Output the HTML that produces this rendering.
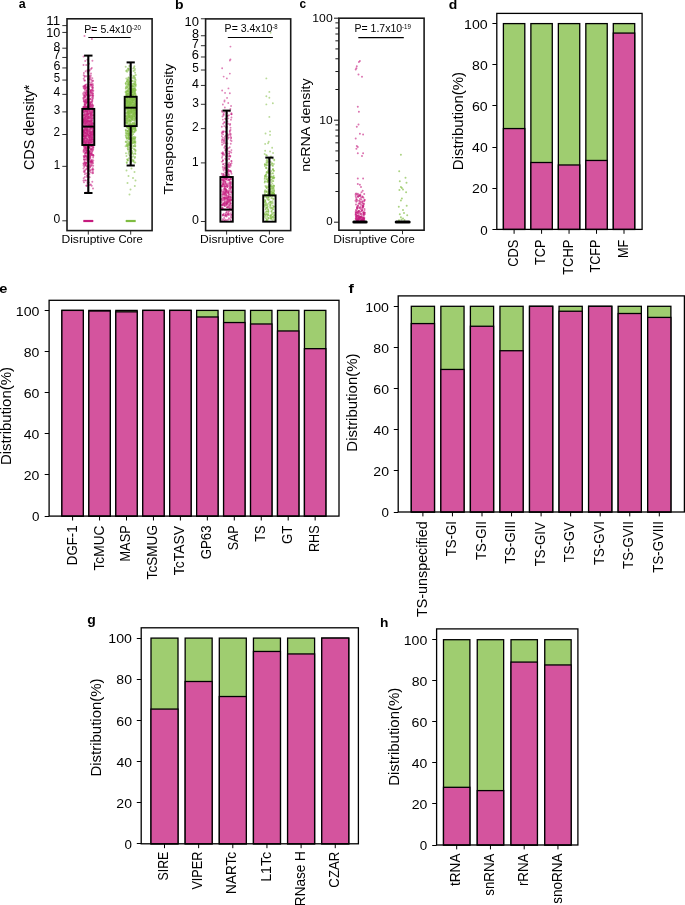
<!DOCTYPE html>
<html><head><meta charset="utf-8"><style>
html,body{margin:0;padding:0;background:#fff;width:685px;height:905px;overflow:hidden}
svg{display:block;will-change:transform}
text{font-family:"Liberation Sans",sans-serif}
</style></head><body>
<svg width="685" height="905" viewBox="0 0 685 905">
<rect width="685" height="905" fill="#fff"/>
<path d="M83.6 127.3a1.0 1.0 0 1 0 2.0 0a1.0 1.0 0 1 0 -2.0 0M88.5 142.1a1.0 1.0 0 1 0 2.0 0a1.0 1.0 0 1 0 -2.0 0M89.8 145.2a1.0 1.0 0 1 0 2.0 0a1.0 1.0 0 1 0 -2.0 0M85.3 122.3a1.0 1.0 0 1 0 2.0 0a1.0 1.0 0 1 0 -2.0 0M89.8 75.4a1.0 1.0 0 1 0 2.0 0a1.0 1.0 0 1 0 -2.0 0M89.5 151.1a1.0 1.0 0 1 0 2.0 0a1.0 1.0 0 1 0 -2.0 0M87.8 141.4a1.0 1.0 0 1 0 2.0 0a1.0 1.0 0 1 0 -2.0 0M85.4 156.7a1.0 1.0 0 1 0 2.0 0a1.0 1.0 0 1 0 -2.0 0M83.2 141.0a1.0 1.0 0 1 0 2.0 0a1.0 1.0 0 1 0 -2.0 0M85.1 152.8a1.0 1.0 0 1 0 2.0 0a1.0 1.0 0 1 0 -2.0 0M82.8 119.8a1.0 1.0 0 1 0 2.0 0a1.0 1.0 0 1 0 -2.0 0M88.3 142.9a1.0 1.0 0 1 0 2.0 0a1.0 1.0 0 1 0 -2.0 0M88.1 121.7a1.0 1.0 0 1 0 2.0 0a1.0 1.0 0 1 0 -2.0 0M86.8 139.2a1.0 1.0 0 1 0 2.0 0a1.0 1.0 0 1 0 -2.0 0M89.3 162.3a1.0 1.0 0 1 0 2.0 0a1.0 1.0 0 1 0 -2.0 0M86.5 182.2a1.0 1.0 0 1 0 2.0 0a1.0 1.0 0 1 0 -2.0 0M85.2 106.6a1.0 1.0 0 1 0 2.0 0a1.0 1.0 0 1 0 -2.0 0M89.8 134.9a1.0 1.0 0 1 0 2.0 0a1.0 1.0 0 1 0 -2.0 0M82.5 121.3a1.0 1.0 0 1 0 2.0 0a1.0 1.0 0 1 0 -2.0 0M86.9 114.2a1.0 1.0 0 1 0 2.0 0a1.0 1.0 0 1 0 -2.0 0M83.5 104.4a1.0 1.0 0 1 0 2.0 0a1.0 1.0 0 1 0 -2.0 0M87.7 151.7a1.0 1.0 0 1 0 2.0 0a1.0 1.0 0 1 0 -2.0 0M87.7 110.7a1.0 1.0 0 1 0 2.0 0a1.0 1.0 0 1 0 -2.0 0M84.8 123.4a1.0 1.0 0 1 0 2.0 0a1.0 1.0 0 1 0 -2.0 0M86.6 123.9a1.0 1.0 0 1 0 2.0 0a1.0 1.0 0 1 0 -2.0 0M88.6 156.3a1.0 1.0 0 1 0 2.0 0a1.0 1.0 0 1 0 -2.0 0M83.9 176.9a1.0 1.0 0 1 0 2.0 0a1.0 1.0 0 1 0 -2.0 0M90.3 141.3a1.0 1.0 0 1 0 2.0 0a1.0 1.0 0 1 0 -2.0 0M84.8 129.9a1.0 1.0 0 1 0 2.0 0a1.0 1.0 0 1 0 -2.0 0M87.9 129.0a1.0 1.0 0 1 0 2.0 0a1.0 1.0 0 1 0 -2.0 0M84.5 142.4a1.0 1.0 0 1 0 2.0 0a1.0 1.0 0 1 0 -2.0 0M86.9 111.4a1.0 1.0 0 1 0 2.0 0a1.0 1.0 0 1 0 -2.0 0M86.8 127.6a1.0 1.0 0 1 0 2.0 0a1.0 1.0 0 1 0 -2.0 0M90.4 139.6a1.0 1.0 0 1 0 2.0 0a1.0 1.0 0 1 0 -2.0 0M86.2 133.6a1.0 1.0 0 1 0 2.0 0a1.0 1.0 0 1 0 -2.0 0M86.8 101.4a1.0 1.0 0 1 0 2.0 0a1.0 1.0 0 1 0 -2.0 0M90.3 152.9a1.0 1.0 0 1 0 2.0 0a1.0 1.0 0 1 0 -2.0 0M82.5 64.9a1.0 1.0 0 1 0 2.0 0a1.0 1.0 0 1 0 -2.0 0M91.0 101.4a1.0 1.0 0 1 0 2.0 0a1.0 1.0 0 1 0 -2.0 0M89.8 75.7a1.0 1.0 0 1 0 2.0 0a1.0 1.0 0 1 0 -2.0 0M85.2 103.5a1.0 1.0 0 1 0 2.0 0a1.0 1.0 0 1 0 -2.0 0M88.4 174.0a1.0 1.0 0 1 0 2.0 0a1.0 1.0 0 1 0 -2.0 0M85.5 116.1a1.0 1.0 0 1 0 2.0 0a1.0 1.0 0 1 0 -2.0 0M89.6 161.2a1.0 1.0 0 1 0 2.0 0a1.0 1.0 0 1 0 -2.0 0M86.6 126.0a1.0 1.0 0 1 0 2.0 0a1.0 1.0 0 1 0 -2.0 0M83.0 114.9a1.0 1.0 0 1 0 2.0 0a1.0 1.0 0 1 0 -2.0 0M91.6 127.6a1.0 1.0 0 1 0 2.0 0a1.0 1.0 0 1 0 -2.0 0M91.5 141.3a1.0 1.0 0 1 0 2.0 0a1.0 1.0 0 1 0 -2.0 0M92.1 135.8a1.0 1.0 0 1 0 2.0 0a1.0 1.0 0 1 0 -2.0 0M85.2 163.1a1.0 1.0 0 1 0 2.0 0a1.0 1.0 0 1 0 -2.0 0M84.0 96.0a1.0 1.0 0 1 0 2.0 0a1.0 1.0 0 1 0 -2.0 0M91.3 78.3a1.0 1.0 0 1 0 2.0 0a1.0 1.0 0 1 0 -2.0 0M88.0 131.2a1.0 1.0 0 1 0 2.0 0a1.0 1.0 0 1 0 -2.0 0M87.0 130.0a1.0 1.0 0 1 0 2.0 0a1.0 1.0 0 1 0 -2.0 0M87.3 143.6a1.0 1.0 0 1 0 2.0 0a1.0 1.0 0 1 0 -2.0 0M90.7 125.3a1.0 1.0 0 1 0 2.0 0a1.0 1.0 0 1 0 -2.0 0M89.8 131.7a1.0 1.0 0 1 0 2.0 0a1.0 1.0 0 1 0 -2.0 0M85.6 142.0a1.0 1.0 0 1 0 2.0 0a1.0 1.0 0 1 0 -2.0 0M90.9 120.2a1.0 1.0 0 1 0 2.0 0a1.0 1.0 0 1 0 -2.0 0M90.8 68.1a1.0 1.0 0 1 0 2.0 0a1.0 1.0 0 1 0 -2.0 0M83.0 86.6a1.0 1.0 0 1 0 2.0 0a1.0 1.0 0 1 0 -2.0 0M87.2 135.1a1.0 1.0 0 1 0 2.0 0a1.0 1.0 0 1 0 -2.0 0M86.8 174.5a1.0 1.0 0 1 0 2.0 0a1.0 1.0 0 1 0 -2.0 0M88.4 129.7a1.0 1.0 0 1 0 2.0 0a1.0 1.0 0 1 0 -2.0 0M87.4 170.5a1.0 1.0 0 1 0 2.0 0a1.0 1.0 0 1 0 -2.0 0M82.2 136.5a1.0 1.0 0 1 0 2.0 0a1.0 1.0 0 1 0 -2.0 0M88.9 141.4a1.0 1.0 0 1 0 2.0 0a1.0 1.0 0 1 0 -2.0 0M82.7 125.3a1.0 1.0 0 1 0 2.0 0a1.0 1.0 0 1 0 -2.0 0M91.2 123.5a1.0 1.0 0 1 0 2.0 0a1.0 1.0 0 1 0 -2.0 0M86.9 125.4a1.0 1.0 0 1 0 2.0 0a1.0 1.0 0 1 0 -2.0 0M87.7 124.3a1.0 1.0 0 1 0 2.0 0a1.0 1.0 0 1 0 -2.0 0M86.7 113.3a1.0 1.0 0 1 0 2.0 0a1.0 1.0 0 1 0 -2.0 0M84.2 119.0a1.0 1.0 0 1 0 2.0 0a1.0 1.0 0 1 0 -2.0 0M90.5 130.4a1.0 1.0 0 1 0 2.0 0a1.0 1.0 0 1 0 -2.0 0M86.3 116.8a1.0 1.0 0 1 0 2.0 0a1.0 1.0 0 1 0 -2.0 0M82.2 142.2a1.0 1.0 0 1 0 2.0 0a1.0 1.0 0 1 0 -2.0 0M83.0 121.2a1.0 1.0 0 1 0 2.0 0a1.0 1.0 0 1 0 -2.0 0M86.3 146.3a1.0 1.0 0 1 0 2.0 0a1.0 1.0 0 1 0 -2.0 0M85.8 148.1a1.0 1.0 0 1 0 2.0 0a1.0 1.0 0 1 0 -2.0 0M85.7 115.3a1.0 1.0 0 1 0 2.0 0a1.0 1.0 0 1 0 -2.0 0M92.3 155.4a1.0 1.0 0 1 0 2.0 0a1.0 1.0 0 1 0 -2.0 0M87.0 132.3a1.0 1.0 0 1 0 2.0 0a1.0 1.0 0 1 0 -2.0 0M84.0 133.1a1.0 1.0 0 1 0 2.0 0a1.0 1.0 0 1 0 -2.0 0M83.1 106.6a1.0 1.0 0 1 0 2.0 0a1.0 1.0 0 1 0 -2.0 0M86.3 123.4a1.0 1.0 0 1 0 2.0 0a1.0 1.0 0 1 0 -2.0 0M84.0 105.7a1.0 1.0 0 1 0 2.0 0a1.0 1.0 0 1 0 -2.0 0M90.3 149.4a1.0 1.0 0 1 0 2.0 0a1.0 1.0 0 1 0 -2.0 0M82.8 131.5a1.0 1.0 0 1 0 2.0 0a1.0 1.0 0 1 0 -2.0 0M83.5 140.1a1.0 1.0 0 1 0 2.0 0a1.0 1.0 0 1 0 -2.0 0M86.4 130.5a1.0 1.0 0 1 0 2.0 0a1.0 1.0 0 1 0 -2.0 0M89.6 127.6a1.0 1.0 0 1 0 2.0 0a1.0 1.0 0 1 0 -2.0 0M86.9 116.6a1.0 1.0 0 1 0 2.0 0a1.0 1.0 0 1 0 -2.0 0M90.4 141.7a1.0 1.0 0 1 0 2.0 0a1.0 1.0 0 1 0 -2.0 0M85.7 94.3a1.0 1.0 0 1 0 2.0 0a1.0 1.0 0 1 0 -2.0 0M82.4 122.5a1.0 1.0 0 1 0 2.0 0a1.0 1.0 0 1 0 -2.0 0M85.0 147.6a1.0 1.0 0 1 0 2.0 0a1.0 1.0 0 1 0 -2.0 0M88.0 169.2a1.0 1.0 0 1 0 2.0 0a1.0 1.0 0 1 0 -2.0 0M91.2 139.7a1.0 1.0 0 1 0 2.0 0a1.0 1.0 0 1 0 -2.0 0M84.3 129.5a1.0 1.0 0 1 0 2.0 0a1.0 1.0 0 1 0 -2.0 0M89.6 135.9a1.0 1.0 0 1 0 2.0 0a1.0 1.0 0 1 0 -2.0 0M87.0 127.9a1.0 1.0 0 1 0 2.0 0a1.0 1.0 0 1 0 -2.0 0M83.5 161.9a1.0 1.0 0 1 0 2.0 0a1.0 1.0 0 1 0 -2.0 0M91.9 130.5a1.0 1.0 0 1 0 2.0 0a1.0 1.0 0 1 0 -2.0 0M91.3 123.2a1.0 1.0 0 1 0 2.0 0a1.0 1.0 0 1 0 -2.0 0M85.2 141.0a1.0 1.0 0 1 0 2.0 0a1.0 1.0 0 1 0 -2.0 0M84.0 123.7a1.0 1.0 0 1 0 2.0 0a1.0 1.0 0 1 0 -2.0 0M89.1 166.7a1.0 1.0 0 1 0 2.0 0a1.0 1.0 0 1 0 -2.0 0M86.5 159.7a1.0 1.0 0 1 0 2.0 0a1.0 1.0 0 1 0 -2.0 0M86.6 91.9a1.0 1.0 0 1 0 2.0 0a1.0 1.0 0 1 0 -2.0 0M88.5 97.0a1.0 1.0 0 1 0 2.0 0a1.0 1.0 0 1 0 -2.0 0M83.4 129.0a1.0 1.0 0 1 0 2.0 0a1.0 1.0 0 1 0 -2.0 0M89.9 115.9a1.0 1.0 0 1 0 2.0 0a1.0 1.0 0 1 0 -2.0 0M85.1 164.6a1.0 1.0 0 1 0 2.0 0a1.0 1.0 0 1 0 -2.0 0M90.5 118.1a1.0 1.0 0 1 0 2.0 0a1.0 1.0 0 1 0 -2.0 0M89.9 149.6a1.0 1.0 0 1 0 2.0 0a1.0 1.0 0 1 0 -2.0 0M86.4 182.9a1.0 1.0 0 1 0 2.0 0a1.0 1.0 0 1 0 -2.0 0M86.4 135.4a1.0 1.0 0 1 0 2.0 0a1.0 1.0 0 1 0 -2.0 0M90.2 107.3a1.0 1.0 0 1 0 2.0 0a1.0 1.0 0 1 0 -2.0 0M86.9 122.3a1.0 1.0 0 1 0 2.0 0a1.0 1.0 0 1 0 -2.0 0M87.5 159.6a1.0 1.0 0 1 0 2.0 0a1.0 1.0 0 1 0 -2.0 0M87.3 117.9a1.0 1.0 0 1 0 2.0 0a1.0 1.0 0 1 0 -2.0 0M88.0 121.7a1.0 1.0 0 1 0 2.0 0a1.0 1.0 0 1 0 -2.0 0M91.5 110.4a1.0 1.0 0 1 0 2.0 0a1.0 1.0 0 1 0 -2.0 0M86.2 113.9a1.0 1.0 0 1 0 2.0 0a1.0 1.0 0 1 0 -2.0 0M87.6 132.4a1.0 1.0 0 1 0 2.0 0a1.0 1.0 0 1 0 -2.0 0M87.6 132.5a1.0 1.0 0 1 0 2.0 0a1.0 1.0 0 1 0 -2.0 0M89.0 102.5a1.0 1.0 0 1 0 2.0 0a1.0 1.0 0 1 0 -2.0 0M84.4 145.5a1.0 1.0 0 1 0 2.0 0a1.0 1.0 0 1 0 -2.0 0M84.1 88.5a1.0 1.0 0 1 0 2.0 0a1.0 1.0 0 1 0 -2.0 0M92.3 160.6a1.0 1.0 0 1 0 2.0 0a1.0 1.0 0 1 0 -2.0 0M83.0 118.1a1.0 1.0 0 1 0 2.0 0a1.0 1.0 0 1 0 -2.0 0M90.2 89.7a1.0 1.0 0 1 0 2.0 0a1.0 1.0 0 1 0 -2.0 0M90.4 134.0a1.0 1.0 0 1 0 2.0 0a1.0 1.0 0 1 0 -2.0 0M83.2 145.7a1.0 1.0 0 1 0 2.0 0a1.0 1.0 0 1 0 -2.0 0M90.7 102.1a1.0 1.0 0 1 0 2.0 0a1.0 1.0 0 1 0 -2.0 0M83.1 140.3a1.0 1.0 0 1 0 2.0 0a1.0 1.0 0 1 0 -2.0 0M83.2 96.7a1.0 1.0 0 1 0 2.0 0a1.0 1.0 0 1 0 -2.0 0M89.8 133.6a1.0 1.0 0 1 0 2.0 0a1.0 1.0 0 1 0 -2.0 0M86.7 172.9a1.0 1.0 0 1 0 2.0 0a1.0 1.0 0 1 0 -2.0 0M82.9 119.7a1.0 1.0 0 1 0 2.0 0a1.0 1.0 0 1 0 -2.0 0M84.0 102.1a1.0 1.0 0 1 0 2.0 0a1.0 1.0 0 1 0 -2.0 0M88.0 152.0a1.0 1.0 0 1 0 2.0 0a1.0 1.0 0 1 0 -2.0 0M92.1 141.0a1.0 1.0 0 1 0 2.0 0a1.0 1.0 0 1 0 -2.0 0M85.0 133.7a1.0 1.0 0 1 0 2.0 0a1.0 1.0 0 1 0 -2.0 0M84.3 86.8a1.0 1.0 0 1 0 2.0 0a1.0 1.0 0 1 0 -2.0 0M88.4 125.1a1.0 1.0 0 1 0 2.0 0a1.0 1.0 0 1 0 -2.0 0M87.2 71.2a1.0 1.0 0 1 0 2.0 0a1.0 1.0 0 1 0 -2.0 0M84.2 169.9a1.0 1.0 0 1 0 2.0 0a1.0 1.0 0 1 0 -2.0 0M89.5 90.4a1.0 1.0 0 1 0 2.0 0a1.0 1.0 0 1 0 -2.0 0M84.1 163.1a1.0 1.0 0 1 0 2.0 0a1.0 1.0 0 1 0 -2.0 0M92.1 128.0a1.0 1.0 0 1 0 2.0 0a1.0 1.0 0 1 0 -2.0 0M86.9 87.8a1.0 1.0 0 1 0 2.0 0a1.0 1.0 0 1 0 -2.0 0M85.7 150.3a1.0 1.0 0 1 0 2.0 0a1.0 1.0 0 1 0 -2.0 0M83.5 88.9a1.0 1.0 0 1 0 2.0 0a1.0 1.0 0 1 0 -2.0 0M89.7 150.4a1.0 1.0 0 1 0 2.0 0a1.0 1.0 0 1 0 -2.0 0M86.6 106.4a1.0 1.0 0 1 0 2.0 0a1.0 1.0 0 1 0 -2.0 0M86.7 121.8a1.0 1.0 0 1 0 2.0 0a1.0 1.0 0 1 0 -2.0 0M88.5 106.7a1.0 1.0 0 1 0 2.0 0a1.0 1.0 0 1 0 -2.0 0M87.6 101.6a1.0 1.0 0 1 0 2.0 0a1.0 1.0 0 1 0 -2.0 0M83.6 157.2a1.0 1.0 0 1 0 2.0 0a1.0 1.0 0 1 0 -2.0 0M88.6 140.5a1.0 1.0 0 1 0 2.0 0a1.0 1.0 0 1 0 -2.0 0M83.7 138.4a1.0 1.0 0 1 0 2.0 0a1.0 1.0 0 1 0 -2.0 0M83.9 136.4a1.0 1.0 0 1 0 2.0 0a1.0 1.0 0 1 0 -2.0 0M85.7 124.5a1.0 1.0 0 1 0 2.0 0a1.0 1.0 0 1 0 -2.0 0M83.9 142.1a1.0 1.0 0 1 0 2.0 0a1.0 1.0 0 1 0 -2.0 0M89.1 124.9a1.0 1.0 0 1 0 2.0 0a1.0 1.0 0 1 0 -2.0 0M86.1 130.3a1.0 1.0 0 1 0 2.0 0a1.0 1.0 0 1 0 -2.0 0M92.2 165.8a1.0 1.0 0 1 0 2.0 0a1.0 1.0 0 1 0 -2.0 0M91.8 169.7a1.0 1.0 0 1 0 2.0 0a1.0 1.0 0 1 0 -2.0 0M90.2 142.5a1.0 1.0 0 1 0 2.0 0a1.0 1.0 0 1 0 -2.0 0M82.4 125.8a1.0 1.0 0 1 0 2.0 0a1.0 1.0 0 1 0 -2.0 0M92.1 137.3a1.0 1.0 0 1 0 2.0 0a1.0 1.0 0 1 0 -2.0 0M85.6 122.1a1.0 1.0 0 1 0 2.0 0a1.0 1.0 0 1 0 -2.0 0M88.7 177.2a1.0 1.0 0 1 0 2.0 0a1.0 1.0 0 1 0 -2.0 0M87.6 147.6a1.0 1.0 0 1 0 2.0 0a1.0 1.0 0 1 0 -2.0 0M86.1 111.9a1.0 1.0 0 1 0 2.0 0a1.0 1.0 0 1 0 -2.0 0M87.8 141.4a1.0 1.0 0 1 0 2.0 0a1.0 1.0 0 1 0 -2.0 0M87.8 121.8a1.0 1.0 0 1 0 2.0 0a1.0 1.0 0 1 0 -2.0 0M86.8 173.0a1.0 1.0 0 1 0 2.0 0a1.0 1.0 0 1 0 -2.0 0M88.5 133.1a1.0 1.0 0 1 0 2.0 0a1.0 1.0 0 1 0 -2.0 0M92.0 115.0a1.0 1.0 0 1 0 2.0 0a1.0 1.0 0 1 0 -2.0 0M89.4 127.2a1.0 1.0 0 1 0 2.0 0a1.0 1.0 0 1 0 -2.0 0M87.1 122.5a1.0 1.0 0 1 0 2.0 0a1.0 1.0 0 1 0 -2.0 0M91.6 98.9a1.0 1.0 0 1 0 2.0 0a1.0 1.0 0 1 0 -2.0 0M91.3 29.7a1.0 1.0 0 1 0 2.0 0a1.0 1.0 0 1 0 -2.0 0" fill="#c51b7d" fill-opacity="0.55"/>
<path d="M82.8 163.9a1.0 1.0 0 1 0 2.0 0a1.0 1.0 0 1 0 -2.0 0M90.2 124.9a1.0 1.0 0 1 0 2.0 0a1.0 1.0 0 1 0 -2.0 0M90.5 122.8a1.0 1.0 0 1 0 2.0 0a1.0 1.0 0 1 0 -2.0 0M83.6 145.3a1.0 1.0 0 1 0 2.0 0a1.0 1.0 0 1 0 -2.0 0M91.5 104.8a1.0 1.0 0 1 0 2.0 0a1.0 1.0 0 1 0 -2.0 0M84.8 120.2a1.0 1.0 0 1 0 2.0 0a1.0 1.0 0 1 0 -2.0 0M88.2 155.2a1.0 1.0 0 1 0 2.0 0a1.0 1.0 0 1 0 -2.0 0M85.7 92.3a1.0 1.0 0 1 0 2.0 0a1.0 1.0 0 1 0 -2.0 0M89.4 106.8a1.0 1.0 0 1 0 2.0 0a1.0 1.0 0 1 0 -2.0 0M89.8 91.1a1.0 1.0 0 1 0 2.0 0a1.0 1.0 0 1 0 -2.0 0M88.3 148.0a1.0 1.0 0 1 0 2.0 0a1.0 1.0 0 1 0 -2.0 0M84.3 123.6a1.0 1.0 0 1 0 2.0 0a1.0 1.0 0 1 0 -2.0 0M84.4 143.8a1.0 1.0 0 1 0 2.0 0a1.0 1.0 0 1 0 -2.0 0M89.5 123.9a1.0 1.0 0 1 0 2.0 0a1.0 1.0 0 1 0 -2.0 0M91.8 83.9a1.0 1.0 0 1 0 2.0 0a1.0 1.0 0 1 0 -2.0 0M89.3 79.2a1.0 1.0 0 1 0 2.0 0a1.0 1.0 0 1 0 -2.0 0M90.5 134.6a1.0 1.0 0 1 0 2.0 0a1.0 1.0 0 1 0 -2.0 0M91.0 123.9a1.0 1.0 0 1 0 2.0 0a1.0 1.0 0 1 0 -2.0 0M91.7 88.2a1.0 1.0 0 1 0 2.0 0a1.0 1.0 0 1 0 -2.0 0M83.4 88.0a1.0 1.0 0 1 0 2.0 0a1.0 1.0 0 1 0 -2.0 0M85.7 119.2a1.0 1.0 0 1 0 2.0 0a1.0 1.0 0 1 0 -2.0 0M84.8 115.3a1.0 1.0 0 1 0 2.0 0a1.0 1.0 0 1 0 -2.0 0M83.7 142.4a1.0 1.0 0 1 0 2.0 0a1.0 1.0 0 1 0 -2.0 0M86.1 107.9a1.0 1.0 0 1 0 2.0 0a1.0 1.0 0 1 0 -2.0 0M89.2 133.3a1.0 1.0 0 1 0 2.0 0a1.0 1.0 0 1 0 -2.0 0M87.8 142.3a1.0 1.0 0 1 0 2.0 0a1.0 1.0 0 1 0 -2.0 0M88.9 185.1a1.0 1.0 0 1 0 2.0 0a1.0 1.0 0 1 0 -2.0 0M86.5 132.0a1.0 1.0 0 1 0 2.0 0a1.0 1.0 0 1 0 -2.0 0M86.3 114.0a1.0 1.0 0 1 0 2.0 0a1.0 1.0 0 1 0 -2.0 0M90.1 114.5a1.0 1.0 0 1 0 2.0 0a1.0 1.0 0 1 0 -2.0 0M84.2 91.1a1.0 1.0 0 1 0 2.0 0a1.0 1.0 0 1 0 -2.0 0M82.5 134.4a1.0 1.0 0 1 0 2.0 0a1.0 1.0 0 1 0 -2.0 0M89.1 95.4a1.0 1.0 0 1 0 2.0 0a1.0 1.0 0 1 0 -2.0 0M86.7 141.4a1.0 1.0 0 1 0 2.0 0a1.0 1.0 0 1 0 -2.0 0M88.7 152.6a1.0 1.0 0 1 0 2.0 0a1.0 1.0 0 1 0 -2.0 0M84.5 148.2a1.0 1.0 0 1 0 2.0 0a1.0 1.0 0 1 0 -2.0 0M90.1 112.7a1.0 1.0 0 1 0 2.0 0a1.0 1.0 0 1 0 -2.0 0M91.4 131.7a1.0 1.0 0 1 0 2.0 0a1.0 1.0 0 1 0 -2.0 0M90.4 149.2a1.0 1.0 0 1 0 2.0 0a1.0 1.0 0 1 0 -2.0 0M82.6 130.5a1.0 1.0 0 1 0 2.0 0a1.0 1.0 0 1 0 -2.0 0M91.1 87.2a1.0 1.0 0 1 0 2.0 0a1.0 1.0 0 1 0 -2.0 0M85.8 115.3a1.0 1.0 0 1 0 2.0 0a1.0 1.0 0 1 0 -2.0 0M84.8 146.8a1.0 1.0 0 1 0 2.0 0a1.0 1.0 0 1 0 -2.0 0M83.4 136.6a1.0 1.0 0 1 0 2.0 0a1.0 1.0 0 1 0 -2.0 0M86.8 94.7a1.0 1.0 0 1 0 2.0 0a1.0 1.0 0 1 0 -2.0 0M88.2 75.9a1.0 1.0 0 1 0 2.0 0a1.0 1.0 0 1 0 -2.0 0M88.5 139.4a1.0 1.0 0 1 0 2.0 0a1.0 1.0 0 1 0 -2.0 0M82.7 98.3a1.0 1.0 0 1 0 2.0 0a1.0 1.0 0 1 0 -2.0 0M90.1 113.6a1.0 1.0 0 1 0 2.0 0a1.0 1.0 0 1 0 -2.0 0M88.9 112.8a1.0 1.0 0 1 0 2.0 0a1.0 1.0 0 1 0 -2.0 0M90.9 137.4a1.0 1.0 0 1 0 2.0 0a1.0 1.0 0 1 0 -2.0 0M87.0 95.9a1.0 1.0 0 1 0 2.0 0a1.0 1.0 0 1 0 -2.0 0M90.2 106.1a1.0 1.0 0 1 0 2.0 0a1.0 1.0 0 1 0 -2.0 0M88.5 106.3a1.0 1.0 0 1 0 2.0 0a1.0 1.0 0 1 0 -2.0 0M88.6 121.8a1.0 1.0 0 1 0 2.0 0a1.0 1.0 0 1 0 -2.0 0M88.9 135.8a1.0 1.0 0 1 0 2.0 0a1.0 1.0 0 1 0 -2.0 0M88.9 124.3a1.0 1.0 0 1 0 2.0 0a1.0 1.0 0 1 0 -2.0 0M89.7 120.7a1.0 1.0 0 1 0 2.0 0a1.0 1.0 0 1 0 -2.0 0M82.7 141.1a1.0 1.0 0 1 0 2.0 0a1.0 1.0 0 1 0 -2.0 0M90.3 142.1a1.0 1.0 0 1 0 2.0 0a1.0 1.0 0 1 0 -2.0 0M83.1 138.8a1.0 1.0 0 1 0 2.0 0a1.0 1.0 0 1 0 -2.0 0M90.4 126.0a1.0 1.0 0 1 0 2.0 0a1.0 1.0 0 1 0 -2.0 0M86.1 123.7a1.0 1.0 0 1 0 2.0 0a1.0 1.0 0 1 0 -2.0 0M86.2 133.5a1.0 1.0 0 1 0 2.0 0a1.0 1.0 0 1 0 -2.0 0M88.0 63.8a1.0 1.0 0 1 0 2.0 0a1.0 1.0 0 1 0 -2.0 0M86.3 169.5a1.0 1.0 0 1 0 2.0 0a1.0 1.0 0 1 0 -2.0 0M88.9 120.9a1.0 1.0 0 1 0 2.0 0a1.0 1.0 0 1 0 -2.0 0M91.5 112.3a1.0 1.0 0 1 0 2.0 0a1.0 1.0 0 1 0 -2.0 0M92.2 115.3a1.0 1.0 0 1 0 2.0 0a1.0 1.0 0 1 0 -2.0 0M83.9 88.8a1.0 1.0 0 1 0 2.0 0a1.0 1.0 0 1 0 -2.0 0M88.7 82.3a1.0 1.0 0 1 0 2.0 0a1.0 1.0 0 1 0 -2.0 0M89.1 121.7a1.0 1.0 0 1 0 2.0 0a1.0 1.0 0 1 0 -2.0 0M90.5 86.2a1.0 1.0 0 1 0 2.0 0a1.0 1.0 0 1 0 -2.0 0M90.0 155.3a1.0 1.0 0 1 0 2.0 0a1.0 1.0 0 1 0 -2.0 0M91.7 118.2a1.0 1.0 0 1 0 2.0 0a1.0 1.0 0 1 0 -2.0 0M88.6 76.3a1.0 1.0 0 1 0 2.0 0a1.0 1.0 0 1 0 -2.0 0M86.4 59.7a1.0 1.0 0 1 0 2.0 0a1.0 1.0 0 1 0 -2.0 0M87.6 85.3a1.0 1.0 0 1 0 2.0 0a1.0 1.0 0 1 0 -2.0 0M92.0 85.5a1.0 1.0 0 1 0 2.0 0a1.0 1.0 0 1 0 -2.0 0M84.6 71.2a1.0 1.0 0 1 0 2.0 0a1.0 1.0 0 1 0 -2.0 0M88.2 106.8a1.0 1.0 0 1 0 2.0 0a1.0 1.0 0 1 0 -2.0 0M87.4 115.9a1.0 1.0 0 1 0 2.0 0a1.0 1.0 0 1 0 -2.0 0M88.0 99.1a1.0 1.0 0 1 0 2.0 0a1.0 1.0 0 1 0 -2.0 0M91.2 146.7a1.0 1.0 0 1 0 2.0 0a1.0 1.0 0 1 0 -2.0 0M90.7 139.4a1.0 1.0 0 1 0 2.0 0a1.0 1.0 0 1 0 -2.0 0M89.5 122.0a1.0 1.0 0 1 0 2.0 0a1.0 1.0 0 1 0 -2.0 0M87.0 85.1a1.0 1.0 0 1 0 2.0 0a1.0 1.0 0 1 0 -2.0 0M85.0 125.8a1.0 1.0 0 1 0 2.0 0a1.0 1.0 0 1 0 -2.0 0M85.1 135.8a1.0 1.0 0 1 0 2.0 0a1.0 1.0 0 1 0 -2.0 0M85.6 90.6a1.0 1.0 0 1 0 2.0 0a1.0 1.0 0 1 0 -2.0 0M85.8 120.8a1.0 1.0 0 1 0 2.0 0a1.0 1.0 0 1 0 -2.0 0M82.3 110.2a1.0 1.0 0 1 0 2.0 0a1.0 1.0 0 1 0 -2.0 0M87.5 83.9a1.0 1.0 0 1 0 2.0 0a1.0 1.0 0 1 0 -2.0 0M86.8 102.0a1.0 1.0 0 1 0 2.0 0a1.0 1.0 0 1 0 -2.0 0M91.3 161.6a1.0 1.0 0 1 0 2.0 0a1.0 1.0 0 1 0 -2.0 0M92.2 95.8a1.0 1.0 0 1 0 2.0 0a1.0 1.0 0 1 0 -2.0 0M92.2 105.4a1.0 1.0 0 1 0 2.0 0a1.0 1.0 0 1 0 -2.0 0M88.5 79.0a1.0 1.0 0 1 0 2.0 0a1.0 1.0 0 1 0 -2.0 0M84.3 117.8a1.0 1.0 0 1 0 2.0 0a1.0 1.0 0 1 0 -2.0 0M84.6 88.6a1.0 1.0 0 1 0 2.0 0a1.0 1.0 0 1 0 -2.0 0M88.4 122.1a1.0 1.0 0 1 0 2.0 0a1.0 1.0 0 1 0 -2.0 0M82.4 151.0a1.0 1.0 0 1 0 2.0 0a1.0 1.0 0 1 0 -2.0 0M86.4 97.9a1.0 1.0 0 1 0 2.0 0a1.0 1.0 0 1 0 -2.0 0M82.9 121.4a1.0 1.0 0 1 0 2.0 0a1.0 1.0 0 1 0 -2.0 0M85.6 139.4a1.0 1.0 0 1 0 2.0 0a1.0 1.0 0 1 0 -2.0 0M86.8 109.0a1.0 1.0 0 1 0 2.0 0a1.0 1.0 0 1 0 -2.0 0M86.8 71.2a1.0 1.0 0 1 0 2.0 0a1.0 1.0 0 1 0 -2.0 0M84.9 120.5a1.0 1.0 0 1 0 2.0 0a1.0 1.0 0 1 0 -2.0 0M86.1 157.2a1.0 1.0 0 1 0 2.0 0a1.0 1.0 0 1 0 -2.0 0M92.2 149.7a1.0 1.0 0 1 0 2.0 0a1.0 1.0 0 1 0 -2.0 0M89.7 114.9a1.0 1.0 0 1 0 2.0 0a1.0 1.0 0 1 0 -2.0 0M85.2 145.1a1.0 1.0 0 1 0 2.0 0a1.0 1.0 0 1 0 -2.0 0M83.7 172.3a1.0 1.0 0 1 0 2.0 0a1.0 1.0 0 1 0 -2.0 0M92.3 169.4a1.0 1.0 0 1 0 2.0 0a1.0 1.0 0 1 0 -2.0 0M91.2 150.6a1.0 1.0 0 1 0 2.0 0a1.0 1.0 0 1 0 -2.0 0M90.8 126.7a1.0 1.0 0 1 0 2.0 0a1.0 1.0 0 1 0 -2.0 0M84.8 123.0a1.0 1.0 0 1 0 2.0 0a1.0 1.0 0 1 0 -2.0 0M86.5 111.2a1.0 1.0 0 1 0 2.0 0a1.0 1.0 0 1 0 -2.0 0M88.0 88.7a1.0 1.0 0 1 0 2.0 0a1.0 1.0 0 1 0 -2.0 0M84.2 164.7a1.0 1.0 0 1 0 2.0 0a1.0 1.0 0 1 0 -2.0 0M82.7 178.2a1.0 1.0 0 1 0 2.0 0a1.0 1.0 0 1 0 -2.0 0M89.9 112.8a1.0 1.0 0 1 0 2.0 0a1.0 1.0 0 1 0 -2.0 0M84.8 107.1a1.0 1.0 0 1 0 2.0 0a1.0 1.0 0 1 0 -2.0 0M89.2 153.1a1.0 1.0 0 1 0 2.0 0a1.0 1.0 0 1 0 -2.0 0M88.4 77.5a1.0 1.0 0 1 0 2.0 0a1.0 1.0 0 1 0 -2.0 0M84.3 127.6a1.0 1.0 0 1 0 2.0 0a1.0 1.0 0 1 0 -2.0 0M89.5 164.0a1.0 1.0 0 1 0 2.0 0a1.0 1.0 0 1 0 -2.0 0M86.3 106.7a1.0 1.0 0 1 0 2.0 0a1.0 1.0 0 1 0 -2.0 0M89.0 134.9a1.0 1.0 0 1 0 2.0 0a1.0 1.0 0 1 0 -2.0 0M88.3 158.5a1.0 1.0 0 1 0 2.0 0a1.0 1.0 0 1 0 -2.0 0M88.7 104.9a1.0 1.0 0 1 0 2.0 0a1.0 1.0 0 1 0 -2.0 0M86.9 176.5a1.0 1.0 0 1 0 2.0 0a1.0 1.0 0 1 0 -2.0 0M86.1 90.9a1.0 1.0 0 1 0 2.0 0a1.0 1.0 0 1 0 -2.0 0M92.3 133.6a1.0 1.0 0 1 0 2.0 0a1.0 1.0 0 1 0 -2.0 0M83.4 113.7a1.0 1.0 0 1 0 2.0 0a1.0 1.0 0 1 0 -2.0 0M83.5 139.1a1.0 1.0 0 1 0 2.0 0a1.0 1.0 0 1 0 -2.0 0M85.8 130.2a1.0 1.0 0 1 0 2.0 0a1.0 1.0 0 1 0 -2.0 0M87.7 155.1a1.0 1.0 0 1 0 2.0 0a1.0 1.0 0 1 0 -2.0 0M91.2 135.0a1.0 1.0 0 1 0 2.0 0a1.0 1.0 0 1 0 -2.0 0M92.1 80.8a1.0 1.0 0 1 0 2.0 0a1.0 1.0 0 1 0 -2.0 0M85.1 156.1a1.0 1.0 0 1 0 2.0 0a1.0 1.0 0 1 0 -2.0 0M89.3 133.1a1.0 1.0 0 1 0 2.0 0a1.0 1.0 0 1 0 -2.0 0M90.1 124.2a1.0 1.0 0 1 0 2.0 0a1.0 1.0 0 1 0 -2.0 0M90.3 134.3a1.0 1.0 0 1 0 2.0 0a1.0 1.0 0 1 0 -2.0 0M85.6 127.0a1.0 1.0 0 1 0 2.0 0a1.0 1.0 0 1 0 -2.0 0M88.6 165.3a1.0 1.0 0 1 0 2.0 0a1.0 1.0 0 1 0 -2.0 0M82.4 115.5a1.0 1.0 0 1 0 2.0 0a1.0 1.0 0 1 0 -2.0 0M84.9 149.9a1.0 1.0 0 1 0 2.0 0a1.0 1.0 0 1 0 -2.0 0M85.5 139.8a1.0 1.0 0 1 0 2.0 0a1.0 1.0 0 1 0 -2.0 0M82.8 99.8a1.0 1.0 0 1 0 2.0 0a1.0 1.0 0 1 0 -2.0 0M84.1 109.5a1.0 1.0 0 1 0 2.0 0a1.0 1.0 0 1 0 -2.0 0M87.7 70.4a1.0 1.0 0 1 0 2.0 0a1.0 1.0 0 1 0 -2.0 0M87.0 153.5a1.0 1.0 0 1 0 2.0 0a1.0 1.0 0 1 0 -2.0 0M89.0 151.2a1.0 1.0 0 1 0 2.0 0a1.0 1.0 0 1 0 -2.0 0M88.0 159.9a1.0 1.0 0 1 0 2.0 0a1.0 1.0 0 1 0 -2.0 0M89.6 127.8a1.0 1.0 0 1 0 2.0 0a1.0 1.0 0 1 0 -2.0 0M82.6 152.0a1.0 1.0 0 1 0 2.0 0a1.0 1.0 0 1 0 -2.0 0M90.5 161.7a1.0 1.0 0 1 0 2.0 0a1.0 1.0 0 1 0 -2.0 0M83.6 100.9a1.0 1.0 0 1 0 2.0 0a1.0 1.0 0 1 0 -2.0 0M92.3 123.4a1.0 1.0 0 1 0 2.0 0a1.0 1.0 0 1 0 -2.0 0M87.8 131.6a1.0 1.0 0 1 0 2.0 0a1.0 1.0 0 1 0 -2.0 0M90.6 137.7a1.0 1.0 0 1 0 2.0 0a1.0 1.0 0 1 0 -2.0 0M84.4 122.0a1.0 1.0 0 1 0 2.0 0a1.0 1.0 0 1 0 -2.0 0M85.6 119.5a1.0 1.0 0 1 0 2.0 0a1.0 1.0 0 1 0 -2.0 0M89.5 122.3a1.0 1.0 0 1 0 2.0 0a1.0 1.0 0 1 0 -2.0 0M87.8 80.3a1.0 1.0 0 1 0 2.0 0a1.0 1.0 0 1 0 -2.0 0M91.9 147.2a1.0 1.0 0 1 0 2.0 0a1.0 1.0 0 1 0 -2.0 0M91.5 124.9a1.0 1.0 0 1 0 2.0 0a1.0 1.0 0 1 0 -2.0 0M86.2 168.7a1.0 1.0 0 1 0 2.0 0a1.0 1.0 0 1 0 -2.0 0M85.5 140.4a1.0 1.0 0 1 0 2.0 0a1.0 1.0 0 1 0 -2.0 0M91.2 121.0a1.0 1.0 0 1 0 2.0 0a1.0 1.0 0 1 0 -2.0 0M86.9 123.2a1.0 1.0 0 1 0 2.0 0a1.0 1.0 0 1 0 -2.0 0M86.4 123.9a1.0 1.0 0 1 0 2.0 0a1.0 1.0 0 1 0 -2.0 0M90.5 84.5a1.0 1.0 0 1 0 2.0 0a1.0 1.0 0 1 0 -2.0 0M90.5 161.2a1.0 1.0 0 1 0 2.0 0a1.0 1.0 0 1 0 -2.0 0M87.0 134.3a1.0 1.0 0 1 0 2.0 0a1.0 1.0 0 1 0 -2.0 0M85.0 180.4a1.0 1.0 0 1 0 2.0 0a1.0 1.0 0 1 0 -2.0 0M84.1 90.2a1.0 1.0 0 1 0 2.0 0a1.0 1.0 0 1 0 -2.0 0M85.7 145.6a1.0 1.0 0 1 0 2.0 0a1.0 1.0 0 1 0 -2.0 0M86.5 117.2a1.0 1.0 0 1 0 2.0 0a1.0 1.0 0 1 0 -2.0 0M91.8 109.0a1.0 1.0 0 1 0 2.0 0a1.0 1.0 0 1 0 -2.0 0M85.0 102.1a1.0 1.0 0 1 0 2.0 0a1.0 1.0 0 1 0 -2.0 0M89.2 91.4a1.0 1.0 0 1 0 2.0 0a1.0 1.0 0 1 0 -2.0 0M87.8 117.9a1.0 1.0 0 1 0 2.0 0a1.0 1.0 0 1 0 -2.0 0" fill="#c51b7d" fill-opacity="0.55"/>
<path d="M86.2 160.2a1.0 1.0 0 1 0 2.0 0a1.0 1.0 0 1 0 -2.0 0M92.4 147.0a1.0 1.0 0 1 0 2.0 0a1.0 1.0 0 1 0 -2.0 0M83.0 116.3a1.0 1.0 0 1 0 2.0 0a1.0 1.0 0 1 0 -2.0 0M88.7 103.3a1.0 1.0 0 1 0 2.0 0a1.0 1.0 0 1 0 -2.0 0M89.2 114.0a1.0 1.0 0 1 0 2.0 0a1.0 1.0 0 1 0 -2.0 0M82.3 106.7a1.0 1.0 0 1 0 2.0 0a1.0 1.0 0 1 0 -2.0 0M85.2 120.9a1.0 1.0 0 1 0 2.0 0a1.0 1.0 0 1 0 -2.0 0M91.2 108.8a1.0 1.0 0 1 0 2.0 0a1.0 1.0 0 1 0 -2.0 0M90.9 164.6a1.0 1.0 0 1 0 2.0 0a1.0 1.0 0 1 0 -2.0 0M92.2 143.3a1.0 1.0 0 1 0 2.0 0a1.0 1.0 0 1 0 -2.0 0M83.8 114.7a1.0 1.0 0 1 0 2.0 0a1.0 1.0 0 1 0 -2.0 0M90.0 140.0a1.0 1.0 0 1 0 2.0 0a1.0 1.0 0 1 0 -2.0 0M90.7 161.1a1.0 1.0 0 1 0 2.0 0a1.0 1.0 0 1 0 -2.0 0M85.7 99.7a1.0 1.0 0 1 0 2.0 0a1.0 1.0 0 1 0 -2.0 0M86.4 118.4a1.0 1.0 0 1 0 2.0 0a1.0 1.0 0 1 0 -2.0 0M84.8 111.1a1.0 1.0 0 1 0 2.0 0a1.0 1.0 0 1 0 -2.0 0M91.6 126.0a1.0 1.0 0 1 0 2.0 0a1.0 1.0 0 1 0 -2.0 0M87.1 120.5a1.0 1.0 0 1 0 2.0 0a1.0 1.0 0 1 0 -2.0 0M90.7 163.2a1.0 1.0 0 1 0 2.0 0a1.0 1.0 0 1 0 -2.0 0M85.1 162.9a1.0 1.0 0 1 0 2.0 0a1.0 1.0 0 1 0 -2.0 0M84.1 117.1a1.0 1.0 0 1 0 2.0 0a1.0 1.0 0 1 0 -2.0 0M87.2 135.4a1.0 1.0 0 1 0 2.0 0a1.0 1.0 0 1 0 -2.0 0M92.2 141.4a1.0 1.0 0 1 0 2.0 0a1.0 1.0 0 1 0 -2.0 0M87.1 107.0a1.0 1.0 0 1 0 2.0 0a1.0 1.0 0 1 0 -2.0 0M84.2 117.4a1.0 1.0 0 1 0 2.0 0a1.0 1.0 0 1 0 -2.0 0M92.1 109.3a1.0 1.0 0 1 0 2.0 0a1.0 1.0 0 1 0 -2.0 0M83.9 104.7a1.0 1.0 0 1 0 2.0 0a1.0 1.0 0 1 0 -2.0 0M92.1 131.2a1.0 1.0 0 1 0 2.0 0a1.0 1.0 0 1 0 -2.0 0M91.5 143.5a1.0 1.0 0 1 0 2.0 0a1.0 1.0 0 1 0 -2.0 0M89.9 122.0a1.0 1.0 0 1 0 2.0 0a1.0 1.0 0 1 0 -2.0 0M91.5 150.9a1.0 1.0 0 1 0 2.0 0a1.0 1.0 0 1 0 -2.0 0M92.2 111.2a1.0 1.0 0 1 0 2.0 0a1.0 1.0 0 1 0 -2.0 0M88.9 126.6a1.0 1.0 0 1 0 2.0 0a1.0 1.0 0 1 0 -2.0 0M86.7 87.9a1.0 1.0 0 1 0 2.0 0a1.0 1.0 0 1 0 -2.0 0M83.1 130.8a1.0 1.0 0 1 0 2.0 0a1.0 1.0 0 1 0 -2.0 0M91.7 113.0a1.0 1.0 0 1 0 2.0 0a1.0 1.0 0 1 0 -2.0 0M91.5 145.6a1.0 1.0 0 1 0 2.0 0a1.0 1.0 0 1 0 -2.0 0M86.5 99.1a1.0 1.0 0 1 0 2.0 0a1.0 1.0 0 1 0 -2.0 0M89.8 172.3a1.0 1.0 0 1 0 2.0 0a1.0 1.0 0 1 0 -2.0 0M86.2 138.7a1.0 1.0 0 1 0 2.0 0a1.0 1.0 0 1 0 -2.0 0M84.0 120.5a1.0 1.0 0 1 0 2.0 0a1.0 1.0 0 1 0 -2.0 0M84.2 145.7a1.0 1.0 0 1 0 2.0 0a1.0 1.0 0 1 0 -2.0 0M83.0 182.2a1.0 1.0 0 1 0 2.0 0a1.0 1.0 0 1 0 -2.0 0M88.8 111.4a1.0 1.0 0 1 0 2.0 0a1.0 1.0 0 1 0 -2.0 0M83.4 160.0a1.0 1.0 0 1 0 2.0 0a1.0 1.0 0 1 0 -2.0 0M85.4 108.1a1.0 1.0 0 1 0 2.0 0a1.0 1.0 0 1 0 -2.0 0M82.5 120.8a1.0 1.0 0 1 0 2.0 0a1.0 1.0 0 1 0 -2.0 0M82.5 107.6a1.0 1.0 0 1 0 2.0 0a1.0 1.0 0 1 0 -2.0 0M91.8 134.1a1.0 1.0 0 1 0 2.0 0a1.0 1.0 0 1 0 -2.0 0M85.2 84.4a1.0 1.0 0 1 0 2.0 0a1.0 1.0 0 1 0 -2.0 0M86.9 92.5a1.0 1.0 0 1 0 2.0 0a1.0 1.0 0 1 0 -2.0 0M91.6 139.1a1.0 1.0 0 1 0 2.0 0a1.0 1.0 0 1 0 -2.0 0M85.1 102.4a1.0 1.0 0 1 0 2.0 0a1.0 1.0 0 1 0 -2.0 0M90.0 132.2a1.0 1.0 0 1 0 2.0 0a1.0 1.0 0 1 0 -2.0 0M86.9 179.7a1.0 1.0 0 1 0 2.0 0a1.0 1.0 0 1 0 -2.0 0M89.5 162.1a1.0 1.0 0 1 0 2.0 0a1.0 1.0 0 1 0 -2.0 0M88.3 105.4a1.0 1.0 0 1 0 2.0 0a1.0 1.0 0 1 0 -2.0 0M87.5 155.2a1.0 1.0 0 1 0 2.0 0a1.0 1.0 0 1 0 -2.0 0M89.0 170.8a1.0 1.0 0 1 0 2.0 0a1.0 1.0 0 1 0 -2.0 0M83.3 127.2a1.0 1.0 0 1 0 2.0 0a1.0 1.0 0 1 0 -2.0 0M89.3 114.6a1.0 1.0 0 1 0 2.0 0a1.0 1.0 0 1 0 -2.0 0M86.1 147.3a1.0 1.0 0 1 0 2.0 0a1.0 1.0 0 1 0 -2.0 0M88.9 153.8a1.0 1.0 0 1 0 2.0 0a1.0 1.0 0 1 0 -2.0 0M90.8 143.3a1.0 1.0 0 1 0 2.0 0a1.0 1.0 0 1 0 -2.0 0M83.9 138.5a1.0 1.0 0 1 0 2.0 0a1.0 1.0 0 1 0 -2.0 0M88.5 136.2a1.0 1.0 0 1 0 2.0 0a1.0 1.0 0 1 0 -2.0 0M88.2 104.9a1.0 1.0 0 1 0 2.0 0a1.0 1.0 0 1 0 -2.0 0M85.8 166.5a1.0 1.0 0 1 0 2.0 0a1.0 1.0 0 1 0 -2.0 0M90.6 119.0a1.0 1.0 0 1 0 2.0 0a1.0 1.0 0 1 0 -2.0 0M86.5 131.0a1.0 1.0 0 1 0 2.0 0a1.0 1.0 0 1 0 -2.0 0M88.4 147.0a1.0 1.0 0 1 0 2.0 0a1.0 1.0 0 1 0 -2.0 0M84.5 88.0a1.0 1.0 0 1 0 2.0 0a1.0 1.0 0 1 0 -2.0 0M83.4 117.2a1.0 1.0 0 1 0 2.0 0a1.0 1.0 0 1 0 -2.0 0M82.4 163.6a1.0 1.0 0 1 0 2.0 0a1.0 1.0 0 1 0 -2.0 0M83.3 156.2a1.0 1.0 0 1 0 2.0 0a1.0 1.0 0 1 0 -2.0 0M90.6 125.9a1.0 1.0 0 1 0 2.0 0a1.0 1.0 0 1 0 -2.0 0M90.5 146.1a1.0 1.0 0 1 0 2.0 0a1.0 1.0 0 1 0 -2.0 0M87.7 152.2a1.0 1.0 0 1 0 2.0 0a1.0 1.0 0 1 0 -2.0 0M89.4 129.0a1.0 1.0 0 1 0 2.0 0a1.0 1.0 0 1 0 -2.0 0M82.9 123.6a1.0 1.0 0 1 0 2.0 0a1.0 1.0 0 1 0 -2.0 0M84.2 136.2a1.0 1.0 0 1 0 2.0 0a1.0 1.0 0 1 0 -2.0 0M91.5 93.2a1.0 1.0 0 1 0 2.0 0a1.0 1.0 0 1 0 -2.0 0M86.8 99.5a1.0 1.0 0 1 0 2.0 0a1.0 1.0 0 1 0 -2.0 0M85.9 148.0a1.0 1.0 0 1 0 2.0 0a1.0 1.0 0 1 0 -2.0 0M89.4 125.5a1.0 1.0 0 1 0 2.0 0a1.0 1.0 0 1 0 -2.0 0M91.5 89.8a1.0 1.0 0 1 0 2.0 0a1.0 1.0 0 1 0 -2.0 0M87.9 105.6a1.0 1.0 0 1 0 2.0 0a1.0 1.0 0 1 0 -2.0 0M90.5 139.8a1.0 1.0 0 1 0 2.0 0a1.0 1.0 0 1 0 -2.0 0M84.8 142.3a1.0 1.0 0 1 0 2.0 0a1.0 1.0 0 1 0 -2.0 0M82.9 112.3a1.0 1.0 0 1 0 2.0 0a1.0 1.0 0 1 0 -2.0 0M87.4 156.2a1.0 1.0 0 1 0 2.0 0a1.0 1.0 0 1 0 -2.0 0M82.4 126.2a1.0 1.0 0 1 0 2.0 0a1.0 1.0 0 1 0 -2.0 0M88.8 103.6a1.0 1.0 0 1 0 2.0 0a1.0 1.0 0 1 0 -2.0 0M90.1 121.7a1.0 1.0 0 1 0 2.0 0a1.0 1.0 0 1 0 -2.0 0M91.5 134.4a1.0 1.0 0 1 0 2.0 0a1.0 1.0 0 1 0 -2.0 0M91.2 162.9a1.0 1.0 0 1 0 2.0 0a1.0 1.0 0 1 0 -2.0 0M89.6 153.6a1.0 1.0 0 1 0 2.0 0a1.0 1.0 0 1 0 -2.0 0M82.6 56.5a1.0 1.0 0 1 0 2.0 0a1.0 1.0 0 1 0 -2.0 0M90.5 143.4a1.0 1.0 0 1 0 2.0 0a1.0 1.0 0 1 0 -2.0 0M87.5 170.9a1.0 1.0 0 1 0 2.0 0a1.0 1.0 0 1 0 -2.0 0M86.8 167.9a1.0 1.0 0 1 0 2.0 0a1.0 1.0 0 1 0 -2.0 0M91.5 89.2a1.0 1.0 0 1 0 2.0 0a1.0 1.0 0 1 0 -2.0 0M82.3 121.5a1.0 1.0 0 1 0 2.0 0a1.0 1.0 0 1 0 -2.0 0M90.9 159.7a1.0 1.0 0 1 0 2.0 0a1.0 1.0 0 1 0 -2.0 0M85.0 114.1a1.0 1.0 0 1 0 2.0 0a1.0 1.0 0 1 0 -2.0 0M87.6 125.7a1.0 1.0 0 1 0 2.0 0a1.0 1.0 0 1 0 -2.0 0M90.4 80.1a1.0 1.0 0 1 0 2.0 0a1.0 1.0 0 1 0 -2.0 0M84.2 61.0a1.0 1.0 0 1 0 2.0 0a1.0 1.0 0 1 0 -2.0 0M84.1 85.6a1.0 1.0 0 1 0 2.0 0a1.0 1.0 0 1 0 -2.0 0M91.0 97.3a1.0 1.0 0 1 0 2.0 0a1.0 1.0 0 1 0 -2.0 0M83.6 102.6a1.0 1.0 0 1 0 2.0 0a1.0 1.0 0 1 0 -2.0 0M84.0 93.1a1.0 1.0 0 1 0 2.0 0a1.0 1.0 0 1 0 -2.0 0M82.9 121.4a1.0 1.0 0 1 0 2.0 0a1.0 1.0 0 1 0 -2.0 0M88.0 137.2a1.0 1.0 0 1 0 2.0 0a1.0 1.0 0 1 0 -2.0 0M90.1 116.6a1.0 1.0 0 1 0 2.0 0a1.0 1.0 0 1 0 -2.0 0M83.9 97.3a1.0 1.0 0 1 0 2.0 0a1.0 1.0 0 1 0 -2.0 0M89.5 106.1a1.0 1.0 0 1 0 2.0 0a1.0 1.0 0 1 0 -2.0 0M87.9 182.6a1.0 1.0 0 1 0 2.0 0a1.0 1.0 0 1 0 -2.0 0M82.4 138.9a1.0 1.0 0 1 0 2.0 0a1.0 1.0 0 1 0 -2.0 0M88.0 98.4a1.0 1.0 0 1 0 2.0 0a1.0 1.0 0 1 0 -2.0 0M83.7 153.5a1.0 1.0 0 1 0 2.0 0a1.0 1.0 0 1 0 -2.0 0M85.7 87.8a1.0 1.0 0 1 0 2.0 0a1.0 1.0 0 1 0 -2.0 0M83.4 146.9a1.0 1.0 0 1 0 2.0 0a1.0 1.0 0 1 0 -2.0 0M85.9 129.9a1.0 1.0 0 1 0 2.0 0a1.0 1.0 0 1 0 -2.0 0M83.7 170.9a1.0 1.0 0 1 0 2.0 0a1.0 1.0 0 1 0 -2.0 0M82.6 110.9a1.0 1.0 0 1 0 2.0 0a1.0 1.0 0 1 0 -2.0 0M86.7 96.5a1.0 1.0 0 1 0 2.0 0a1.0 1.0 0 1 0 -2.0 0M89.2 99.0a1.0 1.0 0 1 0 2.0 0a1.0 1.0 0 1 0 -2.0 0M90.4 108.8a1.0 1.0 0 1 0 2.0 0a1.0 1.0 0 1 0 -2.0 0M91.5 95.8a1.0 1.0 0 1 0 2.0 0a1.0 1.0 0 1 0 -2.0 0M84.8 125.6a1.0 1.0 0 1 0 2.0 0a1.0 1.0 0 1 0 -2.0 0M85.0 152.6a1.0 1.0 0 1 0 2.0 0a1.0 1.0 0 1 0 -2.0 0M91.5 91.2a1.0 1.0 0 1 0 2.0 0a1.0 1.0 0 1 0 -2.0 0M83.1 101.3a1.0 1.0 0 1 0 2.0 0a1.0 1.0 0 1 0 -2.0 0M85.5 185.7a1.0 1.0 0 1 0 2.0 0a1.0 1.0 0 1 0 -2.0 0M83.3 112.8a1.0 1.0 0 1 0 2.0 0a1.0 1.0 0 1 0 -2.0 0M87.1 153.1a1.0 1.0 0 1 0 2.0 0a1.0 1.0 0 1 0 -2.0 0M82.5 180.4a1.0 1.0 0 1 0 2.0 0a1.0 1.0 0 1 0 -2.0 0M83.2 136.4a1.0 1.0 0 1 0 2.0 0a1.0 1.0 0 1 0 -2.0 0M82.5 122.6a1.0 1.0 0 1 0 2.0 0a1.0 1.0 0 1 0 -2.0 0M91.5 87.5a1.0 1.0 0 1 0 2.0 0a1.0 1.0 0 1 0 -2.0 0M89.8 128.8a1.0 1.0 0 1 0 2.0 0a1.0 1.0 0 1 0 -2.0 0M84.4 133.3a1.0 1.0 0 1 0 2.0 0a1.0 1.0 0 1 0 -2.0 0M84.8 143.5a1.0 1.0 0 1 0 2.0 0a1.0 1.0 0 1 0 -2.0 0M84.8 94.0a1.0 1.0 0 1 0 2.0 0a1.0 1.0 0 1 0 -2.0 0M87.6 142.7a1.0 1.0 0 1 0 2.0 0a1.0 1.0 0 1 0 -2.0 0M82.3 119.4a1.0 1.0 0 1 0 2.0 0a1.0 1.0 0 1 0 -2.0 0M91.4 136.9a1.0 1.0 0 1 0 2.0 0a1.0 1.0 0 1 0 -2.0 0M88.8 123.9a1.0 1.0 0 1 0 2.0 0a1.0 1.0 0 1 0 -2.0 0M83.2 151.3a1.0 1.0 0 1 0 2.0 0a1.0 1.0 0 1 0 -2.0 0M90.0 68.9a1.0 1.0 0 1 0 2.0 0a1.0 1.0 0 1 0 -2.0 0M89.2 103.7a1.0 1.0 0 1 0 2.0 0a1.0 1.0 0 1 0 -2.0 0M84.1 147.3a1.0 1.0 0 1 0 2.0 0a1.0 1.0 0 1 0 -2.0 0M85.8 129.3a1.0 1.0 0 1 0 2.0 0a1.0 1.0 0 1 0 -2.0 0M92.3 146.6a1.0 1.0 0 1 0 2.0 0a1.0 1.0 0 1 0 -2.0 0M84.7 137.8a1.0 1.0 0 1 0 2.0 0a1.0 1.0 0 1 0 -2.0 0M84.5 141.3a1.0 1.0 0 1 0 2.0 0a1.0 1.0 0 1 0 -2.0 0M85.6 120.0a1.0 1.0 0 1 0 2.0 0a1.0 1.0 0 1 0 -2.0 0M83.9 76.0a1.0 1.0 0 1 0 2.0 0a1.0 1.0 0 1 0 -2.0 0M84.8 140.8a1.0 1.0 0 1 0 2.0 0a1.0 1.0 0 1 0 -2.0 0M86.4 89.9a1.0 1.0 0 1 0 2.0 0a1.0 1.0 0 1 0 -2.0 0M82.9 73.0a1.0 1.0 0 1 0 2.0 0a1.0 1.0 0 1 0 -2.0 0M83.6 95.1a1.0 1.0 0 1 0 2.0 0a1.0 1.0 0 1 0 -2.0 0M89.1 129.8a1.0 1.0 0 1 0 2.0 0a1.0 1.0 0 1 0 -2.0 0M90.0 137.3a1.0 1.0 0 1 0 2.0 0a1.0 1.0 0 1 0 -2.0 0M90.4 92.6a1.0 1.0 0 1 0 2.0 0a1.0 1.0 0 1 0 -2.0 0M90.6 122.9a1.0 1.0 0 1 0 2.0 0a1.0 1.0 0 1 0 -2.0 0M84.1 155.3a1.0 1.0 0 1 0 2.0 0a1.0 1.0 0 1 0 -2.0 0M91.1 114.8a1.0 1.0 0 1 0 2.0 0a1.0 1.0 0 1 0 -2.0 0M85.2 88.3a1.0 1.0 0 1 0 2.0 0a1.0 1.0 0 1 0 -2.0 0M88.3 142.8a1.0 1.0 0 1 0 2.0 0a1.0 1.0 0 1 0 -2.0 0M86.4 70.3a1.0 1.0 0 1 0 2.0 0a1.0 1.0 0 1 0 -2.0 0M82.4 132.2a1.0 1.0 0 1 0 2.0 0a1.0 1.0 0 1 0 -2.0 0M89.4 117.3a1.0 1.0 0 1 0 2.0 0a1.0 1.0 0 1 0 -2.0 0M82.3 134.6a1.0 1.0 0 1 0 2.0 0a1.0 1.0 0 1 0 -2.0 0M87.4 166.6a1.0 1.0 0 1 0 2.0 0a1.0 1.0 0 1 0 -2.0 0M91.5 154.7a1.0 1.0 0 1 0 2.0 0a1.0 1.0 0 1 0 -2.0 0M85.0 126.6a1.0 1.0 0 1 0 2.0 0a1.0 1.0 0 1 0 -2.0 0M88.2 152.2a1.0 1.0 0 1 0 2.0 0a1.0 1.0 0 1 0 -2.0 0M89.8 121.4a1.0 1.0 0 1 0 2.0 0a1.0 1.0 0 1 0 -2.0 0M88.9 131.4a1.0 1.0 0 1 0 2.0 0a1.0 1.0 0 1 0 -2.0 0M92.3 110.0a1.0 1.0 0 1 0 2.0 0a1.0 1.0 0 1 0 -2.0 0M84.8 165.7a1.0 1.0 0 1 0 2.0 0a1.0 1.0 0 1 0 -2.0 0M92.0 188.5a1.0 1.0 0 1 0 2.0 0a1.0 1.0 0 1 0 -2.0 0" fill="#c51b7d" fill-opacity="0.55"/>
<path d="M90.9 112.9a1.0 1.0 0 1 0 2.0 0a1.0 1.0 0 1 0 -2.0 0M89.5 77.4a1.0 1.0 0 1 0 2.0 0a1.0 1.0 0 1 0 -2.0 0M82.6 139.2a1.0 1.0 0 1 0 2.0 0a1.0 1.0 0 1 0 -2.0 0M82.5 86.2a1.0 1.0 0 1 0 2.0 0a1.0 1.0 0 1 0 -2.0 0M86.5 94.7a1.0 1.0 0 1 0 2.0 0a1.0 1.0 0 1 0 -2.0 0M91.2 137.0a1.0 1.0 0 1 0 2.0 0a1.0 1.0 0 1 0 -2.0 0M91.2 104.8a1.0 1.0 0 1 0 2.0 0a1.0 1.0 0 1 0 -2.0 0M88.9 104.2a1.0 1.0 0 1 0 2.0 0a1.0 1.0 0 1 0 -2.0 0M83.2 149.1a1.0 1.0 0 1 0 2.0 0a1.0 1.0 0 1 0 -2.0 0M85.0 143.0a1.0 1.0 0 1 0 2.0 0a1.0 1.0 0 1 0 -2.0 0M89.2 125.9a1.0 1.0 0 1 0 2.0 0a1.0 1.0 0 1 0 -2.0 0M85.1 112.6a1.0 1.0 0 1 0 2.0 0a1.0 1.0 0 1 0 -2.0 0M85.8 175.8a1.0 1.0 0 1 0 2.0 0a1.0 1.0 0 1 0 -2.0 0M90.0 161.1a1.0 1.0 0 1 0 2.0 0a1.0 1.0 0 1 0 -2.0 0M85.8 91.7a1.0 1.0 0 1 0 2.0 0a1.0 1.0 0 1 0 -2.0 0M92.0 145.8a1.0 1.0 0 1 0 2.0 0a1.0 1.0 0 1 0 -2.0 0M90.3 121.0a1.0 1.0 0 1 0 2.0 0a1.0 1.0 0 1 0 -2.0 0M83.0 92.3a1.0 1.0 0 1 0 2.0 0a1.0 1.0 0 1 0 -2.0 0M88.7 141.0a1.0 1.0 0 1 0 2.0 0a1.0 1.0 0 1 0 -2.0 0M87.4 104.6a1.0 1.0 0 1 0 2.0 0a1.0 1.0 0 1 0 -2.0 0M91.7 131.7a1.0 1.0 0 1 0 2.0 0a1.0 1.0 0 1 0 -2.0 0M87.8 69.7a1.0 1.0 0 1 0 2.0 0a1.0 1.0 0 1 0 -2.0 0M83.9 162.9a1.0 1.0 0 1 0 2.0 0a1.0 1.0 0 1 0 -2.0 0M86.0 113.4a1.0 1.0 0 1 0 2.0 0a1.0 1.0 0 1 0 -2.0 0M82.7 75.3a1.0 1.0 0 1 0 2.0 0a1.0 1.0 0 1 0 -2.0 0M84.1 107.2a1.0 1.0 0 1 0 2.0 0a1.0 1.0 0 1 0 -2.0 0M88.2 137.0a1.0 1.0 0 1 0 2.0 0a1.0 1.0 0 1 0 -2.0 0M82.3 86.5a1.0 1.0 0 1 0 2.0 0a1.0 1.0 0 1 0 -2.0 0M85.7 149.0a1.0 1.0 0 1 0 2.0 0a1.0 1.0 0 1 0 -2.0 0M87.0 113.2a1.0 1.0 0 1 0 2.0 0a1.0 1.0 0 1 0 -2.0 0M86.4 106.2a1.0 1.0 0 1 0 2.0 0a1.0 1.0 0 1 0 -2.0 0M91.9 98.0a1.0 1.0 0 1 0 2.0 0a1.0 1.0 0 1 0 -2.0 0M89.7 85.1a1.0 1.0 0 1 0 2.0 0a1.0 1.0 0 1 0 -2.0 0M89.9 134.7a1.0 1.0 0 1 0 2.0 0a1.0 1.0 0 1 0 -2.0 0M83.3 135.7a1.0 1.0 0 1 0 2.0 0a1.0 1.0 0 1 0 -2.0 0M86.6 97.5a1.0 1.0 0 1 0 2.0 0a1.0 1.0 0 1 0 -2.0 0M89.7 114.3a1.0 1.0 0 1 0 2.0 0a1.0 1.0 0 1 0 -2.0 0M85.6 107.9a1.0 1.0 0 1 0 2.0 0a1.0 1.0 0 1 0 -2.0 0M84.6 125.7a1.0 1.0 0 1 0 2.0 0a1.0 1.0 0 1 0 -2.0 0M83.7 115.0a1.0 1.0 0 1 0 2.0 0a1.0 1.0 0 1 0 -2.0 0M89.5 120.8a1.0 1.0 0 1 0 2.0 0a1.0 1.0 0 1 0 -2.0 0M88.2 152.3a1.0 1.0 0 1 0 2.0 0a1.0 1.0 0 1 0 -2.0 0M84.3 148.6a1.0 1.0 0 1 0 2.0 0a1.0 1.0 0 1 0 -2.0 0M85.2 169.0a1.0 1.0 0 1 0 2.0 0a1.0 1.0 0 1 0 -2.0 0M88.0 136.0a1.0 1.0 0 1 0 2.0 0a1.0 1.0 0 1 0 -2.0 0M84.8 133.7a1.0 1.0 0 1 0 2.0 0a1.0 1.0 0 1 0 -2.0 0M84.9 158.9a1.0 1.0 0 1 0 2.0 0a1.0 1.0 0 1 0 -2.0 0M82.5 168.6a1.0 1.0 0 1 0 2.0 0a1.0 1.0 0 1 0 -2.0 0M88.1 108.7a1.0 1.0 0 1 0 2.0 0a1.0 1.0 0 1 0 -2.0 0M86.9 120.5a1.0 1.0 0 1 0 2.0 0a1.0 1.0 0 1 0 -2.0 0M84.0 135.7a1.0 1.0 0 1 0 2.0 0a1.0 1.0 0 1 0 -2.0 0M87.0 125.4a1.0 1.0 0 1 0 2.0 0a1.0 1.0 0 1 0 -2.0 0M83.4 125.5a1.0 1.0 0 1 0 2.0 0a1.0 1.0 0 1 0 -2.0 0M91.3 161.5a1.0 1.0 0 1 0 2.0 0a1.0 1.0 0 1 0 -2.0 0M90.8 152.1a1.0 1.0 0 1 0 2.0 0a1.0 1.0 0 1 0 -2.0 0M83.5 141.1a1.0 1.0 0 1 0 2.0 0a1.0 1.0 0 1 0 -2.0 0M88.9 111.4a1.0 1.0 0 1 0 2.0 0a1.0 1.0 0 1 0 -2.0 0M89.5 138.5a1.0 1.0 0 1 0 2.0 0a1.0 1.0 0 1 0 -2.0 0M86.0 177.1a1.0 1.0 0 1 0 2.0 0a1.0 1.0 0 1 0 -2.0 0M84.3 152.9a1.0 1.0 0 1 0 2.0 0a1.0 1.0 0 1 0 -2.0 0M88.5 136.1a1.0 1.0 0 1 0 2.0 0a1.0 1.0 0 1 0 -2.0 0M86.3 140.2a1.0 1.0 0 1 0 2.0 0a1.0 1.0 0 1 0 -2.0 0M90.9 137.2a1.0 1.0 0 1 0 2.0 0a1.0 1.0 0 1 0 -2.0 0M90.3 92.8a1.0 1.0 0 1 0 2.0 0a1.0 1.0 0 1 0 -2.0 0M89.4 112.1a1.0 1.0 0 1 0 2.0 0a1.0 1.0 0 1 0 -2.0 0M88.6 138.4a1.0 1.0 0 1 0 2.0 0a1.0 1.0 0 1 0 -2.0 0M86.0 125.4a1.0 1.0 0 1 0 2.0 0a1.0 1.0 0 1 0 -2.0 0M85.1 153.7a1.0 1.0 0 1 0 2.0 0a1.0 1.0 0 1 0 -2.0 0M88.1 152.5a1.0 1.0 0 1 0 2.0 0a1.0 1.0 0 1 0 -2.0 0M91.7 94.5a1.0 1.0 0 1 0 2.0 0a1.0 1.0 0 1 0 -2.0 0M86.8 87.1a1.0 1.0 0 1 0 2.0 0a1.0 1.0 0 1 0 -2.0 0M85.0 162.2a1.0 1.0 0 1 0 2.0 0a1.0 1.0 0 1 0 -2.0 0M85.3 152.2a1.0 1.0 0 1 0 2.0 0a1.0 1.0 0 1 0 -2.0 0M84.4 114.3a1.0 1.0 0 1 0 2.0 0a1.0 1.0 0 1 0 -2.0 0M92.1 173.0a1.0 1.0 0 1 0 2.0 0a1.0 1.0 0 1 0 -2.0 0M86.2 98.3a1.0 1.0 0 1 0 2.0 0a1.0 1.0 0 1 0 -2.0 0M82.8 171.3a1.0 1.0 0 1 0 2.0 0a1.0 1.0 0 1 0 -2.0 0M84.3 163.8a1.0 1.0 0 1 0 2.0 0a1.0 1.0 0 1 0 -2.0 0M83.9 155.5a1.0 1.0 0 1 0 2.0 0a1.0 1.0 0 1 0 -2.0 0M84.7 100.6a1.0 1.0 0 1 0 2.0 0a1.0 1.0 0 1 0 -2.0 0M86.0 110.6a1.0 1.0 0 1 0 2.0 0a1.0 1.0 0 1 0 -2.0 0M86.6 158.4a1.0 1.0 0 1 0 2.0 0a1.0 1.0 0 1 0 -2.0 0M83.9 104.5a1.0 1.0 0 1 0 2.0 0a1.0 1.0 0 1 0 -2.0 0M83.0 131.2a1.0 1.0 0 1 0 2.0 0a1.0 1.0 0 1 0 -2.0 0M86.4 148.3a1.0 1.0 0 1 0 2.0 0a1.0 1.0 0 1 0 -2.0 0M89.2 143.0a1.0 1.0 0 1 0 2.0 0a1.0 1.0 0 1 0 -2.0 0M90.0 114.1a1.0 1.0 0 1 0 2.0 0a1.0 1.0 0 1 0 -2.0 0M84.5 101.1a1.0 1.0 0 1 0 2.0 0a1.0 1.0 0 1 0 -2.0 0M82.7 156.1a1.0 1.0 0 1 0 2.0 0a1.0 1.0 0 1 0 -2.0 0M90.8 154.4a1.0 1.0 0 1 0 2.0 0a1.0 1.0 0 1 0 -2.0 0M85.6 116.5a1.0 1.0 0 1 0 2.0 0a1.0 1.0 0 1 0 -2.0 0M87.4 142.9a1.0 1.0 0 1 0 2.0 0a1.0 1.0 0 1 0 -2.0 0M89.0 130.9a1.0 1.0 0 1 0 2.0 0a1.0 1.0 0 1 0 -2.0 0M84.4 99.3a1.0 1.0 0 1 0 2.0 0a1.0 1.0 0 1 0 -2.0 0M83.9 96.7a1.0 1.0 0 1 0 2.0 0a1.0 1.0 0 1 0 -2.0 0M90.0 142.3a1.0 1.0 0 1 0 2.0 0a1.0 1.0 0 1 0 -2.0 0M82.7 78.7a1.0 1.0 0 1 0 2.0 0a1.0 1.0 0 1 0 -2.0 0M91.0 137.3a1.0 1.0 0 1 0 2.0 0a1.0 1.0 0 1 0 -2.0 0M82.9 171.7a1.0 1.0 0 1 0 2.0 0a1.0 1.0 0 1 0 -2.0 0M84.0 180.2a1.0 1.0 0 1 0 2.0 0a1.0 1.0 0 1 0 -2.0 0M84.4 132.7a1.0 1.0 0 1 0 2.0 0a1.0 1.0 0 1 0 -2.0 0M91.2 84.7a1.0 1.0 0 1 0 2.0 0a1.0 1.0 0 1 0 -2.0 0M86.6 92.5a1.0 1.0 0 1 0 2.0 0a1.0 1.0 0 1 0 -2.0 0M87.5 88.7a1.0 1.0 0 1 0 2.0 0a1.0 1.0 0 1 0 -2.0 0M86.8 133.0a1.0 1.0 0 1 0 2.0 0a1.0 1.0 0 1 0 -2.0 0M90.5 136.4a1.0 1.0 0 1 0 2.0 0a1.0 1.0 0 1 0 -2.0 0M90.7 94.9a1.0 1.0 0 1 0 2.0 0a1.0 1.0 0 1 0 -2.0 0M85.2 65.0a1.0 1.0 0 1 0 2.0 0a1.0 1.0 0 1 0 -2.0 0M88.0 157.7a1.0 1.0 0 1 0 2.0 0a1.0 1.0 0 1 0 -2.0 0M87.2 150.2a1.0 1.0 0 1 0 2.0 0a1.0 1.0 0 1 0 -2.0 0M88.8 133.0a1.0 1.0 0 1 0 2.0 0a1.0 1.0 0 1 0 -2.0 0M85.1 173.6a1.0 1.0 0 1 0 2.0 0a1.0 1.0 0 1 0 -2.0 0M85.6 102.8a1.0 1.0 0 1 0 2.0 0a1.0 1.0 0 1 0 -2.0 0M85.7 130.4a1.0 1.0 0 1 0 2.0 0a1.0 1.0 0 1 0 -2.0 0M83.2 129.3a1.0 1.0 0 1 0 2.0 0a1.0 1.0 0 1 0 -2.0 0M87.6 145.0a1.0 1.0 0 1 0 2.0 0a1.0 1.0 0 1 0 -2.0 0M83.4 111.8a1.0 1.0 0 1 0 2.0 0a1.0 1.0 0 1 0 -2.0 0M89.1 111.7a1.0 1.0 0 1 0 2.0 0a1.0 1.0 0 1 0 -2.0 0M84.2 144.9a1.0 1.0 0 1 0 2.0 0a1.0 1.0 0 1 0 -2.0 0M90.6 165.8a1.0 1.0 0 1 0 2.0 0a1.0 1.0 0 1 0 -2.0 0M88.1 78.9a1.0 1.0 0 1 0 2.0 0a1.0 1.0 0 1 0 -2.0 0M86.0 150.2a1.0 1.0 0 1 0 2.0 0a1.0 1.0 0 1 0 -2.0 0M89.1 137.0a1.0 1.0 0 1 0 2.0 0a1.0 1.0 0 1 0 -2.0 0M89.9 132.8a1.0 1.0 0 1 0 2.0 0a1.0 1.0 0 1 0 -2.0 0M88.2 105.5a1.0 1.0 0 1 0 2.0 0a1.0 1.0 0 1 0 -2.0 0M84.4 85.0a1.0 1.0 0 1 0 2.0 0a1.0 1.0 0 1 0 -2.0 0M88.6 106.9a1.0 1.0 0 1 0 2.0 0a1.0 1.0 0 1 0 -2.0 0M83.6 76.9a1.0 1.0 0 1 0 2.0 0a1.0 1.0 0 1 0 -2.0 0M90.0 73.6a1.0 1.0 0 1 0 2.0 0a1.0 1.0 0 1 0 -2.0 0M91.8 87.3a1.0 1.0 0 1 0 2.0 0a1.0 1.0 0 1 0 -2.0 0M83.2 159.6a1.0 1.0 0 1 0 2.0 0a1.0 1.0 0 1 0 -2.0 0M82.3 122.9a1.0 1.0 0 1 0 2.0 0a1.0 1.0 0 1 0 -2.0 0M82.4 107.7a1.0 1.0 0 1 0 2.0 0a1.0 1.0 0 1 0 -2.0 0M89.9 145.0a1.0 1.0 0 1 0 2.0 0a1.0 1.0 0 1 0 -2.0 0M91.3 139.3a1.0 1.0 0 1 0 2.0 0a1.0 1.0 0 1 0 -2.0 0M85.8 128.5a1.0 1.0 0 1 0 2.0 0a1.0 1.0 0 1 0 -2.0 0M86.8 144.3a1.0 1.0 0 1 0 2.0 0a1.0 1.0 0 1 0 -2.0 0M90.1 127.9a1.0 1.0 0 1 0 2.0 0a1.0 1.0 0 1 0 -2.0 0M89.7 128.9a1.0 1.0 0 1 0 2.0 0a1.0 1.0 0 1 0 -2.0 0M84.0 80.6a1.0 1.0 0 1 0 2.0 0a1.0 1.0 0 1 0 -2.0 0M85.5 133.8a1.0 1.0 0 1 0 2.0 0a1.0 1.0 0 1 0 -2.0 0M84.6 125.1a1.0 1.0 0 1 0 2.0 0a1.0 1.0 0 1 0 -2.0 0M82.9 119.7a1.0 1.0 0 1 0 2.0 0a1.0 1.0 0 1 0 -2.0 0M83.5 139.1a1.0 1.0 0 1 0 2.0 0a1.0 1.0 0 1 0 -2.0 0M82.5 133.1a1.0 1.0 0 1 0 2.0 0a1.0 1.0 0 1 0 -2.0 0M82.6 134.9a1.0 1.0 0 1 0 2.0 0a1.0 1.0 0 1 0 -2.0 0M90.1 160.8a1.0 1.0 0 1 0 2.0 0a1.0 1.0 0 1 0 -2.0 0M84.2 129.0a1.0 1.0 0 1 0 2.0 0a1.0 1.0 0 1 0 -2.0 0M84.5 135.9a1.0 1.0 0 1 0 2.0 0a1.0 1.0 0 1 0 -2.0 0M89.8 84.5a1.0 1.0 0 1 0 2.0 0a1.0 1.0 0 1 0 -2.0 0M92.1 97.2a1.0 1.0 0 1 0 2.0 0a1.0 1.0 0 1 0 -2.0 0M88.0 121.2a1.0 1.0 0 1 0 2.0 0a1.0 1.0 0 1 0 -2.0 0M85.2 101.9a1.0 1.0 0 1 0 2.0 0a1.0 1.0 0 1 0 -2.0 0M87.5 113.9a1.0 1.0 0 1 0 2.0 0a1.0 1.0 0 1 0 -2.0 0M82.2 93.2a1.0 1.0 0 1 0 2.0 0a1.0 1.0 0 1 0 -2.0 0M86.3 166.6a1.0 1.0 0 1 0 2.0 0a1.0 1.0 0 1 0 -2.0 0M86.2 122.5a1.0 1.0 0 1 0 2.0 0a1.0 1.0 0 1 0 -2.0 0M82.9 143.1a1.0 1.0 0 1 0 2.0 0a1.0 1.0 0 1 0 -2.0 0M90.7 185.8a1.0 1.0 0 1 0 2.0 0a1.0 1.0 0 1 0 -2.0 0M85.8 90.6a1.0 1.0 0 1 0 2.0 0a1.0 1.0 0 1 0 -2.0 0M89.5 77.5a1.0 1.0 0 1 0 2.0 0a1.0 1.0 0 1 0 -2.0 0M91.5 110.0a1.0 1.0 0 1 0 2.0 0a1.0 1.0 0 1 0 -2.0 0M89.3 103.2a1.0 1.0 0 1 0 2.0 0a1.0 1.0 0 1 0 -2.0 0M91.2 100.1a1.0 1.0 0 1 0 2.0 0a1.0 1.0 0 1 0 -2.0 0M92.3 128.0a1.0 1.0 0 1 0 2.0 0a1.0 1.0 0 1 0 -2.0 0M84.3 163.8a1.0 1.0 0 1 0 2.0 0a1.0 1.0 0 1 0 -2.0 0M89.8 99.1a1.0 1.0 0 1 0 2.0 0a1.0 1.0 0 1 0 -2.0 0M86.1 112.3a1.0 1.0 0 1 0 2.0 0a1.0 1.0 0 1 0 -2.0 0M88.3 95.7a1.0 1.0 0 1 0 2.0 0a1.0 1.0 0 1 0 -2.0 0M83.2 131.8a1.0 1.0 0 1 0 2.0 0a1.0 1.0 0 1 0 -2.0 0M85.1 129.9a1.0 1.0 0 1 0 2.0 0a1.0 1.0 0 1 0 -2.0 0M89.0 139.7a1.0 1.0 0 1 0 2.0 0a1.0 1.0 0 1 0 -2.0 0M90.8 126.1a1.0 1.0 0 1 0 2.0 0a1.0 1.0 0 1 0 -2.0 0M85.6 144.4a1.0 1.0 0 1 0 2.0 0a1.0 1.0 0 1 0 -2.0 0M88.4 99.5a1.0 1.0 0 1 0 2.0 0a1.0 1.0 0 1 0 -2.0 0M88.6 107.6a1.0 1.0 0 1 0 2.0 0a1.0 1.0 0 1 0 -2.0 0M86.3 132.7a1.0 1.0 0 1 0 2.0 0a1.0 1.0 0 1 0 -2.0 0M85.6 121.8a1.0 1.0 0 1 0 2.0 0a1.0 1.0 0 1 0 -2.0 0M84.5 110.3a1.0 1.0 0 1 0 2.0 0a1.0 1.0 0 1 0 -2.0 0M91.0 152.9a1.0 1.0 0 1 0 2.0 0a1.0 1.0 0 1 0 -2.0 0M83.6 95.4a1.0 1.0 0 1 0 2.0 0a1.0 1.0 0 1 0 -2.0 0M85.7 129.8a1.0 1.0 0 1 0 2.0 0a1.0 1.0 0 1 0 -2.0 0M86.3 134.6a1.0 1.0 0 1 0 2.0 0a1.0 1.0 0 1 0 -2.0 0M85.1 192.5a1.0 1.0 0 1 0 2.0 0a1.0 1.0 0 1 0 -2.0 0" fill="#c51b7d" fill-opacity="0.55"/>
<path d="M88.8 118.5a1.0 1.0 0 1 0 2.0 0a1.0 1.0 0 1 0 -2.0 0M91.0 169.6a1.0 1.0 0 1 0 2.0 0a1.0 1.0 0 1 0 -2.0 0M91.6 149.1a1.0 1.0 0 1 0 2.0 0a1.0 1.0 0 1 0 -2.0 0M90.4 137.3a1.0 1.0 0 1 0 2.0 0a1.0 1.0 0 1 0 -2.0 0M88.6 86.8a1.0 1.0 0 1 0 2.0 0a1.0 1.0 0 1 0 -2.0 0M88.6 146.2a1.0 1.0 0 1 0 2.0 0a1.0 1.0 0 1 0 -2.0 0M84.6 136.0a1.0 1.0 0 1 0 2.0 0a1.0 1.0 0 1 0 -2.0 0M83.4 80.4a1.0 1.0 0 1 0 2.0 0a1.0 1.0 0 1 0 -2.0 0M87.3 143.7a1.0 1.0 0 1 0 2.0 0a1.0 1.0 0 1 0 -2.0 0M87.7 79.5a1.0 1.0 0 1 0 2.0 0a1.0 1.0 0 1 0 -2.0 0M89.8 135.9a1.0 1.0 0 1 0 2.0 0a1.0 1.0 0 1 0 -2.0 0M89.2 156.4a1.0 1.0 0 1 0 2.0 0a1.0 1.0 0 1 0 -2.0 0M90.1 84.6a1.0 1.0 0 1 0 2.0 0a1.0 1.0 0 1 0 -2.0 0M86.7 92.9a1.0 1.0 0 1 0 2.0 0a1.0 1.0 0 1 0 -2.0 0M92.3 133.1a1.0 1.0 0 1 0 2.0 0a1.0 1.0 0 1 0 -2.0 0M89.9 170.0a1.0 1.0 0 1 0 2.0 0a1.0 1.0 0 1 0 -2.0 0M91.5 106.9a1.0 1.0 0 1 0 2.0 0a1.0 1.0 0 1 0 -2.0 0M87.7 113.5a1.0 1.0 0 1 0 2.0 0a1.0 1.0 0 1 0 -2.0 0M89.8 184.5a1.0 1.0 0 1 0 2.0 0a1.0 1.0 0 1 0 -2.0 0M88.1 109.2a1.0 1.0 0 1 0 2.0 0a1.0 1.0 0 1 0 -2.0 0M84.5 156.6a1.0 1.0 0 1 0 2.0 0a1.0 1.0 0 1 0 -2.0 0M82.7 87.9a1.0 1.0 0 1 0 2.0 0a1.0 1.0 0 1 0 -2.0 0M89.6 148.8a1.0 1.0 0 1 0 2.0 0a1.0 1.0 0 1 0 -2.0 0M84.7 96.4a1.0 1.0 0 1 0 2.0 0a1.0 1.0 0 1 0 -2.0 0M90.7 124.5a1.0 1.0 0 1 0 2.0 0a1.0 1.0 0 1 0 -2.0 0M91.3 181.8a1.0 1.0 0 1 0 2.0 0a1.0 1.0 0 1 0 -2.0 0M89.1 139.0a1.0 1.0 0 1 0 2.0 0a1.0 1.0 0 1 0 -2.0 0M83.0 122.0a1.0 1.0 0 1 0 2.0 0a1.0 1.0 0 1 0 -2.0 0M82.7 134.9a1.0 1.0 0 1 0 2.0 0a1.0 1.0 0 1 0 -2.0 0M84.6 137.1a1.0 1.0 0 1 0 2.0 0a1.0 1.0 0 1 0 -2.0 0M83.4 106.9a1.0 1.0 0 1 0 2.0 0a1.0 1.0 0 1 0 -2.0 0M84.9 104.0a1.0 1.0 0 1 0 2.0 0a1.0 1.0 0 1 0 -2.0 0M86.7 175.7a1.0 1.0 0 1 0 2.0 0a1.0 1.0 0 1 0 -2.0 0M89.2 153.9a1.0 1.0 0 1 0 2.0 0a1.0 1.0 0 1 0 -2.0 0M84.8 123.0a1.0 1.0 0 1 0 2.0 0a1.0 1.0 0 1 0 -2.0 0M86.1 136.5a1.0 1.0 0 1 0 2.0 0a1.0 1.0 0 1 0 -2.0 0M85.3 123.1a1.0 1.0 0 1 0 2.0 0a1.0 1.0 0 1 0 -2.0 0M87.0 87.3a1.0 1.0 0 1 0 2.0 0a1.0 1.0 0 1 0 -2.0 0M86.7 156.5a1.0 1.0 0 1 0 2.0 0a1.0 1.0 0 1 0 -2.0 0M90.9 134.7a1.0 1.0 0 1 0 2.0 0a1.0 1.0 0 1 0 -2.0 0M84.8 117.0a1.0 1.0 0 1 0 2.0 0a1.0 1.0 0 1 0 -2.0 0M90.3 146.1a1.0 1.0 0 1 0 2.0 0a1.0 1.0 0 1 0 -2.0 0M82.5 109.9a1.0 1.0 0 1 0 2.0 0a1.0 1.0 0 1 0 -2.0 0M84.5 93.2a1.0 1.0 0 1 0 2.0 0a1.0 1.0 0 1 0 -2.0 0M91.4 95.4a1.0 1.0 0 1 0 2.0 0a1.0 1.0 0 1 0 -2.0 0M92.3 143.9a1.0 1.0 0 1 0 2.0 0a1.0 1.0 0 1 0 -2.0 0M83.0 130.5a1.0 1.0 0 1 0 2.0 0a1.0 1.0 0 1 0 -2.0 0M85.0 135.6a1.0 1.0 0 1 0 2.0 0a1.0 1.0 0 1 0 -2.0 0M90.6 134.0a1.0 1.0 0 1 0 2.0 0a1.0 1.0 0 1 0 -2.0 0M90.6 116.6a1.0 1.0 0 1 0 2.0 0a1.0 1.0 0 1 0 -2.0 0M85.4 118.2a1.0 1.0 0 1 0 2.0 0a1.0 1.0 0 1 0 -2.0 0M91.8 171.5a1.0 1.0 0 1 0 2.0 0a1.0 1.0 0 1 0 -2.0 0M88.4 125.2a1.0 1.0 0 1 0 2.0 0a1.0 1.0 0 1 0 -2.0 0M84.3 122.6a1.0 1.0 0 1 0 2.0 0a1.0 1.0 0 1 0 -2.0 0M85.3 151.0a1.0 1.0 0 1 0 2.0 0a1.0 1.0 0 1 0 -2.0 0M84.3 117.1a1.0 1.0 0 1 0 2.0 0a1.0 1.0 0 1 0 -2.0 0M83.7 109.5a1.0 1.0 0 1 0 2.0 0a1.0 1.0 0 1 0 -2.0 0M89.3 136.6a1.0 1.0 0 1 0 2.0 0a1.0 1.0 0 1 0 -2.0 0M83.2 165.7a1.0 1.0 0 1 0 2.0 0a1.0 1.0 0 1 0 -2.0 0M89.3 123.1a1.0 1.0 0 1 0 2.0 0a1.0 1.0 0 1 0 -2.0 0M90.5 139.1a1.0 1.0 0 1 0 2.0 0a1.0 1.0 0 1 0 -2.0 0M82.5 111.9a1.0 1.0 0 1 0 2.0 0a1.0 1.0 0 1 0 -2.0 0M91.0 111.4a1.0 1.0 0 1 0 2.0 0a1.0 1.0 0 1 0 -2.0 0M88.9 110.6a1.0 1.0 0 1 0 2.0 0a1.0 1.0 0 1 0 -2.0 0M85.1 138.3a1.0 1.0 0 1 0 2.0 0a1.0 1.0 0 1 0 -2.0 0M88.0 136.7a1.0 1.0 0 1 0 2.0 0a1.0 1.0 0 1 0 -2.0 0M83.8 120.4a1.0 1.0 0 1 0 2.0 0a1.0 1.0 0 1 0 -2.0 0M86.8 161.4a1.0 1.0 0 1 0 2.0 0a1.0 1.0 0 1 0 -2.0 0M91.8 129.5a1.0 1.0 0 1 0 2.0 0a1.0 1.0 0 1 0 -2.0 0M89.0 92.9a1.0 1.0 0 1 0 2.0 0a1.0 1.0 0 1 0 -2.0 0M87.4 176.6a1.0 1.0 0 1 0 2.0 0a1.0 1.0 0 1 0 -2.0 0M90.4 140.0a1.0 1.0 0 1 0 2.0 0a1.0 1.0 0 1 0 -2.0 0M91.5 80.9a1.0 1.0 0 1 0 2.0 0a1.0 1.0 0 1 0 -2.0 0M91.5 106.8a1.0 1.0 0 1 0 2.0 0a1.0 1.0 0 1 0 -2.0 0M88.8 133.7a1.0 1.0 0 1 0 2.0 0a1.0 1.0 0 1 0 -2.0 0M82.9 146.3a1.0 1.0 0 1 0 2.0 0a1.0 1.0 0 1 0 -2.0 0M86.3 107.1a1.0 1.0 0 1 0 2.0 0a1.0 1.0 0 1 0 -2.0 0M90.3 132.7a1.0 1.0 0 1 0 2.0 0a1.0 1.0 0 1 0 -2.0 0M92.1 93.4a1.0 1.0 0 1 0 2.0 0a1.0 1.0 0 1 0 -2.0 0M85.1 135.2a1.0 1.0 0 1 0 2.0 0a1.0 1.0 0 1 0 -2.0 0M86.6 117.8a1.0 1.0 0 1 0 2.0 0a1.0 1.0 0 1 0 -2.0 0M89.2 146.6a1.0 1.0 0 1 0 2.0 0a1.0 1.0 0 1 0 -2.0 0M82.4 136.1a1.0 1.0 0 1 0 2.0 0a1.0 1.0 0 1 0 -2.0 0M92.0 155.0a1.0 1.0 0 1 0 2.0 0a1.0 1.0 0 1 0 -2.0 0M89.5 93.2a1.0 1.0 0 1 0 2.0 0a1.0 1.0 0 1 0 -2.0 0M90.4 161.5a1.0 1.0 0 1 0 2.0 0a1.0 1.0 0 1 0 -2.0 0M88.6 101.6a1.0 1.0 0 1 0 2.0 0a1.0 1.0 0 1 0 -2.0 0M85.5 102.3a1.0 1.0 0 1 0 2.0 0a1.0 1.0 0 1 0 -2.0 0M89.8 90.4a1.0 1.0 0 1 0 2.0 0a1.0 1.0 0 1 0 -2.0 0M83.6 156.8a1.0 1.0 0 1 0 2.0 0a1.0 1.0 0 1 0 -2.0 0M87.9 135.7a1.0 1.0 0 1 0 2.0 0a1.0 1.0 0 1 0 -2.0 0M90.5 139.7a1.0 1.0 0 1 0 2.0 0a1.0 1.0 0 1 0 -2.0 0M89.6 101.8a1.0 1.0 0 1 0 2.0 0a1.0 1.0 0 1 0 -2.0 0M83.2 132.9a1.0 1.0 0 1 0 2.0 0a1.0 1.0 0 1 0 -2.0 0M89.9 119.6a1.0 1.0 0 1 0 2.0 0a1.0 1.0 0 1 0 -2.0 0M86.6 72.7a1.0 1.0 0 1 0 2.0 0a1.0 1.0 0 1 0 -2.0 0M90.3 133.4a1.0 1.0 0 1 0 2.0 0a1.0 1.0 0 1 0 -2.0 0M86.5 110.6a1.0 1.0 0 1 0 2.0 0a1.0 1.0 0 1 0 -2.0 0M91.6 93.6a1.0 1.0 0 1 0 2.0 0a1.0 1.0 0 1 0 -2.0 0M91.4 101.1a1.0 1.0 0 1 0 2.0 0a1.0 1.0 0 1 0 -2.0 0M85.2 135.3a1.0 1.0 0 1 0 2.0 0a1.0 1.0 0 1 0 -2.0 0M89.2 157.5a1.0 1.0 0 1 0 2.0 0a1.0 1.0 0 1 0 -2.0 0M87.6 171.4a1.0 1.0 0 1 0 2.0 0a1.0 1.0 0 1 0 -2.0 0M89.7 125.5a1.0 1.0 0 1 0 2.0 0a1.0 1.0 0 1 0 -2.0 0M88.3 116.5a1.0 1.0 0 1 0 2.0 0a1.0 1.0 0 1 0 -2.0 0M89.4 113.4a1.0 1.0 0 1 0 2.0 0a1.0 1.0 0 1 0 -2.0 0M88.0 123.4a1.0 1.0 0 1 0 2.0 0a1.0 1.0 0 1 0 -2.0 0M90.6 154.5a1.0 1.0 0 1 0 2.0 0a1.0 1.0 0 1 0 -2.0 0M86.5 166.4a1.0 1.0 0 1 0 2.0 0a1.0 1.0 0 1 0 -2.0 0M82.4 94.7a1.0 1.0 0 1 0 2.0 0a1.0 1.0 0 1 0 -2.0 0M85.5 76.2a1.0 1.0 0 1 0 2.0 0a1.0 1.0 0 1 0 -2.0 0M91.8 118.1a1.0 1.0 0 1 0 2.0 0a1.0 1.0 0 1 0 -2.0 0M88.5 126.8a1.0 1.0 0 1 0 2.0 0a1.0 1.0 0 1 0 -2.0 0M90.3 135.9a1.0 1.0 0 1 0 2.0 0a1.0 1.0 0 1 0 -2.0 0M88.1 138.0a1.0 1.0 0 1 0 2.0 0a1.0 1.0 0 1 0 -2.0 0M87.9 102.5a1.0 1.0 0 1 0 2.0 0a1.0 1.0 0 1 0 -2.0 0M86.0 110.7a1.0 1.0 0 1 0 2.0 0a1.0 1.0 0 1 0 -2.0 0M89.1 167.5a1.0 1.0 0 1 0 2.0 0a1.0 1.0 0 1 0 -2.0 0M84.7 153.1a1.0 1.0 0 1 0 2.0 0a1.0 1.0 0 1 0 -2.0 0M82.9 131.2a1.0 1.0 0 1 0 2.0 0a1.0 1.0 0 1 0 -2.0 0M86.3 128.7a1.0 1.0 0 1 0 2.0 0a1.0 1.0 0 1 0 -2.0 0M90.9 101.5a1.0 1.0 0 1 0 2.0 0a1.0 1.0 0 1 0 -2.0 0M83.5 108.5a1.0 1.0 0 1 0 2.0 0a1.0 1.0 0 1 0 -2.0 0M86.8 117.7a1.0 1.0 0 1 0 2.0 0a1.0 1.0 0 1 0 -2.0 0M83.9 111.3a1.0 1.0 0 1 0 2.0 0a1.0 1.0 0 1 0 -2.0 0M85.4 131.5a1.0 1.0 0 1 0 2.0 0a1.0 1.0 0 1 0 -2.0 0M87.8 140.4a1.0 1.0 0 1 0 2.0 0a1.0 1.0 0 1 0 -2.0 0M88.7 94.5a1.0 1.0 0 1 0 2.0 0a1.0 1.0 0 1 0 -2.0 0M89.2 104.2a1.0 1.0 0 1 0 2.0 0a1.0 1.0 0 1 0 -2.0 0M84.6 99.9a1.0 1.0 0 1 0 2.0 0a1.0 1.0 0 1 0 -2.0 0M88.0 89.5a1.0 1.0 0 1 0 2.0 0a1.0 1.0 0 1 0 -2.0 0M89.3 144.6a1.0 1.0 0 1 0 2.0 0a1.0 1.0 0 1 0 -2.0 0M91.6 117.1a1.0 1.0 0 1 0 2.0 0a1.0 1.0 0 1 0 -2.0 0M84.7 123.2a1.0 1.0 0 1 0 2.0 0a1.0 1.0 0 1 0 -2.0 0M87.1 121.2a1.0 1.0 0 1 0 2.0 0a1.0 1.0 0 1 0 -2.0 0M90.1 131.9a1.0 1.0 0 1 0 2.0 0a1.0 1.0 0 1 0 -2.0 0M88.7 140.0a1.0 1.0 0 1 0 2.0 0a1.0 1.0 0 1 0 -2.0 0M90.2 133.7a1.0 1.0 0 1 0 2.0 0a1.0 1.0 0 1 0 -2.0 0M88.3 94.4a1.0 1.0 0 1 0 2.0 0a1.0 1.0 0 1 0 -2.0 0M87.5 99.7a1.0 1.0 0 1 0 2.0 0a1.0 1.0 0 1 0 -2.0 0M86.7 142.0a1.0 1.0 0 1 0 2.0 0a1.0 1.0 0 1 0 -2.0 0M86.0 158.0a1.0 1.0 0 1 0 2.0 0a1.0 1.0 0 1 0 -2.0 0M85.5 185.6a1.0 1.0 0 1 0 2.0 0a1.0 1.0 0 1 0 -2.0 0M88.3 138.4a1.0 1.0 0 1 0 2.0 0a1.0 1.0 0 1 0 -2.0 0M89.2 95.3a1.0 1.0 0 1 0 2.0 0a1.0 1.0 0 1 0 -2.0 0M82.6 165.5a1.0 1.0 0 1 0 2.0 0a1.0 1.0 0 1 0 -2.0 0M85.5 185.8a1.0 1.0 0 1 0 2.0 0a1.0 1.0 0 1 0 -2.0 0M86.4 114.2a1.0 1.0 0 1 0 2.0 0a1.0 1.0 0 1 0 -2.0 0M89.1 136.7a1.0 1.0 0 1 0 2.0 0a1.0 1.0 0 1 0 -2.0 0M86.9 137.0a1.0 1.0 0 1 0 2.0 0a1.0 1.0 0 1 0 -2.0 0M85.4 128.7a1.0 1.0 0 1 0 2.0 0a1.0 1.0 0 1 0 -2.0 0M85.3 110.0a1.0 1.0 0 1 0 2.0 0a1.0 1.0 0 1 0 -2.0 0M91.2 128.9a1.0 1.0 0 1 0 2.0 0a1.0 1.0 0 1 0 -2.0 0M86.2 165.9a1.0 1.0 0 1 0 2.0 0a1.0 1.0 0 1 0 -2.0 0M88.1 116.5a1.0 1.0 0 1 0 2.0 0a1.0 1.0 0 1 0 -2.0 0M83.6 162.6a1.0 1.0 0 1 0 2.0 0a1.0 1.0 0 1 0 -2.0 0M87.6 164.2a1.0 1.0 0 1 0 2.0 0a1.0 1.0 0 1 0 -2.0 0M83.7 86.3a1.0 1.0 0 1 0 2.0 0a1.0 1.0 0 1 0 -2.0 0M89.1 122.7a1.0 1.0 0 1 0 2.0 0a1.0 1.0 0 1 0 -2.0 0M84.6 132.1a1.0 1.0 0 1 0 2.0 0a1.0 1.0 0 1 0 -2.0 0M87.0 99.7a1.0 1.0 0 1 0 2.0 0a1.0 1.0 0 1 0 -2.0 0M91.5 117.8a1.0 1.0 0 1 0 2.0 0a1.0 1.0 0 1 0 -2.0 0M85.9 130.5a1.0 1.0 0 1 0 2.0 0a1.0 1.0 0 1 0 -2.0 0M87.6 117.0a1.0 1.0 0 1 0 2.0 0a1.0 1.0 0 1 0 -2.0 0M88.0 76.5a1.0 1.0 0 1 0 2.0 0a1.0 1.0 0 1 0 -2.0 0M83.8 117.8a1.0 1.0 0 1 0 2.0 0a1.0 1.0 0 1 0 -2.0 0M91.3 90.2a1.0 1.0 0 1 0 2.0 0a1.0 1.0 0 1 0 -2.0 0M85.3 94.9a1.0 1.0 0 1 0 2.0 0a1.0 1.0 0 1 0 -2.0 0M82.8 95.4a1.0 1.0 0 1 0 2.0 0a1.0 1.0 0 1 0 -2.0 0M87.0 126.9a1.0 1.0 0 1 0 2.0 0a1.0 1.0 0 1 0 -2.0 0M91.4 132.6a1.0 1.0 0 1 0 2.0 0a1.0 1.0 0 1 0 -2.0 0M91.3 119.4a1.0 1.0 0 1 0 2.0 0a1.0 1.0 0 1 0 -2.0 0M86.9 114.5a1.0 1.0 0 1 0 2.0 0a1.0 1.0 0 1 0 -2.0 0M85.2 136.9a1.0 1.0 0 1 0 2.0 0a1.0 1.0 0 1 0 -2.0 0M90.8 132.7a1.0 1.0 0 1 0 2.0 0a1.0 1.0 0 1 0 -2.0 0M83.0 107.5a1.0 1.0 0 1 0 2.0 0a1.0 1.0 0 1 0 -2.0 0M90.1 117.7a1.0 1.0 0 1 0 2.0 0a1.0 1.0 0 1 0 -2.0 0M83.7 120.2a1.0 1.0 0 1 0 2.0 0a1.0 1.0 0 1 0 -2.0 0M86.7 99.3a1.0 1.0 0 1 0 2.0 0a1.0 1.0 0 1 0 -2.0 0M92.0 134.7a1.0 1.0 0 1 0 2.0 0a1.0 1.0 0 1 0 -2.0 0M88.7 121.7a1.0 1.0 0 1 0 2.0 0a1.0 1.0 0 1 0 -2.0 0M92.4 139.7a1.0 1.0 0 1 0 2.0 0a1.0 1.0 0 1 0 -2.0 0M88.9 137.6a1.0 1.0 0 1 0 2.0 0a1.0 1.0 0 1 0 -2.0 0M83.5 35.9a1.0 1.0 0 1 0 2.0 0a1.0 1.0 0 1 0 -2.0 0" fill="#c51b7d" fill-opacity="0.55"/>
<path d="M90.3 112.4a1.0 1.0 0 1 0 2.0 0a1.0 1.0 0 1 0 -2.0 0M92.1 123.8a1.0 1.0 0 1 0 2.0 0a1.0 1.0 0 1 0 -2.0 0M84.6 121.0a1.0 1.0 0 1 0 2.0 0a1.0 1.0 0 1 0 -2.0 0M85.2 108.6a1.0 1.0 0 1 0 2.0 0a1.0 1.0 0 1 0 -2.0 0M90.9 127.4a1.0 1.0 0 1 0 2.0 0a1.0 1.0 0 1 0 -2.0 0M82.8 118.4a1.0 1.0 0 1 0 2.0 0a1.0 1.0 0 1 0 -2.0 0M83.7 133.2a1.0 1.0 0 1 0 2.0 0a1.0 1.0 0 1 0 -2.0 0M86.2 129.9a1.0 1.0 0 1 0 2.0 0a1.0 1.0 0 1 0 -2.0 0M84.7 137.5a1.0 1.0 0 1 0 2.0 0a1.0 1.0 0 1 0 -2.0 0M85.4 136.0a1.0 1.0 0 1 0 2.0 0a1.0 1.0 0 1 0 -2.0 0M83.7 103.1a1.0 1.0 0 1 0 2.0 0a1.0 1.0 0 1 0 -2.0 0M88.8 143.1a1.0 1.0 0 1 0 2.0 0a1.0 1.0 0 1 0 -2.0 0M87.0 150.8a1.0 1.0 0 1 0 2.0 0a1.0 1.0 0 1 0 -2.0 0M89.8 142.0a1.0 1.0 0 1 0 2.0 0a1.0 1.0 0 1 0 -2.0 0M87.5 168.2a1.0 1.0 0 1 0 2.0 0a1.0 1.0 0 1 0 -2.0 0M88.8 138.0a1.0 1.0 0 1 0 2.0 0a1.0 1.0 0 1 0 -2.0 0M83.1 137.1a1.0 1.0 0 1 0 2.0 0a1.0 1.0 0 1 0 -2.0 0M84.7 159.7a1.0 1.0 0 1 0 2.0 0a1.0 1.0 0 1 0 -2.0 0M89.0 128.1a1.0 1.0 0 1 0 2.0 0a1.0 1.0 0 1 0 -2.0 0M85.3 142.8a1.0 1.0 0 1 0 2.0 0a1.0 1.0 0 1 0 -2.0 0M86.2 127.0a1.0 1.0 0 1 0 2.0 0a1.0 1.0 0 1 0 -2.0 0M91.9 148.3a1.0 1.0 0 1 0 2.0 0a1.0 1.0 0 1 0 -2.0 0M87.1 154.4a1.0 1.0 0 1 0 2.0 0a1.0 1.0 0 1 0 -2.0 0M86.4 111.9a1.0 1.0 0 1 0 2.0 0a1.0 1.0 0 1 0 -2.0 0M82.9 132.6a1.0 1.0 0 1 0 2.0 0a1.0 1.0 0 1 0 -2.0 0M83.5 147.3a1.0 1.0 0 1 0 2.0 0a1.0 1.0 0 1 0 -2.0 0M83.5 141.8a1.0 1.0 0 1 0 2.0 0a1.0 1.0 0 1 0 -2.0 0M88.5 106.6a1.0 1.0 0 1 0 2.0 0a1.0 1.0 0 1 0 -2.0 0M83.7 135.1a1.0 1.0 0 1 0 2.0 0a1.0 1.0 0 1 0 -2.0 0M83.5 126.8a1.0 1.0 0 1 0 2.0 0a1.0 1.0 0 1 0 -2.0 0M88.7 121.2a1.0 1.0 0 1 0 2.0 0a1.0 1.0 0 1 0 -2.0 0M90.7 162.6a1.0 1.0 0 1 0 2.0 0a1.0 1.0 0 1 0 -2.0 0M83.7 85.9a1.0 1.0 0 1 0 2.0 0a1.0 1.0 0 1 0 -2.0 0M92.3 139.3a1.0 1.0 0 1 0 2.0 0a1.0 1.0 0 1 0 -2.0 0M85.1 143.8a1.0 1.0 0 1 0 2.0 0a1.0 1.0 0 1 0 -2.0 0M91.4 173.1a1.0 1.0 0 1 0 2.0 0a1.0 1.0 0 1 0 -2.0 0M92.0 128.9a1.0 1.0 0 1 0 2.0 0a1.0 1.0 0 1 0 -2.0 0M86.3 86.2a1.0 1.0 0 1 0 2.0 0a1.0 1.0 0 1 0 -2.0 0M83.0 119.4a1.0 1.0 0 1 0 2.0 0a1.0 1.0 0 1 0 -2.0 0M91.6 142.2a1.0 1.0 0 1 0 2.0 0a1.0 1.0 0 1 0 -2.0 0M86.7 153.6a1.0 1.0 0 1 0 2.0 0a1.0 1.0 0 1 0 -2.0 0M92.4 155.3a1.0 1.0 0 1 0 2.0 0a1.0 1.0 0 1 0 -2.0 0M84.7 143.2a1.0 1.0 0 1 0 2.0 0a1.0 1.0 0 1 0 -2.0 0M87.1 140.3a1.0 1.0 0 1 0 2.0 0a1.0 1.0 0 1 0 -2.0 0M82.3 143.0a1.0 1.0 0 1 0 2.0 0a1.0 1.0 0 1 0 -2.0 0M85.3 131.0a1.0 1.0 0 1 0 2.0 0a1.0 1.0 0 1 0 -2.0 0M87.7 134.5a1.0 1.0 0 1 0 2.0 0a1.0 1.0 0 1 0 -2.0 0M83.9 118.9a1.0 1.0 0 1 0 2.0 0a1.0 1.0 0 1 0 -2.0 0M89.4 84.5a1.0 1.0 0 1 0 2.0 0a1.0 1.0 0 1 0 -2.0 0M84.5 130.6a1.0 1.0 0 1 0 2.0 0a1.0 1.0 0 1 0 -2.0 0M85.1 131.7a1.0 1.0 0 1 0 2.0 0a1.0 1.0 0 1 0 -2.0 0M91.5 107.7a1.0 1.0 0 1 0 2.0 0a1.0 1.0 0 1 0 -2.0 0M82.8 149.7a1.0 1.0 0 1 0 2.0 0a1.0 1.0 0 1 0 -2.0 0M91.0 103.2a1.0 1.0 0 1 0 2.0 0a1.0 1.0 0 1 0 -2.0 0M82.3 131.5a1.0 1.0 0 1 0 2.0 0a1.0 1.0 0 1 0 -2.0 0M88.6 161.6a1.0 1.0 0 1 0 2.0 0a1.0 1.0 0 1 0 -2.0 0M86.8 154.4a1.0 1.0 0 1 0 2.0 0a1.0 1.0 0 1 0 -2.0 0M91.4 60.7a1.0 1.0 0 1 0 2.0 0a1.0 1.0 0 1 0 -2.0 0M87.1 95.6a1.0 1.0 0 1 0 2.0 0a1.0 1.0 0 1 0 -2.0 0M92.1 132.5a1.0 1.0 0 1 0 2.0 0a1.0 1.0 0 1 0 -2.0 0M84.2 123.3a1.0 1.0 0 1 0 2.0 0a1.0 1.0 0 1 0 -2.0 0M90.3 110.8a1.0 1.0 0 1 0 2.0 0a1.0 1.0 0 1 0 -2.0 0M85.7 106.5a1.0 1.0 0 1 0 2.0 0a1.0 1.0 0 1 0 -2.0 0M90.6 123.9a1.0 1.0 0 1 0 2.0 0a1.0 1.0 0 1 0 -2.0 0M87.9 113.3a1.0 1.0 0 1 0 2.0 0a1.0 1.0 0 1 0 -2.0 0M84.8 106.5a1.0 1.0 0 1 0 2.0 0a1.0 1.0 0 1 0 -2.0 0M87.9 147.2a1.0 1.0 0 1 0 2.0 0a1.0 1.0 0 1 0 -2.0 0M83.3 143.2a1.0 1.0 0 1 0 2.0 0a1.0 1.0 0 1 0 -2.0 0M85.6 87.0a1.0 1.0 0 1 0 2.0 0a1.0 1.0 0 1 0 -2.0 0M87.8 129.7a1.0 1.0 0 1 0 2.0 0a1.0 1.0 0 1 0 -2.0 0M83.2 108.1a1.0 1.0 0 1 0 2.0 0a1.0 1.0 0 1 0 -2.0 0M83.6 106.5a1.0 1.0 0 1 0 2.0 0a1.0 1.0 0 1 0 -2.0 0M86.4 114.8a1.0 1.0 0 1 0 2.0 0a1.0 1.0 0 1 0 -2.0 0M85.5 138.8a1.0 1.0 0 1 0 2.0 0a1.0 1.0 0 1 0 -2.0 0M88.6 121.3a1.0 1.0 0 1 0 2.0 0a1.0 1.0 0 1 0 -2.0 0M83.5 130.3a1.0 1.0 0 1 0 2.0 0a1.0 1.0 0 1 0 -2.0 0M86.3 145.2a1.0 1.0 0 1 0 2.0 0a1.0 1.0 0 1 0 -2.0 0M87.5 124.7a1.0 1.0 0 1 0 2.0 0a1.0 1.0 0 1 0 -2.0 0M88.1 153.8a1.0 1.0 0 1 0 2.0 0a1.0 1.0 0 1 0 -2.0 0M85.7 95.3a1.0 1.0 0 1 0 2.0 0a1.0 1.0 0 1 0 -2.0 0M83.0 159.3a1.0 1.0 0 1 0 2.0 0a1.0 1.0 0 1 0 -2.0 0M89.1 117.7a1.0 1.0 0 1 0 2.0 0a1.0 1.0 0 1 0 -2.0 0M92.4 134.6a1.0 1.0 0 1 0 2.0 0a1.0 1.0 0 1 0 -2.0 0M88.9 118.8a1.0 1.0 0 1 0 2.0 0a1.0 1.0 0 1 0 -2.0 0M89.7 165.7a1.0 1.0 0 1 0 2.0 0a1.0 1.0 0 1 0 -2.0 0M92.3 155.9a1.0 1.0 0 1 0 2.0 0a1.0 1.0 0 1 0 -2.0 0M82.9 157.4a1.0 1.0 0 1 0 2.0 0a1.0 1.0 0 1 0 -2.0 0M90.6 103.0a1.0 1.0 0 1 0 2.0 0a1.0 1.0 0 1 0 -2.0 0M85.5 111.5a1.0 1.0 0 1 0 2.0 0a1.0 1.0 0 1 0 -2.0 0M85.1 156.1a1.0 1.0 0 1 0 2.0 0a1.0 1.0 0 1 0 -2.0 0M85.4 162.9a1.0 1.0 0 1 0 2.0 0a1.0 1.0 0 1 0 -2.0 0M92.4 130.7a1.0 1.0 0 1 0 2.0 0a1.0 1.0 0 1 0 -2.0 0M92.3 90.8a1.0 1.0 0 1 0 2.0 0a1.0 1.0 0 1 0 -2.0 0M91.4 173.2a1.0 1.0 0 1 0 2.0 0a1.0 1.0 0 1 0 -2.0 0M85.1 100.3a1.0 1.0 0 1 0 2.0 0a1.0 1.0 0 1 0 -2.0 0M92.3 148.0a1.0 1.0 0 1 0 2.0 0a1.0 1.0 0 1 0 -2.0 0M90.7 82.3a1.0 1.0 0 1 0 2.0 0a1.0 1.0 0 1 0 -2.0 0M84.2 149.3a1.0 1.0 0 1 0 2.0 0a1.0 1.0 0 1 0 -2.0 0M82.4 142.0a1.0 1.0 0 1 0 2.0 0a1.0 1.0 0 1 0 -2.0 0M83.8 174.3a1.0 1.0 0 1 0 2.0 0a1.0 1.0 0 1 0 -2.0 0M91.7 168.3a1.0 1.0 0 1 0 2.0 0a1.0 1.0 0 1 0 -2.0 0M87.0 101.8a1.0 1.0 0 1 0 2.0 0a1.0 1.0 0 1 0 -2.0 0M87.8 99.4a1.0 1.0 0 1 0 2.0 0a1.0 1.0 0 1 0 -2.0 0M86.4 120.8a1.0 1.0 0 1 0 2.0 0a1.0 1.0 0 1 0 -2.0 0M90.7 139.3a1.0 1.0 0 1 0 2.0 0a1.0 1.0 0 1 0 -2.0 0M88.6 134.9a1.0 1.0 0 1 0 2.0 0a1.0 1.0 0 1 0 -2.0 0M83.4 137.2a1.0 1.0 0 1 0 2.0 0a1.0 1.0 0 1 0 -2.0 0M85.7 131.5a1.0 1.0 0 1 0 2.0 0a1.0 1.0 0 1 0 -2.0 0M91.8 106.1a1.0 1.0 0 1 0 2.0 0a1.0 1.0 0 1 0 -2.0 0M84.4 148.7a1.0 1.0 0 1 0 2.0 0a1.0 1.0 0 1 0 -2.0 0M87.1 119.1a1.0 1.0 0 1 0 2.0 0a1.0 1.0 0 1 0 -2.0 0M87.8 96.2a1.0 1.0 0 1 0 2.0 0a1.0 1.0 0 1 0 -2.0 0M86.9 108.1a1.0 1.0 0 1 0 2.0 0a1.0 1.0 0 1 0 -2.0 0M83.1 124.9a1.0 1.0 0 1 0 2.0 0a1.0 1.0 0 1 0 -2.0 0M90.4 121.5a1.0 1.0 0 1 0 2.0 0a1.0 1.0 0 1 0 -2.0 0M90.2 113.2a1.0 1.0 0 1 0 2.0 0a1.0 1.0 0 1 0 -2.0 0M87.0 158.6a1.0 1.0 0 1 0 2.0 0a1.0 1.0 0 1 0 -2.0 0M92.0 162.7a1.0 1.0 0 1 0 2.0 0a1.0 1.0 0 1 0 -2.0 0M84.4 128.4a1.0 1.0 0 1 0 2.0 0a1.0 1.0 0 1 0 -2.0 0M84.7 111.4a1.0 1.0 0 1 0 2.0 0a1.0 1.0 0 1 0 -2.0 0M91.4 122.7a1.0 1.0 0 1 0 2.0 0a1.0 1.0 0 1 0 -2.0 0M88.5 116.6a1.0 1.0 0 1 0 2.0 0a1.0 1.0 0 1 0 -2.0 0M83.0 101.3a1.0 1.0 0 1 0 2.0 0a1.0 1.0 0 1 0 -2.0 0M85.1 119.6a1.0 1.0 0 1 0 2.0 0a1.0 1.0 0 1 0 -2.0 0M92.1 163.3a1.0 1.0 0 1 0 2.0 0a1.0 1.0 0 1 0 -2.0 0M88.0 159.4a1.0 1.0 0 1 0 2.0 0a1.0 1.0 0 1 0 -2.0 0M85.2 126.4a1.0 1.0 0 1 0 2.0 0a1.0 1.0 0 1 0 -2.0 0M82.4 97.8a1.0 1.0 0 1 0 2.0 0a1.0 1.0 0 1 0 -2.0 0M84.8 93.1a1.0 1.0 0 1 0 2.0 0a1.0 1.0 0 1 0 -2.0 0M92.1 157.5a1.0 1.0 0 1 0 2.0 0a1.0 1.0 0 1 0 -2.0 0M84.4 116.2a1.0 1.0 0 1 0 2.0 0a1.0 1.0 0 1 0 -2.0 0M88.7 70.6a1.0 1.0 0 1 0 2.0 0a1.0 1.0 0 1 0 -2.0 0M90.0 142.2a1.0 1.0 0 1 0 2.0 0a1.0 1.0 0 1 0 -2.0 0M89.2 158.9a1.0 1.0 0 1 0 2.0 0a1.0 1.0 0 1 0 -2.0 0M83.8 150.8a1.0 1.0 0 1 0 2.0 0a1.0 1.0 0 1 0 -2.0 0M86.8 109.3a1.0 1.0 0 1 0 2.0 0a1.0 1.0 0 1 0 -2.0 0M89.1 140.3a1.0 1.0 0 1 0 2.0 0a1.0 1.0 0 1 0 -2.0 0M89.6 155.2a1.0 1.0 0 1 0 2.0 0a1.0 1.0 0 1 0 -2.0 0M89.3 157.2a1.0 1.0 0 1 0 2.0 0a1.0 1.0 0 1 0 -2.0 0M88.0 127.0a1.0 1.0 0 1 0 2.0 0a1.0 1.0 0 1 0 -2.0 0M83.3 166.9a1.0 1.0 0 1 0 2.0 0a1.0 1.0 0 1 0 -2.0 0M88.9 109.2a1.0 1.0 0 1 0 2.0 0a1.0 1.0 0 1 0 -2.0 0M87.6 109.2a1.0 1.0 0 1 0 2.0 0a1.0 1.0 0 1 0 -2.0 0M90.0 153.8a1.0 1.0 0 1 0 2.0 0a1.0 1.0 0 1 0 -2.0 0M82.7 101.2a1.0 1.0 0 1 0 2.0 0a1.0 1.0 0 1 0 -2.0 0M87.5 101.7a1.0 1.0 0 1 0 2.0 0a1.0 1.0 0 1 0 -2.0 0M89.5 91.5a1.0 1.0 0 1 0 2.0 0a1.0 1.0 0 1 0 -2.0 0M87.3 130.6a1.0 1.0 0 1 0 2.0 0a1.0 1.0 0 1 0 -2.0 0M82.4 98.7a1.0 1.0 0 1 0 2.0 0a1.0 1.0 0 1 0 -2.0 0M90.2 105.0a1.0 1.0 0 1 0 2.0 0a1.0 1.0 0 1 0 -2.0 0M83.0 144.0a1.0 1.0 0 1 0 2.0 0a1.0 1.0 0 1 0 -2.0 0M83.9 105.3a1.0 1.0 0 1 0 2.0 0a1.0 1.0 0 1 0 -2.0 0M86.5 121.7a1.0 1.0 0 1 0 2.0 0a1.0 1.0 0 1 0 -2.0 0M83.4 147.9a1.0 1.0 0 1 0 2.0 0a1.0 1.0 0 1 0 -2.0 0M86.5 154.5a1.0 1.0 0 1 0 2.0 0a1.0 1.0 0 1 0 -2.0 0M88.0 151.6a1.0 1.0 0 1 0 2.0 0a1.0 1.0 0 1 0 -2.0 0M83.1 140.4a1.0 1.0 0 1 0 2.0 0a1.0 1.0 0 1 0 -2.0 0M90.0 126.2a1.0 1.0 0 1 0 2.0 0a1.0 1.0 0 1 0 -2.0 0M89.3 133.3a1.0 1.0 0 1 0 2.0 0a1.0 1.0 0 1 0 -2.0 0M91.8 115.7a1.0 1.0 0 1 0 2.0 0a1.0 1.0 0 1 0 -2.0 0M86.9 147.0a1.0 1.0 0 1 0 2.0 0a1.0 1.0 0 1 0 -2.0 0M87.5 110.6a1.0 1.0 0 1 0 2.0 0a1.0 1.0 0 1 0 -2.0 0M92.2 128.5a1.0 1.0 0 1 0 2.0 0a1.0 1.0 0 1 0 -2.0 0M83.4 140.9a1.0 1.0 0 1 0 2.0 0a1.0 1.0 0 1 0 -2.0 0M90.2 149.3a1.0 1.0 0 1 0 2.0 0a1.0 1.0 0 1 0 -2.0 0M85.4 150.4a1.0 1.0 0 1 0 2.0 0a1.0 1.0 0 1 0 -2.0 0M86.1 134.0a1.0 1.0 0 1 0 2.0 0a1.0 1.0 0 1 0 -2.0 0M84.2 165.0a1.0 1.0 0 1 0 2.0 0a1.0 1.0 0 1 0 -2.0 0M86.6 120.4a1.0 1.0 0 1 0 2.0 0a1.0 1.0 0 1 0 -2.0 0M91.8 128.9a1.0 1.0 0 1 0 2.0 0a1.0 1.0 0 1 0 -2.0 0M91.7 108.1a1.0 1.0 0 1 0 2.0 0a1.0 1.0 0 1 0 -2.0 0M85.8 151.9a1.0 1.0 0 1 0 2.0 0a1.0 1.0 0 1 0 -2.0 0M87.0 78.8a1.0 1.0 0 1 0 2.0 0a1.0 1.0 0 1 0 -2.0 0M85.6 142.0a1.0 1.0 0 1 0 2.0 0a1.0 1.0 0 1 0 -2.0 0M87.9 116.8a1.0 1.0 0 1 0 2.0 0a1.0 1.0 0 1 0 -2.0 0M90.3 146.4a1.0 1.0 0 1 0 2.0 0a1.0 1.0 0 1 0 -2.0 0M85.2 132.3a1.0 1.0 0 1 0 2.0 0a1.0 1.0 0 1 0 -2.0 0M90.0 115.0a1.0 1.0 0 1 0 2.0 0a1.0 1.0 0 1 0 -2.0 0M88.0 118.9a1.0 1.0 0 1 0 2.0 0a1.0 1.0 0 1 0 -2.0 0M87.9 100.3a1.0 1.0 0 1 0 2.0 0a1.0 1.0 0 1 0 -2.0 0M87.6 145.5a1.0 1.0 0 1 0 2.0 0a1.0 1.0 0 1 0 -2.0 0M85.0 149.5a1.0 1.0 0 1 0 2.0 0a1.0 1.0 0 1 0 -2.0 0M89.9 134.8a1.0 1.0 0 1 0 2.0 0a1.0 1.0 0 1 0 -2.0 0M90.9 38.9a1.0 1.0 0 1 0 2.0 0a1.0 1.0 0 1 0 -2.0 0" fill="#c51b7d" fill-opacity="0.55"/>
<path d="M127.7 145.4a1.0 1.0 0 1 0 2.0 0a1.0 1.0 0 1 0 -2.0 0M126.3 103.7a1.0 1.0 0 1 0 2.0 0a1.0 1.0 0 1 0 -2.0 0M127.0 68.5a1.0 1.0 0 1 0 2.0 0a1.0 1.0 0 1 0 -2.0 0M125.1 88.4a1.0 1.0 0 1 0 2.0 0a1.0 1.0 0 1 0 -2.0 0M134.4 113.9a1.0 1.0 0 1 0 2.0 0a1.0 1.0 0 1 0 -2.0 0M128.8 100.4a1.0 1.0 0 1 0 2.0 0a1.0 1.0 0 1 0 -2.0 0M129.0 101.9a1.0 1.0 0 1 0 2.0 0a1.0 1.0 0 1 0 -2.0 0M125.1 137.3a1.0 1.0 0 1 0 2.0 0a1.0 1.0 0 1 0 -2.0 0M134.6 128.8a1.0 1.0 0 1 0 2.0 0a1.0 1.0 0 1 0 -2.0 0M130.2 144.9a1.0 1.0 0 1 0 2.0 0a1.0 1.0 0 1 0 -2.0 0M133.0 119.7a1.0 1.0 0 1 0 2.0 0a1.0 1.0 0 1 0 -2.0 0M131.1 106.8a1.0 1.0 0 1 0 2.0 0a1.0 1.0 0 1 0 -2.0 0M127.6 138.0a1.0 1.0 0 1 0 2.0 0a1.0 1.0 0 1 0 -2.0 0M130.6 141.1a1.0 1.0 0 1 0 2.0 0a1.0 1.0 0 1 0 -2.0 0M128.6 124.8a1.0 1.0 0 1 0 2.0 0a1.0 1.0 0 1 0 -2.0 0M132.0 89.0a1.0 1.0 0 1 0 2.0 0a1.0 1.0 0 1 0 -2.0 0M126.0 95.8a1.0 1.0 0 1 0 2.0 0a1.0 1.0 0 1 0 -2.0 0M127.1 113.1a1.0 1.0 0 1 0 2.0 0a1.0 1.0 0 1 0 -2.0 0M133.1 116.3a1.0 1.0 0 1 0 2.0 0a1.0 1.0 0 1 0 -2.0 0M134.7 80.1a1.0 1.0 0 1 0 2.0 0a1.0 1.0 0 1 0 -2.0 0M130.5 138.2a1.0 1.0 0 1 0 2.0 0a1.0 1.0 0 1 0 -2.0 0M124.7 92.2a1.0 1.0 0 1 0 2.0 0a1.0 1.0 0 1 0 -2.0 0M127.1 93.2a1.0 1.0 0 1 0 2.0 0a1.0 1.0 0 1 0 -2.0 0M130.7 150.4a1.0 1.0 0 1 0 2.0 0a1.0 1.0 0 1 0 -2.0 0M134.2 98.0a1.0 1.0 0 1 0 2.0 0a1.0 1.0 0 1 0 -2.0 0M129.6 96.8a1.0 1.0 0 1 0 2.0 0a1.0 1.0 0 1 0 -2.0 0M125.5 85.6a1.0 1.0 0 1 0 2.0 0a1.0 1.0 0 1 0 -2.0 0M126.3 94.3a1.0 1.0 0 1 0 2.0 0a1.0 1.0 0 1 0 -2.0 0M125.5 123.6a1.0 1.0 0 1 0 2.0 0a1.0 1.0 0 1 0 -2.0 0M127.5 101.0a1.0 1.0 0 1 0 2.0 0a1.0 1.0 0 1 0 -2.0 0M127.9 129.8a1.0 1.0 0 1 0 2.0 0a1.0 1.0 0 1 0 -2.0 0M128.9 135.1a1.0 1.0 0 1 0 2.0 0a1.0 1.0 0 1 0 -2.0 0M129.2 117.9a1.0 1.0 0 1 0 2.0 0a1.0 1.0 0 1 0 -2.0 0M129.0 121.0a1.0 1.0 0 1 0 2.0 0a1.0 1.0 0 1 0 -2.0 0M130.4 94.7a1.0 1.0 0 1 0 2.0 0a1.0 1.0 0 1 0 -2.0 0M129.2 103.5a1.0 1.0 0 1 0 2.0 0a1.0 1.0 0 1 0 -2.0 0M126.3 102.4a1.0 1.0 0 1 0 2.0 0a1.0 1.0 0 1 0 -2.0 0M131.6 124.6a1.0 1.0 0 1 0 2.0 0a1.0 1.0 0 1 0 -2.0 0M133.5 93.2a1.0 1.0 0 1 0 2.0 0a1.0 1.0 0 1 0 -2.0 0M128.6 100.4a1.0 1.0 0 1 0 2.0 0a1.0 1.0 0 1 0 -2.0 0M133.4 99.2a1.0 1.0 0 1 0 2.0 0a1.0 1.0 0 1 0 -2.0 0M131.8 122.7a1.0 1.0 0 1 0 2.0 0a1.0 1.0 0 1 0 -2.0 0M130.8 115.9a1.0 1.0 0 1 0 2.0 0a1.0 1.0 0 1 0 -2.0 0M134.6 101.5a1.0 1.0 0 1 0 2.0 0a1.0 1.0 0 1 0 -2.0 0M126.4 86.9a1.0 1.0 0 1 0 2.0 0a1.0 1.0 0 1 0 -2.0 0M131.1 84.3a1.0 1.0 0 1 0 2.0 0a1.0 1.0 0 1 0 -2.0 0M126.4 145.8a1.0 1.0 0 1 0 2.0 0a1.0 1.0 0 1 0 -2.0 0M128.8 114.2a1.0 1.0 0 1 0 2.0 0a1.0 1.0 0 1 0 -2.0 0M131.1 107.1a1.0 1.0 0 1 0 2.0 0a1.0 1.0 0 1 0 -2.0 0M132.0 100.4a1.0 1.0 0 1 0 2.0 0a1.0 1.0 0 1 0 -2.0 0M127.8 122.1a1.0 1.0 0 1 0 2.0 0a1.0 1.0 0 1 0 -2.0 0M130.0 118.0a1.0 1.0 0 1 0 2.0 0a1.0 1.0 0 1 0 -2.0 0M134.4 151.2a1.0 1.0 0 1 0 2.0 0a1.0 1.0 0 1 0 -2.0 0M133.6 149.6a1.0 1.0 0 1 0 2.0 0a1.0 1.0 0 1 0 -2.0 0M128.5 100.4a1.0 1.0 0 1 0 2.0 0a1.0 1.0 0 1 0 -2.0 0M132.2 114.7a1.0 1.0 0 1 0 2.0 0a1.0 1.0 0 1 0 -2.0 0M131.3 105.4a1.0 1.0 0 1 0 2.0 0a1.0 1.0 0 1 0 -2.0 0M125.3 97.0a1.0 1.0 0 1 0 2.0 0a1.0 1.0 0 1 0 -2.0 0M131.0 140.0a1.0 1.0 0 1 0 2.0 0a1.0 1.0 0 1 0 -2.0 0M128.1 116.5a1.0 1.0 0 1 0 2.0 0a1.0 1.0 0 1 0 -2.0 0M129.3 98.7a1.0 1.0 0 1 0 2.0 0a1.0 1.0 0 1 0 -2.0 0M131.6 92.6a1.0 1.0 0 1 0 2.0 0a1.0 1.0 0 1 0 -2.0 0M134.4 137.3a1.0 1.0 0 1 0 2.0 0a1.0 1.0 0 1 0 -2.0 0M125.9 107.1a1.0 1.0 0 1 0 2.0 0a1.0 1.0 0 1 0 -2.0 0M128.5 134.7a1.0 1.0 0 1 0 2.0 0a1.0 1.0 0 1 0 -2.0 0M126.8 122.0a1.0 1.0 0 1 0 2.0 0a1.0 1.0 0 1 0 -2.0 0M126.8 108.7a1.0 1.0 0 1 0 2.0 0a1.0 1.0 0 1 0 -2.0 0M126.1 94.4a1.0 1.0 0 1 0 2.0 0a1.0 1.0 0 1 0 -2.0 0M130.7 111.9a1.0 1.0 0 1 0 2.0 0a1.0 1.0 0 1 0 -2.0 0M129.3 107.2a1.0 1.0 0 1 0 2.0 0a1.0 1.0 0 1 0 -2.0 0M126.4 159.5a1.0 1.0 0 1 0 2.0 0a1.0 1.0 0 1 0 -2.0 0M127.4 133.6a1.0 1.0 0 1 0 2.0 0a1.0 1.0 0 1 0 -2.0 0M134.1 72.7a1.0 1.0 0 1 0 2.0 0a1.0 1.0 0 1 0 -2.0 0M130.8 106.4a1.0 1.0 0 1 0 2.0 0a1.0 1.0 0 1 0 -2.0 0M131.6 116.4a1.0 1.0 0 1 0 2.0 0a1.0 1.0 0 1 0 -2.0 0M130.6 111.0a1.0 1.0 0 1 0 2.0 0a1.0 1.0 0 1 0 -2.0 0M128.6 155.4a1.0 1.0 0 1 0 2.0 0a1.0 1.0 0 1 0 -2.0 0M128.9 108.0a1.0 1.0 0 1 0 2.0 0a1.0 1.0 0 1 0 -2.0 0M128.8 101.4a1.0 1.0 0 1 0 2.0 0a1.0 1.0 0 1 0 -2.0 0M131.3 97.6a1.0 1.0 0 1 0 2.0 0a1.0 1.0 0 1 0 -2.0 0M125.8 127.4a1.0 1.0 0 1 0 2.0 0a1.0 1.0 0 1 0 -2.0 0M130.8 105.4a1.0 1.0 0 1 0 2.0 0a1.0 1.0 0 1 0 -2.0 0M132.6 110.5a1.0 1.0 0 1 0 2.0 0a1.0 1.0 0 1 0 -2.0 0M130.3 94.5a1.0 1.0 0 1 0 2.0 0a1.0 1.0 0 1 0 -2.0 0M132.7 138.7a1.0 1.0 0 1 0 2.0 0a1.0 1.0 0 1 0 -2.0 0M127.3 127.0a1.0 1.0 0 1 0 2.0 0a1.0 1.0 0 1 0 -2.0 0M133.6 123.8a1.0 1.0 0 1 0 2.0 0a1.0 1.0 0 1 0 -2.0 0M131.1 153.0a1.0 1.0 0 1 0 2.0 0a1.0 1.0 0 1 0 -2.0 0M126.7 111.5a1.0 1.0 0 1 0 2.0 0a1.0 1.0 0 1 0 -2.0 0M130.2 111.7a1.0 1.0 0 1 0 2.0 0a1.0 1.0 0 1 0 -2.0 0M133.8 141.9a1.0 1.0 0 1 0 2.0 0a1.0 1.0 0 1 0 -2.0 0M124.8 129.7a1.0 1.0 0 1 0 2.0 0a1.0 1.0 0 1 0 -2.0 0M130.2 146.2a1.0 1.0 0 1 0 2.0 0a1.0 1.0 0 1 0 -2.0 0M127.5 95.9a1.0 1.0 0 1 0 2.0 0a1.0 1.0 0 1 0 -2.0 0M125.0 84.2a1.0 1.0 0 1 0 2.0 0a1.0 1.0 0 1 0 -2.0 0M129.0 88.2a1.0 1.0 0 1 0 2.0 0a1.0 1.0 0 1 0 -2.0 0M132.9 95.4a1.0 1.0 0 1 0 2.0 0a1.0 1.0 0 1 0 -2.0 0M131.4 142.4a1.0 1.0 0 1 0 2.0 0a1.0 1.0 0 1 0 -2.0 0M130.0 90.1a1.0 1.0 0 1 0 2.0 0a1.0 1.0 0 1 0 -2.0 0M130.2 105.4a1.0 1.0 0 1 0 2.0 0a1.0 1.0 0 1 0 -2.0 0M124.9 87.4a1.0 1.0 0 1 0 2.0 0a1.0 1.0 0 1 0 -2.0 0M126.6 148.6a1.0 1.0 0 1 0 2.0 0a1.0 1.0 0 1 0 -2.0 0M130.6 109.0a1.0 1.0 0 1 0 2.0 0a1.0 1.0 0 1 0 -2.0 0M131.7 133.1a1.0 1.0 0 1 0 2.0 0a1.0 1.0 0 1 0 -2.0 0M126.5 144.3a1.0 1.0 0 1 0 2.0 0a1.0 1.0 0 1 0 -2.0 0M132.9 76.7a1.0 1.0 0 1 0 2.0 0a1.0 1.0 0 1 0 -2.0 0M130.2 107.7a1.0 1.0 0 1 0 2.0 0a1.0 1.0 0 1 0 -2.0 0M128.4 113.5a1.0 1.0 0 1 0 2.0 0a1.0 1.0 0 1 0 -2.0 0M133.9 97.4a1.0 1.0 0 1 0 2.0 0a1.0 1.0 0 1 0 -2.0 0M130.6 92.3a1.0 1.0 0 1 0 2.0 0a1.0 1.0 0 1 0 -2.0 0M132.1 161.1a1.0 1.0 0 1 0 2.0 0a1.0 1.0 0 1 0 -2.0 0M134.6 130.7a1.0 1.0 0 1 0 2.0 0a1.0 1.0 0 1 0 -2.0 0M128.8 103.2a1.0 1.0 0 1 0 2.0 0a1.0 1.0 0 1 0 -2.0 0M125.6 118.5a1.0 1.0 0 1 0 2.0 0a1.0 1.0 0 1 0 -2.0 0M127.9 143.0a1.0 1.0 0 1 0 2.0 0a1.0 1.0 0 1 0 -2.0 0M129.2 117.2a1.0 1.0 0 1 0 2.0 0a1.0 1.0 0 1 0 -2.0 0M129.3 83.9a1.0 1.0 0 1 0 2.0 0a1.0 1.0 0 1 0 -2.0 0M132.3 124.0a1.0 1.0 0 1 0 2.0 0a1.0 1.0 0 1 0 -2.0 0M134.6 95.4a1.0 1.0 0 1 0 2.0 0a1.0 1.0 0 1 0 -2.0 0M131.8 97.3a1.0 1.0 0 1 0 2.0 0a1.0 1.0 0 1 0 -2.0 0M128.3 111.7a1.0 1.0 0 1 0 2.0 0a1.0 1.0 0 1 0 -2.0 0M125.9 101.4a1.0 1.0 0 1 0 2.0 0a1.0 1.0 0 1 0 -2.0 0M128.7 151.6a1.0 1.0 0 1 0 2.0 0a1.0 1.0 0 1 0 -2.0 0M127.4 107.3a1.0 1.0 0 1 0 2.0 0a1.0 1.0 0 1 0 -2.0 0M126.9 83.2a1.0 1.0 0 1 0 2.0 0a1.0 1.0 0 1 0 -2.0 0M127.4 114.0a1.0 1.0 0 1 0 2.0 0a1.0 1.0 0 1 0 -2.0 0M131.0 110.6a1.0 1.0 0 1 0 2.0 0a1.0 1.0 0 1 0 -2.0 0M128.0 138.9a1.0 1.0 0 1 0 2.0 0a1.0 1.0 0 1 0 -2.0 0M127.1 84.6a1.0 1.0 0 1 0 2.0 0a1.0 1.0 0 1 0 -2.0 0M126.6 140.6a1.0 1.0 0 1 0 2.0 0a1.0 1.0 0 1 0 -2.0 0M133.3 105.4a1.0 1.0 0 1 0 2.0 0a1.0 1.0 0 1 0 -2.0 0M129.4 141.9a1.0 1.0 0 1 0 2.0 0a1.0 1.0 0 1 0 -2.0 0M134.2 103.2a1.0 1.0 0 1 0 2.0 0a1.0 1.0 0 1 0 -2.0 0M130.8 104.2a1.0 1.0 0 1 0 2.0 0a1.0 1.0 0 1 0 -2.0 0M134.3 81.1a1.0 1.0 0 1 0 2.0 0a1.0 1.0 0 1 0 -2.0 0M131.6 107.0a1.0 1.0 0 1 0 2.0 0a1.0 1.0 0 1 0 -2.0 0M133.4 125.6a1.0 1.0 0 1 0 2.0 0a1.0 1.0 0 1 0 -2.0 0M134.5 84.4a1.0 1.0 0 1 0 2.0 0a1.0 1.0 0 1 0 -2.0 0M127.9 104.2a1.0 1.0 0 1 0 2.0 0a1.0 1.0 0 1 0 -2.0 0M124.7 107.4a1.0 1.0 0 1 0 2.0 0a1.0 1.0 0 1 0 -2.0 0M128.4 115.8a1.0 1.0 0 1 0 2.0 0a1.0 1.0 0 1 0 -2.0 0M130.9 99.7a1.0 1.0 0 1 0 2.0 0a1.0 1.0 0 1 0 -2.0 0M131.7 105.9a1.0 1.0 0 1 0 2.0 0a1.0 1.0 0 1 0 -2.0 0M127.2 135.8a1.0 1.0 0 1 0 2.0 0a1.0 1.0 0 1 0 -2.0 0M130.5 103.4a1.0 1.0 0 1 0 2.0 0a1.0 1.0 0 1 0 -2.0 0M128.3 134.9a1.0 1.0 0 1 0 2.0 0a1.0 1.0 0 1 0 -2.0 0M127.5 77.6a1.0 1.0 0 1 0 2.0 0a1.0 1.0 0 1 0 -2.0 0M126.3 90.9a1.0 1.0 0 1 0 2.0 0a1.0 1.0 0 1 0 -2.0 0M129.4 96.1a1.0 1.0 0 1 0 2.0 0a1.0 1.0 0 1 0 -2.0 0M131.7 141.2a1.0 1.0 0 1 0 2.0 0a1.0 1.0 0 1 0 -2.0 0M132.0 100.6a1.0 1.0 0 1 0 2.0 0a1.0 1.0 0 1 0 -2.0 0M132.2 133.9a1.0 1.0 0 1 0 2.0 0a1.0 1.0 0 1 0 -2.0 0M127.2 115.3a1.0 1.0 0 1 0 2.0 0a1.0 1.0 0 1 0 -2.0 0M124.7 97.2a1.0 1.0 0 1 0 2.0 0a1.0 1.0 0 1 0 -2.0 0M134.7 109.5a1.0 1.0 0 1 0 2.0 0a1.0 1.0 0 1 0 -2.0 0M127.4 70.5a1.0 1.0 0 1 0 2.0 0a1.0 1.0 0 1 0 -2.0 0M132.7 104.9a1.0 1.0 0 1 0 2.0 0a1.0 1.0 0 1 0 -2.0 0M131.1 104.7a1.0 1.0 0 1 0 2.0 0a1.0 1.0 0 1 0 -2.0 0M134.1 114.3a1.0 1.0 0 1 0 2.0 0a1.0 1.0 0 1 0 -2.0 0M132.8 110.5a1.0 1.0 0 1 0 2.0 0a1.0 1.0 0 1 0 -2.0 0M127.2 103.2a1.0 1.0 0 1 0 2.0 0a1.0 1.0 0 1 0 -2.0 0M132.0 137.6a1.0 1.0 0 1 0 2.0 0a1.0 1.0 0 1 0 -2.0 0M130.9 84.2a1.0 1.0 0 1 0 2.0 0a1.0 1.0 0 1 0 -2.0 0M128.5 135.0a1.0 1.0 0 1 0 2.0 0a1.0 1.0 0 1 0 -2.0 0M130.9 119.2a1.0 1.0 0 1 0 2.0 0a1.0 1.0 0 1 0 -2.0 0M124.8 101.6a1.0 1.0 0 1 0 2.0 0a1.0 1.0 0 1 0 -2.0 0M129.4 98.6a1.0 1.0 0 1 0 2.0 0a1.0 1.0 0 1 0 -2.0 0M127.5 176.0a1.0 1.0 0 1 0 2.0 0a1.0 1.0 0 1 0 -2.0 0M132.0 178.0a1.0 1.0 0 1 0 2.0 0a1.0 1.0 0 1 0 -2.0 0" fill="#7fbc41" fill-opacity="0.55"/>
<path d="M128.6 105.8a1.0 1.0 0 1 0 2.0 0a1.0 1.0 0 1 0 -2.0 0M129.3 147.7a1.0 1.0 0 1 0 2.0 0a1.0 1.0 0 1 0 -2.0 0M128.8 81.3a1.0 1.0 0 1 0 2.0 0a1.0 1.0 0 1 0 -2.0 0M128.1 127.2a1.0 1.0 0 1 0 2.0 0a1.0 1.0 0 1 0 -2.0 0M131.7 118.8a1.0 1.0 0 1 0 2.0 0a1.0 1.0 0 1 0 -2.0 0M130.2 121.3a1.0 1.0 0 1 0 2.0 0a1.0 1.0 0 1 0 -2.0 0M133.7 103.8a1.0 1.0 0 1 0 2.0 0a1.0 1.0 0 1 0 -2.0 0M132.4 160.5a1.0 1.0 0 1 0 2.0 0a1.0 1.0 0 1 0 -2.0 0M126.0 118.6a1.0 1.0 0 1 0 2.0 0a1.0 1.0 0 1 0 -2.0 0M131.3 131.3a1.0 1.0 0 1 0 2.0 0a1.0 1.0 0 1 0 -2.0 0M128.1 106.5a1.0 1.0 0 1 0 2.0 0a1.0 1.0 0 1 0 -2.0 0M132.6 146.2a1.0 1.0 0 1 0 2.0 0a1.0 1.0 0 1 0 -2.0 0M129.8 72.2a1.0 1.0 0 1 0 2.0 0a1.0 1.0 0 1 0 -2.0 0M133.6 84.2a1.0 1.0 0 1 0 2.0 0a1.0 1.0 0 1 0 -2.0 0M131.7 102.5a1.0 1.0 0 1 0 2.0 0a1.0 1.0 0 1 0 -2.0 0M127.2 98.7a1.0 1.0 0 1 0 2.0 0a1.0 1.0 0 1 0 -2.0 0M131.6 127.2a1.0 1.0 0 1 0 2.0 0a1.0 1.0 0 1 0 -2.0 0M134.1 98.9a1.0 1.0 0 1 0 2.0 0a1.0 1.0 0 1 0 -2.0 0M134.2 104.5a1.0 1.0 0 1 0 2.0 0a1.0 1.0 0 1 0 -2.0 0M128.0 144.5a1.0 1.0 0 1 0 2.0 0a1.0 1.0 0 1 0 -2.0 0M128.7 138.5a1.0 1.0 0 1 0 2.0 0a1.0 1.0 0 1 0 -2.0 0M127.3 120.5a1.0 1.0 0 1 0 2.0 0a1.0 1.0 0 1 0 -2.0 0M124.7 104.3a1.0 1.0 0 1 0 2.0 0a1.0 1.0 0 1 0 -2.0 0M130.3 132.3a1.0 1.0 0 1 0 2.0 0a1.0 1.0 0 1 0 -2.0 0M134.3 162.4a1.0 1.0 0 1 0 2.0 0a1.0 1.0 0 1 0 -2.0 0M129.7 97.4a1.0 1.0 0 1 0 2.0 0a1.0 1.0 0 1 0 -2.0 0M127.5 113.4a1.0 1.0 0 1 0 2.0 0a1.0 1.0 0 1 0 -2.0 0M131.3 119.3a1.0 1.0 0 1 0 2.0 0a1.0 1.0 0 1 0 -2.0 0M133.9 88.9a1.0 1.0 0 1 0 2.0 0a1.0 1.0 0 1 0 -2.0 0M126.7 97.4a1.0 1.0 0 1 0 2.0 0a1.0 1.0 0 1 0 -2.0 0M128.5 124.6a1.0 1.0 0 1 0 2.0 0a1.0 1.0 0 1 0 -2.0 0M126.5 104.8a1.0 1.0 0 1 0 2.0 0a1.0 1.0 0 1 0 -2.0 0M124.8 82.9a1.0 1.0 0 1 0 2.0 0a1.0 1.0 0 1 0 -2.0 0M131.5 140.6a1.0 1.0 0 1 0 2.0 0a1.0 1.0 0 1 0 -2.0 0M131.0 98.3a1.0 1.0 0 1 0 2.0 0a1.0 1.0 0 1 0 -2.0 0M133.8 91.0a1.0 1.0 0 1 0 2.0 0a1.0 1.0 0 1 0 -2.0 0M129.9 139.9a1.0 1.0 0 1 0 2.0 0a1.0 1.0 0 1 0 -2.0 0M133.7 103.7a1.0 1.0 0 1 0 2.0 0a1.0 1.0 0 1 0 -2.0 0M131.4 105.6a1.0 1.0 0 1 0 2.0 0a1.0 1.0 0 1 0 -2.0 0M132.0 105.6a1.0 1.0 0 1 0 2.0 0a1.0 1.0 0 1 0 -2.0 0M128.5 149.6a1.0 1.0 0 1 0 2.0 0a1.0 1.0 0 1 0 -2.0 0M130.6 89.4a1.0 1.0 0 1 0 2.0 0a1.0 1.0 0 1 0 -2.0 0M126.0 113.3a1.0 1.0 0 1 0 2.0 0a1.0 1.0 0 1 0 -2.0 0M132.2 89.7a1.0 1.0 0 1 0 2.0 0a1.0 1.0 0 1 0 -2.0 0M132.9 108.6a1.0 1.0 0 1 0 2.0 0a1.0 1.0 0 1 0 -2.0 0M132.4 76.1a1.0 1.0 0 1 0 2.0 0a1.0 1.0 0 1 0 -2.0 0M128.4 107.5a1.0 1.0 0 1 0 2.0 0a1.0 1.0 0 1 0 -2.0 0M129.2 102.3a1.0 1.0 0 1 0 2.0 0a1.0 1.0 0 1 0 -2.0 0M125.5 144.9a1.0 1.0 0 1 0 2.0 0a1.0 1.0 0 1 0 -2.0 0M131.1 130.0a1.0 1.0 0 1 0 2.0 0a1.0 1.0 0 1 0 -2.0 0M129.5 83.8a1.0 1.0 0 1 0 2.0 0a1.0 1.0 0 1 0 -2.0 0M125.5 112.5a1.0 1.0 0 1 0 2.0 0a1.0 1.0 0 1 0 -2.0 0M129.0 113.2a1.0 1.0 0 1 0 2.0 0a1.0 1.0 0 1 0 -2.0 0M132.4 89.0a1.0 1.0 0 1 0 2.0 0a1.0 1.0 0 1 0 -2.0 0M127.5 68.7a1.0 1.0 0 1 0 2.0 0a1.0 1.0 0 1 0 -2.0 0M125.7 112.9a1.0 1.0 0 1 0 2.0 0a1.0 1.0 0 1 0 -2.0 0M133.7 93.2a1.0 1.0 0 1 0 2.0 0a1.0 1.0 0 1 0 -2.0 0M125.6 116.7a1.0 1.0 0 1 0 2.0 0a1.0 1.0 0 1 0 -2.0 0M125.6 101.1a1.0 1.0 0 1 0 2.0 0a1.0 1.0 0 1 0 -2.0 0M129.6 147.9a1.0 1.0 0 1 0 2.0 0a1.0 1.0 0 1 0 -2.0 0M130.4 75.0a1.0 1.0 0 1 0 2.0 0a1.0 1.0 0 1 0 -2.0 0M132.4 97.1a1.0 1.0 0 1 0 2.0 0a1.0 1.0 0 1 0 -2.0 0M133.5 94.1a1.0 1.0 0 1 0 2.0 0a1.0 1.0 0 1 0 -2.0 0M126.3 159.6a1.0 1.0 0 1 0 2.0 0a1.0 1.0 0 1 0 -2.0 0M128.9 116.1a1.0 1.0 0 1 0 2.0 0a1.0 1.0 0 1 0 -2.0 0M132.8 98.9a1.0 1.0 0 1 0 2.0 0a1.0 1.0 0 1 0 -2.0 0M128.4 103.9a1.0 1.0 0 1 0 2.0 0a1.0 1.0 0 1 0 -2.0 0M125.8 104.7a1.0 1.0 0 1 0 2.0 0a1.0 1.0 0 1 0 -2.0 0M124.7 122.8a1.0 1.0 0 1 0 2.0 0a1.0 1.0 0 1 0 -2.0 0M125.0 141.4a1.0 1.0 0 1 0 2.0 0a1.0 1.0 0 1 0 -2.0 0M133.9 108.6a1.0 1.0 0 1 0 2.0 0a1.0 1.0 0 1 0 -2.0 0M131.6 97.9a1.0 1.0 0 1 0 2.0 0a1.0 1.0 0 1 0 -2.0 0M126.6 80.1a1.0 1.0 0 1 0 2.0 0a1.0 1.0 0 1 0 -2.0 0M134.2 149.7a1.0 1.0 0 1 0 2.0 0a1.0 1.0 0 1 0 -2.0 0M125.9 112.3a1.0 1.0 0 1 0 2.0 0a1.0 1.0 0 1 0 -2.0 0M130.2 109.1a1.0 1.0 0 1 0 2.0 0a1.0 1.0 0 1 0 -2.0 0M132.5 160.3a1.0 1.0 0 1 0 2.0 0a1.0 1.0 0 1 0 -2.0 0M130.3 138.1a1.0 1.0 0 1 0 2.0 0a1.0 1.0 0 1 0 -2.0 0M133.3 132.1a1.0 1.0 0 1 0 2.0 0a1.0 1.0 0 1 0 -2.0 0M126.6 112.8a1.0 1.0 0 1 0 2.0 0a1.0 1.0 0 1 0 -2.0 0M131.7 100.8a1.0 1.0 0 1 0 2.0 0a1.0 1.0 0 1 0 -2.0 0M131.3 129.5a1.0 1.0 0 1 0 2.0 0a1.0 1.0 0 1 0 -2.0 0M134.1 91.1a1.0 1.0 0 1 0 2.0 0a1.0 1.0 0 1 0 -2.0 0M125.1 122.8a1.0 1.0 0 1 0 2.0 0a1.0 1.0 0 1 0 -2.0 0M131.8 77.6a1.0 1.0 0 1 0 2.0 0a1.0 1.0 0 1 0 -2.0 0M131.1 107.6a1.0 1.0 0 1 0 2.0 0a1.0 1.0 0 1 0 -2.0 0M131.1 141.5a1.0 1.0 0 1 0 2.0 0a1.0 1.0 0 1 0 -2.0 0M131.7 95.0a1.0 1.0 0 1 0 2.0 0a1.0 1.0 0 1 0 -2.0 0M134.2 117.8a1.0 1.0 0 1 0 2.0 0a1.0 1.0 0 1 0 -2.0 0M132.0 118.3a1.0 1.0 0 1 0 2.0 0a1.0 1.0 0 1 0 -2.0 0M126.9 133.2a1.0 1.0 0 1 0 2.0 0a1.0 1.0 0 1 0 -2.0 0M128.2 95.1a1.0 1.0 0 1 0 2.0 0a1.0 1.0 0 1 0 -2.0 0M128.7 102.4a1.0 1.0 0 1 0 2.0 0a1.0 1.0 0 1 0 -2.0 0M124.7 135.2a1.0 1.0 0 1 0 2.0 0a1.0 1.0 0 1 0 -2.0 0M131.8 110.3a1.0 1.0 0 1 0 2.0 0a1.0 1.0 0 1 0 -2.0 0M134.0 83.3a1.0 1.0 0 1 0 2.0 0a1.0 1.0 0 1 0 -2.0 0M133.2 113.3a1.0 1.0 0 1 0 2.0 0a1.0 1.0 0 1 0 -2.0 0M128.9 81.8a1.0 1.0 0 1 0 2.0 0a1.0 1.0 0 1 0 -2.0 0M128.5 90.6a1.0 1.0 0 1 0 2.0 0a1.0 1.0 0 1 0 -2.0 0M127.7 94.2a1.0 1.0 0 1 0 2.0 0a1.0 1.0 0 1 0 -2.0 0M129.9 129.3a1.0 1.0 0 1 0 2.0 0a1.0 1.0 0 1 0 -2.0 0M132.2 94.6a1.0 1.0 0 1 0 2.0 0a1.0 1.0 0 1 0 -2.0 0M124.8 130.7a1.0 1.0 0 1 0 2.0 0a1.0 1.0 0 1 0 -2.0 0M134.0 110.3a1.0 1.0 0 1 0 2.0 0a1.0 1.0 0 1 0 -2.0 0M129.2 116.4a1.0 1.0 0 1 0 2.0 0a1.0 1.0 0 1 0 -2.0 0M133.6 116.6a1.0 1.0 0 1 0 2.0 0a1.0 1.0 0 1 0 -2.0 0M131.5 112.1a1.0 1.0 0 1 0 2.0 0a1.0 1.0 0 1 0 -2.0 0M127.8 117.0a1.0 1.0 0 1 0 2.0 0a1.0 1.0 0 1 0 -2.0 0M128.5 92.2a1.0 1.0 0 1 0 2.0 0a1.0 1.0 0 1 0 -2.0 0M127.8 126.3a1.0 1.0 0 1 0 2.0 0a1.0 1.0 0 1 0 -2.0 0M128.9 105.3a1.0 1.0 0 1 0 2.0 0a1.0 1.0 0 1 0 -2.0 0M128.2 134.2a1.0 1.0 0 1 0 2.0 0a1.0 1.0 0 1 0 -2.0 0M129.7 123.6a1.0 1.0 0 1 0 2.0 0a1.0 1.0 0 1 0 -2.0 0M133.2 112.7a1.0 1.0 0 1 0 2.0 0a1.0 1.0 0 1 0 -2.0 0M129.1 92.0a1.0 1.0 0 1 0 2.0 0a1.0 1.0 0 1 0 -2.0 0M127.0 130.9a1.0 1.0 0 1 0 2.0 0a1.0 1.0 0 1 0 -2.0 0M125.0 153.3a1.0 1.0 0 1 0 2.0 0a1.0 1.0 0 1 0 -2.0 0M133.8 98.3a1.0 1.0 0 1 0 2.0 0a1.0 1.0 0 1 0 -2.0 0M127.8 99.4a1.0 1.0 0 1 0 2.0 0a1.0 1.0 0 1 0 -2.0 0M132.6 142.2a1.0 1.0 0 1 0 2.0 0a1.0 1.0 0 1 0 -2.0 0M127.5 112.7a1.0 1.0 0 1 0 2.0 0a1.0 1.0 0 1 0 -2.0 0M128.3 104.7a1.0 1.0 0 1 0 2.0 0a1.0 1.0 0 1 0 -2.0 0M134.3 82.8a1.0 1.0 0 1 0 2.0 0a1.0 1.0 0 1 0 -2.0 0M134.1 129.0a1.0 1.0 0 1 0 2.0 0a1.0 1.0 0 1 0 -2.0 0M129.1 116.8a1.0 1.0 0 1 0 2.0 0a1.0 1.0 0 1 0 -2.0 0M133.7 107.5a1.0 1.0 0 1 0 2.0 0a1.0 1.0 0 1 0 -2.0 0M128.1 138.9a1.0 1.0 0 1 0 2.0 0a1.0 1.0 0 1 0 -2.0 0M126.3 118.6a1.0 1.0 0 1 0 2.0 0a1.0 1.0 0 1 0 -2.0 0M132.9 126.2a1.0 1.0 0 1 0 2.0 0a1.0 1.0 0 1 0 -2.0 0M127.2 89.5a1.0 1.0 0 1 0 2.0 0a1.0 1.0 0 1 0 -2.0 0M126.3 119.9a1.0 1.0 0 1 0 2.0 0a1.0 1.0 0 1 0 -2.0 0M129.0 102.8a1.0 1.0 0 1 0 2.0 0a1.0 1.0 0 1 0 -2.0 0M126.5 113.3a1.0 1.0 0 1 0 2.0 0a1.0 1.0 0 1 0 -2.0 0M130.3 94.9a1.0 1.0 0 1 0 2.0 0a1.0 1.0 0 1 0 -2.0 0M125.9 98.5a1.0 1.0 0 1 0 2.0 0a1.0 1.0 0 1 0 -2.0 0M129.5 128.0a1.0 1.0 0 1 0 2.0 0a1.0 1.0 0 1 0 -2.0 0M133.1 93.2a1.0 1.0 0 1 0 2.0 0a1.0 1.0 0 1 0 -2.0 0M125.2 95.9a1.0 1.0 0 1 0 2.0 0a1.0 1.0 0 1 0 -2.0 0M134.4 104.9a1.0 1.0 0 1 0 2.0 0a1.0 1.0 0 1 0 -2.0 0M126.8 90.8a1.0 1.0 0 1 0 2.0 0a1.0 1.0 0 1 0 -2.0 0M127.4 149.8a1.0 1.0 0 1 0 2.0 0a1.0 1.0 0 1 0 -2.0 0M125.0 109.1a1.0 1.0 0 1 0 2.0 0a1.0 1.0 0 1 0 -2.0 0M127.2 107.5a1.0 1.0 0 1 0 2.0 0a1.0 1.0 0 1 0 -2.0 0M125.3 105.7a1.0 1.0 0 1 0 2.0 0a1.0 1.0 0 1 0 -2.0 0M130.8 111.2a1.0 1.0 0 1 0 2.0 0a1.0 1.0 0 1 0 -2.0 0M129.7 110.8a1.0 1.0 0 1 0 2.0 0a1.0 1.0 0 1 0 -2.0 0M127.8 86.5a1.0 1.0 0 1 0 2.0 0a1.0 1.0 0 1 0 -2.0 0M130.9 100.0a1.0 1.0 0 1 0 2.0 0a1.0 1.0 0 1 0 -2.0 0M134.6 150.2a1.0 1.0 0 1 0 2.0 0a1.0 1.0 0 1 0 -2.0 0M127.8 80.6a1.0 1.0 0 1 0 2.0 0a1.0 1.0 0 1 0 -2.0 0M131.9 138.5a1.0 1.0 0 1 0 2.0 0a1.0 1.0 0 1 0 -2.0 0M133.7 114.7a1.0 1.0 0 1 0 2.0 0a1.0 1.0 0 1 0 -2.0 0M133.9 109.7a1.0 1.0 0 1 0 2.0 0a1.0 1.0 0 1 0 -2.0 0M131.0 117.7a1.0 1.0 0 1 0 2.0 0a1.0 1.0 0 1 0 -2.0 0M131.6 91.6a1.0 1.0 0 1 0 2.0 0a1.0 1.0 0 1 0 -2.0 0M131.2 105.5a1.0 1.0 0 1 0 2.0 0a1.0 1.0 0 1 0 -2.0 0M128.5 106.2a1.0 1.0 0 1 0 2.0 0a1.0 1.0 0 1 0 -2.0 0M134.1 87.1a1.0 1.0 0 1 0 2.0 0a1.0 1.0 0 1 0 -2.0 0M129.1 104.9a1.0 1.0 0 1 0 2.0 0a1.0 1.0 0 1 0 -2.0 0M134.6 86.5a1.0 1.0 0 1 0 2.0 0a1.0 1.0 0 1 0 -2.0 0M126.7 146.4a1.0 1.0 0 1 0 2.0 0a1.0 1.0 0 1 0 -2.0 0M129.0 120.5a1.0 1.0 0 1 0 2.0 0a1.0 1.0 0 1 0 -2.0 0M127.7 117.6a1.0 1.0 0 1 0 2.0 0a1.0 1.0 0 1 0 -2.0 0M127.9 158.3a1.0 1.0 0 1 0 2.0 0a1.0 1.0 0 1 0 -2.0 0M124.8 88.5a1.0 1.0 0 1 0 2.0 0a1.0 1.0 0 1 0 -2.0 0M133.2 89.1a1.0 1.0 0 1 0 2.0 0a1.0 1.0 0 1 0 -2.0 0M129.9 112.8a1.0 1.0 0 1 0 2.0 0a1.0 1.0 0 1 0 -2.0 0M134.5 180.5a1.0 1.0 0 1 0 2.0 0a1.0 1.0 0 1 0 -2.0 0M130.5 168.5a1.0 1.0 0 1 0 2.0 0a1.0 1.0 0 1 0 -2.0 0" fill="#7fbc41" fill-opacity="0.55"/>
<path d="M129.2 96.9a1.0 1.0 0 1 0 2.0 0a1.0 1.0 0 1 0 -2.0 0M129.5 92.2a1.0 1.0 0 1 0 2.0 0a1.0 1.0 0 1 0 -2.0 0M130.0 118.9a1.0 1.0 0 1 0 2.0 0a1.0 1.0 0 1 0 -2.0 0M130.8 140.1a1.0 1.0 0 1 0 2.0 0a1.0 1.0 0 1 0 -2.0 0M134.6 84.3a1.0 1.0 0 1 0 2.0 0a1.0 1.0 0 1 0 -2.0 0M124.8 120.6a1.0 1.0 0 1 0 2.0 0a1.0 1.0 0 1 0 -2.0 0M126.7 103.7a1.0 1.0 0 1 0 2.0 0a1.0 1.0 0 1 0 -2.0 0M134.2 140.0a1.0 1.0 0 1 0 2.0 0a1.0 1.0 0 1 0 -2.0 0M133.5 98.5a1.0 1.0 0 1 0 2.0 0a1.0 1.0 0 1 0 -2.0 0M127.1 137.7a1.0 1.0 0 1 0 2.0 0a1.0 1.0 0 1 0 -2.0 0M133.6 125.0a1.0 1.0 0 1 0 2.0 0a1.0 1.0 0 1 0 -2.0 0M133.6 91.7a1.0 1.0 0 1 0 2.0 0a1.0 1.0 0 1 0 -2.0 0M126.0 112.8a1.0 1.0 0 1 0 2.0 0a1.0 1.0 0 1 0 -2.0 0M130.0 90.4a1.0 1.0 0 1 0 2.0 0a1.0 1.0 0 1 0 -2.0 0M132.2 99.9a1.0 1.0 0 1 0 2.0 0a1.0 1.0 0 1 0 -2.0 0M130.5 145.5a1.0 1.0 0 1 0 2.0 0a1.0 1.0 0 1 0 -2.0 0M130.1 94.8a1.0 1.0 0 1 0 2.0 0a1.0 1.0 0 1 0 -2.0 0M134.3 112.4a1.0 1.0 0 1 0 2.0 0a1.0 1.0 0 1 0 -2.0 0M129.7 131.2a1.0 1.0 0 1 0 2.0 0a1.0 1.0 0 1 0 -2.0 0M124.9 99.5a1.0 1.0 0 1 0 2.0 0a1.0 1.0 0 1 0 -2.0 0M134.1 127.4a1.0 1.0 0 1 0 2.0 0a1.0 1.0 0 1 0 -2.0 0M126.3 112.3a1.0 1.0 0 1 0 2.0 0a1.0 1.0 0 1 0 -2.0 0M132.2 126.4a1.0 1.0 0 1 0 2.0 0a1.0 1.0 0 1 0 -2.0 0M131.0 114.1a1.0 1.0 0 1 0 2.0 0a1.0 1.0 0 1 0 -2.0 0M133.1 110.1a1.0 1.0 0 1 0 2.0 0a1.0 1.0 0 1 0 -2.0 0M126.0 103.8a1.0 1.0 0 1 0 2.0 0a1.0 1.0 0 1 0 -2.0 0M133.1 114.2a1.0 1.0 0 1 0 2.0 0a1.0 1.0 0 1 0 -2.0 0M133.7 118.6a1.0 1.0 0 1 0 2.0 0a1.0 1.0 0 1 0 -2.0 0M131.6 132.0a1.0 1.0 0 1 0 2.0 0a1.0 1.0 0 1 0 -2.0 0M125.4 125.0a1.0 1.0 0 1 0 2.0 0a1.0 1.0 0 1 0 -2.0 0M132.1 94.1a1.0 1.0 0 1 0 2.0 0a1.0 1.0 0 1 0 -2.0 0M128.1 129.2a1.0 1.0 0 1 0 2.0 0a1.0 1.0 0 1 0 -2.0 0M133.4 112.1a1.0 1.0 0 1 0 2.0 0a1.0 1.0 0 1 0 -2.0 0M134.7 90.2a1.0 1.0 0 1 0 2.0 0a1.0 1.0 0 1 0 -2.0 0M134.2 107.3a1.0 1.0 0 1 0 2.0 0a1.0 1.0 0 1 0 -2.0 0M127.5 133.8a1.0 1.0 0 1 0 2.0 0a1.0 1.0 0 1 0 -2.0 0M131.1 129.8a1.0 1.0 0 1 0 2.0 0a1.0 1.0 0 1 0 -2.0 0M125.5 156.1a1.0 1.0 0 1 0 2.0 0a1.0 1.0 0 1 0 -2.0 0M134.3 96.8a1.0 1.0 0 1 0 2.0 0a1.0 1.0 0 1 0 -2.0 0M133.2 83.5a1.0 1.0 0 1 0 2.0 0a1.0 1.0 0 1 0 -2.0 0M131.0 106.6a1.0 1.0 0 1 0 2.0 0a1.0 1.0 0 1 0 -2.0 0M131.9 94.8a1.0 1.0 0 1 0 2.0 0a1.0 1.0 0 1 0 -2.0 0M132.9 146.1a1.0 1.0 0 1 0 2.0 0a1.0 1.0 0 1 0 -2.0 0M133.4 123.8a1.0 1.0 0 1 0 2.0 0a1.0 1.0 0 1 0 -2.0 0M130.9 134.8a1.0 1.0 0 1 0 2.0 0a1.0 1.0 0 1 0 -2.0 0M129.5 110.5a1.0 1.0 0 1 0 2.0 0a1.0 1.0 0 1 0 -2.0 0M130.3 104.1a1.0 1.0 0 1 0 2.0 0a1.0 1.0 0 1 0 -2.0 0M129.4 104.0a1.0 1.0 0 1 0 2.0 0a1.0 1.0 0 1 0 -2.0 0M131.6 139.6a1.0 1.0 0 1 0 2.0 0a1.0 1.0 0 1 0 -2.0 0M128.6 117.0a1.0 1.0 0 1 0 2.0 0a1.0 1.0 0 1 0 -2.0 0M130.6 92.8a1.0 1.0 0 1 0 2.0 0a1.0 1.0 0 1 0 -2.0 0M128.6 99.3a1.0 1.0 0 1 0 2.0 0a1.0 1.0 0 1 0 -2.0 0M125.2 110.3a1.0 1.0 0 1 0 2.0 0a1.0 1.0 0 1 0 -2.0 0M131.5 114.9a1.0 1.0 0 1 0 2.0 0a1.0 1.0 0 1 0 -2.0 0M130.4 125.7a1.0 1.0 0 1 0 2.0 0a1.0 1.0 0 1 0 -2.0 0M125.0 130.8a1.0 1.0 0 1 0 2.0 0a1.0 1.0 0 1 0 -2.0 0M125.6 94.6a1.0 1.0 0 1 0 2.0 0a1.0 1.0 0 1 0 -2.0 0M124.7 66.8a1.0 1.0 0 1 0 2.0 0a1.0 1.0 0 1 0 -2.0 0M131.4 134.4a1.0 1.0 0 1 0 2.0 0a1.0 1.0 0 1 0 -2.0 0M129.8 97.5a1.0 1.0 0 1 0 2.0 0a1.0 1.0 0 1 0 -2.0 0M129.1 97.5a1.0 1.0 0 1 0 2.0 0a1.0 1.0 0 1 0 -2.0 0M134.0 77.9a1.0 1.0 0 1 0 2.0 0a1.0 1.0 0 1 0 -2.0 0M126.7 102.2a1.0 1.0 0 1 0 2.0 0a1.0 1.0 0 1 0 -2.0 0M133.4 106.8a1.0 1.0 0 1 0 2.0 0a1.0 1.0 0 1 0 -2.0 0M127.5 113.2a1.0 1.0 0 1 0 2.0 0a1.0 1.0 0 1 0 -2.0 0M132.6 113.2a1.0 1.0 0 1 0 2.0 0a1.0 1.0 0 1 0 -2.0 0M125.5 103.8a1.0 1.0 0 1 0 2.0 0a1.0 1.0 0 1 0 -2.0 0M128.6 129.6a1.0 1.0 0 1 0 2.0 0a1.0 1.0 0 1 0 -2.0 0M131.4 100.1a1.0 1.0 0 1 0 2.0 0a1.0 1.0 0 1 0 -2.0 0M131.3 156.8a1.0 1.0 0 1 0 2.0 0a1.0 1.0 0 1 0 -2.0 0M134.6 120.2a1.0 1.0 0 1 0 2.0 0a1.0 1.0 0 1 0 -2.0 0M128.3 65.9a1.0 1.0 0 1 0 2.0 0a1.0 1.0 0 1 0 -2.0 0M127.9 109.7a1.0 1.0 0 1 0 2.0 0a1.0 1.0 0 1 0 -2.0 0M127.6 118.7a1.0 1.0 0 1 0 2.0 0a1.0 1.0 0 1 0 -2.0 0M131.9 86.4a1.0 1.0 0 1 0 2.0 0a1.0 1.0 0 1 0 -2.0 0M128.7 99.8a1.0 1.0 0 1 0 2.0 0a1.0 1.0 0 1 0 -2.0 0M130.8 102.7a1.0 1.0 0 1 0 2.0 0a1.0 1.0 0 1 0 -2.0 0M129.5 89.1a1.0 1.0 0 1 0 2.0 0a1.0 1.0 0 1 0 -2.0 0M133.0 106.4a1.0 1.0 0 1 0 2.0 0a1.0 1.0 0 1 0 -2.0 0M133.1 96.9a1.0 1.0 0 1 0 2.0 0a1.0 1.0 0 1 0 -2.0 0M126.6 131.1a1.0 1.0 0 1 0 2.0 0a1.0 1.0 0 1 0 -2.0 0M128.8 88.5a1.0 1.0 0 1 0 2.0 0a1.0 1.0 0 1 0 -2.0 0M134.0 142.2a1.0 1.0 0 1 0 2.0 0a1.0 1.0 0 1 0 -2.0 0M125.5 110.2a1.0 1.0 0 1 0 2.0 0a1.0 1.0 0 1 0 -2.0 0M132.4 156.2a1.0 1.0 0 1 0 2.0 0a1.0 1.0 0 1 0 -2.0 0M127.1 107.3a1.0 1.0 0 1 0 2.0 0a1.0 1.0 0 1 0 -2.0 0M126.5 107.8a1.0 1.0 0 1 0 2.0 0a1.0 1.0 0 1 0 -2.0 0M131.9 108.3a1.0 1.0 0 1 0 2.0 0a1.0 1.0 0 1 0 -2.0 0M131.5 143.2a1.0 1.0 0 1 0 2.0 0a1.0 1.0 0 1 0 -2.0 0M131.4 101.7a1.0 1.0 0 1 0 2.0 0a1.0 1.0 0 1 0 -2.0 0M130.4 111.5a1.0 1.0 0 1 0 2.0 0a1.0 1.0 0 1 0 -2.0 0M133.5 113.7a1.0 1.0 0 1 0 2.0 0a1.0 1.0 0 1 0 -2.0 0M131.0 119.8a1.0 1.0 0 1 0 2.0 0a1.0 1.0 0 1 0 -2.0 0M127.5 82.6a1.0 1.0 0 1 0 2.0 0a1.0 1.0 0 1 0 -2.0 0M133.0 81.2a1.0 1.0 0 1 0 2.0 0a1.0 1.0 0 1 0 -2.0 0M131.7 104.7a1.0 1.0 0 1 0 2.0 0a1.0 1.0 0 1 0 -2.0 0M134.0 69.0a1.0 1.0 0 1 0 2.0 0a1.0 1.0 0 1 0 -2.0 0M133.5 105.2a1.0 1.0 0 1 0 2.0 0a1.0 1.0 0 1 0 -2.0 0M125.7 106.2a1.0 1.0 0 1 0 2.0 0a1.0 1.0 0 1 0 -2.0 0M133.6 117.9a1.0 1.0 0 1 0 2.0 0a1.0 1.0 0 1 0 -2.0 0M130.0 96.1a1.0 1.0 0 1 0 2.0 0a1.0 1.0 0 1 0 -2.0 0M128.7 120.4a1.0 1.0 0 1 0 2.0 0a1.0 1.0 0 1 0 -2.0 0M124.6 146.2a1.0 1.0 0 1 0 2.0 0a1.0 1.0 0 1 0 -2.0 0M133.1 88.6a1.0 1.0 0 1 0 2.0 0a1.0 1.0 0 1 0 -2.0 0M133.5 116.3a1.0 1.0 0 1 0 2.0 0a1.0 1.0 0 1 0 -2.0 0M134.8 75.0a1.0 1.0 0 1 0 2.0 0a1.0 1.0 0 1 0 -2.0 0M125.7 137.7a1.0 1.0 0 1 0 2.0 0a1.0 1.0 0 1 0 -2.0 0M126.5 102.3a1.0 1.0 0 1 0 2.0 0a1.0 1.0 0 1 0 -2.0 0M127.5 143.9a1.0 1.0 0 1 0 2.0 0a1.0 1.0 0 1 0 -2.0 0M129.4 133.4a1.0 1.0 0 1 0 2.0 0a1.0 1.0 0 1 0 -2.0 0M126.6 145.0a1.0 1.0 0 1 0 2.0 0a1.0 1.0 0 1 0 -2.0 0M134.1 156.9a1.0 1.0 0 1 0 2.0 0a1.0 1.0 0 1 0 -2.0 0M133.7 75.7a1.0 1.0 0 1 0 2.0 0a1.0 1.0 0 1 0 -2.0 0M127.4 112.9a1.0 1.0 0 1 0 2.0 0a1.0 1.0 0 1 0 -2.0 0M133.5 91.5a1.0 1.0 0 1 0 2.0 0a1.0 1.0 0 1 0 -2.0 0M134.2 125.3a1.0 1.0 0 1 0 2.0 0a1.0 1.0 0 1 0 -2.0 0M131.0 102.1a1.0 1.0 0 1 0 2.0 0a1.0 1.0 0 1 0 -2.0 0M124.7 83.5a1.0 1.0 0 1 0 2.0 0a1.0 1.0 0 1 0 -2.0 0M130.0 109.5a1.0 1.0 0 1 0 2.0 0a1.0 1.0 0 1 0 -2.0 0M131.2 88.1a1.0 1.0 0 1 0 2.0 0a1.0 1.0 0 1 0 -2.0 0M134.5 95.1a1.0 1.0 0 1 0 2.0 0a1.0 1.0 0 1 0 -2.0 0M134.2 120.8a1.0 1.0 0 1 0 2.0 0a1.0 1.0 0 1 0 -2.0 0M127.3 84.6a1.0 1.0 0 1 0 2.0 0a1.0 1.0 0 1 0 -2.0 0M134.8 85.2a1.0 1.0 0 1 0 2.0 0a1.0 1.0 0 1 0 -2.0 0M127.2 127.2a1.0 1.0 0 1 0 2.0 0a1.0 1.0 0 1 0 -2.0 0M132.7 102.4a1.0 1.0 0 1 0 2.0 0a1.0 1.0 0 1 0 -2.0 0M134.7 94.9a1.0 1.0 0 1 0 2.0 0a1.0 1.0 0 1 0 -2.0 0M128.0 132.6a1.0 1.0 0 1 0 2.0 0a1.0 1.0 0 1 0 -2.0 0M133.6 101.7a1.0 1.0 0 1 0 2.0 0a1.0 1.0 0 1 0 -2.0 0M129.8 115.3a1.0 1.0 0 1 0 2.0 0a1.0 1.0 0 1 0 -2.0 0M126.4 144.1a1.0 1.0 0 1 0 2.0 0a1.0 1.0 0 1 0 -2.0 0M128.2 109.0a1.0 1.0 0 1 0 2.0 0a1.0 1.0 0 1 0 -2.0 0M129.6 115.5a1.0 1.0 0 1 0 2.0 0a1.0 1.0 0 1 0 -2.0 0M133.1 91.4a1.0 1.0 0 1 0 2.0 0a1.0 1.0 0 1 0 -2.0 0M131.4 116.9a1.0 1.0 0 1 0 2.0 0a1.0 1.0 0 1 0 -2.0 0M131.2 81.0a1.0 1.0 0 1 0 2.0 0a1.0 1.0 0 1 0 -2.0 0M126.9 94.2a1.0 1.0 0 1 0 2.0 0a1.0 1.0 0 1 0 -2.0 0M128.7 117.2a1.0 1.0 0 1 0 2.0 0a1.0 1.0 0 1 0 -2.0 0M132.5 91.8a1.0 1.0 0 1 0 2.0 0a1.0 1.0 0 1 0 -2.0 0M131.0 98.1a1.0 1.0 0 1 0 2.0 0a1.0 1.0 0 1 0 -2.0 0M126.7 102.3a1.0 1.0 0 1 0 2.0 0a1.0 1.0 0 1 0 -2.0 0M128.8 119.8a1.0 1.0 0 1 0 2.0 0a1.0 1.0 0 1 0 -2.0 0M130.3 125.0a1.0 1.0 0 1 0 2.0 0a1.0 1.0 0 1 0 -2.0 0M130.4 92.2a1.0 1.0 0 1 0 2.0 0a1.0 1.0 0 1 0 -2.0 0M133.7 101.7a1.0 1.0 0 1 0 2.0 0a1.0 1.0 0 1 0 -2.0 0M129.5 142.1a1.0 1.0 0 1 0 2.0 0a1.0 1.0 0 1 0 -2.0 0M127.7 127.9a1.0 1.0 0 1 0 2.0 0a1.0 1.0 0 1 0 -2.0 0M127.0 149.5a1.0 1.0 0 1 0 2.0 0a1.0 1.0 0 1 0 -2.0 0M130.6 133.6a1.0 1.0 0 1 0 2.0 0a1.0 1.0 0 1 0 -2.0 0M129.8 94.9a1.0 1.0 0 1 0 2.0 0a1.0 1.0 0 1 0 -2.0 0M125.9 163.0a1.0 1.0 0 1 0 2.0 0a1.0 1.0 0 1 0 -2.0 0M132.8 100.4a1.0 1.0 0 1 0 2.0 0a1.0 1.0 0 1 0 -2.0 0M132.7 114.6a1.0 1.0 0 1 0 2.0 0a1.0 1.0 0 1 0 -2.0 0M131.8 130.0a1.0 1.0 0 1 0 2.0 0a1.0 1.0 0 1 0 -2.0 0M130.3 95.2a1.0 1.0 0 1 0 2.0 0a1.0 1.0 0 1 0 -2.0 0M131.6 92.0a1.0 1.0 0 1 0 2.0 0a1.0 1.0 0 1 0 -2.0 0M132.0 89.6a1.0 1.0 0 1 0 2.0 0a1.0 1.0 0 1 0 -2.0 0M126.3 123.8a1.0 1.0 0 1 0 2.0 0a1.0 1.0 0 1 0 -2.0 0M124.8 107.7a1.0 1.0 0 1 0 2.0 0a1.0 1.0 0 1 0 -2.0 0M127.4 105.7a1.0 1.0 0 1 0 2.0 0a1.0 1.0 0 1 0 -2.0 0M133.6 124.0a1.0 1.0 0 1 0 2.0 0a1.0 1.0 0 1 0 -2.0 0M128.6 115.9a1.0 1.0 0 1 0 2.0 0a1.0 1.0 0 1 0 -2.0 0M129.0 102.8a1.0 1.0 0 1 0 2.0 0a1.0 1.0 0 1 0 -2.0 0M129.7 119.1a1.0 1.0 0 1 0 2.0 0a1.0 1.0 0 1 0 -2.0 0M127.1 136.0a1.0 1.0 0 1 0 2.0 0a1.0 1.0 0 1 0 -2.0 0M126.3 101.0a1.0 1.0 0 1 0 2.0 0a1.0 1.0 0 1 0 -2.0 0M133.4 132.3a1.0 1.0 0 1 0 2.0 0a1.0 1.0 0 1 0 -2.0 0M126.5 183.0a1.0 1.0 0 1 0 2.0 0a1.0 1.0 0 1 0 -2.0 0" fill="#7fbc41" fill-opacity="0.55"/>
<path d="M133.1 120.7a1.0 1.0 0 1 0 2.0 0a1.0 1.0 0 1 0 -2.0 0M131.5 94.6a1.0 1.0 0 1 0 2.0 0a1.0 1.0 0 1 0 -2.0 0M132.7 126.6a1.0 1.0 0 1 0 2.0 0a1.0 1.0 0 1 0 -2.0 0M126.4 97.0a1.0 1.0 0 1 0 2.0 0a1.0 1.0 0 1 0 -2.0 0M129.9 148.7a1.0 1.0 0 1 0 2.0 0a1.0 1.0 0 1 0 -2.0 0M126.3 109.4a1.0 1.0 0 1 0 2.0 0a1.0 1.0 0 1 0 -2.0 0M125.1 94.3a1.0 1.0 0 1 0 2.0 0a1.0 1.0 0 1 0 -2.0 0M132.2 96.9a1.0 1.0 0 1 0 2.0 0a1.0 1.0 0 1 0 -2.0 0M131.8 106.7a1.0 1.0 0 1 0 2.0 0a1.0 1.0 0 1 0 -2.0 0M128.0 113.2a1.0 1.0 0 1 0 2.0 0a1.0 1.0 0 1 0 -2.0 0M126.6 107.6a1.0 1.0 0 1 0 2.0 0a1.0 1.0 0 1 0 -2.0 0M132.4 97.6a1.0 1.0 0 1 0 2.0 0a1.0 1.0 0 1 0 -2.0 0M129.1 87.8a1.0 1.0 0 1 0 2.0 0a1.0 1.0 0 1 0 -2.0 0M127.9 98.9a1.0 1.0 0 1 0 2.0 0a1.0 1.0 0 1 0 -2.0 0M131.7 100.4a1.0 1.0 0 1 0 2.0 0a1.0 1.0 0 1 0 -2.0 0M128.6 97.0a1.0 1.0 0 1 0 2.0 0a1.0 1.0 0 1 0 -2.0 0M125.3 86.9a1.0 1.0 0 1 0 2.0 0a1.0 1.0 0 1 0 -2.0 0M125.7 120.4a1.0 1.0 0 1 0 2.0 0a1.0 1.0 0 1 0 -2.0 0M131.1 85.9a1.0 1.0 0 1 0 2.0 0a1.0 1.0 0 1 0 -2.0 0M134.5 118.2a1.0 1.0 0 1 0 2.0 0a1.0 1.0 0 1 0 -2.0 0M125.8 81.5a1.0 1.0 0 1 0 2.0 0a1.0 1.0 0 1 0 -2.0 0M128.9 84.7a1.0 1.0 0 1 0 2.0 0a1.0 1.0 0 1 0 -2.0 0M133.9 144.5a1.0 1.0 0 1 0 2.0 0a1.0 1.0 0 1 0 -2.0 0M127.4 69.4a1.0 1.0 0 1 0 2.0 0a1.0 1.0 0 1 0 -2.0 0M128.5 115.4a1.0 1.0 0 1 0 2.0 0a1.0 1.0 0 1 0 -2.0 0M134.7 117.9a1.0 1.0 0 1 0 2.0 0a1.0 1.0 0 1 0 -2.0 0M131.5 151.4a1.0 1.0 0 1 0 2.0 0a1.0 1.0 0 1 0 -2.0 0M124.7 97.4a1.0 1.0 0 1 0 2.0 0a1.0 1.0 0 1 0 -2.0 0M130.9 102.2a1.0 1.0 0 1 0 2.0 0a1.0 1.0 0 1 0 -2.0 0M126.2 123.3a1.0 1.0 0 1 0 2.0 0a1.0 1.0 0 1 0 -2.0 0M134.5 141.9a1.0 1.0 0 1 0 2.0 0a1.0 1.0 0 1 0 -2.0 0M132.6 98.6a1.0 1.0 0 1 0 2.0 0a1.0 1.0 0 1 0 -2.0 0M133.4 66.3a1.0 1.0 0 1 0 2.0 0a1.0 1.0 0 1 0 -2.0 0M129.7 150.8a1.0 1.0 0 1 0 2.0 0a1.0 1.0 0 1 0 -2.0 0M130.5 112.7a1.0 1.0 0 1 0 2.0 0a1.0 1.0 0 1 0 -2.0 0M127.7 102.0a1.0 1.0 0 1 0 2.0 0a1.0 1.0 0 1 0 -2.0 0M134.6 99.4a1.0 1.0 0 1 0 2.0 0a1.0 1.0 0 1 0 -2.0 0M127.6 114.7a1.0 1.0 0 1 0 2.0 0a1.0 1.0 0 1 0 -2.0 0M127.6 69.4a1.0 1.0 0 1 0 2.0 0a1.0 1.0 0 1 0 -2.0 0M130.5 98.0a1.0 1.0 0 1 0 2.0 0a1.0 1.0 0 1 0 -2.0 0M130.7 101.9a1.0 1.0 0 1 0 2.0 0a1.0 1.0 0 1 0 -2.0 0M131.8 96.5a1.0 1.0 0 1 0 2.0 0a1.0 1.0 0 1 0 -2.0 0M132.4 154.0a1.0 1.0 0 1 0 2.0 0a1.0 1.0 0 1 0 -2.0 0M131.9 108.5a1.0 1.0 0 1 0 2.0 0a1.0 1.0 0 1 0 -2.0 0M127.0 85.1a1.0 1.0 0 1 0 2.0 0a1.0 1.0 0 1 0 -2.0 0M127.2 115.7a1.0 1.0 0 1 0 2.0 0a1.0 1.0 0 1 0 -2.0 0M124.8 103.2a1.0 1.0 0 1 0 2.0 0a1.0 1.0 0 1 0 -2.0 0M126.4 122.7a1.0 1.0 0 1 0 2.0 0a1.0 1.0 0 1 0 -2.0 0M132.9 84.6a1.0 1.0 0 1 0 2.0 0a1.0 1.0 0 1 0 -2.0 0M127.6 124.0a1.0 1.0 0 1 0 2.0 0a1.0 1.0 0 1 0 -2.0 0M127.2 91.2a1.0 1.0 0 1 0 2.0 0a1.0 1.0 0 1 0 -2.0 0M131.9 95.6a1.0 1.0 0 1 0 2.0 0a1.0 1.0 0 1 0 -2.0 0M128.9 104.2a1.0 1.0 0 1 0 2.0 0a1.0 1.0 0 1 0 -2.0 0M130.4 127.3a1.0 1.0 0 1 0 2.0 0a1.0 1.0 0 1 0 -2.0 0M127.1 107.1a1.0 1.0 0 1 0 2.0 0a1.0 1.0 0 1 0 -2.0 0M126.4 99.4a1.0 1.0 0 1 0 2.0 0a1.0 1.0 0 1 0 -2.0 0M129.7 120.5a1.0 1.0 0 1 0 2.0 0a1.0 1.0 0 1 0 -2.0 0M127.9 133.9a1.0 1.0 0 1 0 2.0 0a1.0 1.0 0 1 0 -2.0 0M129.7 100.8a1.0 1.0 0 1 0 2.0 0a1.0 1.0 0 1 0 -2.0 0M126.1 98.1a1.0 1.0 0 1 0 2.0 0a1.0 1.0 0 1 0 -2.0 0M128.1 82.4a1.0 1.0 0 1 0 2.0 0a1.0 1.0 0 1 0 -2.0 0M129.6 113.4a1.0 1.0 0 1 0 2.0 0a1.0 1.0 0 1 0 -2.0 0M133.9 110.0a1.0 1.0 0 1 0 2.0 0a1.0 1.0 0 1 0 -2.0 0M127.5 114.7a1.0 1.0 0 1 0 2.0 0a1.0 1.0 0 1 0 -2.0 0M133.8 128.7a1.0 1.0 0 1 0 2.0 0a1.0 1.0 0 1 0 -2.0 0M133.0 96.8a1.0 1.0 0 1 0 2.0 0a1.0 1.0 0 1 0 -2.0 0M127.4 111.2a1.0 1.0 0 1 0 2.0 0a1.0 1.0 0 1 0 -2.0 0M134.1 146.5a1.0 1.0 0 1 0 2.0 0a1.0 1.0 0 1 0 -2.0 0M131.0 99.0a1.0 1.0 0 1 0 2.0 0a1.0 1.0 0 1 0 -2.0 0M132.5 84.6a1.0 1.0 0 1 0 2.0 0a1.0 1.0 0 1 0 -2.0 0M128.9 133.7a1.0 1.0 0 1 0 2.0 0a1.0 1.0 0 1 0 -2.0 0M126.2 86.9a1.0 1.0 0 1 0 2.0 0a1.0 1.0 0 1 0 -2.0 0M132.8 125.9a1.0 1.0 0 1 0 2.0 0a1.0 1.0 0 1 0 -2.0 0M127.3 105.8a1.0 1.0 0 1 0 2.0 0a1.0 1.0 0 1 0 -2.0 0M127.5 124.5a1.0 1.0 0 1 0 2.0 0a1.0 1.0 0 1 0 -2.0 0M131.7 131.3a1.0 1.0 0 1 0 2.0 0a1.0 1.0 0 1 0 -2.0 0M129.2 93.4a1.0 1.0 0 1 0 2.0 0a1.0 1.0 0 1 0 -2.0 0M133.2 110.8a1.0 1.0 0 1 0 2.0 0a1.0 1.0 0 1 0 -2.0 0M125.4 100.3a1.0 1.0 0 1 0 2.0 0a1.0 1.0 0 1 0 -2.0 0M130.6 146.3a1.0 1.0 0 1 0 2.0 0a1.0 1.0 0 1 0 -2.0 0M127.7 137.7a1.0 1.0 0 1 0 2.0 0a1.0 1.0 0 1 0 -2.0 0M127.5 124.6a1.0 1.0 0 1 0 2.0 0a1.0 1.0 0 1 0 -2.0 0M125.5 106.7a1.0 1.0 0 1 0 2.0 0a1.0 1.0 0 1 0 -2.0 0M133.0 104.2a1.0 1.0 0 1 0 2.0 0a1.0 1.0 0 1 0 -2.0 0M128.9 117.0a1.0 1.0 0 1 0 2.0 0a1.0 1.0 0 1 0 -2.0 0M133.2 140.4a1.0 1.0 0 1 0 2.0 0a1.0 1.0 0 1 0 -2.0 0M128.0 116.4a1.0 1.0 0 1 0 2.0 0a1.0 1.0 0 1 0 -2.0 0M127.2 110.7a1.0 1.0 0 1 0 2.0 0a1.0 1.0 0 1 0 -2.0 0M131.6 89.9a1.0 1.0 0 1 0 2.0 0a1.0 1.0 0 1 0 -2.0 0M126.8 160.3a1.0 1.0 0 1 0 2.0 0a1.0 1.0 0 1 0 -2.0 0M125.3 122.2a1.0 1.0 0 1 0 2.0 0a1.0 1.0 0 1 0 -2.0 0M127.7 83.2a1.0 1.0 0 1 0 2.0 0a1.0 1.0 0 1 0 -2.0 0M128.7 94.8a1.0 1.0 0 1 0 2.0 0a1.0 1.0 0 1 0 -2.0 0M132.2 128.7a1.0 1.0 0 1 0 2.0 0a1.0 1.0 0 1 0 -2.0 0M127.1 128.3a1.0 1.0 0 1 0 2.0 0a1.0 1.0 0 1 0 -2.0 0M125.7 134.1a1.0 1.0 0 1 0 2.0 0a1.0 1.0 0 1 0 -2.0 0M132.5 126.1a1.0 1.0 0 1 0 2.0 0a1.0 1.0 0 1 0 -2.0 0M124.7 142.1a1.0 1.0 0 1 0 2.0 0a1.0 1.0 0 1 0 -2.0 0M126.5 99.8a1.0 1.0 0 1 0 2.0 0a1.0 1.0 0 1 0 -2.0 0M130.8 108.7a1.0 1.0 0 1 0 2.0 0a1.0 1.0 0 1 0 -2.0 0M125.3 118.9a1.0 1.0 0 1 0 2.0 0a1.0 1.0 0 1 0 -2.0 0M132.0 95.2a1.0 1.0 0 1 0 2.0 0a1.0 1.0 0 1 0 -2.0 0M134.2 112.4a1.0 1.0 0 1 0 2.0 0a1.0 1.0 0 1 0 -2.0 0M131.1 130.8a1.0 1.0 0 1 0 2.0 0a1.0 1.0 0 1 0 -2.0 0M128.3 112.8a1.0 1.0 0 1 0 2.0 0a1.0 1.0 0 1 0 -2.0 0M134.4 153.9a1.0 1.0 0 1 0 2.0 0a1.0 1.0 0 1 0 -2.0 0M128.3 96.1a1.0 1.0 0 1 0 2.0 0a1.0 1.0 0 1 0 -2.0 0M131.4 130.9a1.0 1.0 0 1 0 2.0 0a1.0 1.0 0 1 0 -2.0 0M125.5 103.6a1.0 1.0 0 1 0 2.0 0a1.0 1.0 0 1 0 -2.0 0M125.9 138.3a1.0 1.0 0 1 0 2.0 0a1.0 1.0 0 1 0 -2.0 0M131.4 152.3a1.0 1.0 0 1 0 2.0 0a1.0 1.0 0 1 0 -2.0 0M129.0 122.6a1.0 1.0 0 1 0 2.0 0a1.0 1.0 0 1 0 -2.0 0M133.7 158.0a1.0 1.0 0 1 0 2.0 0a1.0 1.0 0 1 0 -2.0 0M128.0 111.5a1.0 1.0 0 1 0 2.0 0a1.0 1.0 0 1 0 -2.0 0M129.1 143.4a1.0 1.0 0 1 0 2.0 0a1.0 1.0 0 1 0 -2.0 0M130.3 107.4a1.0 1.0 0 1 0 2.0 0a1.0 1.0 0 1 0 -2.0 0M128.6 105.7a1.0 1.0 0 1 0 2.0 0a1.0 1.0 0 1 0 -2.0 0M130.0 157.9a1.0 1.0 0 1 0 2.0 0a1.0 1.0 0 1 0 -2.0 0M133.8 129.7a1.0 1.0 0 1 0 2.0 0a1.0 1.0 0 1 0 -2.0 0M128.5 111.5a1.0 1.0 0 1 0 2.0 0a1.0 1.0 0 1 0 -2.0 0M125.8 104.7a1.0 1.0 0 1 0 2.0 0a1.0 1.0 0 1 0 -2.0 0M134.3 143.5a1.0 1.0 0 1 0 2.0 0a1.0 1.0 0 1 0 -2.0 0M132.4 70.9a1.0 1.0 0 1 0 2.0 0a1.0 1.0 0 1 0 -2.0 0M128.6 97.2a1.0 1.0 0 1 0 2.0 0a1.0 1.0 0 1 0 -2.0 0M133.8 111.9a1.0 1.0 0 1 0 2.0 0a1.0 1.0 0 1 0 -2.0 0M132.1 125.8a1.0 1.0 0 1 0 2.0 0a1.0 1.0 0 1 0 -2.0 0M134.4 109.9a1.0 1.0 0 1 0 2.0 0a1.0 1.0 0 1 0 -2.0 0M130.4 161.6a1.0 1.0 0 1 0 2.0 0a1.0 1.0 0 1 0 -2.0 0M130.6 115.8a1.0 1.0 0 1 0 2.0 0a1.0 1.0 0 1 0 -2.0 0M129.8 102.9a1.0 1.0 0 1 0 2.0 0a1.0 1.0 0 1 0 -2.0 0M134.1 138.0a1.0 1.0 0 1 0 2.0 0a1.0 1.0 0 1 0 -2.0 0M130.0 101.6a1.0 1.0 0 1 0 2.0 0a1.0 1.0 0 1 0 -2.0 0M133.0 88.3a1.0 1.0 0 1 0 2.0 0a1.0 1.0 0 1 0 -2.0 0M125.9 92.3a1.0 1.0 0 1 0 2.0 0a1.0 1.0 0 1 0 -2.0 0M125.6 105.4a1.0 1.0 0 1 0 2.0 0a1.0 1.0 0 1 0 -2.0 0M130.3 125.7a1.0 1.0 0 1 0 2.0 0a1.0 1.0 0 1 0 -2.0 0M126.7 105.4a1.0 1.0 0 1 0 2.0 0a1.0 1.0 0 1 0 -2.0 0M133.4 138.3a1.0 1.0 0 1 0 2.0 0a1.0 1.0 0 1 0 -2.0 0M133.2 99.9a1.0 1.0 0 1 0 2.0 0a1.0 1.0 0 1 0 -2.0 0M131.3 95.5a1.0 1.0 0 1 0 2.0 0a1.0 1.0 0 1 0 -2.0 0M132.2 102.4a1.0 1.0 0 1 0 2.0 0a1.0 1.0 0 1 0 -2.0 0M126.3 103.2a1.0 1.0 0 1 0 2.0 0a1.0 1.0 0 1 0 -2.0 0M134.4 103.7a1.0 1.0 0 1 0 2.0 0a1.0 1.0 0 1 0 -2.0 0M130.2 100.1a1.0 1.0 0 1 0 2.0 0a1.0 1.0 0 1 0 -2.0 0M133.5 109.4a1.0 1.0 0 1 0 2.0 0a1.0 1.0 0 1 0 -2.0 0M130.0 99.5a1.0 1.0 0 1 0 2.0 0a1.0 1.0 0 1 0 -2.0 0M132.6 110.4a1.0 1.0 0 1 0 2.0 0a1.0 1.0 0 1 0 -2.0 0M131.6 98.6a1.0 1.0 0 1 0 2.0 0a1.0 1.0 0 1 0 -2.0 0M128.3 145.2a1.0 1.0 0 1 0 2.0 0a1.0 1.0 0 1 0 -2.0 0M126.0 120.3a1.0 1.0 0 1 0 2.0 0a1.0 1.0 0 1 0 -2.0 0M133.9 124.5a1.0 1.0 0 1 0 2.0 0a1.0 1.0 0 1 0 -2.0 0M132.1 114.3a1.0 1.0 0 1 0 2.0 0a1.0 1.0 0 1 0 -2.0 0M127.2 99.7a1.0 1.0 0 1 0 2.0 0a1.0 1.0 0 1 0 -2.0 0M128.9 129.0a1.0 1.0 0 1 0 2.0 0a1.0 1.0 0 1 0 -2.0 0M125.4 95.4a1.0 1.0 0 1 0 2.0 0a1.0 1.0 0 1 0 -2.0 0M134.0 99.4a1.0 1.0 0 1 0 2.0 0a1.0 1.0 0 1 0 -2.0 0M126.2 95.8a1.0 1.0 0 1 0 2.0 0a1.0 1.0 0 1 0 -2.0 0M130.7 95.8a1.0 1.0 0 1 0 2.0 0a1.0 1.0 0 1 0 -2.0 0M128.0 119.7a1.0 1.0 0 1 0 2.0 0a1.0 1.0 0 1 0 -2.0 0M126.1 71.8a1.0 1.0 0 1 0 2.0 0a1.0 1.0 0 1 0 -2.0 0M127.5 136.0a1.0 1.0 0 1 0 2.0 0a1.0 1.0 0 1 0 -2.0 0M131.8 109.2a1.0 1.0 0 1 0 2.0 0a1.0 1.0 0 1 0 -2.0 0M131.5 96.4a1.0 1.0 0 1 0 2.0 0a1.0 1.0 0 1 0 -2.0 0M131.6 96.2a1.0 1.0 0 1 0 2.0 0a1.0 1.0 0 1 0 -2.0 0M131.4 80.7a1.0 1.0 0 1 0 2.0 0a1.0 1.0 0 1 0 -2.0 0M129.0 117.5a1.0 1.0 0 1 0 2.0 0a1.0 1.0 0 1 0 -2.0 0M126.7 101.9a1.0 1.0 0 1 0 2.0 0a1.0 1.0 0 1 0 -2.0 0M133.8 186.0a1.0 1.0 0 1 0 2.0 0a1.0 1.0 0 1 0 -2.0 0" fill="#7fbc41" fill-opacity="0.55"/>
<path d="M125.5 133.0a1.0 1.0 0 1 0 2.0 0a1.0 1.0 0 1 0 -2.0 0M134.7 113.3a1.0 1.0 0 1 0 2.0 0a1.0 1.0 0 1 0 -2.0 0M129.8 124.9a1.0 1.0 0 1 0 2.0 0a1.0 1.0 0 1 0 -2.0 0M129.2 134.4a1.0 1.0 0 1 0 2.0 0a1.0 1.0 0 1 0 -2.0 0M129.6 94.5a1.0 1.0 0 1 0 2.0 0a1.0 1.0 0 1 0 -2.0 0M127.5 147.4a1.0 1.0 0 1 0 2.0 0a1.0 1.0 0 1 0 -2.0 0M130.3 94.5a1.0 1.0 0 1 0 2.0 0a1.0 1.0 0 1 0 -2.0 0M132.8 115.8a1.0 1.0 0 1 0 2.0 0a1.0 1.0 0 1 0 -2.0 0M134.3 104.3a1.0 1.0 0 1 0 2.0 0a1.0 1.0 0 1 0 -2.0 0M126.1 102.7a1.0 1.0 0 1 0 2.0 0a1.0 1.0 0 1 0 -2.0 0M131.2 125.1a1.0 1.0 0 1 0 2.0 0a1.0 1.0 0 1 0 -2.0 0M126.0 146.3a1.0 1.0 0 1 0 2.0 0a1.0 1.0 0 1 0 -2.0 0M131.3 85.9a1.0 1.0 0 1 0 2.0 0a1.0 1.0 0 1 0 -2.0 0M126.7 106.3a1.0 1.0 0 1 0 2.0 0a1.0 1.0 0 1 0 -2.0 0M132.3 118.2a1.0 1.0 0 1 0 2.0 0a1.0 1.0 0 1 0 -2.0 0M125.4 101.2a1.0 1.0 0 1 0 2.0 0a1.0 1.0 0 1 0 -2.0 0M128.9 97.9a1.0 1.0 0 1 0 2.0 0a1.0 1.0 0 1 0 -2.0 0M131.9 111.5a1.0 1.0 0 1 0 2.0 0a1.0 1.0 0 1 0 -2.0 0M128.3 136.8a1.0 1.0 0 1 0 2.0 0a1.0 1.0 0 1 0 -2.0 0M124.9 105.2a1.0 1.0 0 1 0 2.0 0a1.0 1.0 0 1 0 -2.0 0M127.0 80.4a1.0 1.0 0 1 0 2.0 0a1.0 1.0 0 1 0 -2.0 0M132.1 90.8a1.0 1.0 0 1 0 2.0 0a1.0 1.0 0 1 0 -2.0 0M124.7 91.9a1.0 1.0 0 1 0 2.0 0a1.0 1.0 0 1 0 -2.0 0M133.7 91.2a1.0 1.0 0 1 0 2.0 0a1.0 1.0 0 1 0 -2.0 0M134.3 89.7a1.0 1.0 0 1 0 2.0 0a1.0 1.0 0 1 0 -2.0 0M126.4 114.1a1.0 1.0 0 1 0 2.0 0a1.0 1.0 0 1 0 -2.0 0M128.3 104.1a1.0 1.0 0 1 0 2.0 0a1.0 1.0 0 1 0 -2.0 0M127.7 100.5a1.0 1.0 0 1 0 2.0 0a1.0 1.0 0 1 0 -2.0 0M130.8 160.0a1.0 1.0 0 1 0 2.0 0a1.0 1.0 0 1 0 -2.0 0M126.6 100.7a1.0 1.0 0 1 0 2.0 0a1.0 1.0 0 1 0 -2.0 0M125.7 116.1a1.0 1.0 0 1 0 2.0 0a1.0 1.0 0 1 0 -2.0 0M127.3 117.6a1.0 1.0 0 1 0 2.0 0a1.0 1.0 0 1 0 -2.0 0M133.1 106.6a1.0 1.0 0 1 0 2.0 0a1.0 1.0 0 1 0 -2.0 0M127.6 151.9a1.0 1.0 0 1 0 2.0 0a1.0 1.0 0 1 0 -2.0 0M133.0 67.4a1.0 1.0 0 1 0 2.0 0a1.0 1.0 0 1 0 -2.0 0M130.2 138.9a1.0 1.0 0 1 0 2.0 0a1.0 1.0 0 1 0 -2.0 0M125.8 81.3a1.0 1.0 0 1 0 2.0 0a1.0 1.0 0 1 0 -2.0 0M131.5 112.9a1.0 1.0 0 1 0 2.0 0a1.0 1.0 0 1 0 -2.0 0M132.2 78.6a1.0 1.0 0 1 0 2.0 0a1.0 1.0 0 1 0 -2.0 0M131.9 129.1a1.0 1.0 0 1 0 2.0 0a1.0 1.0 0 1 0 -2.0 0M129.8 139.0a1.0 1.0 0 1 0 2.0 0a1.0 1.0 0 1 0 -2.0 0M128.0 111.1a1.0 1.0 0 1 0 2.0 0a1.0 1.0 0 1 0 -2.0 0M131.1 127.0a1.0 1.0 0 1 0 2.0 0a1.0 1.0 0 1 0 -2.0 0M130.3 131.1a1.0 1.0 0 1 0 2.0 0a1.0 1.0 0 1 0 -2.0 0M126.7 98.6a1.0 1.0 0 1 0 2.0 0a1.0 1.0 0 1 0 -2.0 0M131.5 102.5a1.0 1.0 0 1 0 2.0 0a1.0 1.0 0 1 0 -2.0 0M126.0 100.3a1.0 1.0 0 1 0 2.0 0a1.0 1.0 0 1 0 -2.0 0M134.4 101.2a1.0 1.0 0 1 0 2.0 0a1.0 1.0 0 1 0 -2.0 0M128.0 105.1a1.0 1.0 0 1 0 2.0 0a1.0 1.0 0 1 0 -2.0 0M134.1 106.7a1.0 1.0 0 1 0 2.0 0a1.0 1.0 0 1 0 -2.0 0M130.7 154.0a1.0 1.0 0 1 0 2.0 0a1.0 1.0 0 1 0 -2.0 0M126.6 131.1a1.0 1.0 0 1 0 2.0 0a1.0 1.0 0 1 0 -2.0 0M127.4 106.6a1.0 1.0 0 1 0 2.0 0a1.0 1.0 0 1 0 -2.0 0M125.2 93.1a1.0 1.0 0 1 0 2.0 0a1.0 1.0 0 1 0 -2.0 0M134.7 106.3a1.0 1.0 0 1 0 2.0 0a1.0 1.0 0 1 0 -2.0 0M126.5 117.6a1.0 1.0 0 1 0 2.0 0a1.0 1.0 0 1 0 -2.0 0M131.3 128.4a1.0 1.0 0 1 0 2.0 0a1.0 1.0 0 1 0 -2.0 0M126.2 107.3a1.0 1.0 0 1 0 2.0 0a1.0 1.0 0 1 0 -2.0 0M133.1 123.1a1.0 1.0 0 1 0 2.0 0a1.0 1.0 0 1 0 -2.0 0M133.1 102.7a1.0 1.0 0 1 0 2.0 0a1.0 1.0 0 1 0 -2.0 0M132.0 99.1a1.0 1.0 0 1 0 2.0 0a1.0 1.0 0 1 0 -2.0 0M128.9 96.0a1.0 1.0 0 1 0 2.0 0a1.0 1.0 0 1 0 -2.0 0M131.2 129.3a1.0 1.0 0 1 0 2.0 0a1.0 1.0 0 1 0 -2.0 0M129.4 108.7a1.0 1.0 0 1 0 2.0 0a1.0 1.0 0 1 0 -2.0 0M129.8 130.3a1.0 1.0 0 1 0 2.0 0a1.0 1.0 0 1 0 -2.0 0M130.7 94.4a1.0 1.0 0 1 0 2.0 0a1.0 1.0 0 1 0 -2.0 0M128.1 108.6a1.0 1.0 0 1 0 2.0 0a1.0 1.0 0 1 0 -2.0 0M134.4 93.5a1.0 1.0 0 1 0 2.0 0a1.0 1.0 0 1 0 -2.0 0M129.8 148.8a1.0 1.0 0 1 0 2.0 0a1.0 1.0 0 1 0 -2.0 0M125.5 105.9a1.0 1.0 0 1 0 2.0 0a1.0 1.0 0 1 0 -2.0 0M133.2 141.6a1.0 1.0 0 1 0 2.0 0a1.0 1.0 0 1 0 -2.0 0M132.5 116.2a1.0 1.0 0 1 0 2.0 0a1.0 1.0 0 1 0 -2.0 0M133.1 138.9a1.0 1.0 0 1 0 2.0 0a1.0 1.0 0 1 0 -2.0 0M125.7 114.3a1.0 1.0 0 1 0 2.0 0a1.0 1.0 0 1 0 -2.0 0M129.8 112.2a1.0 1.0 0 1 0 2.0 0a1.0 1.0 0 1 0 -2.0 0M126.7 106.7a1.0 1.0 0 1 0 2.0 0a1.0 1.0 0 1 0 -2.0 0M129.5 142.5a1.0 1.0 0 1 0 2.0 0a1.0 1.0 0 1 0 -2.0 0M127.3 141.7a1.0 1.0 0 1 0 2.0 0a1.0 1.0 0 1 0 -2.0 0M134.1 105.8a1.0 1.0 0 1 0 2.0 0a1.0 1.0 0 1 0 -2.0 0M127.0 107.5a1.0 1.0 0 1 0 2.0 0a1.0 1.0 0 1 0 -2.0 0M124.8 91.6a1.0 1.0 0 1 0 2.0 0a1.0 1.0 0 1 0 -2.0 0M125.6 100.6a1.0 1.0 0 1 0 2.0 0a1.0 1.0 0 1 0 -2.0 0M125.9 93.7a1.0 1.0 0 1 0 2.0 0a1.0 1.0 0 1 0 -2.0 0M134.8 130.3a1.0 1.0 0 1 0 2.0 0a1.0 1.0 0 1 0 -2.0 0M134.1 105.9a1.0 1.0 0 1 0 2.0 0a1.0 1.0 0 1 0 -2.0 0M133.0 103.1a1.0 1.0 0 1 0 2.0 0a1.0 1.0 0 1 0 -2.0 0M124.6 113.2a1.0 1.0 0 1 0 2.0 0a1.0 1.0 0 1 0 -2.0 0M134.0 128.2a1.0 1.0 0 1 0 2.0 0a1.0 1.0 0 1 0 -2.0 0M130.8 97.6a1.0 1.0 0 1 0 2.0 0a1.0 1.0 0 1 0 -2.0 0M129.4 98.6a1.0 1.0 0 1 0 2.0 0a1.0 1.0 0 1 0 -2.0 0M126.4 134.4a1.0 1.0 0 1 0 2.0 0a1.0 1.0 0 1 0 -2.0 0M126.1 95.4a1.0 1.0 0 1 0 2.0 0a1.0 1.0 0 1 0 -2.0 0M130.0 106.6a1.0 1.0 0 1 0 2.0 0a1.0 1.0 0 1 0 -2.0 0M128.1 96.4a1.0 1.0 0 1 0 2.0 0a1.0 1.0 0 1 0 -2.0 0M128.5 101.5a1.0 1.0 0 1 0 2.0 0a1.0 1.0 0 1 0 -2.0 0M134.8 102.7a1.0 1.0 0 1 0 2.0 0a1.0 1.0 0 1 0 -2.0 0M127.4 121.0a1.0 1.0 0 1 0 2.0 0a1.0 1.0 0 1 0 -2.0 0M129.7 81.6a1.0 1.0 0 1 0 2.0 0a1.0 1.0 0 1 0 -2.0 0M127.3 100.2a1.0 1.0 0 1 0 2.0 0a1.0 1.0 0 1 0 -2.0 0M127.6 91.6a1.0 1.0 0 1 0 2.0 0a1.0 1.0 0 1 0 -2.0 0M131.3 123.4a1.0 1.0 0 1 0 2.0 0a1.0 1.0 0 1 0 -2.0 0M130.1 86.2a1.0 1.0 0 1 0 2.0 0a1.0 1.0 0 1 0 -2.0 0M131.6 101.9a1.0 1.0 0 1 0 2.0 0a1.0 1.0 0 1 0 -2.0 0M130.0 80.4a1.0 1.0 0 1 0 2.0 0a1.0 1.0 0 1 0 -2.0 0M127.3 138.6a1.0 1.0 0 1 0 2.0 0a1.0 1.0 0 1 0 -2.0 0M125.7 138.7a1.0 1.0 0 1 0 2.0 0a1.0 1.0 0 1 0 -2.0 0M128.4 94.3a1.0 1.0 0 1 0 2.0 0a1.0 1.0 0 1 0 -2.0 0M127.8 92.0a1.0 1.0 0 1 0 2.0 0a1.0 1.0 0 1 0 -2.0 0M129.9 92.2a1.0 1.0 0 1 0 2.0 0a1.0 1.0 0 1 0 -2.0 0M125.2 91.4a1.0 1.0 0 1 0 2.0 0a1.0 1.0 0 1 0 -2.0 0M130.7 86.1a1.0 1.0 0 1 0 2.0 0a1.0 1.0 0 1 0 -2.0 0M134.5 112.0a1.0 1.0 0 1 0 2.0 0a1.0 1.0 0 1 0 -2.0 0M125.6 100.1a1.0 1.0 0 1 0 2.0 0a1.0 1.0 0 1 0 -2.0 0M127.9 81.8a1.0 1.0 0 1 0 2.0 0a1.0 1.0 0 1 0 -2.0 0M134.0 153.3a1.0 1.0 0 1 0 2.0 0a1.0 1.0 0 1 0 -2.0 0M128.2 84.7a1.0 1.0 0 1 0 2.0 0a1.0 1.0 0 1 0 -2.0 0M127.6 117.3a1.0 1.0 0 1 0 2.0 0a1.0 1.0 0 1 0 -2.0 0M125.4 96.8a1.0 1.0 0 1 0 2.0 0a1.0 1.0 0 1 0 -2.0 0M131.2 91.1a1.0 1.0 0 1 0 2.0 0a1.0 1.0 0 1 0 -2.0 0M132.3 128.5a1.0 1.0 0 1 0 2.0 0a1.0 1.0 0 1 0 -2.0 0M125.1 136.0a1.0 1.0 0 1 0 2.0 0a1.0 1.0 0 1 0 -2.0 0M126.9 130.4a1.0 1.0 0 1 0 2.0 0a1.0 1.0 0 1 0 -2.0 0M131.1 131.3a1.0 1.0 0 1 0 2.0 0a1.0 1.0 0 1 0 -2.0 0M134.1 103.6a1.0 1.0 0 1 0 2.0 0a1.0 1.0 0 1 0 -2.0 0M126.9 112.3a1.0 1.0 0 1 0 2.0 0a1.0 1.0 0 1 0 -2.0 0M127.3 103.1a1.0 1.0 0 1 0 2.0 0a1.0 1.0 0 1 0 -2.0 0M131.3 117.4a1.0 1.0 0 1 0 2.0 0a1.0 1.0 0 1 0 -2.0 0M133.8 130.9a1.0 1.0 0 1 0 2.0 0a1.0 1.0 0 1 0 -2.0 0M129.7 105.0a1.0 1.0 0 1 0 2.0 0a1.0 1.0 0 1 0 -2.0 0M130.0 86.5a1.0 1.0 0 1 0 2.0 0a1.0 1.0 0 1 0 -2.0 0M130.6 101.1a1.0 1.0 0 1 0 2.0 0a1.0 1.0 0 1 0 -2.0 0M133.0 110.5a1.0 1.0 0 1 0 2.0 0a1.0 1.0 0 1 0 -2.0 0M126.0 79.0a1.0 1.0 0 1 0 2.0 0a1.0 1.0 0 1 0 -2.0 0M126.8 101.1a1.0 1.0 0 1 0 2.0 0a1.0 1.0 0 1 0 -2.0 0M134.1 85.4a1.0 1.0 0 1 0 2.0 0a1.0 1.0 0 1 0 -2.0 0M133.0 99.8a1.0 1.0 0 1 0 2.0 0a1.0 1.0 0 1 0 -2.0 0M131.7 126.6a1.0 1.0 0 1 0 2.0 0a1.0 1.0 0 1 0 -2.0 0M129.2 98.9a1.0 1.0 0 1 0 2.0 0a1.0 1.0 0 1 0 -2.0 0M127.3 112.4a1.0 1.0 0 1 0 2.0 0a1.0 1.0 0 1 0 -2.0 0M129.2 135.1a1.0 1.0 0 1 0 2.0 0a1.0 1.0 0 1 0 -2.0 0M132.9 86.2a1.0 1.0 0 1 0 2.0 0a1.0 1.0 0 1 0 -2.0 0M127.5 89.0a1.0 1.0 0 1 0 2.0 0a1.0 1.0 0 1 0 -2.0 0M127.0 102.8a1.0 1.0 0 1 0 2.0 0a1.0 1.0 0 1 0 -2.0 0M130.7 117.2a1.0 1.0 0 1 0 2.0 0a1.0 1.0 0 1 0 -2.0 0M129.9 101.3a1.0 1.0 0 1 0 2.0 0a1.0 1.0 0 1 0 -2.0 0M127.0 114.6a1.0 1.0 0 1 0 2.0 0a1.0 1.0 0 1 0 -2.0 0M125.3 78.4a1.0 1.0 0 1 0 2.0 0a1.0 1.0 0 1 0 -2.0 0M133.3 162.5a1.0 1.0 0 1 0 2.0 0a1.0 1.0 0 1 0 -2.0 0M126.9 160.5a1.0 1.0 0 1 0 2.0 0a1.0 1.0 0 1 0 -2.0 0M132.5 113.9a1.0 1.0 0 1 0 2.0 0a1.0 1.0 0 1 0 -2.0 0M130.7 131.3a1.0 1.0 0 1 0 2.0 0a1.0 1.0 0 1 0 -2.0 0M130.7 111.9a1.0 1.0 0 1 0 2.0 0a1.0 1.0 0 1 0 -2.0 0M125.7 122.0a1.0 1.0 0 1 0 2.0 0a1.0 1.0 0 1 0 -2.0 0M133.9 93.7a1.0 1.0 0 1 0 2.0 0a1.0 1.0 0 1 0 -2.0 0M133.6 125.7a1.0 1.0 0 1 0 2.0 0a1.0 1.0 0 1 0 -2.0 0M134.2 81.9a1.0 1.0 0 1 0 2.0 0a1.0 1.0 0 1 0 -2.0 0M127.9 93.6a1.0 1.0 0 1 0 2.0 0a1.0 1.0 0 1 0 -2.0 0M126.5 116.9a1.0 1.0 0 1 0 2.0 0a1.0 1.0 0 1 0 -2.0 0M125.5 118.0a1.0 1.0 0 1 0 2.0 0a1.0 1.0 0 1 0 -2.0 0M125.1 71.0a1.0 1.0 0 1 0 2.0 0a1.0 1.0 0 1 0 -2.0 0M126.2 101.9a1.0 1.0 0 1 0 2.0 0a1.0 1.0 0 1 0 -2.0 0M131.0 92.3a1.0 1.0 0 1 0 2.0 0a1.0 1.0 0 1 0 -2.0 0M124.8 116.3a1.0 1.0 0 1 0 2.0 0a1.0 1.0 0 1 0 -2.0 0M132.1 83.4a1.0 1.0 0 1 0 2.0 0a1.0 1.0 0 1 0 -2.0 0M125.8 100.3a1.0 1.0 0 1 0 2.0 0a1.0 1.0 0 1 0 -2.0 0M125.8 108.1a1.0 1.0 0 1 0 2.0 0a1.0 1.0 0 1 0 -2.0 0M125.5 170.5a1.0 1.0 0 1 0 2.0 0a1.0 1.0 0 1 0 -2.0 0M129.5 189.5a1.0 1.0 0 1 0 2.0 0a1.0 1.0 0 1 0 -2.0 0" fill="#7fbc41" fill-opacity="0.55"/>
<path d="M126.4 93.4a1.0 1.0 0 1 0 2.0 0a1.0 1.0 0 1 0 -2.0 0M134.0 88.7a1.0 1.0 0 1 0 2.0 0a1.0 1.0 0 1 0 -2.0 0M126.2 119.4a1.0 1.0 0 1 0 2.0 0a1.0 1.0 0 1 0 -2.0 0M128.5 102.4a1.0 1.0 0 1 0 2.0 0a1.0 1.0 0 1 0 -2.0 0M134.6 106.7a1.0 1.0 0 1 0 2.0 0a1.0 1.0 0 1 0 -2.0 0M127.1 116.5a1.0 1.0 0 1 0 2.0 0a1.0 1.0 0 1 0 -2.0 0M128.3 125.0a1.0 1.0 0 1 0 2.0 0a1.0 1.0 0 1 0 -2.0 0M132.3 86.3a1.0 1.0 0 1 0 2.0 0a1.0 1.0 0 1 0 -2.0 0M133.2 98.1a1.0 1.0 0 1 0 2.0 0a1.0 1.0 0 1 0 -2.0 0M128.7 102.5a1.0 1.0 0 1 0 2.0 0a1.0 1.0 0 1 0 -2.0 0M127.0 87.9a1.0 1.0 0 1 0 2.0 0a1.0 1.0 0 1 0 -2.0 0M131.6 119.9a1.0 1.0 0 1 0 2.0 0a1.0 1.0 0 1 0 -2.0 0M125.8 120.1a1.0 1.0 0 1 0 2.0 0a1.0 1.0 0 1 0 -2.0 0M129.3 86.8a1.0 1.0 0 1 0 2.0 0a1.0 1.0 0 1 0 -2.0 0M132.7 143.1a1.0 1.0 0 1 0 2.0 0a1.0 1.0 0 1 0 -2.0 0M131.0 86.3a1.0 1.0 0 1 0 2.0 0a1.0 1.0 0 1 0 -2.0 0M130.2 156.9a1.0 1.0 0 1 0 2.0 0a1.0 1.0 0 1 0 -2.0 0M129.0 78.6a1.0 1.0 0 1 0 2.0 0a1.0 1.0 0 1 0 -2.0 0M131.4 99.8a1.0 1.0 0 1 0 2.0 0a1.0 1.0 0 1 0 -2.0 0M131.6 137.9a1.0 1.0 0 1 0 2.0 0a1.0 1.0 0 1 0 -2.0 0M133.1 113.3a1.0 1.0 0 1 0 2.0 0a1.0 1.0 0 1 0 -2.0 0M134.3 89.2a1.0 1.0 0 1 0 2.0 0a1.0 1.0 0 1 0 -2.0 0M130.9 98.5a1.0 1.0 0 1 0 2.0 0a1.0 1.0 0 1 0 -2.0 0M126.9 112.0a1.0 1.0 0 1 0 2.0 0a1.0 1.0 0 1 0 -2.0 0M126.8 90.6a1.0 1.0 0 1 0 2.0 0a1.0 1.0 0 1 0 -2.0 0M129.5 135.2a1.0 1.0 0 1 0 2.0 0a1.0 1.0 0 1 0 -2.0 0M131.2 116.6a1.0 1.0 0 1 0 2.0 0a1.0 1.0 0 1 0 -2.0 0M127.2 107.1a1.0 1.0 0 1 0 2.0 0a1.0 1.0 0 1 0 -2.0 0M131.5 147.9a1.0 1.0 0 1 0 2.0 0a1.0 1.0 0 1 0 -2.0 0M132.7 105.5a1.0 1.0 0 1 0 2.0 0a1.0 1.0 0 1 0 -2.0 0M130.6 92.1a1.0 1.0 0 1 0 2.0 0a1.0 1.0 0 1 0 -2.0 0M130.3 81.2a1.0 1.0 0 1 0 2.0 0a1.0 1.0 0 1 0 -2.0 0M129.0 127.6a1.0 1.0 0 1 0 2.0 0a1.0 1.0 0 1 0 -2.0 0M129.4 88.1a1.0 1.0 0 1 0 2.0 0a1.0 1.0 0 1 0 -2.0 0M129.4 124.0a1.0 1.0 0 1 0 2.0 0a1.0 1.0 0 1 0 -2.0 0M125.7 122.3a1.0 1.0 0 1 0 2.0 0a1.0 1.0 0 1 0 -2.0 0M125.0 98.7a1.0 1.0 0 1 0 2.0 0a1.0 1.0 0 1 0 -2.0 0M131.1 118.7a1.0 1.0 0 1 0 2.0 0a1.0 1.0 0 1 0 -2.0 0M130.6 127.8a1.0 1.0 0 1 0 2.0 0a1.0 1.0 0 1 0 -2.0 0M128.8 110.2a1.0 1.0 0 1 0 2.0 0a1.0 1.0 0 1 0 -2.0 0M134.0 79.3a1.0 1.0 0 1 0 2.0 0a1.0 1.0 0 1 0 -2.0 0M127.8 110.5a1.0 1.0 0 1 0 2.0 0a1.0 1.0 0 1 0 -2.0 0M128.0 128.4a1.0 1.0 0 1 0 2.0 0a1.0 1.0 0 1 0 -2.0 0M127.5 77.9a1.0 1.0 0 1 0 2.0 0a1.0 1.0 0 1 0 -2.0 0M129.6 74.7a1.0 1.0 0 1 0 2.0 0a1.0 1.0 0 1 0 -2.0 0M125.9 142.4a1.0 1.0 0 1 0 2.0 0a1.0 1.0 0 1 0 -2.0 0M131.8 143.6a1.0 1.0 0 1 0 2.0 0a1.0 1.0 0 1 0 -2.0 0M134.0 116.3a1.0 1.0 0 1 0 2.0 0a1.0 1.0 0 1 0 -2.0 0M126.1 127.3a1.0 1.0 0 1 0 2.0 0a1.0 1.0 0 1 0 -2.0 0M125.5 116.1a1.0 1.0 0 1 0 2.0 0a1.0 1.0 0 1 0 -2.0 0M125.7 116.1a1.0 1.0 0 1 0 2.0 0a1.0 1.0 0 1 0 -2.0 0M126.2 101.7a1.0 1.0 0 1 0 2.0 0a1.0 1.0 0 1 0 -2.0 0M132.9 108.8a1.0 1.0 0 1 0 2.0 0a1.0 1.0 0 1 0 -2.0 0M131.2 97.5a1.0 1.0 0 1 0 2.0 0a1.0 1.0 0 1 0 -2.0 0M130.7 110.1a1.0 1.0 0 1 0 2.0 0a1.0 1.0 0 1 0 -2.0 0M130.2 102.8a1.0 1.0 0 1 0 2.0 0a1.0 1.0 0 1 0 -2.0 0M128.8 120.6a1.0 1.0 0 1 0 2.0 0a1.0 1.0 0 1 0 -2.0 0M134.3 115.5a1.0 1.0 0 1 0 2.0 0a1.0 1.0 0 1 0 -2.0 0M126.5 101.4a1.0 1.0 0 1 0 2.0 0a1.0 1.0 0 1 0 -2.0 0M126.2 116.5a1.0 1.0 0 1 0 2.0 0a1.0 1.0 0 1 0 -2.0 0M129.9 108.9a1.0 1.0 0 1 0 2.0 0a1.0 1.0 0 1 0 -2.0 0M134.0 138.2a1.0 1.0 0 1 0 2.0 0a1.0 1.0 0 1 0 -2.0 0M129.9 81.1a1.0 1.0 0 1 0 2.0 0a1.0 1.0 0 1 0 -2.0 0M129.0 89.0a1.0 1.0 0 1 0 2.0 0a1.0 1.0 0 1 0 -2.0 0M127.6 77.7a1.0 1.0 0 1 0 2.0 0a1.0 1.0 0 1 0 -2.0 0M128.0 135.0a1.0 1.0 0 1 0 2.0 0a1.0 1.0 0 1 0 -2.0 0M125.8 70.2a1.0 1.0 0 1 0 2.0 0a1.0 1.0 0 1 0 -2.0 0M125.7 162.3a1.0 1.0 0 1 0 2.0 0a1.0 1.0 0 1 0 -2.0 0M127.4 105.3a1.0 1.0 0 1 0 2.0 0a1.0 1.0 0 1 0 -2.0 0M134.8 109.5a1.0 1.0 0 1 0 2.0 0a1.0 1.0 0 1 0 -2.0 0M130.3 104.0a1.0 1.0 0 1 0 2.0 0a1.0 1.0 0 1 0 -2.0 0M126.5 131.8a1.0 1.0 0 1 0 2.0 0a1.0 1.0 0 1 0 -2.0 0M128.7 131.8a1.0 1.0 0 1 0 2.0 0a1.0 1.0 0 1 0 -2.0 0M131.6 136.8a1.0 1.0 0 1 0 2.0 0a1.0 1.0 0 1 0 -2.0 0M130.3 161.7a1.0 1.0 0 1 0 2.0 0a1.0 1.0 0 1 0 -2.0 0M133.5 98.6a1.0 1.0 0 1 0 2.0 0a1.0 1.0 0 1 0 -2.0 0M130.0 96.5a1.0 1.0 0 1 0 2.0 0a1.0 1.0 0 1 0 -2.0 0M132.3 123.8a1.0 1.0 0 1 0 2.0 0a1.0 1.0 0 1 0 -2.0 0M132.9 148.9a1.0 1.0 0 1 0 2.0 0a1.0 1.0 0 1 0 -2.0 0M131.1 135.5a1.0 1.0 0 1 0 2.0 0a1.0 1.0 0 1 0 -2.0 0M128.4 131.2a1.0 1.0 0 1 0 2.0 0a1.0 1.0 0 1 0 -2.0 0M128.2 133.0a1.0 1.0 0 1 0 2.0 0a1.0 1.0 0 1 0 -2.0 0M128.4 113.8a1.0 1.0 0 1 0 2.0 0a1.0 1.0 0 1 0 -2.0 0M129.1 89.4a1.0 1.0 0 1 0 2.0 0a1.0 1.0 0 1 0 -2.0 0M125.9 98.2a1.0 1.0 0 1 0 2.0 0a1.0 1.0 0 1 0 -2.0 0M132.6 106.4a1.0 1.0 0 1 0 2.0 0a1.0 1.0 0 1 0 -2.0 0M128.6 132.4a1.0 1.0 0 1 0 2.0 0a1.0 1.0 0 1 0 -2.0 0M130.2 153.3a1.0 1.0 0 1 0 2.0 0a1.0 1.0 0 1 0 -2.0 0M124.6 102.8a1.0 1.0 0 1 0 2.0 0a1.0 1.0 0 1 0 -2.0 0M132.0 106.9a1.0 1.0 0 1 0 2.0 0a1.0 1.0 0 1 0 -2.0 0M128.5 111.5a1.0 1.0 0 1 0 2.0 0a1.0 1.0 0 1 0 -2.0 0M125.7 91.3a1.0 1.0 0 1 0 2.0 0a1.0 1.0 0 1 0 -2.0 0M128.7 105.4a1.0 1.0 0 1 0 2.0 0a1.0 1.0 0 1 0 -2.0 0M132.5 112.1a1.0 1.0 0 1 0 2.0 0a1.0 1.0 0 1 0 -2.0 0M127.3 79.2a1.0 1.0 0 1 0 2.0 0a1.0 1.0 0 1 0 -2.0 0M131.5 89.8a1.0 1.0 0 1 0 2.0 0a1.0 1.0 0 1 0 -2.0 0M132.2 68.5a1.0 1.0 0 1 0 2.0 0a1.0 1.0 0 1 0 -2.0 0M133.6 78.1a1.0 1.0 0 1 0 2.0 0a1.0 1.0 0 1 0 -2.0 0M134.7 100.4a1.0 1.0 0 1 0 2.0 0a1.0 1.0 0 1 0 -2.0 0M131.3 159.6a1.0 1.0 0 1 0 2.0 0a1.0 1.0 0 1 0 -2.0 0M124.8 132.9a1.0 1.0 0 1 0 2.0 0a1.0 1.0 0 1 0 -2.0 0M129.3 155.2a1.0 1.0 0 1 0 2.0 0a1.0 1.0 0 1 0 -2.0 0M126.5 108.7a1.0 1.0 0 1 0 2.0 0a1.0 1.0 0 1 0 -2.0 0M131.0 96.5a1.0 1.0 0 1 0 2.0 0a1.0 1.0 0 1 0 -2.0 0M129.9 108.4a1.0 1.0 0 1 0 2.0 0a1.0 1.0 0 1 0 -2.0 0M129.2 101.2a1.0 1.0 0 1 0 2.0 0a1.0 1.0 0 1 0 -2.0 0M130.8 98.5a1.0 1.0 0 1 0 2.0 0a1.0 1.0 0 1 0 -2.0 0M126.7 107.6a1.0 1.0 0 1 0 2.0 0a1.0 1.0 0 1 0 -2.0 0M128.1 110.8a1.0 1.0 0 1 0 2.0 0a1.0 1.0 0 1 0 -2.0 0M134.1 106.4a1.0 1.0 0 1 0 2.0 0a1.0 1.0 0 1 0 -2.0 0M130.9 143.5a1.0 1.0 0 1 0 2.0 0a1.0 1.0 0 1 0 -2.0 0M134.5 126.8a1.0 1.0 0 1 0 2.0 0a1.0 1.0 0 1 0 -2.0 0M129.7 124.8a1.0 1.0 0 1 0 2.0 0a1.0 1.0 0 1 0 -2.0 0M131.9 99.9a1.0 1.0 0 1 0 2.0 0a1.0 1.0 0 1 0 -2.0 0M134.0 109.3a1.0 1.0 0 1 0 2.0 0a1.0 1.0 0 1 0 -2.0 0M125.2 96.7a1.0 1.0 0 1 0 2.0 0a1.0 1.0 0 1 0 -2.0 0M126.8 109.8a1.0 1.0 0 1 0 2.0 0a1.0 1.0 0 1 0 -2.0 0M125.0 100.7a1.0 1.0 0 1 0 2.0 0a1.0 1.0 0 1 0 -2.0 0M128.2 116.9a1.0 1.0 0 1 0 2.0 0a1.0 1.0 0 1 0 -2.0 0M128.4 86.0a1.0 1.0 0 1 0 2.0 0a1.0 1.0 0 1 0 -2.0 0M127.6 115.3a1.0 1.0 0 1 0 2.0 0a1.0 1.0 0 1 0 -2.0 0M127.6 128.6a1.0 1.0 0 1 0 2.0 0a1.0 1.0 0 1 0 -2.0 0M133.6 70.6a1.0 1.0 0 1 0 2.0 0a1.0 1.0 0 1 0 -2.0 0M132.1 128.2a1.0 1.0 0 1 0 2.0 0a1.0 1.0 0 1 0 -2.0 0M133.6 142.3a1.0 1.0 0 1 0 2.0 0a1.0 1.0 0 1 0 -2.0 0M131.9 125.8a1.0 1.0 0 1 0 2.0 0a1.0 1.0 0 1 0 -2.0 0M133.9 119.2a1.0 1.0 0 1 0 2.0 0a1.0 1.0 0 1 0 -2.0 0M133.2 90.6a1.0 1.0 0 1 0 2.0 0a1.0 1.0 0 1 0 -2.0 0M129.4 143.6a1.0 1.0 0 1 0 2.0 0a1.0 1.0 0 1 0 -2.0 0M129.2 125.5a1.0 1.0 0 1 0 2.0 0a1.0 1.0 0 1 0 -2.0 0M130.9 88.6a1.0 1.0 0 1 0 2.0 0a1.0 1.0 0 1 0 -2.0 0M125.1 102.6a1.0 1.0 0 1 0 2.0 0a1.0 1.0 0 1 0 -2.0 0M131.2 98.2a1.0 1.0 0 1 0 2.0 0a1.0 1.0 0 1 0 -2.0 0M133.9 105.5a1.0 1.0 0 1 0 2.0 0a1.0 1.0 0 1 0 -2.0 0M134.2 101.6a1.0 1.0 0 1 0 2.0 0a1.0 1.0 0 1 0 -2.0 0M133.1 112.5a1.0 1.0 0 1 0 2.0 0a1.0 1.0 0 1 0 -2.0 0M130.2 98.4a1.0 1.0 0 1 0 2.0 0a1.0 1.0 0 1 0 -2.0 0M126.0 101.9a1.0 1.0 0 1 0 2.0 0a1.0 1.0 0 1 0 -2.0 0M132.8 109.3a1.0 1.0 0 1 0 2.0 0a1.0 1.0 0 1 0 -2.0 0M134.4 146.0a1.0 1.0 0 1 0 2.0 0a1.0 1.0 0 1 0 -2.0 0M133.0 112.8a1.0 1.0 0 1 0 2.0 0a1.0 1.0 0 1 0 -2.0 0M124.9 106.4a1.0 1.0 0 1 0 2.0 0a1.0 1.0 0 1 0 -2.0 0M127.5 153.7a1.0 1.0 0 1 0 2.0 0a1.0 1.0 0 1 0 -2.0 0M134.4 129.7a1.0 1.0 0 1 0 2.0 0a1.0 1.0 0 1 0 -2.0 0M130.8 90.3a1.0 1.0 0 1 0 2.0 0a1.0 1.0 0 1 0 -2.0 0M130.7 125.3a1.0 1.0 0 1 0 2.0 0a1.0 1.0 0 1 0 -2.0 0M134.7 95.9a1.0 1.0 0 1 0 2.0 0a1.0 1.0 0 1 0 -2.0 0M129.0 103.8a1.0 1.0 0 1 0 2.0 0a1.0 1.0 0 1 0 -2.0 0M133.3 136.8a1.0 1.0 0 1 0 2.0 0a1.0 1.0 0 1 0 -2.0 0M133.8 127.9a1.0 1.0 0 1 0 2.0 0a1.0 1.0 0 1 0 -2.0 0M133.7 122.5a1.0 1.0 0 1 0 2.0 0a1.0 1.0 0 1 0 -2.0 0M127.4 84.1a1.0 1.0 0 1 0 2.0 0a1.0 1.0 0 1 0 -2.0 0M133.5 125.8a1.0 1.0 0 1 0 2.0 0a1.0 1.0 0 1 0 -2.0 0M131.2 92.0a1.0 1.0 0 1 0 2.0 0a1.0 1.0 0 1 0 -2.0 0M125.8 100.5a1.0 1.0 0 1 0 2.0 0a1.0 1.0 0 1 0 -2.0 0M134.0 93.1a1.0 1.0 0 1 0 2.0 0a1.0 1.0 0 1 0 -2.0 0M134.8 110.5a1.0 1.0 0 1 0 2.0 0a1.0 1.0 0 1 0 -2.0 0M131.8 92.3a1.0 1.0 0 1 0 2.0 0a1.0 1.0 0 1 0 -2.0 0M129.3 110.6a1.0 1.0 0 1 0 2.0 0a1.0 1.0 0 1 0 -2.0 0M127.7 101.8a1.0 1.0 0 1 0 2.0 0a1.0 1.0 0 1 0 -2.0 0M126.1 118.1a1.0 1.0 0 1 0 2.0 0a1.0 1.0 0 1 0 -2.0 0M129.3 92.8a1.0 1.0 0 1 0 2.0 0a1.0 1.0 0 1 0 -2.0 0M128.8 98.0a1.0 1.0 0 1 0 2.0 0a1.0 1.0 0 1 0 -2.0 0M132.5 161.2a1.0 1.0 0 1 0 2.0 0a1.0 1.0 0 1 0 -2.0 0M130.5 103.5a1.0 1.0 0 1 0 2.0 0a1.0 1.0 0 1 0 -2.0 0M126.4 81.8a1.0 1.0 0 1 0 2.0 0a1.0 1.0 0 1 0 -2.0 0M133.5 172.0a1.0 1.0 0 1 0 2.0 0a1.0 1.0 0 1 0 -2.0 0M128.5 194.5a1.0 1.0 0 1 0 2.0 0a1.0 1.0 0 1 0 -2.0 0" fill="#7fbc41" fill-opacity="0.55"/>
<line x1="83.3" y1="221" x2="93.3" y2="221" stroke="#c51b7d" stroke-width="2.2" stroke-linecap="butt"/>
<line x1="125.7" y1="221" x2="135.7" y2="221" stroke="#7fbc41" stroke-width="2.2" stroke-linecap="butt"/>
<line x1="88.3" y1="55.6" x2="88.3" y2="108.9" stroke="#000" stroke-width="2.1" stroke-linecap="butt"/>
<line x1="88.3" y1="145" x2="88.3" y2="193" stroke="#000" stroke-width="2.1" stroke-linecap="butt"/>
<line x1="84.1" y1="55.6" x2="92.5" y2="55.6" stroke="#000" stroke-width="2" stroke-linecap="butt"/>
<line x1="84.1" y1="193" x2="92.5" y2="193" stroke="#000" stroke-width="2" stroke-linecap="butt"/>
<rect x="82.3" y="108.9" width="12" height="36.1" fill="none" stroke="#000" stroke-width="1.9"/>
<line x1="82.3" y1="126.6" x2="94.3" y2="126.6" stroke="#000" stroke-width="1.9" stroke-linecap="butt"/>
<line x1="130.7" y1="62.4" x2="130.7" y2="96.8" stroke="#000" stroke-width="2.1" stroke-linecap="butt"/>
<line x1="130.7" y1="126.1" x2="130.7" y2="165.5" stroke="#000" stroke-width="2.1" stroke-linecap="butt"/>
<line x1="126.6" y1="62.4" x2="134.8" y2="62.4" stroke="#000" stroke-width="2" stroke-linecap="butt"/>
<line x1="126.6" y1="165.5" x2="134.8" y2="165.5" stroke="#000" stroke-width="2" stroke-linecap="butt"/>
<rect x="124.7" y="96.8" width="12" height="29.3" fill="none" stroke="#000" stroke-width="1.9"/>
<line x1="124.7" y1="107.7" x2="136.7" y2="107.7" stroke="#000" stroke-width="1.9" stroke-linecap="butt"/>
<rect x="67" y="18.8" width="85.1" height="211.8" fill="none" stroke="#1a1a1a" stroke-width="1.6"/>
<line x1="62.3" y1="220.8" x2="67" y2="220.8" stroke="#1a1a1a" stroke-width="0.9" stroke-linecap="butt"/>
<text x="60.31" y="223.2" font-size="12.19" text-anchor="end" textLength="6.74" lengthAdjust="spacingAndGlyphs" fill="#000">0</text>
<line x1="62.3" y1="166.35" x2="67" y2="166.35" stroke="#1a1a1a" stroke-width="0.9" stroke-linecap="butt"/>
<text x="60.1" y="168.5" font-size="12.19" text-anchor="end" textLength="6.44" lengthAdjust="spacingAndGlyphs" fill="#000">1</text>
<line x1="62.3" y1="134.5" x2="67" y2="134.5" stroke="#1a1a1a" stroke-width="0.9" stroke-linecap="butt"/>
<text x="60.04" y="136.1" font-size="12.19" text-anchor="end" textLength="6.5" lengthAdjust="spacingAndGlyphs" fill="#000">2</text>
<line x1="62.3" y1="111.9" x2="67" y2="111.9" stroke="#1a1a1a" stroke-width="0.9" stroke-linecap="butt"/>
<text x="60.19" y="114.2" font-size="12.19" text-anchor="end" textLength="6.47" lengthAdjust="spacingAndGlyphs" fill="#000">3</text>
<line x1="62.3" y1="94.37" x2="67" y2="94.37" stroke="#1a1a1a" stroke-width="0.9" stroke-linecap="butt"/>
<text x="60.31" y="96.4" font-size="12.19" text-anchor="end" textLength="6.74" lengthAdjust="spacingAndGlyphs" fill="#000">4</text>
<line x1="62.3" y1="80.05" x2="67" y2="80.05" stroke="#1a1a1a" stroke-width="0.9" stroke-linecap="butt"/>
<text x="60.08" y="82.4" font-size="12.19" text-anchor="end" textLength="6.36" lengthAdjust="spacingAndGlyphs" fill="#000">5</text>
<line x1="62.3" y1="67.94" x2="67" y2="67.94" stroke="#1a1a1a" stroke-width="0.9" stroke-linecap="butt"/>
<text x="60.43" y="69.8" font-size="12.19" text-anchor="end" textLength="6.98" lengthAdjust="spacingAndGlyphs" fill="#000">6</text>
<line x1="62.3" y1="57.45" x2="67" y2="57.45" stroke="#1a1a1a" stroke-width="0.9" stroke-linecap="butt"/>
<text x="60.21" y="59.2" font-size="12.19" text-anchor="end" textLength="6.59" lengthAdjust="spacingAndGlyphs" fill="#000">7</text>
<line x1="62.3" y1="48.2" x2="67" y2="48.2" stroke="#1a1a1a" stroke-width="0.9" stroke-linecap="butt"/>
<text x="60.35" y="50.5" font-size="12.19" text-anchor="end" textLength="6.82" lengthAdjust="spacingAndGlyphs" fill="#000">8</text>
<line x1="62.3" y1="32.43" x2="67" y2="32.43" stroke="#1a1a1a" stroke-width="0.9" stroke-linecap="butt"/>
<text x="60.33" y="37.1" font-size="12.19" text-anchor="end" textLength="14.06" lengthAdjust="spacingAndGlyphs" fill="#000">10</text>
<line x1="62.3" y1="25.6" x2="67" y2="25.6" stroke="#1a1a1a" stroke-width="0.9" stroke-linecap="butt"/>
<text x="60.15" y="24.8" font-size="12.19" text-anchor="end" textLength="13.87" lengthAdjust="spacingAndGlyphs" fill="#000">11</text>
<line x1="88.3" y1="230.6" x2="88.3" y2="234.6" stroke="#1a1a1a" stroke-width="0.9" stroke-linecap="butt"/>
<text x="88.31" y="243.3" font-size="11.13" text-anchor="middle" textLength="53.76" lengthAdjust="spacingAndGlyphs" fill="#000">Disruptive</text>
<line x1="130.7" y1="230.6" x2="130.7" y2="234.6" stroke="#1a1a1a" stroke-width="0.9" stroke-linecap="butt"/>
<text x="130.68" y="243.3" font-size="11.13" text-anchor="middle" textLength="24.46" lengthAdjust="spacingAndGlyphs" fill="#000">Core</text>
<text x="34.4" y="127.38" font-size="13.78" text-anchor="middle" textLength="85.47" lengthAdjust="spacingAndGlyphs" fill="#000" transform="rotate(-90 34.4 127.38)">CDS density*</text>
<line x1="88.3" y1="37.5" x2="130.7" y2="37.5" stroke="#000" stroke-width="1.2" stroke-linecap="butt"/>
<text x="84.34" y="33" font-size="10.21" text-anchor="start" textLength="47.72" lengthAdjust="spacingAndGlyphs" fill="#000">P= 5.4x10</text>
<text x="131.96" y="30" font-size="6.6" text-anchor="start" textLength="8.86" lengthAdjust="spacingAndGlyphs" fill="#000">-20</text>
<text x="18.65" y="7.8" font-size="12.72" text-anchor="start" textLength="6.92" lengthAdjust="spacingAndGlyphs" font-weight="bold" fill="#000">a</text>
<path d="M222.9 219.9a0.95 0.95 0 1 0 1.9 0a0.95 0.95 0 1 0 -1.9 0M230.2 214.9a0.95 0.95 0 1 0 1.9 0a0.95 0.95 0 1 0 -1.9 0M230.0 210.6a0.95 0.95 0 1 0 1.9 0a0.95 0.95 0 1 0 -1.9 0M222.9 213.6a0.95 0.95 0 1 0 1.9 0a0.95 0.95 0 1 0 -1.9 0M227.7 213.5a0.95 0.95 0 1 0 1.9 0a0.95 0.95 0 1 0 -1.9 0M223.7 215.7a0.95 0.95 0 1 0 1.9 0a0.95 0.95 0 1 0 -1.9 0M230.0 216.8a0.95 0.95 0 1 0 1.9 0a0.95 0.95 0 1 0 -1.9 0M228.0 215.1a0.95 0.95 0 1 0 1.9 0a0.95 0.95 0 1 0 -1.9 0M223.2 192.0a0.95 0.95 0 1 0 1.9 0a0.95 0.95 0 1 0 -1.9 0M227.8 194.0a0.95 0.95 0 1 0 1.9 0a0.95 0.95 0 1 0 -1.9 0M221.5 208.3a0.95 0.95 0 1 0 1.9 0a0.95 0.95 0 1 0 -1.9 0M228.2 201.4a0.95 0.95 0 1 0 1.9 0a0.95 0.95 0 1 0 -1.9 0M226.7 201.4a0.95 0.95 0 1 0 1.9 0a0.95 0.95 0 1 0 -1.9 0M228.6 194.3a0.95 0.95 0 1 0 1.9 0a0.95 0.95 0 1 0 -1.9 0M221.0 202.1a0.95 0.95 0 1 0 1.9 0a0.95 0.95 0 1 0 -1.9 0M222.6 191.4a0.95 0.95 0 1 0 1.9 0a0.95 0.95 0 1 0 -1.9 0M227.9 192.3a0.95 0.95 0 1 0 1.9 0a0.95 0.95 0 1 0 -1.9 0M226.0 201.2a0.95 0.95 0 1 0 1.9 0a0.95 0.95 0 1 0 -1.9 0M229.2 185.4a0.95 0.95 0 1 0 1.9 0a0.95 0.95 0 1 0 -1.9 0M227.1 200.9a0.95 0.95 0 1 0 1.9 0a0.95 0.95 0 1 0 -1.9 0M224.5 198.7a0.95 0.95 0 1 0 1.9 0a0.95 0.95 0 1 0 -1.9 0M225.3 179.0a0.95 0.95 0 1 0 1.9 0a0.95 0.95 0 1 0 -1.9 0M229.5 190.9a0.95 0.95 0 1 0 1.9 0a0.95 0.95 0 1 0 -1.9 0M222.6 183.8a0.95 0.95 0 1 0 1.9 0a0.95 0.95 0 1 0 -1.9 0M224.4 192.5a0.95 0.95 0 1 0 1.9 0a0.95 0.95 0 1 0 -1.9 0M224.2 193.6a0.95 0.95 0 1 0 1.9 0a0.95 0.95 0 1 0 -1.9 0M221.4 204.7a0.95 0.95 0 1 0 1.9 0a0.95 0.95 0 1 0 -1.9 0M226.3 195.4a0.95 0.95 0 1 0 1.9 0a0.95 0.95 0 1 0 -1.9 0M222.4 203.8a0.95 0.95 0 1 0 1.9 0a0.95 0.95 0 1 0 -1.9 0M225.8 190.0a0.95 0.95 0 1 0 1.9 0a0.95 0.95 0 1 0 -1.9 0M230.1 191.0a0.95 0.95 0 1 0 1.9 0a0.95 0.95 0 1 0 -1.9 0M228.9 186.9a0.95 0.95 0 1 0 1.9 0a0.95 0.95 0 1 0 -1.9 0M220.8 186.3a0.95 0.95 0 1 0 1.9 0a0.95 0.95 0 1 0 -1.9 0M224.5 182.4a0.95 0.95 0 1 0 1.9 0a0.95 0.95 0 1 0 -1.9 0M221.4 180.8a0.95 0.95 0 1 0 1.9 0a0.95 0.95 0 1 0 -1.9 0M226.4 178.2a0.95 0.95 0 1 0 1.9 0a0.95 0.95 0 1 0 -1.9 0M225.6 203.0a0.95 0.95 0 1 0 1.9 0a0.95 0.95 0 1 0 -1.9 0M225.0 184.0a0.95 0.95 0 1 0 1.9 0a0.95 0.95 0 1 0 -1.9 0M228.1 191.4a0.95 0.95 0 1 0 1.9 0a0.95 0.95 0 1 0 -1.9 0M229.8 188.9a0.95 0.95 0 1 0 1.9 0a0.95 0.95 0 1 0 -1.9 0M225.3 197.8a0.95 0.95 0 1 0 1.9 0a0.95 0.95 0 1 0 -1.9 0M223.7 188.2a0.95 0.95 0 1 0 1.9 0a0.95 0.95 0 1 0 -1.9 0M227.9 192.9a0.95 0.95 0 1 0 1.9 0a0.95 0.95 0 1 0 -1.9 0M221.5 194.4a0.95 0.95 0 1 0 1.9 0a0.95 0.95 0 1 0 -1.9 0M229.5 208.7a0.95 0.95 0 1 0 1.9 0a0.95 0.95 0 1 0 -1.9 0M221.9 184.1a0.95 0.95 0 1 0 1.9 0a0.95 0.95 0 1 0 -1.9 0M224.5 179.5a0.95 0.95 0 1 0 1.9 0a0.95 0.95 0 1 0 -1.9 0M225.1 204.4a0.95 0.95 0 1 0 1.9 0a0.95 0.95 0 1 0 -1.9 0M223.1 197.1a0.95 0.95 0 1 0 1.9 0a0.95 0.95 0 1 0 -1.9 0M227.6 179.1a0.95 0.95 0 1 0 1.9 0a0.95 0.95 0 1 0 -1.9 0M227.9 193.0a0.95 0.95 0 1 0 1.9 0a0.95 0.95 0 1 0 -1.9 0M223.6 199.4a0.95 0.95 0 1 0 1.9 0a0.95 0.95 0 1 0 -1.9 0M220.9 186.5a0.95 0.95 0 1 0 1.9 0a0.95 0.95 0 1 0 -1.9 0M224.0 209.3a0.95 0.95 0 1 0 1.9 0a0.95 0.95 0 1 0 -1.9 0M224.5 205.9a0.95 0.95 0 1 0 1.9 0a0.95 0.95 0 1 0 -1.9 0M221.8 208.7a0.95 0.95 0 1 0 1.9 0a0.95 0.95 0 1 0 -1.9 0M226.9 197.8a0.95 0.95 0 1 0 1.9 0a0.95 0.95 0 1 0 -1.9 0M227.1 207.3a0.95 0.95 0 1 0 1.9 0a0.95 0.95 0 1 0 -1.9 0M230.6 141.0a0.95 0.95 0 1 0 1.9 0a0.95 0.95 0 1 0 -1.9 0M230.6 163.3a0.95 0.95 0 1 0 1.9 0a0.95 0.95 0 1 0 -1.9 0M221.0 133.8a0.95 0.95 0 1 0 1.9 0a0.95 0.95 0 1 0 -1.9 0M223.0 140.9a0.95 0.95 0 1 0 1.9 0a0.95 0.95 0 1 0 -1.9 0M224.9 152.5a0.95 0.95 0 1 0 1.9 0a0.95 0.95 0 1 0 -1.9 0M224.3 131.8a0.95 0.95 0 1 0 1.9 0a0.95 0.95 0 1 0 -1.9 0M229.3 156.8a0.95 0.95 0 1 0 1.9 0a0.95 0.95 0 1 0 -1.9 0M230.5 150.1a0.95 0.95 0 1 0 1.9 0a0.95 0.95 0 1 0 -1.9 0M229.4 164.0a0.95 0.95 0 1 0 1.9 0a0.95 0.95 0 1 0 -1.9 0M227.3 135.0a0.95 0.95 0 1 0 1.9 0a0.95 0.95 0 1 0 -1.9 0M225.5 149.9a0.95 0.95 0 1 0 1.9 0a0.95 0.95 0 1 0 -1.9 0M228.2 111.3a0.95 0.95 0 1 0 1.9 0a0.95 0.95 0 1 0 -1.9 0M223.9 165.8a0.95 0.95 0 1 0 1.9 0a0.95 0.95 0 1 0 -1.9 0M221.2 139.2a0.95 0.95 0 1 0 1.9 0a0.95 0.95 0 1 0 -1.9 0M228.1 153.8a0.95 0.95 0 1 0 1.9 0a0.95 0.95 0 1 0 -1.9 0M224.0 136.7a0.95 0.95 0 1 0 1.9 0a0.95 0.95 0 1 0 -1.9 0M229.7 140.2a0.95 0.95 0 1 0 1.9 0a0.95 0.95 0 1 0 -1.9 0M222.8 143.6a0.95 0.95 0 1 0 1.9 0a0.95 0.95 0 1 0 -1.9 0M229.1 133.5a0.95 0.95 0 1 0 1.9 0a0.95 0.95 0 1 0 -1.9 0M221.4 156.1a0.95 0.95 0 1 0 1.9 0a0.95 0.95 0 1 0 -1.9 0M225.5 141.0a0.95 0.95 0 1 0 1.9 0a0.95 0.95 0 1 0 -1.9 0M223.5 154.7a0.95 0.95 0 1 0 1.9 0a0.95 0.95 0 1 0 -1.9 0M228.8 147.2a0.95 0.95 0 1 0 1.9 0a0.95 0.95 0 1 0 -1.9 0M223.3 126.1a0.95 0.95 0 1 0 1.9 0a0.95 0.95 0 1 0 -1.9 0M223.1 142.6a0.95 0.95 0 1 0 1.9 0a0.95 0.95 0 1 0 -1.9 0M220.8 173.7a0.95 0.95 0 1 0 1.9 0a0.95 0.95 0 1 0 -1.9 0M222.6 115.5a0.95 0.95 0 1 0 1.9 0a0.95 0.95 0 1 0 -1.9 0M222.3 175.3a0.95 0.95 0 1 0 1.9 0a0.95 0.95 0 1 0 -1.9 0M225.3 172.8a0.95 0.95 0 1 0 1.9 0a0.95 0.95 0 1 0 -1.9 0M224.6 135.7a0.95 0.95 0 1 0 1.9 0a0.95 0.95 0 1 0 -1.9 0M222.0 132.2a0.95 0.95 0 1 0 1.9 0a0.95 0.95 0 1 0 -1.9 0M221.9 160.5a0.95 0.95 0 1 0 1.9 0a0.95 0.95 0 1 0 -1.9 0M228.5 111.3a0.95 0.95 0 1 0 1.9 0a0.95 0.95 0 1 0 -1.9 0M227.3 103.0a0.95 0.95 0 1 0 1.9 0a0.95 0.95 0 1 0 -1.9 0M229.5 59.4a0.95 0.95 0 1 0 1.9 0a0.95 0.95 0 1 0 -1.9 0M221.2 90.5a0.95 0.95 0 1 0 1.9 0a0.95 0.95 0 1 0 -1.9 0" fill="#c51b7d" fill-opacity="0.55"/>
<path d="M225.5 212.4a0.95 0.95 0 1 0 1.9 0a0.95 0.95 0 1 0 -1.9 0M229.2 219.2a0.95 0.95 0 1 0 1.9 0a0.95 0.95 0 1 0 -1.9 0M230.3 214.7a0.95 0.95 0 1 0 1.9 0a0.95 0.95 0 1 0 -1.9 0M224.6 214.5a0.95 0.95 0 1 0 1.9 0a0.95 0.95 0 1 0 -1.9 0M222.2 214.7a0.95 0.95 0 1 0 1.9 0a0.95 0.95 0 1 0 -1.9 0M223.2 218.0a0.95 0.95 0 1 0 1.9 0a0.95 0.95 0 1 0 -1.9 0M228.2 211.3a0.95 0.95 0 1 0 1.9 0a0.95 0.95 0 1 0 -1.9 0M223.8 220.9a0.95 0.95 0 1 0 1.9 0a0.95 0.95 0 1 0 -1.9 0M223.5 197.6a0.95 0.95 0 1 0 1.9 0a0.95 0.95 0 1 0 -1.9 0M229.5 187.0a0.95 0.95 0 1 0 1.9 0a0.95 0.95 0 1 0 -1.9 0M225.6 203.9a0.95 0.95 0 1 0 1.9 0a0.95 0.95 0 1 0 -1.9 0M230.0 184.2a0.95 0.95 0 1 0 1.9 0a0.95 0.95 0 1 0 -1.9 0M228.2 204.7a0.95 0.95 0 1 0 1.9 0a0.95 0.95 0 1 0 -1.9 0M222.2 200.3a0.95 0.95 0 1 0 1.9 0a0.95 0.95 0 1 0 -1.9 0M224.1 186.3a0.95 0.95 0 1 0 1.9 0a0.95 0.95 0 1 0 -1.9 0M222.9 193.6a0.95 0.95 0 1 0 1.9 0a0.95 0.95 0 1 0 -1.9 0M230.4 187.6a0.95 0.95 0 1 0 1.9 0a0.95 0.95 0 1 0 -1.9 0M229.5 177.3a0.95 0.95 0 1 0 1.9 0a0.95 0.95 0 1 0 -1.9 0M229.5 197.0a0.95 0.95 0 1 0 1.9 0a0.95 0.95 0 1 0 -1.9 0M224.0 202.1a0.95 0.95 0 1 0 1.9 0a0.95 0.95 0 1 0 -1.9 0M229.4 177.3a0.95 0.95 0 1 0 1.9 0a0.95 0.95 0 1 0 -1.9 0M221.4 196.0a0.95 0.95 0 1 0 1.9 0a0.95 0.95 0 1 0 -1.9 0M229.4 189.0a0.95 0.95 0 1 0 1.9 0a0.95 0.95 0 1 0 -1.9 0M227.5 201.6a0.95 0.95 0 1 0 1.9 0a0.95 0.95 0 1 0 -1.9 0M230.2 177.4a0.95 0.95 0 1 0 1.9 0a0.95 0.95 0 1 0 -1.9 0M225.1 186.4a0.95 0.95 0 1 0 1.9 0a0.95 0.95 0 1 0 -1.9 0M224.2 192.2a0.95 0.95 0 1 0 1.9 0a0.95 0.95 0 1 0 -1.9 0M225.7 185.8a0.95 0.95 0 1 0 1.9 0a0.95 0.95 0 1 0 -1.9 0M228.9 206.4a0.95 0.95 0 1 0 1.9 0a0.95 0.95 0 1 0 -1.9 0M227.6 196.1a0.95 0.95 0 1 0 1.9 0a0.95 0.95 0 1 0 -1.9 0M222.8 193.7a0.95 0.95 0 1 0 1.9 0a0.95 0.95 0 1 0 -1.9 0M227.1 192.7a0.95 0.95 0 1 0 1.9 0a0.95 0.95 0 1 0 -1.9 0M224.6 192.4a0.95 0.95 0 1 0 1.9 0a0.95 0.95 0 1 0 -1.9 0M222.8 181.5a0.95 0.95 0 1 0 1.9 0a0.95 0.95 0 1 0 -1.9 0M228.2 188.8a0.95 0.95 0 1 0 1.9 0a0.95 0.95 0 1 0 -1.9 0M230.1 188.0a0.95 0.95 0 1 0 1.9 0a0.95 0.95 0 1 0 -1.9 0M222.3 193.2a0.95 0.95 0 1 0 1.9 0a0.95 0.95 0 1 0 -1.9 0M226.4 198.5a0.95 0.95 0 1 0 1.9 0a0.95 0.95 0 1 0 -1.9 0M229.9 192.5a0.95 0.95 0 1 0 1.9 0a0.95 0.95 0 1 0 -1.9 0M227.3 197.4a0.95 0.95 0 1 0 1.9 0a0.95 0.95 0 1 0 -1.9 0M229.1 183.1a0.95 0.95 0 1 0 1.9 0a0.95 0.95 0 1 0 -1.9 0M222.8 193.5a0.95 0.95 0 1 0 1.9 0a0.95 0.95 0 1 0 -1.9 0M221.5 194.2a0.95 0.95 0 1 0 1.9 0a0.95 0.95 0 1 0 -1.9 0M221.5 205.6a0.95 0.95 0 1 0 1.9 0a0.95 0.95 0 1 0 -1.9 0M229.2 201.1a0.95 0.95 0 1 0 1.9 0a0.95 0.95 0 1 0 -1.9 0M227.8 205.7a0.95 0.95 0 1 0 1.9 0a0.95 0.95 0 1 0 -1.9 0M224.2 193.2a0.95 0.95 0 1 0 1.9 0a0.95 0.95 0 1 0 -1.9 0M221.0 186.3a0.95 0.95 0 1 0 1.9 0a0.95 0.95 0 1 0 -1.9 0M230.4 192.7a0.95 0.95 0 1 0 1.9 0a0.95 0.95 0 1 0 -1.9 0M224.5 189.2a0.95 0.95 0 1 0 1.9 0a0.95 0.95 0 1 0 -1.9 0M229.8 179.3a0.95 0.95 0 1 0 1.9 0a0.95 0.95 0 1 0 -1.9 0M223.6 205.7a0.95 0.95 0 1 0 1.9 0a0.95 0.95 0 1 0 -1.9 0M224.1 178.4a0.95 0.95 0 1 0 1.9 0a0.95 0.95 0 1 0 -1.9 0M226.2 198.9a0.95 0.95 0 1 0 1.9 0a0.95 0.95 0 1 0 -1.9 0M227.8 199.9a0.95 0.95 0 1 0 1.9 0a0.95 0.95 0 1 0 -1.9 0M221.6 177.3a0.95 0.95 0 1 0 1.9 0a0.95 0.95 0 1 0 -1.9 0M224.0 193.8a0.95 0.95 0 1 0 1.9 0a0.95 0.95 0 1 0 -1.9 0M221.0 185.3a0.95 0.95 0 1 0 1.9 0a0.95 0.95 0 1 0 -1.9 0M222.3 173.7a0.95 0.95 0 1 0 1.9 0a0.95 0.95 0 1 0 -1.9 0M228.2 162.6a0.95 0.95 0 1 0 1.9 0a0.95 0.95 0 1 0 -1.9 0M224.9 119.0a0.95 0.95 0 1 0 1.9 0a0.95 0.95 0 1 0 -1.9 0M224.5 150.2a0.95 0.95 0 1 0 1.9 0a0.95 0.95 0 1 0 -1.9 0M226.6 175.9a0.95 0.95 0 1 0 1.9 0a0.95 0.95 0 1 0 -1.9 0M229.5 164.5a0.95 0.95 0 1 0 1.9 0a0.95 0.95 0 1 0 -1.9 0M230.4 114.1a0.95 0.95 0 1 0 1.9 0a0.95 0.95 0 1 0 -1.9 0M223.3 122.1a0.95 0.95 0 1 0 1.9 0a0.95 0.95 0 1 0 -1.9 0M222.6 113.9a0.95 0.95 0 1 0 1.9 0a0.95 0.95 0 1 0 -1.9 0M221.0 140.8a0.95 0.95 0 1 0 1.9 0a0.95 0.95 0 1 0 -1.9 0M228.9 167.1a0.95 0.95 0 1 0 1.9 0a0.95 0.95 0 1 0 -1.9 0M225.8 124.0a0.95 0.95 0 1 0 1.9 0a0.95 0.95 0 1 0 -1.9 0M227.4 167.1a0.95 0.95 0 1 0 1.9 0a0.95 0.95 0 1 0 -1.9 0M226.5 121.4a0.95 0.95 0 1 0 1.9 0a0.95 0.95 0 1 0 -1.9 0M222.6 175.5a0.95 0.95 0 1 0 1.9 0a0.95 0.95 0 1 0 -1.9 0M228.0 151.5a0.95 0.95 0 1 0 1.9 0a0.95 0.95 0 1 0 -1.9 0M227.8 173.9a0.95 0.95 0 1 0 1.9 0a0.95 0.95 0 1 0 -1.9 0M228.9 130.7a0.95 0.95 0 1 0 1.9 0a0.95 0.95 0 1 0 -1.9 0M230.5 160.9a0.95 0.95 0 1 0 1.9 0a0.95 0.95 0 1 0 -1.9 0M226.3 135.6a0.95 0.95 0 1 0 1.9 0a0.95 0.95 0 1 0 -1.9 0M225.7 173.6a0.95 0.95 0 1 0 1.9 0a0.95 0.95 0 1 0 -1.9 0M222.2 134.4a0.95 0.95 0 1 0 1.9 0a0.95 0.95 0 1 0 -1.9 0M228.9 156.0a0.95 0.95 0 1 0 1.9 0a0.95 0.95 0 1 0 -1.9 0M228.7 165.3a0.95 0.95 0 1 0 1.9 0a0.95 0.95 0 1 0 -1.9 0M224.7 146.3a0.95 0.95 0 1 0 1.9 0a0.95 0.95 0 1 0 -1.9 0M221.8 176.6a0.95 0.95 0 1 0 1.9 0a0.95 0.95 0 1 0 -1.9 0M221.3 176.1a0.95 0.95 0 1 0 1.9 0a0.95 0.95 0 1 0 -1.9 0M224.5 176.5a0.95 0.95 0 1 0 1.9 0a0.95 0.95 0 1 0 -1.9 0M226.2 126.9a0.95 0.95 0 1 0 1.9 0a0.95 0.95 0 1 0 -1.9 0M221.6 154.0a0.95 0.95 0 1 0 1.9 0a0.95 0.95 0 1 0 -1.9 0M227.0 137.0a0.95 0.95 0 1 0 1.9 0a0.95 0.95 0 1 0 -1.9 0M226.0 160.1a0.95 0.95 0 1 0 1.9 0a0.95 0.95 0 1 0 -1.9 0M226.5 168.4a0.95 0.95 0 1 0 1.9 0a0.95 0.95 0 1 0 -1.9 0M221.9 104.5a0.95 0.95 0 1 0 1.9 0a0.95 0.95 0 1 0 -1.9 0M228.9 60.5a0.95 0.95 0 1 0 1.9 0a0.95 0.95 0 1 0 -1.9 0M224.1 92.9a0.95 0.95 0 1 0 1.9 0a0.95 0.95 0 1 0 -1.9 0" fill="#c51b7d" fill-opacity="0.55"/>
<path d="M224.8 214.2a0.95 0.95 0 1 0 1.9 0a0.95 0.95 0 1 0 -1.9 0M227.1 219.8a0.95 0.95 0 1 0 1.9 0a0.95 0.95 0 1 0 -1.9 0M229.9 213.1a0.95 0.95 0 1 0 1.9 0a0.95 0.95 0 1 0 -1.9 0M221.8 214.7a0.95 0.95 0 1 0 1.9 0a0.95 0.95 0 1 0 -1.9 0M225.7 220.5a0.95 0.95 0 1 0 1.9 0a0.95 0.95 0 1 0 -1.9 0M221.7 219.3a0.95 0.95 0 1 0 1.9 0a0.95 0.95 0 1 0 -1.9 0M226.1 214.5a0.95 0.95 0 1 0 1.9 0a0.95 0.95 0 1 0 -1.9 0M224.7 215.7a0.95 0.95 0 1 0 1.9 0a0.95 0.95 0 1 0 -1.9 0M225.4 184.1a0.95 0.95 0 1 0 1.9 0a0.95 0.95 0 1 0 -1.9 0M225.6 191.5a0.95 0.95 0 1 0 1.9 0a0.95 0.95 0 1 0 -1.9 0M224.4 189.2a0.95 0.95 0 1 0 1.9 0a0.95 0.95 0 1 0 -1.9 0M222.6 189.4a0.95 0.95 0 1 0 1.9 0a0.95 0.95 0 1 0 -1.9 0M230.6 192.3a0.95 0.95 0 1 0 1.9 0a0.95 0.95 0 1 0 -1.9 0M222.7 203.3a0.95 0.95 0 1 0 1.9 0a0.95 0.95 0 1 0 -1.9 0M226.4 207.5a0.95 0.95 0 1 0 1.9 0a0.95 0.95 0 1 0 -1.9 0M226.8 204.5a0.95 0.95 0 1 0 1.9 0a0.95 0.95 0 1 0 -1.9 0M225.2 189.8a0.95 0.95 0 1 0 1.9 0a0.95 0.95 0 1 0 -1.9 0M220.7 190.3a0.95 0.95 0 1 0 1.9 0a0.95 0.95 0 1 0 -1.9 0M226.3 187.0a0.95 0.95 0 1 0 1.9 0a0.95 0.95 0 1 0 -1.9 0M225.6 203.3a0.95 0.95 0 1 0 1.9 0a0.95 0.95 0 1 0 -1.9 0M223.5 202.6a0.95 0.95 0 1 0 1.9 0a0.95 0.95 0 1 0 -1.9 0M229.3 200.0a0.95 0.95 0 1 0 1.9 0a0.95 0.95 0 1 0 -1.9 0M225.4 198.6a0.95 0.95 0 1 0 1.9 0a0.95 0.95 0 1 0 -1.9 0M228.0 194.9a0.95 0.95 0 1 0 1.9 0a0.95 0.95 0 1 0 -1.9 0M230.2 209.6a0.95 0.95 0 1 0 1.9 0a0.95 0.95 0 1 0 -1.9 0M223.5 198.4a0.95 0.95 0 1 0 1.9 0a0.95 0.95 0 1 0 -1.9 0M228.3 180.8a0.95 0.95 0 1 0 1.9 0a0.95 0.95 0 1 0 -1.9 0M226.8 199.8a0.95 0.95 0 1 0 1.9 0a0.95 0.95 0 1 0 -1.9 0M229.6 185.3a0.95 0.95 0 1 0 1.9 0a0.95 0.95 0 1 0 -1.9 0M230.0 194.9a0.95 0.95 0 1 0 1.9 0a0.95 0.95 0 1 0 -1.9 0M223.2 204.9a0.95 0.95 0 1 0 1.9 0a0.95 0.95 0 1 0 -1.9 0M227.2 183.4a0.95 0.95 0 1 0 1.9 0a0.95 0.95 0 1 0 -1.9 0M220.8 199.2a0.95 0.95 0 1 0 1.9 0a0.95 0.95 0 1 0 -1.9 0M228.2 180.3a0.95 0.95 0 1 0 1.9 0a0.95 0.95 0 1 0 -1.9 0M225.2 178.7a0.95 0.95 0 1 0 1.9 0a0.95 0.95 0 1 0 -1.9 0M226.1 207.3a0.95 0.95 0 1 0 1.9 0a0.95 0.95 0 1 0 -1.9 0M224.5 181.1a0.95 0.95 0 1 0 1.9 0a0.95 0.95 0 1 0 -1.9 0M230.5 200.0a0.95 0.95 0 1 0 1.9 0a0.95 0.95 0 1 0 -1.9 0M227.6 196.2a0.95 0.95 0 1 0 1.9 0a0.95 0.95 0 1 0 -1.9 0M230.4 187.1a0.95 0.95 0 1 0 1.9 0a0.95 0.95 0 1 0 -1.9 0M230.6 208.1a0.95 0.95 0 1 0 1.9 0a0.95 0.95 0 1 0 -1.9 0M230.4 207.1a0.95 0.95 0 1 0 1.9 0a0.95 0.95 0 1 0 -1.9 0M225.3 193.9a0.95 0.95 0 1 0 1.9 0a0.95 0.95 0 1 0 -1.9 0M227.2 192.8a0.95 0.95 0 1 0 1.9 0a0.95 0.95 0 1 0 -1.9 0M227.7 196.5a0.95 0.95 0 1 0 1.9 0a0.95 0.95 0 1 0 -1.9 0M228.9 205.4a0.95 0.95 0 1 0 1.9 0a0.95 0.95 0 1 0 -1.9 0M228.0 183.5a0.95 0.95 0 1 0 1.9 0a0.95 0.95 0 1 0 -1.9 0M221.8 197.6a0.95 0.95 0 1 0 1.9 0a0.95 0.95 0 1 0 -1.9 0M224.9 201.1a0.95 0.95 0 1 0 1.9 0a0.95 0.95 0 1 0 -1.9 0M223.5 201.5a0.95 0.95 0 1 0 1.9 0a0.95 0.95 0 1 0 -1.9 0M229.1 182.5a0.95 0.95 0 1 0 1.9 0a0.95 0.95 0 1 0 -1.9 0M226.2 204.6a0.95 0.95 0 1 0 1.9 0a0.95 0.95 0 1 0 -1.9 0M225.6 193.3a0.95 0.95 0 1 0 1.9 0a0.95 0.95 0 1 0 -1.9 0M230.1 182.1a0.95 0.95 0 1 0 1.9 0a0.95 0.95 0 1 0 -1.9 0M230.2 182.9a0.95 0.95 0 1 0 1.9 0a0.95 0.95 0 1 0 -1.9 0M226.2 177.9a0.95 0.95 0 1 0 1.9 0a0.95 0.95 0 1 0 -1.9 0M227.2 183.1a0.95 0.95 0 1 0 1.9 0a0.95 0.95 0 1 0 -1.9 0M221.1 204.5a0.95 0.95 0 1 0 1.9 0a0.95 0.95 0 1 0 -1.9 0M224.4 168.3a0.95 0.95 0 1 0 1.9 0a0.95 0.95 0 1 0 -1.9 0M224.5 150.8a0.95 0.95 0 1 0 1.9 0a0.95 0.95 0 1 0 -1.9 0M227.5 164.3a0.95 0.95 0 1 0 1.9 0a0.95 0.95 0 1 0 -1.9 0M221.8 167.0a0.95 0.95 0 1 0 1.9 0a0.95 0.95 0 1 0 -1.9 0M224.4 174.5a0.95 0.95 0 1 0 1.9 0a0.95 0.95 0 1 0 -1.9 0M223.8 175.9a0.95 0.95 0 1 0 1.9 0a0.95 0.95 0 1 0 -1.9 0M221.9 119.6a0.95 0.95 0 1 0 1.9 0a0.95 0.95 0 1 0 -1.9 0M222.2 123.7a0.95 0.95 0 1 0 1.9 0a0.95 0.95 0 1 0 -1.9 0M223.3 147.7a0.95 0.95 0 1 0 1.9 0a0.95 0.95 0 1 0 -1.9 0M228.1 159.2a0.95 0.95 0 1 0 1.9 0a0.95 0.95 0 1 0 -1.9 0M227.0 172.4a0.95 0.95 0 1 0 1.9 0a0.95 0.95 0 1 0 -1.9 0M222.3 167.1a0.95 0.95 0 1 0 1.9 0a0.95 0.95 0 1 0 -1.9 0M226.1 155.0a0.95 0.95 0 1 0 1.9 0a0.95 0.95 0 1 0 -1.9 0M227.1 138.8a0.95 0.95 0 1 0 1.9 0a0.95 0.95 0 1 0 -1.9 0M228.1 166.9a0.95 0.95 0 1 0 1.9 0a0.95 0.95 0 1 0 -1.9 0M222.2 176.9a0.95 0.95 0 1 0 1.9 0a0.95 0.95 0 1 0 -1.9 0M225.8 113.0a0.95 0.95 0 1 0 1.9 0a0.95 0.95 0 1 0 -1.9 0M229.2 170.6a0.95 0.95 0 1 0 1.9 0a0.95 0.95 0 1 0 -1.9 0M230.0 134.1a0.95 0.95 0 1 0 1.9 0a0.95 0.95 0 1 0 -1.9 0M224.1 118.8a0.95 0.95 0 1 0 1.9 0a0.95 0.95 0 1 0 -1.9 0M227.8 171.5a0.95 0.95 0 1 0 1.9 0a0.95 0.95 0 1 0 -1.9 0M224.7 167.6a0.95 0.95 0 1 0 1.9 0a0.95 0.95 0 1 0 -1.9 0M230.0 119.7a0.95 0.95 0 1 0 1.9 0a0.95 0.95 0 1 0 -1.9 0M225.5 128.5a0.95 0.95 0 1 0 1.9 0a0.95 0.95 0 1 0 -1.9 0M222.0 137.6a0.95 0.95 0 1 0 1.9 0a0.95 0.95 0 1 0 -1.9 0M227.7 148.1a0.95 0.95 0 1 0 1.9 0a0.95 0.95 0 1 0 -1.9 0M222.6 174.5a0.95 0.95 0 1 0 1.9 0a0.95 0.95 0 1 0 -1.9 0M221.2 144.8a0.95 0.95 0 1 0 1.9 0a0.95 0.95 0 1 0 -1.9 0M230.6 173.7a0.95 0.95 0 1 0 1.9 0a0.95 0.95 0 1 0 -1.9 0M229.3 124.0a0.95 0.95 0 1 0 1.9 0a0.95 0.95 0 1 0 -1.9 0M222.1 164.4a0.95 0.95 0 1 0 1.9 0a0.95 0.95 0 1 0 -1.9 0M221.8 153.6a0.95 0.95 0 1 0 1.9 0a0.95 0.95 0 1 0 -1.9 0M228.0 165.6a0.95 0.95 0 1 0 1.9 0a0.95 0.95 0 1 0 -1.9 0M230.1 106.0a0.95 0.95 0 1 0 1.9 0a0.95 0.95 0 1 0 -1.9 0M221.2 68.3a0.95 0.95 0 1 0 1.9 0a0.95 0.95 0 1 0 -1.9 0M227.5 88.4a0.95 0.95 0 1 0 1.9 0a0.95 0.95 0 1 0 -1.9 0" fill="#c51b7d" fill-opacity="0.55"/>
<path d="M221.4 220.8a0.95 0.95 0 1 0 1.9 0a0.95 0.95 0 1 0 -1.9 0M225.9 210.9a0.95 0.95 0 1 0 1.9 0a0.95 0.95 0 1 0 -1.9 0M228.0 218.2a0.95 0.95 0 1 0 1.9 0a0.95 0.95 0 1 0 -1.9 0M223.7 221.1a0.95 0.95 0 1 0 1.9 0a0.95 0.95 0 1 0 -1.9 0M225.6 216.6a0.95 0.95 0 1 0 1.9 0a0.95 0.95 0 1 0 -1.9 0M225.6 210.8a0.95 0.95 0 1 0 1.9 0a0.95 0.95 0 1 0 -1.9 0M224.6 215.5a0.95 0.95 0 1 0 1.9 0a0.95 0.95 0 1 0 -1.9 0M223.0 194.2a0.95 0.95 0 1 0 1.9 0a0.95 0.95 0 1 0 -1.9 0M224.5 195.7a0.95 0.95 0 1 0 1.9 0a0.95 0.95 0 1 0 -1.9 0M228.7 200.2a0.95 0.95 0 1 0 1.9 0a0.95 0.95 0 1 0 -1.9 0M225.5 197.8a0.95 0.95 0 1 0 1.9 0a0.95 0.95 0 1 0 -1.9 0M228.0 196.7a0.95 0.95 0 1 0 1.9 0a0.95 0.95 0 1 0 -1.9 0M223.5 177.5a0.95 0.95 0 1 0 1.9 0a0.95 0.95 0 1 0 -1.9 0M225.0 194.3a0.95 0.95 0 1 0 1.9 0a0.95 0.95 0 1 0 -1.9 0M228.7 199.1a0.95 0.95 0 1 0 1.9 0a0.95 0.95 0 1 0 -1.9 0M222.1 191.9a0.95 0.95 0 1 0 1.9 0a0.95 0.95 0 1 0 -1.9 0M230.2 199.8a0.95 0.95 0 1 0 1.9 0a0.95 0.95 0 1 0 -1.9 0M229.2 202.2a0.95 0.95 0 1 0 1.9 0a0.95 0.95 0 1 0 -1.9 0M221.9 179.8a0.95 0.95 0 1 0 1.9 0a0.95 0.95 0 1 0 -1.9 0M224.3 186.5a0.95 0.95 0 1 0 1.9 0a0.95 0.95 0 1 0 -1.9 0M225.5 179.1a0.95 0.95 0 1 0 1.9 0a0.95 0.95 0 1 0 -1.9 0M229.8 203.3a0.95 0.95 0 1 0 1.9 0a0.95 0.95 0 1 0 -1.9 0M224.6 183.2a0.95 0.95 0 1 0 1.9 0a0.95 0.95 0 1 0 -1.9 0M227.6 202.4a0.95 0.95 0 1 0 1.9 0a0.95 0.95 0 1 0 -1.9 0M223.6 184.5a0.95 0.95 0 1 0 1.9 0a0.95 0.95 0 1 0 -1.9 0M229.7 179.6a0.95 0.95 0 1 0 1.9 0a0.95 0.95 0 1 0 -1.9 0M221.7 209.4a0.95 0.95 0 1 0 1.9 0a0.95 0.95 0 1 0 -1.9 0M223.3 190.7a0.95 0.95 0 1 0 1.9 0a0.95 0.95 0 1 0 -1.9 0M226.3 184.7a0.95 0.95 0 1 0 1.9 0a0.95 0.95 0 1 0 -1.9 0M224.9 203.5a0.95 0.95 0 1 0 1.9 0a0.95 0.95 0 1 0 -1.9 0M221.0 205.2a0.95 0.95 0 1 0 1.9 0a0.95 0.95 0 1 0 -1.9 0M227.5 192.8a0.95 0.95 0 1 0 1.9 0a0.95 0.95 0 1 0 -1.9 0M222.8 180.2a0.95 0.95 0 1 0 1.9 0a0.95 0.95 0 1 0 -1.9 0M223.8 197.6a0.95 0.95 0 1 0 1.9 0a0.95 0.95 0 1 0 -1.9 0M226.2 202.9a0.95 0.95 0 1 0 1.9 0a0.95 0.95 0 1 0 -1.9 0M229.5 181.9a0.95 0.95 0 1 0 1.9 0a0.95 0.95 0 1 0 -1.9 0M222.9 186.6a0.95 0.95 0 1 0 1.9 0a0.95 0.95 0 1 0 -1.9 0M230.6 205.4a0.95 0.95 0 1 0 1.9 0a0.95 0.95 0 1 0 -1.9 0M222.6 194.3a0.95 0.95 0 1 0 1.9 0a0.95 0.95 0 1 0 -1.9 0M221.1 191.6a0.95 0.95 0 1 0 1.9 0a0.95 0.95 0 1 0 -1.9 0M222.9 203.8a0.95 0.95 0 1 0 1.9 0a0.95 0.95 0 1 0 -1.9 0M221.7 192.4a0.95 0.95 0 1 0 1.9 0a0.95 0.95 0 1 0 -1.9 0M226.2 185.8a0.95 0.95 0 1 0 1.9 0a0.95 0.95 0 1 0 -1.9 0M223.3 195.2a0.95 0.95 0 1 0 1.9 0a0.95 0.95 0 1 0 -1.9 0M230.5 200.4a0.95 0.95 0 1 0 1.9 0a0.95 0.95 0 1 0 -1.9 0M229.6 197.5a0.95 0.95 0 1 0 1.9 0a0.95 0.95 0 1 0 -1.9 0M229.8 177.7a0.95 0.95 0 1 0 1.9 0a0.95 0.95 0 1 0 -1.9 0M228.9 179.3a0.95 0.95 0 1 0 1.9 0a0.95 0.95 0 1 0 -1.9 0M222.0 184.3a0.95 0.95 0 1 0 1.9 0a0.95 0.95 0 1 0 -1.9 0M222.9 182.4a0.95 0.95 0 1 0 1.9 0a0.95 0.95 0 1 0 -1.9 0M221.0 198.7a0.95 0.95 0 1 0 1.9 0a0.95 0.95 0 1 0 -1.9 0M221.1 208.0a0.95 0.95 0 1 0 1.9 0a0.95 0.95 0 1 0 -1.9 0M221.7 208.2a0.95 0.95 0 1 0 1.9 0a0.95 0.95 0 1 0 -1.9 0M221.6 177.7a0.95 0.95 0 1 0 1.9 0a0.95 0.95 0 1 0 -1.9 0M225.3 191.1a0.95 0.95 0 1 0 1.9 0a0.95 0.95 0 1 0 -1.9 0M229.4 197.0a0.95 0.95 0 1 0 1.9 0a0.95 0.95 0 1 0 -1.9 0M221.3 186.4a0.95 0.95 0 1 0 1.9 0a0.95 0.95 0 1 0 -1.9 0M229.9 171.2a0.95 0.95 0 1 0 1.9 0a0.95 0.95 0 1 0 -1.9 0M230.5 161.3a0.95 0.95 0 1 0 1.9 0a0.95 0.95 0 1 0 -1.9 0M227.4 169.8a0.95 0.95 0 1 0 1.9 0a0.95 0.95 0 1 0 -1.9 0M220.8 132.6a0.95 0.95 0 1 0 1.9 0a0.95 0.95 0 1 0 -1.9 0M228.1 158.6a0.95 0.95 0 1 0 1.9 0a0.95 0.95 0 1 0 -1.9 0M227.3 164.5a0.95 0.95 0 1 0 1.9 0a0.95 0.95 0 1 0 -1.9 0M227.4 118.4a0.95 0.95 0 1 0 1.9 0a0.95 0.95 0 1 0 -1.9 0M221.1 142.4a0.95 0.95 0 1 0 1.9 0a0.95 0.95 0 1 0 -1.9 0M226.5 133.7a0.95 0.95 0 1 0 1.9 0a0.95 0.95 0 1 0 -1.9 0M221.5 116.5a0.95 0.95 0 1 0 1.9 0a0.95 0.95 0 1 0 -1.9 0M221.9 152.3a0.95 0.95 0 1 0 1.9 0a0.95 0.95 0 1 0 -1.9 0M221.5 161.5a0.95 0.95 0 1 0 1.9 0a0.95 0.95 0 1 0 -1.9 0M227.2 166.0a0.95 0.95 0 1 0 1.9 0a0.95 0.95 0 1 0 -1.9 0M222.2 132.0a0.95 0.95 0 1 0 1.9 0a0.95 0.95 0 1 0 -1.9 0M229.0 176.6a0.95 0.95 0 1 0 1.9 0a0.95 0.95 0 1 0 -1.9 0M225.1 159.9a0.95 0.95 0 1 0 1.9 0a0.95 0.95 0 1 0 -1.9 0M227.1 176.6a0.95 0.95 0 1 0 1.9 0a0.95 0.95 0 1 0 -1.9 0M230.3 152.5a0.95 0.95 0 1 0 1.9 0a0.95 0.95 0 1 0 -1.9 0M224.6 176.0a0.95 0.95 0 1 0 1.9 0a0.95 0.95 0 1 0 -1.9 0M225.1 131.7a0.95 0.95 0 1 0 1.9 0a0.95 0.95 0 1 0 -1.9 0M225.5 166.6a0.95 0.95 0 1 0 1.9 0a0.95 0.95 0 1 0 -1.9 0M228.0 175.2a0.95 0.95 0 1 0 1.9 0a0.95 0.95 0 1 0 -1.9 0M226.5 171.4a0.95 0.95 0 1 0 1.9 0a0.95 0.95 0 1 0 -1.9 0M229.8 143.7a0.95 0.95 0 1 0 1.9 0a0.95 0.95 0 1 0 -1.9 0M230.1 138.2a0.95 0.95 0 1 0 1.9 0a0.95 0.95 0 1 0 -1.9 0M226.3 172.5a0.95 0.95 0 1 0 1.9 0a0.95 0.95 0 1 0 -1.9 0M225.7 164.7a0.95 0.95 0 1 0 1.9 0a0.95 0.95 0 1 0 -1.9 0M223.6 122.5a0.95 0.95 0 1 0 1.9 0a0.95 0.95 0 1 0 -1.9 0M228.9 134.6a0.95 0.95 0 1 0 1.9 0a0.95 0.95 0 1 0 -1.9 0M224.5 149.0a0.95 0.95 0 1 0 1.9 0a0.95 0.95 0 1 0 -1.9 0M227.5 123.7a0.95 0.95 0 1 0 1.9 0a0.95 0.95 0 1 0 -1.9 0M226.8 116.1a0.95 0.95 0 1 0 1.9 0a0.95 0.95 0 1 0 -1.9 0M224.3 163.5a0.95 0.95 0 1 0 1.9 0a0.95 0.95 0 1 0 -1.9 0M220.8 161.6a0.95 0.95 0 1 0 1.9 0a0.95 0.95 0 1 0 -1.9 0M223.9 107.5a0.95 0.95 0 1 0 1.9 0a0.95 0.95 0 1 0 -1.9 0M228.9 73.6a0.95 0.95 0 1 0 1.9 0a0.95 0.95 0 1 0 -1.9 0M228.9 93.3a0.95 0.95 0 1 0 1.9 0a0.95 0.95 0 1 0 -1.9 0" fill="#c51b7d" fill-opacity="0.55"/>
<path d="M225.9 215.6a0.95 0.95 0 1 0 1.9 0a0.95 0.95 0 1 0 -1.9 0M221.8 215.6a0.95 0.95 0 1 0 1.9 0a0.95 0.95 0 1 0 -1.9 0M224.1 209.8a0.95 0.95 0 1 0 1.9 0a0.95 0.95 0 1 0 -1.9 0M230.4 217.6a0.95 0.95 0 1 0 1.9 0a0.95 0.95 0 1 0 -1.9 0M229.9 220.8a0.95 0.95 0 1 0 1.9 0a0.95 0.95 0 1 0 -1.9 0M226.9 214.3a0.95 0.95 0 1 0 1.9 0a0.95 0.95 0 1 0 -1.9 0M227.2 209.6a0.95 0.95 0 1 0 1.9 0a0.95 0.95 0 1 0 -1.9 0M222.0 179.5a0.95 0.95 0 1 0 1.9 0a0.95 0.95 0 1 0 -1.9 0M228.0 180.1a0.95 0.95 0 1 0 1.9 0a0.95 0.95 0 1 0 -1.9 0M221.4 182.8a0.95 0.95 0 1 0 1.9 0a0.95 0.95 0 1 0 -1.9 0M223.0 180.7a0.95 0.95 0 1 0 1.9 0a0.95 0.95 0 1 0 -1.9 0M224.2 198.5a0.95 0.95 0 1 0 1.9 0a0.95 0.95 0 1 0 -1.9 0M229.4 203.3a0.95 0.95 0 1 0 1.9 0a0.95 0.95 0 1 0 -1.9 0M222.7 197.6a0.95 0.95 0 1 0 1.9 0a0.95 0.95 0 1 0 -1.9 0M230.4 186.9a0.95 0.95 0 1 0 1.9 0a0.95 0.95 0 1 0 -1.9 0M229.1 200.2a0.95 0.95 0 1 0 1.9 0a0.95 0.95 0 1 0 -1.9 0M222.6 184.6a0.95 0.95 0 1 0 1.9 0a0.95 0.95 0 1 0 -1.9 0M224.4 198.4a0.95 0.95 0 1 0 1.9 0a0.95 0.95 0 1 0 -1.9 0M223.7 202.6a0.95 0.95 0 1 0 1.9 0a0.95 0.95 0 1 0 -1.9 0M226.9 203.1a0.95 0.95 0 1 0 1.9 0a0.95 0.95 0 1 0 -1.9 0M228.4 200.4a0.95 0.95 0 1 0 1.9 0a0.95 0.95 0 1 0 -1.9 0M228.6 209.0a0.95 0.95 0 1 0 1.9 0a0.95 0.95 0 1 0 -1.9 0M225.2 195.2a0.95 0.95 0 1 0 1.9 0a0.95 0.95 0 1 0 -1.9 0M226.4 198.6a0.95 0.95 0 1 0 1.9 0a0.95 0.95 0 1 0 -1.9 0M224.4 203.9a0.95 0.95 0 1 0 1.9 0a0.95 0.95 0 1 0 -1.9 0M221.4 179.3a0.95 0.95 0 1 0 1.9 0a0.95 0.95 0 1 0 -1.9 0M226.4 180.4a0.95 0.95 0 1 0 1.9 0a0.95 0.95 0 1 0 -1.9 0M223.3 202.9a0.95 0.95 0 1 0 1.9 0a0.95 0.95 0 1 0 -1.9 0M223.5 205.8a0.95 0.95 0 1 0 1.9 0a0.95 0.95 0 1 0 -1.9 0M222.7 198.8a0.95 0.95 0 1 0 1.9 0a0.95 0.95 0 1 0 -1.9 0M226.8 196.9a0.95 0.95 0 1 0 1.9 0a0.95 0.95 0 1 0 -1.9 0M225.2 179.0a0.95 0.95 0 1 0 1.9 0a0.95 0.95 0 1 0 -1.9 0M224.4 197.9a0.95 0.95 0 1 0 1.9 0a0.95 0.95 0 1 0 -1.9 0M224.2 189.9a0.95 0.95 0 1 0 1.9 0a0.95 0.95 0 1 0 -1.9 0M229.4 183.3a0.95 0.95 0 1 0 1.9 0a0.95 0.95 0 1 0 -1.9 0M225.4 178.2a0.95 0.95 0 1 0 1.9 0a0.95 0.95 0 1 0 -1.9 0M225.2 191.5a0.95 0.95 0 1 0 1.9 0a0.95 0.95 0 1 0 -1.9 0M227.2 199.0a0.95 0.95 0 1 0 1.9 0a0.95 0.95 0 1 0 -1.9 0M226.7 180.3a0.95 0.95 0 1 0 1.9 0a0.95 0.95 0 1 0 -1.9 0M227.6 209.5a0.95 0.95 0 1 0 1.9 0a0.95 0.95 0 1 0 -1.9 0M229.3 204.1a0.95 0.95 0 1 0 1.9 0a0.95 0.95 0 1 0 -1.9 0M228.7 207.6a0.95 0.95 0 1 0 1.9 0a0.95 0.95 0 1 0 -1.9 0M223.6 188.4a0.95 0.95 0 1 0 1.9 0a0.95 0.95 0 1 0 -1.9 0M229.2 200.0a0.95 0.95 0 1 0 1.9 0a0.95 0.95 0 1 0 -1.9 0M223.1 181.0a0.95 0.95 0 1 0 1.9 0a0.95 0.95 0 1 0 -1.9 0M225.9 207.6a0.95 0.95 0 1 0 1.9 0a0.95 0.95 0 1 0 -1.9 0M221.5 208.3a0.95 0.95 0 1 0 1.9 0a0.95 0.95 0 1 0 -1.9 0M230.1 197.2a0.95 0.95 0 1 0 1.9 0a0.95 0.95 0 1 0 -1.9 0M228.5 199.0a0.95 0.95 0 1 0 1.9 0a0.95 0.95 0 1 0 -1.9 0M226.7 202.3a0.95 0.95 0 1 0 1.9 0a0.95 0.95 0 1 0 -1.9 0M227.1 206.8a0.95 0.95 0 1 0 1.9 0a0.95 0.95 0 1 0 -1.9 0M222.9 180.5a0.95 0.95 0 1 0 1.9 0a0.95 0.95 0 1 0 -1.9 0M223.6 188.3a0.95 0.95 0 1 0 1.9 0a0.95 0.95 0 1 0 -1.9 0M227.4 179.7a0.95 0.95 0 1 0 1.9 0a0.95 0.95 0 1 0 -1.9 0M226.9 191.6a0.95 0.95 0 1 0 1.9 0a0.95 0.95 0 1 0 -1.9 0M223.2 178.8a0.95 0.95 0 1 0 1.9 0a0.95 0.95 0 1 0 -1.9 0M223.2 194.6a0.95 0.95 0 1 0 1.9 0a0.95 0.95 0 1 0 -1.9 0M225.9 153.6a0.95 0.95 0 1 0 1.9 0a0.95 0.95 0 1 0 -1.9 0M220.7 153.1a0.95 0.95 0 1 0 1.9 0a0.95 0.95 0 1 0 -1.9 0M220.9 126.7a0.95 0.95 0 1 0 1.9 0a0.95 0.95 0 1 0 -1.9 0M229.6 135.9a0.95 0.95 0 1 0 1.9 0a0.95 0.95 0 1 0 -1.9 0M227.4 174.4a0.95 0.95 0 1 0 1.9 0a0.95 0.95 0 1 0 -1.9 0M229.6 171.2a0.95 0.95 0 1 0 1.9 0a0.95 0.95 0 1 0 -1.9 0M228.0 115.2a0.95 0.95 0 1 0 1.9 0a0.95 0.95 0 1 0 -1.9 0M223.6 138.4a0.95 0.95 0 1 0 1.9 0a0.95 0.95 0 1 0 -1.9 0M230.2 137.5a0.95 0.95 0 1 0 1.9 0a0.95 0.95 0 1 0 -1.9 0M227.6 170.0a0.95 0.95 0 1 0 1.9 0a0.95 0.95 0 1 0 -1.9 0M230.5 117.5a0.95 0.95 0 1 0 1.9 0a0.95 0.95 0 1 0 -1.9 0M229.9 165.8a0.95 0.95 0 1 0 1.9 0a0.95 0.95 0 1 0 -1.9 0M223.8 146.3a0.95 0.95 0 1 0 1.9 0a0.95 0.95 0 1 0 -1.9 0M227.5 156.6a0.95 0.95 0 1 0 1.9 0a0.95 0.95 0 1 0 -1.9 0M223.8 167.6a0.95 0.95 0 1 0 1.9 0a0.95 0.95 0 1 0 -1.9 0M222.7 153.3a0.95 0.95 0 1 0 1.9 0a0.95 0.95 0 1 0 -1.9 0M228.8 131.8a0.95 0.95 0 1 0 1.9 0a0.95 0.95 0 1 0 -1.9 0M226.2 148.1a0.95 0.95 0 1 0 1.9 0a0.95 0.95 0 1 0 -1.9 0M224.3 158.8a0.95 0.95 0 1 0 1.9 0a0.95 0.95 0 1 0 -1.9 0M229.6 129.9a0.95 0.95 0 1 0 1.9 0a0.95 0.95 0 1 0 -1.9 0M221.4 112.1a0.95 0.95 0 1 0 1.9 0a0.95 0.95 0 1 0 -1.9 0M224.5 143.2a0.95 0.95 0 1 0 1.9 0a0.95 0.95 0 1 0 -1.9 0M230.6 114.3a0.95 0.95 0 1 0 1.9 0a0.95 0.95 0 1 0 -1.9 0M222.4 154.8a0.95 0.95 0 1 0 1.9 0a0.95 0.95 0 1 0 -1.9 0M226.4 149.7a0.95 0.95 0 1 0 1.9 0a0.95 0.95 0 1 0 -1.9 0M221.1 157.7a0.95 0.95 0 1 0 1.9 0a0.95 0.95 0 1 0 -1.9 0M230.2 172.2a0.95 0.95 0 1 0 1.9 0a0.95 0.95 0 1 0 -1.9 0M224.9 170.3a0.95 0.95 0 1 0 1.9 0a0.95 0.95 0 1 0 -1.9 0M226.4 171.0a0.95 0.95 0 1 0 1.9 0a0.95 0.95 0 1 0 -1.9 0M226.3 116.0a0.95 0.95 0 1 0 1.9 0a0.95 0.95 0 1 0 -1.9 0M228.3 153.6a0.95 0.95 0 1 0 1.9 0a0.95 0.95 0 1 0 -1.9 0M222.0 153.3a0.95 0.95 0 1 0 1.9 0a0.95 0.95 0 1 0 -1.9 0M224.9 156.4a0.95 0.95 0 1 0 1.9 0a0.95 0.95 0 1 0 -1.9 0M224.3 169.6a0.95 0.95 0 1 0 1.9 0a0.95 0.95 0 1 0 -1.9 0M229.4 109.0a0.95 0.95 0 1 0 1.9 0a0.95 0.95 0 1 0 -1.9 0M222.7 76.6a0.95 0.95 0 1 0 1.9 0a0.95 0.95 0 1 0 -1.9 0M226.1 97.9a0.95 0.95 0 1 0 1.9 0a0.95 0.95 0 1 0 -1.9 0" fill="#c51b7d" fill-opacity="0.55"/>
<path d="M225.4 212.6a0.95 0.95 0 1 0 1.9 0a0.95 0.95 0 1 0 -1.9 0M227.1 214.0a0.95 0.95 0 1 0 1.9 0a0.95 0.95 0 1 0 -1.9 0M222.5 214.9a0.95 0.95 0 1 0 1.9 0a0.95 0.95 0 1 0 -1.9 0M228.1 214.1a0.95 0.95 0 1 0 1.9 0a0.95 0.95 0 1 0 -1.9 0M227.3 212.0a0.95 0.95 0 1 0 1.9 0a0.95 0.95 0 1 0 -1.9 0M224.6 219.8a0.95 0.95 0 1 0 1.9 0a0.95 0.95 0 1 0 -1.9 0M227.6 214.5a0.95 0.95 0 1 0 1.9 0a0.95 0.95 0 1 0 -1.9 0M223.7 178.2a0.95 0.95 0 1 0 1.9 0a0.95 0.95 0 1 0 -1.9 0M223.2 185.9a0.95 0.95 0 1 0 1.9 0a0.95 0.95 0 1 0 -1.9 0M223.3 198.4a0.95 0.95 0 1 0 1.9 0a0.95 0.95 0 1 0 -1.9 0M221.0 200.5a0.95 0.95 0 1 0 1.9 0a0.95 0.95 0 1 0 -1.9 0M228.1 197.2a0.95 0.95 0 1 0 1.9 0a0.95 0.95 0 1 0 -1.9 0M222.7 180.6a0.95 0.95 0 1 0 1.9 0a0.95 0.95 0 1 0 -1.9 0M228.7 208.4a0.95 0.95 0 1 0 1.9 0a0.95 0.95 0 1 0 -1.9 0M226.0 186.0a0.95 0.95 0 1 0 1.9 0a0.95 0.95 0 1 0 -1.9 0M229.1 187.9a0.95 0.95 0 1 0 1.9 0a0.95 0.95 0 1 0 -1.9 0M223.2 193.0a0.95 0.95 0 1 0 1.9 0a0.95 0.95 0 1 0 -1.9 0M229.3 203.6a0.95 0.95 0 1 0 1.9 0a0.95 0.95 0 1 0 -1.9 0M224.2 186.7a0.95 0.95 0 1 0 1.9 0a0.95 0.95 0 1 0 -1.9 0M222.2 185.0a0.95 0.95 0 1 0 1.9 0a0.95 0.95 0 1 0 -1.9 0M227.6 197.6a0.95 0.95 0 1 0 1.9 0a0.95 0.95 0 1 0 -1.9 0M228.3 184.8a0.95 0.95 0 1 0 1.9 0a0.95 0.95 0 1 0 -1.9 0M222.0 184.8a0.95 0.95 0 1 0 1.9 0a0.95 0.95 0 1 0 -1.9 0M222.2 204.7a0.95 0.95 0 1 0 1.9 0a0.95 0.95 0 1 0 -1.9 0M222.5 183.5a0.95 0.95 0 1 0 1.9 0a0.95 0.95 0 1 0 -1.9 0M225.0 192.0a0.95 0.95 0 1 0 1.9 0a0.95 0.95 0 1 0 -1.9 0M226.4 187.1a0.95 0.95 0 1 0 1.9 0a0.95 0.95 0 1 0 -1.9 0M228.4 179.7a0.95 0.95 0 1 0 1.9 0a0.95 0.95 0 1 0 -1.9 0M225.0 190.5a0.95 0.95 0 1 0 1.9 0a0.95 0.95 0 1 0 -1.9 0M223.7 200.0a0.95 0.95 0 1 0 1.9 0a0.95 0.95 0 1 0 -1.9 0M225.4 196.3a0.95 0.95 0 1 0 1.9 0a0.95 0.95 0 1 0 -1.9 0M223.6 185.4a0.95 0.95 0 1 0 1.9 0a0.95 0.95 0 1 0 -1.9 0M225.9 202.3a0.95 0.95 0 1 0 1.9 0a0.95 0.95 0 1 0 -1.9 0M222.9 178.3a0.95 0.95 0 1 0 1.9 0a0.95 0.95 0 1 0 -1.9 0M229.5 203.4a0.95 0.95 0 1 0 1.9 0a0.95 0.95 0 1 0 -1.9 0M223.3 204.3a0.95 0.95 0 1 0 1.9 0a0.95 0.95 0 1 0 -1.9 0M221.6 208.4a0.95 0.95 0 1 0 1.9 0a0.95 0.95 0 1 0 -1.9 0M225.2 189.2a0.95 0.95 0 1 0 1.9 0a0.95 0.95 0 1 0 -1.9 0M225.6 202.2a0.95 0.95 0 1 0 1.9 0a0.95 0.95 0 1 0 -1.9 0M222.8 177.5a0.95 0.95 0 1 0 1.9 0a0.95 0.95 0 1 0 -1.9 0M222.0 204.3a0.95 0.95 0 1 0 1.9 0a0.95 0.95 0 1 0 -1.9 0M225.9 203.5a0.95 0.95 0 1 0 1.9 0a0.95 0.95 0 1 0 -1.9 0M227.2 190.9a0.95 0.95 0 1 0 1.9 0a0.95 0.95 0 1 0 -1.9 0M226.3 203.1a0.95 0.95 0 1 0 1.9 0a0.95 0.95 0 1 0 -1.9 0M226.3 201.1a0.95 0.95 0 1 0 1.9 0a0.95 0.95 0 1 0 -1.9 0M229.9 178.7a0.95 0.95 0 1 0 1.9 0a0.95 0.95 0 1 0 -1.9 0M225.7 190.7a0.95 0.95 0 1 0 1.9 0a0.95 0.95 0 1 0 -1.9 0M226.4 200.0a0.95 0.95 0 1 0 1.9 0a0.95 0.95 0 1 0 -1.9 0M227.6 186.4a0.95 0.95 0 1 0 1.9 0a0.95 0.95 0 1 0 -1.9 0M223.8 188.7a0.95 0.95 0 1 0 1.9 0a0.95 0.95 0 1 0 -1.9 0M221.2 185.7a0.95 0.95 0 1 0 1.9 0a0.95 0.95 0 1 0 -1.9 0M230.0 198.8a0.95 0.95 0 1 0 1.9 0a0.95 0.95 0 1 0 -1.9 0M226.9 185.5a0.95 0.95 0 1 0 1.9 0a0.95 0.95 0 1 0 -1.9 0M220.9 179.7a0.95 0.95 0 1 0 1.9 0a0.95 0.95 0 1 0 -1.9 0M225.5 205.2a0.95 0.95 0 1 0 1.9 0a0.95 0.95 0 1 0 -1.9 0M228.1 190.5a0.95 0.95 0 1 0 1.9 0a0.95 0.95 0 1 0 -1.9 0M224.5 182.0a0.95 0.95 0 1 0 1.9 0a0.95 0.95 0 1 0 -1.9 0M229.6 127.7a0.95 0.95 0 1 0 1.9 0a0.95 0.95 0 1 0 -1.9 0M230.5 114.0a0.95 0.95 0 1 0 1.9 0a0.95 0.95 0 1 0 -1.9 0M224.2 177.0a0.95 0.95 0 1 0 1.9 0a0.95 0.95 0 1 0 -1.9 0M221.5 131.4a0.95 0.95 0 1 0 1.9 0a0.95 0.95 0 1 0 -1.9 0M226.5 143.4a0.95 0.95 0 1 0 1.9 0a0.95 0.95 0 1 0 -1.9 0M228.4 171.2a0.95 0.95 0 1 0 1.9 0a0.95 0.95 0 1 0 -1.9 0M224.8 127.1a0.95 0.95 0 1 0 1.9 0a0.95 0.95 0 1 0 -1.9 0M220.9 136.3a0.95 0.95 0 1 0 1.9 0a0.95 0.95 0 1 0 -1.9 0M229.4 155.9a0.95 0.95 0 1 0 1.9 0a0.95 0.95 0 1 0 -1.9 0M224.2 172.5a0.95 0.95 0 1 0 1.9 0a0.95 0.95 0 1 0 -1.9 0M223.3 139.7a0.95 0.95 0 1 0 1.9 0a0.95 0.95 0 1 0 -1.9 0M228.0 137.6a0.95 0.95 0 1 0 1.9 0a0.95 0.95 0 1 0 -1.9 0M229.0 125.0a0.95 0.95 0 1 0 1.9 0a0.95 0.95 0 1 0 -1.9 0M230.3 176.9a0.95 0.95 0 1 0 1.9 0a0.95 0.95 0 1 0 -1.9 0M228.9 151.8a0.95 0.95 0 1 0 1.9 0a0.95 0.95 0 1 0 -1.9 0M223.1 112.2a0.95 0.95 0 1 0 1.9 0a0.95 0.95 0 1 0 -1.9 0M225.8 148.7a0.95 0.95 0 1 0 1.9 0a0.95 0.95 0 1 0 -1.9 0M222.1 139.6a0.95 0.95 0 1 0 1.9 0a0.95 0.95 0 1 0 -1.9 0M222.7 131.3a0.95 0.95 0 1 0 1.9 0a0.95 0.95 0 1 0 -1.9 0M222.7 114.4a0.95 0.95 0 1 0 1.9 0a0.95 0.95 0 1 0 -1.9 0M222.4 164.0a0.95 0.95 0 1 0 1.9 0a0.95 0.95 0 1 0 -1.9 0M225.2 176.7a0.95 0.95 0 1 0 1.9 0a0.95 0.95 0 1 0 -1.9 0M228.0 170.9a0.95 0.95 0 1 0 1.9 0a0.95 0.95 0 1 0 -1.9 0M223.8 168.5a0.95 0.95 0 1 0 1.9 0a0.95 0.95 0 1 0 -1.9 0M220.9 111.0a0.95 0.95 0 1 0 1.9 0a0.95 0.95 0 1 0 -1.9 0M223.1 177.0a0.95 0.95 0 1 0 1.9 0a0.95 0.95 0 1 0 -1.9 0M222.0 160.2a0.95 0.95 0 1 0 1.9 0a0.95 0.95 0 1 0 -1.9 0M223.1 140.9a0.95 0.95 0 1 0 1.9 0a0.95 0.95 0 1 0 -1.9 0M225.7 156.1a0.95 0.95 0 1 0 1.9 0a0.95 0.95 0 1 0 -1.9 0M222.7 170.5a0.95 0.95 0 1 0 1.9 0a0.95 0.95 0 1 0 -1.9 0M228.3 155.6a0.95 0.95 0 1 0 1.9 0a0.95 0.95 0 1 0 -1.9 0M222.2 168.9a0.95 0.95 0 1 0 1.9 0a0.95 0.95 0 1 0 -1.9 0M230.5 113.2a0.95 0.95 0 1 0 1.9 0a0.95 0.95 0 1 0 -1.9 0M223.5 101.6a0.95 0.95 0 1 0 1.9 0a0.95 0.95 0 1 0 -1.9 0M229.5 46.6a0.95 0.95 0 1 0 1.9 0a0.95 0.95 0 1 0 -1.9 0M225.9 78.4a0.95 0.95 0 1 0 1.9 0a0.95 0.95 0 1 0 -1.9 0M223.6 100.5a0.95 0.95 0 1 0 1.9 0a0.95 0.95 0 1 0 -1.9 0" fill="#c51b7d" fill-opacity="0.55"/>
<path d="M273.0 217.4a0.95 0.95 0 1 0 1.9 0a0.95 0.95 0 1 0 -1.9 0M265.6 207.7a0.95 0.95 0 1 0 1.9 0a0.95 0.95 0 1 0 -1.9 0M267.3 197.3a0.95 0.95 0 1 0 1.9 0a0.95 0.95 0 1 0 -1.9 0M267.8 203.4a0.95 0.95 0 1 0 1.9 0a0.95 0.95 0 1 0 -1.9 0M265.7 204.9a0.95 0.95 0 1 0 1.9 0a0.95 0.95 0 1 0 -1.9 0M270.4 198.0a0.95 0.95 0 1 0 1.9 0a0.95 0.95 0 1 0 -1.9 0M273.0 215.0a0.95 0.95 0 1 0 1.9 0a0.95 0.95 0 1 0 -1.9 0M264.2 202.8a0.95 0.95 0 1 0 1.9 0a0.95 0.95 0 1 0 -1.9 0M265.8 214.3a0.95 0.95 0 1 0 1.9 0a0.95 0.95 0 1 0 -1.9 0M265.1 204.2a0.95 0.95 0 1 0 1.9 0a0.95 0.95 0 1 0 -1.9 0M267.3 209.8a0.95 0.95 0 1 0 1.9 0a0.95 0.95 0 1 0 -1.9 0M270.3 211.3a0.95 0.95 0 1 0 1.9 0a0.95 0.95 0 1 0 -1.9 0M269.4 196.0a0.95 0.95 0 1 0 1.9 0a0.95 0.95 0 1 0 -1.9 0M264.9 208.7a0.95 0.95 0 1 0 1.9 0a0.95 0.95 0 1 0 -1.9 0M271.9 202.9a0.95 0.95 0 1 0 1.9 0a0.95 0.95 0 1 0 -1.9 0M272.3 212.8a0.95 0.95 0 1 0 1.9 0a0.95 0.95 0 1 0 -1.9 0M266.7 214.3a0.95 0.95 0 1 0 1.9 0a0.95 0.95 0 1 0 -1.9 0M273.4 220.1a0.95 0.95 0 1 0 1.9 0a0.95 0.95 0 1 0 -1.9 0M264.3 201.2a0.95 0.95 0 1 0 1.9 0a0.95 0.95 0 1 0 -1.9 0M267.0 204.0a0.95 0.95 0 1 0 1.9 0a0.95 0.95 0 1 0 -1.9 0M265.9 219.2a0.95 0.95 0 1 0 1.9 0a0.95 0.95 0 1 0 -1.9 0M266.1 220.2a0.95 0.95 0 1 0 1.9 0a0.95 0.95 0 1 0 -1.9 0M273.2 186.0a0.95 0.95 0 1 0 1.9 0a0.95 0.95 0 1 0 -1.9 0M272.0 192.9a0.95 0.95 0 1 0 1.9 0a0.95 0.95 0 1 0 -1.9 0M272.7 175.6a0.95 0.95 0 1 0 1.9 0a0.95 0.95 0 1 0 -1.9 0M263.7 178.9a0.95 0.95 0 1 0 1.9 0a0.95 0.95 0 1 0 -1.9 0M266.2 160.1a0.95 0.95 0 1 0 1.9 0a0.95 0.95 0 1 0 -1.9 0M267.2 170.3a0.95 0.95 0 1 0 1.9 0a0.95 0.95 0 1 0 -1.9 0M265.8 165.0a0.95 0.95 0 1 0 1.9 0a0.95 0.95 0 1 0 -1.9 0M265.9 186.1a0.95 0.95 0 1 0 1.9 0a0.95 0.95 0 1 0 -1.9 0M270.8 194.5a0.95 0.95 0 1 0 1.9 0a0.95 0.95 0 1 0 -1.9 0M264.0 181.5a0.95 0.95 0 1 0 1.9 0a0.95 0.95 0 1 0 -1.9 0M267.9 177.8a0.95 0.95 0 1 0 1.9 0a0.95 0.95 0 1 0 -1.9 0M266.4 162.3a0.95 0.95 0 1 0 1.9 0a0.95 0.95 0 1 0 -1.9 0M268.5 190.5a0.95 0.95 0 1 0 1.9 0a0.95 0.95 0 1 0 -1.9 0M265.6 168.3a0.95 0.95 0 1 0 1.9 0a0.95 0.95 0 1 0 -1.9 0M265.9 176.4a0.95 0.95 0 1 0 1.9 0a0.95 0.95 0 1 0 -1.9 0M271.9 178.2a0.95 0.95 0 1 0 1.9 0a0.95 0.95 0 1 0 -1.9 0M267.0 194.3a0.95 0.95 0 1 0 1.9 0a0.95 0.95 0 1 0 -1.9 0M268.9 193.7a0.95 0.95 0 1 0 1.9 0a0.95 0.95 0 1 0 -1.9 0M266.1 181.8a0.95 0.95 0 1 0 1.9 0a0.95 0.95 0 1 0 -1.9 0M265.2 174.4a0.95 0.95 0 1 0 1.9 0a0.95 0.95 0 1 0 -1.9 0M265.6 187.6a0.95 0.95 0 1 0 1.9 0a0.95 0.95 0 1 0 -1.9 0M263.6 195.2a0.95 0.95 0 1 0 1.9 0a0.95 0.95 0 1 0 -1.9 0M272.1 169.0a0.95 0.95 0 1 0 1.9 0a0.95 0.95 0 1 0 -1.9 0M266.0 159.5a0.95 0.95 0 1 0 1.9 0a0.95 0.95 0 1 0 -1.9 0M263.9 166.0a0.95 0.95 0 1 0 1.9 0a0.95 0.95 0 1 0 -1.9 0M270.9 179.6a0.95 0.95 0 1 0 1.9 0a0.95 0.95 0 1 0 -1.9 0M272.4 192.9a0.95 0.95 0 1 0 1.9 0a0.95 0.95 0 1 0 -1.9 0M269.2 195.0a0.95 0.95 0 1 0 1.9 0a0.95 0.95 0 1 0 -1.9 0M266.0 195.3a0.95 0.95 0 1 0 1.9 0a0.95 0.95 0 1 0 -1.9 0M267.4 187.1a0.95 0.95 0 1 0 1.9 0a0.95 0.95 0 1 0 -1.9 0M264.1 176.2a0.95 0.95 0 1 0 1.9 0a0.95 0.95 0 1 0 -1.9 0M269.7 193.6a0.95 0.95 0 1 0 1.9 0a0.95 0.95 0 1 0 -1.9 0M273.0 170.6a0.95 0.95 0 1 0 1.9 0a0.95 0.95 0 1 0 -1.9 0M263.7 154.0a0.95 0.95 0 1 0 1.9 0a0.95 0.95 0 1 0 -1.9 0M265.4 96.3a0.95 0.95 0 1 0 1.9 0a0.95 0.95 0 1 0 -1.9 0M269.1 131.4a0.95 0.95 0 1 0 1.9 0a0.95 0.95 0 1 0 -1.9 0M269.1 151.5a0.95 0.95 0 1 0 1.9 0a0.95 0.95 0 1 0 -1.9 0" fill="#7fbc41" fill-opacity="0.55"/>
<path d="M270.3 207.5a0.95 0.95 0 1 0 1.9 0a0.95 0.95 0 1 0 -1.9 0M266.0 219.7a0.95 0.95 0 1 0 1.9 0a0.95 0.95 0 1 0 -1.9 0M273.4 196.3a0.95 0.95 0 1 0 1.9 0a0.95 0.95 0 1 0 -1.9 0M270.1 215.4a0.95 0.95 0 1 0 1.9 0a0.95 0.95 0 1 0 -1.9 0M271.6 201.2a0.95 0.95 0 1 0 1.9 0a0.95 0.95 0 1 0 -1.9 0M272.3 217.0a0.95 0.95 0 1 0 1.9 0a0.95 0.95 0 1 0 -1.9 0M266.5 207.5a0.95 0.95 0 1 0 1.9 0a0.95 0.95 0 1 0 -1.9 0M263.7 214.5a0.95 0.95 0 1 0 1.9 0a0.95 0.95 0 1 0 -1.9 0M269.5 217.9a0.95 0.95 0 1 0 1.9 0a0.95 0.95 0 1 0 -1.9 0M264.8 218.2a0.95 0.95 0 1 0 1.9 0a0.95 0.95 0 1 0 -1.9 0M267.8 218.0a0.95 0.95 0 1 0 1.9 0a0.95 0.95 0 1 0 -1.9 0M265.2 203.0a0.95 0.95 0 1 0 1.9 0a0.95 0.95 0 1 0 -1.9 0M266.2 216.7a0.95 0.95 0 1 0 1.9 0a0.95 0.95 0 1 0 -1.9 0M267.4 214.9a0.95 0.95 0 1 0 1.9 0a0.95 0.95 0 1 0 -1.9 0M271.1 217.3a0.95 0.95 0 1 0 1.9 0a0.95 0.95 0 1 0 -1.9 0M264.3 214.6a0.95 0.95 0 1 0 1.9 0a0.95 0.95 0 1 0 -1.9 0M265.2 207.3a0.95 0.95 0 1 0 1.9 0a0.95 0.95 0 1 0 -1.9 0M268.4 202.4a0.95 0.95 0 1 0 1.9 0a0.95 0.95 0 1 0 -1.9 0M271.9 205.4a0.95 0.95 0 1 0 1.9 0a0.95 0.95 0 1 0 -1.9 0M271.3 213.7a0.95 0.95 0 1 0 1.9 0a0.95 0.95 0 1 0 -1.9 0M272.2 207.3a0.95 0.95 0 1 0 1.9 0a0.95 0.95 0 1 0 -1.9 0M270.7 208.4a0.95 0.95 0 1 0 1.9 0a0.95 0.95 0 1 0 -1.9 0M273.2 177.6a0.95 0.95 0 1 0 1.9 0a0.95 0.95 0 1 0 -1.9 0M268.3 176.1a0.95 0.95 0 1 0 1.9 0a0.95 0.95 0 1 0 -1.9 0M273.3 194.4a0.95 0.95 0 1 0 1.9 0a0.95 0.95 0 1 0 -1.9 0M266.2 172.4a0.95 0.95 0 1 0 1.9 0a0.95 0.95 0 1 0 -1.9 0M267.9 177.9a0.95 0.95 0 1 0 1.9 0a0.95 0.95 0 1 0 -1.9 0M263.9 164.5a0.95 0.95 0 1 0 1.9 0a0.95 0.95 0 1 0 -1.9 0M266.7 161.3a0.95 0.95 0 1 0 1.9 0a0.95 0.95 0 1 0 -1.9 0M272.4 181.1a0.95 0.95 0 1 0 1.9 0a0.95 0.95 0 1 0 -1.9 0M271.8 169.5a0.95 0.95 0 1 0 1.9 0a0.95 0.95 0 1 0 -1.9 0M265.4 162.8a0.95 0.95 0 1 0 1.9 0a0.95 0.95 0 1 0 -1.9 0M265.1 175.0a0.95 0.95 0 1 0 1.9 0a0.95 0.95 0 1 0 -1.9 0M272.3 194.8a0.95 0.95 0 1 0 1.9 0a0.95 0.95 0 1 0 -1.9 0M272.6 177.5a0.95 0.95 0 1 0 1.9 0a0.95 0.95 0 1 0 -1.9 0M268.2 186.7a0.95 0.95 0 1 0 1.9 0a0.95 0.95 0 1 0 -1.9 0M270.1 191.9a0.95 0.95 0 1 0 1.9 0a0.95 0.95 0 1 0 -1.9 0M268.4 182.1a0.95 0.95 0 1 0 1.9 0a0.95 0.95 0 1 0 -1.9 0M264.1 176.1a0.95 0.95 0 1 0 1.9 0a0.95 0.95 0 1 0 -1.9 0M267.2 194.2a0.95 0.95 0 1 0 1.9 0a0.95 0.95 0 1 0 -1.9 0M265.4 191.8a0.95 0.95 0 1 0 1.9 0a0.95 0.95 0 1 0 -1.9 0M267.9 159.2a0.95 0.95 0 1 0 1.9 0a0.95 0.95 0 1 0 -1.9 0M272.9 192.9a0.95 0.95 0 1 0 1.9 0a0.95 0.95 0 1 0 -1.9 0M268.8 173.1a0.95 0.95 0 1 0 1.9 0a0.95 0.95 0 1 0 -1.9 0M269.5 195.1a0.95 0.95 0 1 0 1.9 0a0.95 0.95 0 1 0 -1.9 0M273.3 159.6a0.95 0.95 0 1 0 1.9 0a0.95 0.95 0 1 0 -1.9 0M267.2 180.7a0.95 0.95 0 1 0 1.9 0a0.95 0.95 0 1 0 -1.9 0M267.7 190.3a0.95 0.95 0 1 0 1.9 0a0.95 0.95 0 1 0 -1.9 0M272.9 164.0a0.95 0.95 0 1 0 1.9 0a0.95 0.95 0 1 0 -1.9 0M270.9 192.1a0.95 0.95 0 1 0 1.9 0a0.95 0.95 0 1 0 -1.9 0M271.3 194.4a0.95 0.95 0 1 0 1.9 0a0.95 0.95 0 1 0 -1.9 0M269.5 172.7a0.95 0.95 0 1 0 1.9 0a0.95 0.95 0 1 0 -1.9 0M265.0 186.9a0.95 0.95 0 1 0 1.9 0a0.95 0.95 0 1 0 -1.9 0M265.5 187.6a0.95 0.95 0 1 0 1.9 0a0.95 0.95 0 1 0 -1.9 0M272.8 171.0a0.95 0.95 0 1 0 1.9 0a0.95 0.95 0 1 0 -1.9 0M266.0 155.5a0.95 0.95 0 1 0 1.9 0a0.95 0.95 0 1 0 -1.9 0M268.4 97.7a0.95 0.95 0 1 0 1.9 0a0.95 0.95 0 1 0 -1.9 0M269.1 134.9a0.95 0.95 0 1 0 1.9 0a0.95 0.95 0 1 0 -1.9 0M267.1 143.2a0.95 0.95 0 1 0 1.9 0a0.95 0.95 0 1 0 -1.9 0" fill="#7fbc41" fill-opacity="0.55"/>
<path d="M266.5 195.5a0.95 0.95 0 1 0 1.9 0a0.95 0.95 0 1 0 -1.9 0M272.6 218.9a0.95 0.95 0 1 0 1.9 0a0.95 0.95 0 1 0 -1.9 0M269.0 204.9a0.95 0.95 0 1 0 1.9 0a0.95 0.95 0 1 0 -1.9 0M264.4 201.0a0.95 0.95 0 1 0 1.9 0a0.95 0.95 0 1 0 -1.9 0M271.4 217.1a0.95 0.95 0 1 0 1.9 0a0.95 0.95 0 1 0 -1.9 0M266.9 206.3a0.95 0.95 0 1 0 1.9 0a0.95 0.95 0 1 0 -1.9 0M263.5 202.0a0.95 0.95 0 1 0 1.9 0a0.95 0.95 0 1 0 -1.9 0M269.8 202.0a0.95 0.95 0 1 0 1.9 0a0.95 0.95 0 1 0 -1.9 0M267.4 218.8a0.95 0.95 0 1 0 1.9 0a0.95 0.95 0 1 0 -1.9 0M267.5 212.9a0.95 0.95 0 1 0 1.9 0a0.95 0.95 0 1 0 -1.9 0M265.6 211.2a0.95 0.95 0 1 0 1.9 0a0.95 0.95 0 1 0 -1.9 0M267.0 209.3a0.95 0.95 0 1 0 1.9 0a0.95 0.95 0 1 0 -1.9 0M264.6 215.8a0.95 0.95 0 1 0 1.9 0a0.95 0.95 0 1 0 -1.9 0M272.7 198.6a0.95 0.95 0 1 0 1.9 0a0.95 0.95 0 1 0 -1.9 0M268.0 197.1a0.95 0.95 0 1 0 1.9 0a0.95 0.95 0 1 0 -1.9 0M267.4 211.1a0.95 0.95 0 1 0 1.9 0a0.95 0.95 0 1 0 -1.9 0M273.0 206.4a0.95 0.95 0 1 0 1.9 0a0.95 0.95 0 1 0 -1.9 0M271.1 207.9a0.95 0.95 0 1 0 1.9 0a0.95 0.95 0 1 0 -1.9 0M270.8 203.0a0.95 0.95 0 1 0 1.9 0a0.95 0.95 0 1 0 -1.9 0M269.5 215.7a0.95 0.95 0 1 0 1.9 0a0.95 0.95 0 1 0 -1.9 0M269.7 218.5a0.95 0.95 0 1 0 1.9 0a0.95 0.95 0 1 0 -1.9 0M271.3 219.2a0.95 0.95 0 1 0 1.9 0a0.95 0.95 0 1 0 -1.9 0M265.5 172.8a0.95 0.95 0 1 0 1.9 0a0.95 0.95 0 1 0 -1.9 0M266.4 192.0a0.95 0.95 0 1 0 1.9 0a0.95 0.95 0 1 0 -1.9 0M270.9 176.7a0.95 0.95 0 1 0 1.9 0a0.95 0.95 0 1 0 -1.9 0M269.9 190.9a0.95 0.95 0 1 0 1.9 0a0.95 0.95 0 1 0 -1.9 0M271.2 194.2a0.95 0.95 0 1 0 1.9 0a0.95 0.95 0 1 0 -1.9 0M266.3 179.7a0.95 0.95 0 1 0 1.9 0a0.95 0.95 0 1 0 -1.9 0M271.8 165.4a0.95 0.95 0 1 0 1.9 0a0.95 0.95 0 1 0 -1.9 0M265.6 194.9a0.95 0.95 0 1 0 1.9 0a0.95 0.95 0 1 0 -1.9 0M268.9 192.7a0.95 0.95 0 1 0 1.9 0a0.95 0.95 0 1 0 -1.9 0M272.1 169.8a0.95 0.95 0 1 0 1.9 0a0.95 0.95 0 1 0 -1.9 0M263.8 194.1a0.95 0.95 0 1 0 1.9 0a0.95 0.95 0 1 0 -1.9 0M273.2 190.0a0.95 0.95 0 1 0 1.9 0a0.95 0.95 0 1 0 -1.9 0M268.4 194.0a0.95 0.95 0 1 0 1.9 0a0.95 0.95 0 1 0 -1.9 0M268.2 171.8a0.95 0.95 0 1 0 1.9 0a0.95 0.95 0 1 0 -1.9 0M269.1 195.4a0.95 0.95 0 1 0 1.9 0a0.95 0.95 0 1 0 -1.9 0M266.9 180.7a0.95 0.95 0 1 0 1.9 0a0.95 0.95 0 1 0 -1.9 0M270.1 164.7a0.95 0.95 0 1 0 1.9 0a0.95 0.95 0 1 0 -1.9 0M266.0 188.3a0.95 0.95 0 1 0 1.9 0a0.95 0.95 0 1 0 -1.9 0M271.4 186.2a0.95 0.95 0 1 0 1.9 0a0.95 0.95 0 1 0 -1.9 0M272.9 185.7a0.95 0.95 0 1 0 1.9 0a0.95 0.95 0 1 0 -1.9 0M265.7 172.0a0.95 0.95 0 1 0 1.9 0a0.95 0.95 0 1 0 -1.9 0M267.8 192.9a0.95 0.95 0 1 0 1.9 0a0.95 0.95 0 1 0 -1.9 0M268.6 191.1a0.95 0.95 0 1 0 1.9 0a0.95 0.95 0 1 0 -1.9 0M268.6 191.8a0.95 0.95 0 1 0 1.9 0a0.95 0.95 0 1 0 -1.9 0M269.4 195.0a0.95 0.95 0 1 0 1.9 0a0.95 0.95 0 1 0 -1.9 0M271.6 188.4a0.95 0.95 0 1 0 1.9 0a0.95 0.95 0 1 0 -1.9 0M267.9 180.4a0.95 0.95 0 1 0 1.9 0a0.95 0.95 0 1 0 -1.9 0M269.4 186.0a0.95 0.95 0 1 0 1.9 0a0.95 0.95 0 1 0 -1.9 0M268.5 171.9a0.95 0.95 0 1 0 1.9 0a0.95 0.95 0 1 0 -1.9 0M269.8 189.2a0.95 0.95 0 1 0 1.9 0a0.95 0.95 0 1 0 -1.9 0M267.7 185.1a0.95 0.95 0 1 0 1.9 0a0.95 0.95 0 1 0 -1.9 0M269.9 174.1a0.95 0.95 0 1 0 1.9 0a0.95 0.95 0 1 0 -1.9 0M265.7 191.3a0.95 0.95 0 1 0 1.9 0a0.95 0.95 0 1 0 -1.9 0M270.0 156.5a0.95 0.95 0 1 0 1.9 0a0.95 0.95 0 1 0 -1.9 0M265.4 104.4a0.95 0.95 0 1 0 1.9 0a0.95 0.95 0 1 0 -1.9 0M264.2 143.9a0.95 0.95 0 1 0 1.9 0a0.95 0.95 0 1 0 -1.9 0M272.1 153.0a0.95 0.95 0 1 0 1.9 0a0.95 0.95 0 1 0 -1.9 0" fill="#7fbc41" fill-opacity="0.55"/>
<path d="M271.7 198.5a0.95 0.95 0 1 0 1.9 0a0.95 0.95 0 1 0 -1.9 0M269.8 203.8a0.95 0.95 0 1 0 1.9 0a0.95 0.95 0 1 0 -1.9 0M263.6 206.1a0.95 0.95 0 1 0 1.9 0a0.95 0.95 0 1 0 -1.9 0M263.6 206.6a0.95 0.95 0 1 0 1.9 0a0.95 0.95 0 1 0 -1.9 0M264.7 212.2a0.95 0.95 0 1 0 1.9 0a0.95 0.95 0 1 0 -1.9 0M263.7 216.9a0.95 0.95 0 1 0 1.9 0a0.95 0.95 0 1 0 -1.9 0M264.0 205.5a0.95 0.95 0 1 0 1.9 0a0.95 0.95 0 1 0 -1.9 0M267.1 211.8a0.95 0.95 0 1 0 1.9 0a0.95 0.95 0 1 0 -1.9 0M270.2 218.0a0.95 0.95 0 1 0 1.9 0a0.95 0.95 0 1 0 -1.9 0M269.6 208.5a0.95 0.95 0 1 0 1.9 0a0.95 0.95 0 1 0 -1.9 0M269.7 204.7a0.95 0.95 0 1 0 1.9 0a0.95 0.95 0 1 0 -1.9 0M271.2 196.4a0.95 0.95 0 1 0 1.9 0a0.95 0.95 0 1 0 -1.9 0M267.5 198.4a0.95 0.95 0 1 0 1.9 0a0.95 0.95 0 1 0 -1.9 0M263.5 196.9a0.95 0.95 0 1 0 1.9 0a0.95 0.95 0 1 0 -1.9 0M266.0 207.9a0.95 0.95 0 1 0 1.9 0a0.95 0.95 0 1 0 -1.9 0M268.1 199.5a0.95 0.95 0 1 0 1.9 0a0.95 0.95 0 1 0 -1.9 0M272.5 199.2a0.95 0.95 0 1 0 1.9 0a0.95 0.95 0 1 0 -1.9 0M263.8 204.5a0.95 0.95 0 1 0 1.9 0a0.95 0.95 0 1 0 -1.9 0M267.0 197.8a0.95 0.95 0 1 0 1.9 0a0.95 0.95 0 1 0 -1.9 0M270.7 212.0a0.95 0.95 0 1 0 1.9 0a0.95 0.95 0 1 0 -1.9 0M270.4 217.7a0.95 0.95 0 1 0 1.9 0a0.95 0.95 0 1 0 -1.9 0M265.9 197.7a0.95 0.95 0 1 0 1.9 0a0.95 0.95 0 1 0 -1.9 0M267.2 173.3a0.95 0.95 0 1 0 1.9 0a0.95 0.95 0 1 0 -1.9 0M269.8 162.0a0.95 0.95 0 1 0 1.9 0a0.95 0.95 0 1 0 -1.9 0M272.3 192.6a0.95 0.95 0 1 0 1.9 0a0.95 0.95 0 1 0 -1.9 0M270.3 194.7a0.95 0.95 0 1 0 1.9 0a0.95 0.95 0 1 0 -1.9 0M265.5 177.0a0.95 0.95 0 1 0 1.9 0a0.95 0.95 0 1 0 -1.9 0M271.9 178.0a0.95 0.95 0 1 0 1.9 0a0.95 0.95 0 1 0 -1.9 0M265.4 179.0a0.95 0.95 0 1 0 1.9 0a0.95 0.95 0 1 0 -1.9 0M272.9 195.1a0.95 0.95 0 1 0 1.9 0a0.95 0.95 0 1 0 -1.9 0M273.2 191.1a0.95 0.95 0 1 0 1.9 0a0.95 0.95 0 1 0 -1.9 0M272.9 178.5a0.95 0.95 0 1 0 1.9 0a0.95 0.95 0 1 0 -1.9 0M272.1 189.6a0.95 0.95 0 1 0 1.9 0a0.95 0.95 0 1 0 -1.9 0M271.4 190.5a0.95 0.95 0 1 0 1.9 0a0.95 0.95 0 1 0 -1.9 0M267.7 178.0a0.95 0.95 0 1 0 1.9 0a0.95 0.95 0 1 0 -1.9 0M265.4 167.4a0.95 0.95 0 1 0 1.9 0a0.95 0.95 0 1 0 -1.9 0M272.1 176.6a0.95 0.95 0 1 0 1.9 0a0.95 0.95 0 1 0 -1.9 0M265.5 160.9a0.95 0.95 0 1 0 1.9 0a0.95 0.95 0 1 0 -1.9 0M269.5 179.6a0.95 0.95 0 1 0 1.9 0a0.95 0.95 0 1 0 -1.9 0M268.7 165.2a0.95 0.95 0 1 0 1.9 0a0.95 0.95 0 1 0 -1.9 0M273.2 194.2a0.95 0.95 0 1 0 1.9 0a0.95 0.95 0 1 0 -1.9 0M273.1 194.2a0.95 0.95 0 1 0 1.9 0a0.95 0.95 0 1 0 -1.9 0M271.2 163.7a0.95 0.95 0 1 0 1.9 0a0.95 0.95 0 1 0 -1.9 0M272.9 188.0a0.95 0.95 0 1 0 1.9 0a0.95 0.95 0 1 0 -1.9 0M269.8 191.5a0.95 0.95 0 1 0 1.9 0a0.95 0.95 0 1 0 -1.9 0M263.8 191.3a0.95 0.95 0 1 0 1.9 0a0.95 0.95 0 1 0 -1.9 0M272.1 173.3a0.95 0.95 0 1 0 1.9 0a0.95 0.95 0 1 0 -1.9 0M270.7 177.5a0.95 0.95 0 1 0 1.9 0a0.95 0.95 0 1 0 -1.9 0M264.7 164.6a0.95 0.95 0 1 0 1.9 0a0.95 0.95 0 1 0 -1.9 0M270.4 192.2a0.95 0.95 0 1 0 1.9 0a0.95 0.95 0 1 0 -1.9 0M270.4 171.0a0.95 0.95 0 1 0 1.9 0a0.95 0.95 0 1 0 -1.9 0M268.7 180.8a0.95 0.95 0 1 0 1.9 0a0.95 0.95 0 1 0 -1.9 0M270.5 193.3a0.95 0.95 0 1 0 1.9 0a0.95 0.95 0 1 0 -1.9 0M270.0 180.0a0.95 0.95 0 1 0 1.9 0a0.95 0.95 0 1 0 -1.9 0M266.7 194.4a0.95 0.95 0 1 0 1.9 0a0.95 0.95 0 1 0 -1.9 0M269.6 32.7a0.95 0.95 0 1 0 1.9 0a0.95 0.95 0 1 0 -1.9 0M271.9 103.3a0.95 0.95 0 1 0 1.9 0a0.95 0.95 0 1 0 -1.9 0M267.8 141.8a0.95 0.95 0 1 0 1.9 0a0.95 0.95 0 1 0 -1.9 0M265.1 155.0a0.95 0.95 0 1 0 1.9 0a0.95 0.95 0 1 0 -1.9 0" fill="#7fbc41" fill-opacity="0.55"/>
<path d="M269.5 205.4a0.95 0.95 0 1 0 1.9 0a0.95 0.95 0 1 0 -1.9 0M265.3 221.0a0.95 0.95 0 1 0 1.9 0a0.95 0.95 0 1 0 -1.9 0M267.5 200.1a0.95 0.95 0 1 0 1.9 0a0.95 0.95 0 1 0 -1.9 0M264.4 205.3a0.95 0.95 0 1 0 1.9 0a0.95 0.95 0 1 0 -1.9 0M264.0 199.8a0.95 0.95 0 1 0 1.9 0a0.95 0.95 0 1 0 -1.9 0M271.0 210.5a0.95 0.95 0 1 0 1.9 0a0.95 0.95 0 1 0 -1.9 0M272.3 209.2a0.95 0.95 0 1 0 1.9 0a0.95 0.95 0 1 0 -1.9 0M270.9 214.4a0.95 0.95 0 1 0 1.9 0a0.95 0.95 0 1 0 -1.9 0M265.9 205.3a0.95 0.95 0 1 0 1.9 0a0.95 0.95 0 1 0 -1.9 0M269.3 195.6a0.95 0.95 0 1 0 1.9 0a0.95 0.95 0 1 0 -1.9 0M266.9 195.6a0.95 0.95 0 1 0 1.9 0a0.95 0.95 0 1 0 -1.9 0M264.7 209.4a0.95 0.95 0 1 0 1.9 0a0.95 0.95 0 1 0 -1.9 0M265.8 211.6a0.95 0.95 0 1 0 1.9 0a0.95 0.95 0 1 0 -1.9 0M269.2 201.5a0.95 0.95 0 1 0 1.9 0a0.95 0.95 0 1 0 -1.9 0M272.9 206.7a0.95 0.95 0 1 0 1.9 0a0.95 0.95 0 1 0 -1.9 0M266.4 215.1a0.95 0.95 0 1 0 1.9 0a0.95 0.95 0 1 0 -1.9 0M269.7 216.5a0.95 0.95 0 1 0 1.9 0a0.95 0.95 0 1 0 -1.9 0M267.7 211.1a0.95 0.95 0 1 0 1.9 0a0.95 0.95 0 1 0 -1.9 0M264.7 196.3a0.95 0.95 0 1 0 1.9 0a0.95 0.95 0 1 0 -1.9 0M269.4 202.3a0.95 0.95 0 1 0 1.9 0a0.95 0.95 0 1 0 -1.9 0M273.3 215.4a0.95 0.95 0 1 0 1.9 0a0.95 0.95 0 1 0 -1.9 0M268.2 172.0a0.95 0.95 0 1 0 1.9 0a0.95 0.95 0 1 0 -1.9 0M267.8 192.0a0.95 0.95 0 1 0 1.9 0a0.95 0.95 0 1 0 -1.9 0M271.3 173.4a0.95 0.95 0 1 0 1.9 0a0.95 0.95 0 1 0 -1.9 0M264.3 175.5a0.95 0.95 0 1 0 1.9 0a0.95 0.95 0 1 0 -1.9 0M271.7 192.9a0.95 0.95 0 1 0 1.9 0a0.95 0.95 0 1 0 -1.9 0M272.3 187.1a0.95 0.95 0 1 0 1.9 0a0.95 0.95 0 1 0 -1.9 0M273.3 160.4a0.95 0.95 0 1 0 1.9 0a0.95 0.95 0 1 0 -1.9 0M271.1 163.2a0.95 0.95 0 1 0 1.9 0a0.95 0.95 0 1 0 -1.9 0M267.9 180.3a0.95 0.95 0 1 0 1.9 0a0.95 0.95 0 1 0 -1.9 0M270.6 182.0a0.95 0.95 0 1 0 1.9 0a0.95 0.95 0 1 0 -1.9 0M263.8 164.3a0.95 0.95 0 1 0 1.9 0a0.95 0.95 0 1 0 -1.9 0M271.8 158.6a0.95 0.95 0 1 0 1.9 0a0.95 0.95 0 1 0 -1.9 0M266.9 195.4a0.95 0.95 0 1 0 1.9 0a0.95 0.95 0 1 0 -1.9 0M264.1 181.3a0.95 0.95 0 1 0 1.9 0a0.95 0.95 0 1 0 -1.9 0M264.3 190.2a0.95 0.95 0 1 0 1.9 0a0.95 0.95 0 1 0 -1.9 0M266.1 172.3a0.95 0.95 0 1 0 1.9 0a0.95 0.95 0 1 0 -1.9 0M269.1 194.9a0.95 0.95 0 1 0 1.9 0a0.95 0.95 0 1 0 -1.9 0M270.2 195.1a0.95 0.95 0 1 0 1.9 0a0.95 0.95 0 1 0 -1.9 0M267.8 172.6a0.95 0.95 0 1 0 1.9 0a0.95 0.95 0 1 0 -1.9 0M270.1 184.9a0.95 0.95 0 1 0 1.9 0a0.95 0.95 0 1 0 -1.9 0M264.2 164.6a0.95 0.95 0 1 0 1.9 0a0.95 0.95 0 1 0 -1.9 0M273.0 191.1a0.95 0.95 0 1 0 1.9 0a0.95 0.95 0 1 0 -1.9 0M266.4 178.9a0.95 0.95 0 1 0 1.9 0a0.95 0.95 0 1 0 -1.9 0M272.5 185.4a0.95 0.95 0 1 0 1.9 0a0.95 0.95 0 1 0 -1.9 0M271.1 188.8a0.95 0.95 0 1 0 1.9 0a0.95 0.95 0 1 0 -1.9 0M270.1 176.1a0.95 0.95 0 1 0 1.9 0a0.95 0.95 0 1 0 -1.9 0M264.4 186.0a0.95 0.95 0 1 0 1.9 0a0.95 0.95 0 1 0 -1.9 0M269.1 177.2a0.95 0.95 0 1 0 1.9 0a0.95 0.95 0 1 0 -1.9 0M270.9 186.7a0.95 0.95 0 1 0 1.9 0a0.95 0.95 0 1 0 -1.9 0M267.3 189.8a0.95 0.95 0 1 0 1.9 0a0.95 0.95 0 1 0 -1.9 0M271.4 183.6a0.95 0.95 0 1 0 1.9 0a0.95 0.95 0 1 0 -1.9 0M265.0 168.0a0.95 0.95 0 1 0 1.9 0a0.95 0.95 0 1 0 -1.9 0M265.7 195.3a0.95 0.95 0 1 0 1.9 0a0.95 0.95 0 1 0 -1.9 0M268.9 185.9a0.95 0.95 0 1 0 1.9 0a0.95 0.95 0 1 0 -1.9 0M265.4 78.4a0.95 0.95 0 1 0 1.9 0a0.95 0.95 0 1 0 -1.9 0M268.4 116.9a0.95 0.95 0 1 0 1.9 0a0.95 0.95 0 1 0 -1.9 0M271.2 147.7a0.95 0.95 0 1 0 1.9 0a0.95 0.95 0 1 0 -1.9 0" fill="#7fbc41" fill-opacity="0.55"/>
<path d="M263.9 214.5a0.95 0.95 0 1 0 1.9 0a0.95 0.95 0 1 0 -1.9 0M271.9 209.1a0.95 0.95 0 1 0 1.9 0a0.95 0.95 0 1 0 -1.9 0M270.2 218.7a0.95 0.95 0 1 0 1.9 0a0.95 0.95 0 1 0 -1.9 0M269.8 215.3a0.95 0.95 0 1 0 1.9 0a0.95 0.95 0 1 0 -1.9 0M270.1 201.6a0.95 0.95 0 1 0 1.9 0a0.95 0.95 0 1 0 -1.9 0M269.4 216.0a0.95 0.95 0 1 0 1.9 0a0.95 0.95 0 1 0 -1.9 0M267.0 221.2a0.95 0.95 0 1 0 1.9 0a0.95 0.95 0 1 0 -1.9 0M269.5 195.4a0.95 0.95 0 1 0 1.9 0a0.95 0.95 0 1 0 -1.9 0M266.5 199.2a0.95 0.95 0 1 0 1.9 0a0.95 0.95 0 1 0 -1.9 0M265.4 197.3a0.95 0.95 0 1 0 1.9 0a0.95 0.95 0 1 0 -1.9 0M264.4 200.9a0.95 0.95 0 1 0 1.9 0a0.95 0.95 0 1 0 -1.9 0M269.0 207.3a0.95 0.95 0 1 0 1.9 0a0.95 0.95 0 1 0 -1.9 0M267.3 217.6a0.95 0.95 0 1 0 1.9 0a0.95 0.95 0 1 0 -1.9 0M267.6 215.3a0.95 0.95 0 1 0 1.9 0a0.95 0.95 0 1 0 -1.9 0M271.7 216.4a0.95 0.95 0 1 0 1.9 0a0.95 0.95 0 1 0 -1.9 0M265.7 214.0a0.95 0.95 0 1 0 1.9 0a0.95 0.95 0 1 0 -1.9 0M269.2 206.7a0.95 0.95 0 1 0 1.9 0a0.95 0.95 0 1 0 -1.9 0M265.4 220.4a0.95 0.95 0 1 0 1.9 0a0.95 0.95 0 1 0 -1.9 0M271.4 221.1a0.95 0.95 0 1 0 1.9 0a0.95 0.95 0 1 0 -1.9 0M273.1 212.8a0.95 0.95 0 1 0 1.9 0a0.95 0.95 0 1 0 -1.9 0M263.8 213.4a0.95 0.95 0 1 0 1.9 0a0.95 0.95 0 1 0 -1.9 0M272.0 193.5a0.95 0.95 0 1 0 1.9 0a0.95 0.95 0 1 0 -1.9 0M268.3 194.1a0.95 0.95 0 1 0 1.9 0a0.95 0.95 0 1 0 -1.9 0M269.5 188.3a0.95 0.95 0 1 0 1.9 0a0.95 0.95 0 1 0 -1.9 0M269.3 189.1a0.95 0.95 0 1 0 1.9 0a0.95 0.95 0 1 0 -1.9 0M271.8 165.9a0.95 0.95 0 1 0 1.9 0a0.95 0.95 0 1 0 -1.9 0M263.8 192.2a0.95 0.95 0 1 0 1.9 0a0.95 0.95 0 1 0 -1.9 0M267.7 195.4a0.95 0.95 0 1 0 1.9 0a0.95 0.95 0 1 0 -1.9 0M266.5 181.2a0.95 0.95 0 1 0 1.9 0a0.95 0.95 0 1 0 -1.9 0M273.4 177.4a0.95 0.95 0 1 0 1.9 0a0.95 0.95 0 1 0 -1.9 0M267.8 169.0a0.95 0.95 0 1 0 1.9 0a0.95 0.95 0 1 0 -1.9 0M267.6 186.8a0.95 0.95 0 1 0 1.9 0a0.95 0.95 0 1 0 -1.9 0M272.3 188.2a0.95 0.95 0 1 0 1.9 0a0.95 0.95 0 1 0 -1.9 0M267.2 171.3a0.95 0.95 0 1 0 1.9 0a0.95 0.95 0 1 0 -1.9 0M266.7 182.2a0.95 0.95 0 1 0 1.9 0a0.95 0.95 0 1 0 -1.9 0M269.8 188.5a0.95 0.95 0 1 0 1.9 0a0.95 0.95 0 1 0 -1.9 0M273.2 193.7a0.95 0.95 0 1 0 1.9 0a0.95 0.95 0 1 0 -1.9 0M265.3 191.9a0.95 0.95 0 1 0 1.9 0a0.95 0.95 0 1 0 -1.9 0M271.9 180.9a0.95 0.95 0 1 0 1.9 0a0.95 0.95 0 1 0 -1.9 0M267.8 158.4a0.95 0.95 0 1 0 1.9 0a0.95 0.95 0 1 0 -1.9 0M269.5 176.8a0.95 0.95 0 1 0 1.9 0a0.95 0.95 0 1 0 -1.9 0M271.9 192.1a0.95 0.95 0 1 0 1.9 0a0.95 0.95 0 1 0 -1.9 0M263.9 177.8a0.95 0.95 0 1 0 1.9 0a0.95 0.95 0 1 0 -1.9 0M263.7 182.6a0.95 0.95 0 1 0 1.9 0a0.95 0.95 0 1 0 -1.9 0M266.1 165.3a0.95 0.95 0 1 0 1.9 0a0.95 0.95 0 1 0 -1.9 0M269.1 177.3a0.95 0.95 0 1 0 1.9 0a0.95 0.95 0 1 0 -1.9 0M269.8 185.7a0.95 0.95 0 1 0 1.9 0a0.95 0.95 0 1 0 -1.9 0M270.7 187.0a0.95 0.95 0 1 0 1.9 0a0.95 0.95 0 1 0 -1.9 0M264.4 194.4a0.95 0.95 0 1 0 1.9 0a0.95 0.95 0 1 0 -1.9 0M268.2 161.9a0.95 0.95 0 1 0 1.9 0a0.95 0.95 0 1 0 -1.9 0M272.5 194.4a0.95 0.95 0 1 0 1.9 0a0.95 0.95 0 1 0 -1.9 0M266.1 163.1a0.95 0.95 0 1 0 1.9 0a0.95 0.95 0 1 0 -1.9 0M267.7 191.7a0.95 0.95 0 1 0 1.9 0a0.95 0.95 0 1 0 -1.9 0M272.4 177.7a0.95 0.95 0 1 0 1.9 0a0.95 0.95 0 1 0 -1.9 0M271.6 191.1a0.95 0.95 0 1 0 1.9 0a0.95 0.95 0 1 0 -1.9 0M268.4 91.9a0.95 0.95 0 1 0 1.9 0a0.95 0.95 0 1 0 -1.9 0M264.6 133.5a0.95 0.95 0 1 0 1.9 0a0.95 0.95 0 1 0 -1.9 0M264.2 150.8a0.95 0.95 0 1 0 1.9 0a0.95 0.95 0 1 0 -1.9 0" fill="#7fbc41" fill-opacity="0.55"/>
<line x1="226.6" y1="110.6" x2="226.6" y2="177" stroke="#000" stroke-width="2.1" stroke-linecap="butt"/>
<line x1="222.5" y1="110.6" x2="230.7" y2="110.6" stroke="#000" stroke-width="2" stroke-linecap="butt"/>
<rect x="220.4" y="177" width="12.4" height="44.7" fill="none" stroke="#000" stroke-width="1.9"/>
<line x1="220.4" y1="209.6" x2="232.8" y2="209.6" stroke="#000" stroke-width="1.9" stroke-linecap="butt"/>
<line x1="269.4" y1="157.6" x2="269.4" y2="195.4" stroke="#000" stroke-width="2.1" stroke-linecap="butt"/>
<line x1="265.3" y1="157.6" x2="273.5" y2="157.6" stroke="#000" stroke-width="2" stroke-linecap="butt"/>
<rect x="263.2" y="195.4" width="12.4" height="26.3" fill="none" stroke="#000" stroke-width="1.9"/>
<rect x="205.6" y="18.9" width="85.1" height="211.7" fill="none" stroke="#1a1a1a" stroke-width="1.6"/>
<line x1="200.9" y1="221.5" x2="205.6" y2="221.5" stroke="#1a1a1a" stroke-width="0.9" stroke-linecap="butt"/>
<text x="198.9" y="224.1" font-size="12.51" text-anchor="end" textLength="6.92" lengthAdjust="spacingAndGlyphs" fill="#000">0</text>
<line x1="200.9" y1="162.9" x2="205.6" y2="162.9" stroke="#1a1a1a" stroke-width="0.9" stroke-linecap="butt"/>
<text x="198.69" y="165.8" font-size="12.51" text-anchor="end" textLength="6.61" lengthAdjust="spacingAndGlyphs" fill="#000">1</text>
<line x1="200.9" y1="128.62" x2="205.6" y2="128.62" stroke="#1a1a1a" stroke-width="0.9" stroke-linecap="butt"/>
<text x="198.62" y="131.3" font-size="12.51" text-anchor="end" textLength="6.67" lengthAdjust="spacingAndGlyphs" fill="#000">2</text>
<line x1="200.9" y1="104.3" x2="205.6" y2="104.3" stroke="#1a1a1a" stroke-width="0.9" stroke-linecap="butt"/>
<text x="198.78" y="106.6" font-size="12.51" text-anchor="end" textLength="6.64" lengthAdjust="spacingAndGlyphs" fill="#000">3</text>
<line x1="200.9" y1="85.44" x2="205.6" y2="85.44" stroke="#1a1a1a" stroke-width="0.9" stroke-linecap="butt"/>
<text x="198.9" y="87.9" font-size="12.51" text-anchor="end" textLength="6.92" lengthAdjust="spacingAndGlyphs" fill="#000">4</text>
<line x1="200.9" y1="70.02" x2="205.6" y2="70.02" stroke="#1a1a1a" stroke-width="0.9" stroke-linecap="butt"/>
<text x="198.66" y="72.4" font-size="12.51" text-anchor="end" textLength="6.53" lengthAdjust="spacingAndGlyphs" fill="#000">5</text>
<line x1="200.9" y1="56.99" x2="205.6" y2="56.99" stroke="#1a1a1a" stroke-width="0.9" stroke-linecap="butt"/>
<text x="199.02" y="59.1" font-size="12.51" text-anchor="end" textLength="7.16" lengthAdjust="spacingAndGlyphs" fill="#000">6</text>
<line x1="200.9" y1="45.7" x2="205.6" y2="45.7" stroke="#1a1a1a" stroke-width="0.9" stroke-linecap="butt"/>
<text x="198.8" y="47.5" font-size="12.51" text-anchor="end" textLength="6.77" lengthAdjust="spacingAndGlyphs" fill="#000">7</text>
<line x1="200.9" y1="35.74" x2="205.6" y2="35.74" stroke="#1a1a1a" stroke-width="0.9" stroke-linecap="butt"/>
<text x="198.94" y="37.6" font-size="12.51" text-anchor="end" textLength="6.99" lengthAdjust="spacingAndGlyphs" fill="#000">8</text>
<line x1="200.9" y1="18.78" x2="205.6" y2="18.78" stroke="#1a1a1a" stroke-width="0.9" stroke-linecap="butt"/>
<text x="198.92" y="26" font-size="12.51" text-anchor="end" textLength="14.43" lengthAdjust="spacingAndGlyphs" fill="#000">10</text>
<line x1="226.6" y1="230.6" x2="226.6" y2="234.6" stroke="#1a1a1a" stroke-width="0.9" stroke-linecap="butt"/>
<text x="226.91" y="243" font-size="11.13" text-anchor="middle" textLength="53.76" lengthAdjust="spacingAndGlyphs" fill="#000">Disruptive</text>
<line x1="269.4" y1="230.6" x2="269.4" y2="234.6" stroke="#1a1a1a" stroke-width="0.9" stroke-linecap="butt"/>
<text x="271.68" y="243" font-size="11.55" text-anchor="middle" textLength="25.39" lengthAdjust="spacingAndGlyphs" fill="#000">Core</text>
<text x="173.5" y="129.05" font-size="13.46" text-anchor="middle" textLength="130.92" lengthAdjust="spacingAndGlyphs" fill="#000" transform="rotate(-90 173.5 129.05)">Transposons density</text>
<line x1="227.8" y1="37.5" x2="272.9" y2="37.5" stroke="#000" stroke-width="1.2" stroke-linecap="butt"/>
<text x="224.64" y="32.3" font-size="10.21" text-anchor="start" textLength="47.72" lengthAdjust="spacingAndGlyphs" fill="#000">P= 3.4x10</text>
<text x="272.26" y="28.6" font-size="6.6" text-anchor="start" textLength="5.37" lengthAdjust="spacingAndGlyphs" fill="#000">-8</text>
<text x="175.09" y="8.6" font-size="12.72" text-anchor="start" textLength="8.54" lengthAdjust="spacingAndGlyphs" font-weight="bold" fill="#000">b</text>
<path d="M358.9 61.0a1.0 1.0 0 1 0 2.0 0a1.0 1.0 0 1 0 -2.0 0M361.0 76.7a1.0 1.0 0 1 0 2.0 0a1.0 1.0 0 1 0 -2.0 0M362.1 134.4a1.0 1.0 0 1 0 2.0 0a1.0 1.0 0 1 0 -2.0 0M362.1 153.3a1.0 1.0 0 1 0 2.0 0a1.0 1.0 0 1 0 -2.0 0M360.0 186.9a1.0 1.0 0 1 0 2.0 0a1.0 1.0 0 1 0 -2.0 0M361.8 206.9a1.0 1.0 0 1 0 2.0 0a1.0 1.0 0 1 0 -2.0 0M360.8 220.1a1.0 1.0 0 1 0 2.0 0a1.0 1.0 0 1 0 -2.0 0M360.1 217.9a1.0 1.0 0 1 0 2.0 0a1.0 1.0 0 1 0 -2.0 0M362.2 206.1a1.0 1.0 0 1 0 2.0 0a1.0 1.0 0 1 0 -2.0 0M356.8 212.2a1.0 1.0 0 1 0 2.0 0a1.0 1.0 0 1 0 -2.0 0M360.1 216.5a1.0 1.0 0 1 0 2.0 0a1.0 1.0 0 1 0 -2.0 0M358.5 219.4a1.0 1.0 0 1 0 2.0 0a1.0 1.0 0 1 0 -2.0 0M355.1 212.4a1.0 1.0 0 1 0 2.0 0a1.0 1.0 0 1 0 -2.0 0M355.4 199.4a1.0 1.0 0 1 0 2.0 0a1.0 1.0 0 1 0 -2.0 0M356.8 205.5a1.0 1.0 0 1 0 2.0 0a1.0 1.0 0 1 0 -2.0 0M360.6 216.0a1.0 1.0 0 1 0 2.0 0a1.0 1.0 0 1 0 -2.0 0M358.5 217.4a1.0 1.0 0 1 0 2.0 0a1.0 1.0 0 1 0 -2.0 0M354.8 218.6a1.0 1.0 0 1 0 2.0 0a1.0 1.0 0 1 0 -2.0 0M355.1 214.5a1.0 1.0 0 1 0 2.0 0a1.0 1.0 0 1 0 -2.0 0M361.0 201.9a1.0 1.0 0 1 0 2.0 0a1.0 1.0 0 1 0 -2.0 0M363.7 213.9a1.0 1.0 0 1 0 2.0 0a1.0 1.0 0 1 0 -2.0 0M360.0 202.2a1.0 1.0 0 1 0 2.0 0a1.0 1.0 0 1 0 -2.0 0M362.2 212.3a1.0 1.0 0 1 0 2.0 0a1.0 1.0 0 1 0 -2.0 0M358.0 200.7a1.0 1.0 0 1 0 2.0 0a1.0 1.0 0 1 0 -2.0 0M356.9 193.7a1.0 1.0 0 1 0 2.0 0a1.0 1.0 0 1 0 -2.0 0M354.6 194.2a1.0 1.0 0 1 0 2.0 0a1.0 1.0 0 1 0 -2.0 0M359.2 220.4a1.0 1.0 0 1 0 2.0 0a1.0 1.0 0 1 0 -2.0 0M363.3 214.2a1.0 1.0 0 1 0 2.0 0a1.0 1.0 0 1 0 -2.0 0M361.8 218.7a1.0 1.0 0 1 0 2.0 0a1.0 1.0 0 1 0 -2.0 0M358.9 220.4a1.0 1.0 0 1 0 2.0 0a1.0 1.0 0 1 0 -2.0 0M358.6 219.7a1.0 1.0 0 1 0 2.0 0a1.0 1.0 0 1 0 -2.0 0M362.7 212.9a1.0 1.0 0 1 0 2.0 0a1.0 1.0 0 1 0 -2.0 0M357.5 196.3a1.0 1.0 0 1 0 2.0 0a1.0 1.0 0 1 0 -2.0 0M357.6 217.3a1.0 1.0 0 1 0 2.0 0a1.0 1.0 0 1 0 -2.0 0M363.2 220.5a1.0 1.0 0 1 0 2.0 0a1.0 1.0 0 1 0 -2.0 0M357.6 218.0a1.0 1.0 0 1 0 2.0 0a1.0 1.0 0 1 0 -2.0 0" fill="#c51b7d" fill-opacity="0.6"/>
<path d="M357.9 62.0a1.0 1.0 0 1 0 2.0 0a1.0 1.0 0 1 0 -2.0 0M356.8 106.7a1.0 1.0 0 1 0 2.0 0a1.0 1.0 0 1 0 -2.0 0M354.7 138.6a1.0 1.0 0 1 0 2.0 0a1.0 1.0 0 1 0 -2.0 0M361.0 156.1a1.0 1.0 0 1 0 2.0 0a1.0 1.0 0 1 0 -2.0 0M361.7 190.7a1.0 1.0 0 1 0 2.0 0a1.0 1.0 0 1 0 -2.0 0M355.5 220.3a1.0 1.0 0 1 0 2.0 0a1.0 1.0 0 1 0 -2.0 0M357.7 203.7a1.0 1.0 0 1 0 2.0 0a1.0 1.0 0 1 0 -2.0 0M356.4 215.9a1.0 1.0 0 1 0 2.0 0a1.0 1.0 0 1 0 -2.0 0M360.1 217.6a1.0 1.0 0 1 0 2.0 0a1.0 1.0 0 1 0 -2.0 0M359.8 209.0a1.0 1.0 0 1 0 2.0 0a1.0 1.0 0 1 0 -2.0 0M357.1 220.0a1.0 1.0 0 1 0 2.0 0a1.0 1.0 0 1 0 -2.0 0M354.9 216.5a1.0 1.0 0 1 0 2.0 0a1.0 1.0 0 1 0 -2.0 0M354.5 200.8a1.0 1.0 0 1 0 2.0 0a1.0 1.0 0 1 0 -2.0 0M359.9 204.7a1.0 1.0 0 1 0 2.0 0a1.0 1.0 0 1 0 -2.0 0M354.7 195.9a1.0 1.0 0 1 0 2.0 0a1.0 1.0 0 1 0 -2.0 0M361.5 217.2a1.0 1.0 0 1 0 2.0 0a1.0 1.0 0 1 0 -2.0 0M359.0 203.7a1.0 1.0 0 1 0 2.0 0a1.0 1.0 0 1 0 -2.0 0M360.0 211.5a1.0 1.0 0 1 0 2.0 0a1.0 1.0 0 1 0 -2.0 0M362.3 217.8a1.0 1.0 0 1 0 2.0 0a1.0 1.0 0 1 0 -2.0 0M357.7 219.4a1.0 1.0 0 1 0 2.0 0a1.0 1.0 0 1 0 -2.0 0M359.7 216.7a1.0 1.0 0 1 0 2.0 0a1.0 1.0 0 1 0 -2.0 0M359.3 194.4a1.0 1.0 0 1 0 2.0 0a1.0 1.0 0 1 0 -2.0 0M360.2 197.6a1.0 1.0 0 1 0 2.0 0a1.0 1.0 0 1 0 -2.0 0M361.8 219.5a1.0 1.0 0 1 0 2.0 0a1.0 1.0 0 1 0 -2.0 0M359.9 204.4a1.0 1.0 0 1 0 2.0 0a1.0 1.0 0 1 0 -2.0 0M355.3 201.7a1.0 1.0 0 1 0 2.0 0a1.0 1.0 0 1 0 -2.0 0M362.7 213.1a1.0 1.0 0 1 0 2.0 0a1.0 1.0 0 1 0 -2.0 0M360.6 220.2a1.0 1.0 0 1 0 2.0 0a1.0 1.0 0 1 0 -2.0 0M354.8 215.1a1.0 1.0 0 1 0 2.0 0a1.0 1.0 0 1 0 -2.0 0M357.2 211.2a1.0 1.0 0 1 0 2.0 0a1.0 1.0 0 1 0 -2.0 0M362.5 206.1a1.0 1.0 0 1 0 2.0 0a1.0 1.0 0 1 0 -2.0 0M360.6 220.4a1.0 1.0 0 1 0 2.0 0a1.0 1.0 0 1 0 -2.0 0M362.2 220.4a1.0 1.0 0 1 0 2.0 0a1.0 1.0 0 1 0 -2.0 0M360.9 220.0a1.0 1.0 0 1 0 2.0 0a1.0 1.0 0 1 0 -2.0 0M358.3 207.4a1.0 1.0 0 1 0 2.0 0a1.0 1.0 0 1 0 -2.0 0M363.6 212.4a1.0 1.0 0 1 0 2.0 0a1.0 1.0 0 1 0 -2.0 0" fill="#c51b7d" fill-opacity="0.6"/>
<path d="M355.8 66.2a1.0 1.0 0 1 0 2.0 0a1.0 1.0 0 1 0 -2.0 0M357.9 111.8a1.0 1.0 0 1 0 2.0 0a1.0 1.0 0 1 0 -2.0 0M355.8 146.0a1.0 1.0 0 1 0 2.0 0a1.0 1.0 0 1 0 -2.0 0M356.8 178.5a1.0 1.0 0 1 0 2.0 0a1.0 1.0 0 1 0 -2.0 0M354.8 219.0a1.0 1.0 0 1 0 2.0 0a1.0 1.0 0 1 0 -2.0 0M358.7 218.0a1.0 1.0 0 1 0 2.0 0a1.0 1.0 0 1 0 -2.0 0M357.5 218.3a1.0 1.0 0 1 0 2.0 0a1.0 1.0 0 1 0 -2.0 0M355.4 210.9a1.0 1.0 0 1 0 2.0 0a1.0 1.0 0 1 0 -2.0 0M356.2 206.7a1.0 1.0 0 1 0 2.0 0a1.0 1.0 0 1 0 -2.0 0M356.7 220.3a1.0 1.0 0 1 0 2.0 0a1.0 1.0 0 1 0 -2.0 0M362.4 213.5a1.0 1.0 0 1 0 2.0 0a1.0 1.0 0 1 0 -2.0 0M357.4 217.7a1.0 1.0 0 1 0 2.0 0a1.0 1.0 0 1 0 -2.0 0M359.3 216.9a1.0 1.0 0 1 0 2.0 0a1.0 1.0 0 1 0 -2.0 0M361.9 206.0a1.0 1.0 0 1 0 2.0 0a1.0 1.0 0 1 0 -2.0 0M363.2 218.4a1.0 1.0 0 1 0 2.0 0a1.0 1.0 0 1 0 -2.0 0M356.1 209.1a1.0 1.0 0 1 0 2.0 0a1.0 1.0 0 1 0 -2.0 0M359.7 207.0a1.0 1.0 0 1 0 2.0 0a1.0 1.0 0 1 0 -2.0 0M355.8 218.0a1.0 1.0 0 1 0 2.0 0a1.0 1.0 0 1 0 -2.0 0M356.2 220.5a1.0 1.0 0 1 0 2.0 0a1.0 1.0 0 1 0 -2.0 0M356.7 208.1a1.0 1.0 0 1 0 2.0 0a1.0 1.0 0 1 0 -2.0 0M357.5 215.3a1.0 1.0 0 1 0 2.0 0a1.0 1.0 0 1 0 -2.0 0M354.8 212.8a1.0 1.0 0 1 0 2.0 0a1.0 1.0 0 1 0 -2.0 0M354.7 211.6a1.0 1.0 0 1 0 2.0 0a1.0 1.0 0 1 0 -2.0 0M358.8 212.1a1.0 1.0 0 1 0 2.0 0a1.0 1.0 0 1 0 -2.0 0M356.8 196.2a1.0 1.0 0 1 0 2.0 0a1.0 1.0 0 1 0 -2.0 0M361.2 219.7a1.0 1.0 0 1 0 2.0 0a1.0 1.0 0 1 0 -2.0 0M361.7 197.1a1.0 1.0 0 1 0 2.0 0a1.0 1.0 0 1 0 -2.0 0M361.9 206.6a1.0 1.0 0 1 0 2.0 0a1.0 1.0 0 1 0 -2.0 0M361.6 218.0a1.0 1.0 0 1 0 2.0 0a1.0 1.0 0 1 0 -2.0 0M357.8 195.0a1.0 1.0 0 1 0 2.0 0a1.0 1.0 0 1 0 -2.0 0M361.0 219.6a1.0 1.0 0 1 0 2.0 0a1.0 1.0 0 1 0 -2.0 0M362.2 219.0a1.0 1.0 0 1 0 2.0 0a1.0 1.0 0 1 0 -2.0 0M356.9 219.3a1.0 1.0 0 1 0 2.0 0a1.0 1.0 0 1 0 -2.0 0M358.6 217.3a1.0 1.0 0 1 0 2.0 0a1.0 1.0 0 1 0 -2.0 0M359.5 195.8a1.0 1.0 0 1 0 2.0 0a1.0 1.0 0 1 0 -2.0 0M359.8 220.4a1.0 1.0 0 1 0 2.0 0a1.0 1.0 0 1 0 -2.0 0" fill="#c51b7d" fill-opacity="0.6"/>
<path d="M355.4 68.3a1.0 1.0 0 1 0 2.0 0a1.0 1.0 0 1 0 -2.0 0M357.5 124.6a1.0 1.0 0 1 0 2.0 0a1.0 1.0 0 1 0 -2.0 0M356.8 147.0a1.0 1.0 0 1 0 2.0 0a1.0 1.0 0 1 0 -2.0 0M362.1 178.5a1.0 1.0 0 1 0 2.0 0a1.0 1.0 0 1 0 -2.0 0M363.1 219.1a1.0 1.0 0 1 0 2.0 0a1.0 1.0 0 1 0 -2.0 0M355.6 220.1a1.0 1.0 0 1 0 2.0 0a1.0 1.0 0 1 0 -2.0 0M355.1 197.7a1.0 1.0 0 1 0 2.0 0a1.0 1.0 0 1 0 -2.0 0M354.9 213.3a1.0 1.0 0 1 0 2.0 0a1.0 1.0 0 1 0 -2.0 0M354.7 213.3a1.0 1.0 0 1 0 2.0 0a1.0 1.0 0 1 0 -2.0 0M363.4 214.5a1.0 1.0 0 1 0 2.0 0a1.0 1.0 0 1 0 -2.0 0M361.5 203.3a1.0 1.0 0 1 0 2.0 0a1.0 1.0 0 1 0 -2.0 0M356.8 219.5a1.0 1.0 0 1 0 2.0 0a1.0 1.0 0 1 0 -2.0 0M355.9 207.6a1.0 1.0 0 1 0 2.0 0a1.0 1.0 0 1 0 -2.0 0M361.7 201.3a1.0 1.0 0 1 0 2.0 0a1.0 1.0 0 1 0 -2.0 0M359.9 214.0a1.0 1.0 0 1 0 2.0 0a1.0 1.0 0 1 0 -2.0 0M362.8 215.8a1.0 1.0 0 1 0 2.0 0a1.0 1.0 0 1 0 -2.0 0M356.0 194.5a1.0 1.0 0 1 0 2.0 0a1.0 1.0 0 1 0 -2.0 0M363.7 212.8a1.0 1.0 0 1 0 2.0 0a1.0 1.0 0 1 0 -2.0 0M360.3 199.5a1.0 1.0 0 1 0 2.0 0a1.0 1.0 0 1 0 -2.0 0M362.3 218.1a1.0 1.0 0 1 0 2.0 0a1.0 1.0 0 1 0 -2.0 0M359.0 198.9a1.0 1.0 0 1 0 2.0 0a1.0 1.0 0 1 0 -2.0 0M361.3 210.3a1.0 1.0 0 1 0 2.0 0a1.0 1.0 0 1 0 -2.0 0M358.5 202.9a1.0 1.0 0 1 0 2.0 0a1.0 1.0 0 1 0 -2.0 0M356.0 208.3a1.0 1.0 0 1 0 2.0 0a1.0 1.0 0 1 0 -2.0 0M357.4 218.6a1.0 1.0 0 1 0 2.0 0a1.0 1.0 0 1 0 -2.0 0M357.0 196.9a1.0 1.0 0 1 0 2.0 0a1.0 1.0 0 1 0 -2.0 0M362.6 214.4a1.0 1.0 0 1 0 2.0 0a1.0 1.0 0 1 0 -2.0 0M356.2 219.5a1.0 1.0 0 1 0 2.0 0a1.0 1.0 0 1 0 -2.0 0M359.8 214.2a1.0 1.0 0 1 0 2.0 0a1.0 1.0 0 1 0 -2.0 0M363.6 199.8a1.0 1.0 0 1 0 2.0 0a1.0 1.0 0 1 0 -2.0 0M362.4 220.3a1.0 1.0 0 1 0 2.0 0a1.0 1.0 0 1 0 -2.0 0M360.7 220.3a1.0 1.0 0 1 0 2.0 0a1.0 1.0 0 1 0 -2.0 0M357.2 206.1a1.0 1.0 0 1 0 2.0 0a1.0 1.0 0 1 0 -2.0 0M355.1 216.9a1.0 1.0 0 1 0 2.0 0a1.0 1.0 0 1 0 -2.0 0M359.0 217.3a1.0 1.0 0 1 0 2.0 0a1.0 1.0 0 1 0 -2.0 0M362.1 207.4a1.0 1.0 0 1 0 2.0 0a1.0 1.0 0 1 0 -2.0 0" fill="#c51b7d" fill-opacity="0.6"/>
<path d="M354.7 69.4a1.0 1.0 0 1 0 2.0 0a1.0 1.0 0 1 0 -2.0 0M355.8 126.7a1.0 1.0 0 1 0 2.0 0a1.0 1.0 0 1 0 -2.0 0M355.4 148.7a1.0 1.0 0 1 0 2.0 0a1.0 1.0 0 1 0 -2.0 0M356.8 184.0a1.0 1.0 0 1 0 2.0 0a1.0 1.0 0 1 0 -2.0 0M360.5 192.2a1.0 1.0 0 1 0 2.0 0a1.0 1.0 0 1 0 -2.0 0M363.0 218.7a1.0 1.0 0 1 0 2.0 0a1.0 1.0 0 1 0 -2.0 0M362.6 220.5a1.0 1.0 0 1 0 2.0 0a1.0 1.0 0 1 0 -2.0 0M357.5 217.1a1.0 1.0 0 1 0 2.0 0a1.0 1.0 0 1 0 -2.0 0M358.8 218.9a1.0 1.0 0 1 0 2.0 0a1.0 1.0 0 1 0 -2.0 0M356.8 213.0a1.0 1.0 0 1 0 2.0 0a1.0 1.0 0 1 0 -2.0 0M360.9 210.8a1.0 1.0 0 1 0 2.0 0a1.0 1.0 0 1 0 -2.0 0M356.1 215.7a1.0 1.0 0 1 0 2.0 0a1.0 1.0 0 1 0 -2.0 0M362.1 219.7a1.0 1.0 0 1 0 2.0 0a1.0 1.0 0 1 0 -2.0 0M362.4 197.8a1.0 1.0 0 1 0 2.0 0a1.0 1.0 0 1 0 -2.0 0M363.2 219.5a1.0 1.0 0 1 0 2.0 0a1.0 1.0 0 1 0 -2.0 0M362.4 219.8a1.0 1.0 0 1 0 2.0 0a1.0 1.0 0 1 0 -2.0 0M363.2 193.9a1.0 1.0 0 1 0 2.0 0a1.0 1.0 0 1 0 -2.0 0M363.0 204.0a1.0 1.0 0 1 0 2.0 0a1.0 1.0 0 1 0 -2.0 0M356.1 200.8a1.0 1.0 0 1 0 2.0 0a1.0 1.0 0 1 0 -2.0 0M363.2 201.3a1.0 1.0 0 1 0 2.0 0a1.0 1.0 0 1 0 -2.0 0M355.1 193.5a1.0 1.0 0 1 0 2.0 0a1.0 1.0 0 1 0 -2.0 0M359.0 201.2a1.0 1.0 0 1 0 2.0 0a1.0 1.0 0 1 0 -2.0 0M361.5 196.6a1.0 1.0 0 1 0 2.0 0a1.0 1.0 0 1 0 -2.0 0M355.8 199.5a1.0 1.0 0 1 0 2.0 0a1.0 1.0 0 1 0 -2.0 0M357.5 212.0a1.0 1.0 0 1 0 2.0 0a1.0 1.0 0 1 0 -2.0 0M358.6 216.8a1.0 1.0 0 1 0 2.0 0a1.0 1.0 0 1 0 -2.0 0M357.3 220.5a1.0 1.0 0 1 0 2.0 0a1.0 1.0 0 1 0 -2.0 0M363.5 209.9a1.0 1.0 0 1 0 2.0 0a1.0 1.0 0 1 0 -2.0 0M358.2 210.8a1.0 1.0 0 1 0 2.0 0a1.0 1.0 0 1 0 -2.0 0M357.9 215.4a1.0 1.0 0 1 0 2.0 0a1.0 1.0 0 1 0 -2.0 0M361.2 208.0a1.0 1.0 0 1 0 2.0 0a1.0 1.0 0 1 0 -2.0 0M358.7 196.0a1.0 1.0 0 1 0 2.0 0a1.0 1.0 0 1 0 -2.0 0M363.5 209.1a1.0 1.0 0 1 0 2.0 0a1.0 1.0 0 1 0 -2.0 0M362.8 212.2a1.0 1.0 0 1 0 2.0 0a1.0 1.0 0 1 0 -2.0 0M358.7 208.0a1.0 1.0 0 1 0 2.0 0a1.0 1.0 0 1 0 -2.0 0M356.0 212.2a1.0 1.0 0 1 0 2.0 0a1.0 1.0 0 1 0 -2.0 0" fill="#c51b7d" fill-opacity="0.6"/>
<path d="M357.5 74.6a1.0 1.0 0 1 0 2.0 0a1.0 1.0 0 1 0 -2.0 0M358.9 133.8a1.0 1.0 0 1 0 2.0 0a1.0 1.0 0 1 0 -2.0 0M356.8 153.3a1.0 1.0 0 1 0 2.0 0a1.0 1.0 0 1 0 -2.0 0M358.9 184.8a1.0 1.0 0 1 0 2.0 0a1.0 1.0 0 1 0 -2.0 0M354.9 210.0a1.0 1.0 0 1 0 2.0 0a1.0 1.0 0 1 0 -2.0 0M360.4 220.0a1.0 1.0 0 1 0 2.0 0a1.0 1.0 0 1 0 -2.0 0M355.7 217.6a1.0 1.0 0 1 0 2.0 0a1.0 1.0 0 1 0 -2.0 0M355.6 217.2a1.0 1.0 0 1 0 2.0 0a1.0 1.0 0 1 0 -2.0 0M362.3 204.3a1.0 1.0 0 1 0 2.0 0a1.0 1.0 0 1 0 -2.0 0M356.4 215.7a1.0 1.0 0 1 0 2.0 0a1.0 1.0 0 1 0 -2.0 0M363.3 217.8a1.0 1.0 0 1 0 2.0 0a1.0 1.0 0 1 0 -2.0 0M358.2 216.9a1.0 1.0 0 1 0 2.0 0a1.0 1.0 0 1 0 -2.0 0M355.5 218.9a1.0 1.0 0 1 0 2.0 0a1.0 1.0 0 1 0 -2.0 0M358.8 195.4a1.0 1.0 0 1 0 2.0 0a1.0 1.0 0 1 0 -2.0 0M362.2 220.2a1.0 1.0 0 1 0 2.0 0a1.0 1.0 0 1 0 -2.0 0M358.9 213.5a1.0 1.0 0 1 0 2.0 0a1.0 1.0 0 1 0 -2.0 0M357.7 211.1a1.0 1.0 0 1 0 2.0 0a1.0 1.0 0 1 0 -2.0 0M361.4 205.6a1.0 1.0 0 1 0 2.0 0a1.0 1.0 0 1 0 -2.0 0M361.1 210.0a1.0 1.0 0 1 0 2.0 0a1.0 1.0 0 1 0 -2.0 0M356.1 215.9a1.0 1.0 0 1 0 2.0 0a1.0 1.0 0 1 0 -2.0 0M359.2 218.5a1.0 1.0 0 1 0 2.0 0a1.0 1.0 0 1 0 -2.0 0M356.1 208.0a1.0 1.0 0 1 0 2.0 0a1.0 1.0 0 1 0 -2.0 0M360.5 217.6a1.0 1.0 0 1 0 2.0 0a1.0 1.0 0 1 0 -2.0 0M362.8 217.7a1.0 1.0 0 1 0 2.0 0a1.0 1.0 0 1 0 -2.0 0M354.6 214.7a1.0 1.0 0 1 0 2.0 0a1.0 1.0 0 1 0 -2.0 0M360.2 214.1a1.0 1.0 0 1 0 2.0 0a1.0 1.0 0 1 0 -2.0 0M363.6 200.2a1.0 1.0 0 1 0 2.0 0a1.0 1.0 0 1 0 -2.0 0M356.3 215.5a1.0 1.0 0 1 0 2.0 0a1.0 1.0 0 1 0 -2.0 0M357.0 213.2a1.0 1.0 0 1 0 2.0 0a1.0 1.0 0 1 0 -2.0 0M362.5 203.5a1.0 1.0 0 1 0 2.0 0a1.0 1.0 0 1 0 -2.0 0M360.2 216.9a1.0 1.0 0 1 0 2.0 0a1.0 1.0 0 1 0 -2.0 0M357.1 220.1a1.0 1.0 0 1 0 2.0 0a1.0 1.0 0 1 0 -2.0 0M360.7 220.4a1.0 1.0 0 1 0 2.0 0a1.0 1.0 0 1 0 -2.0 0M355.0 204.5a1.0 1.0 0 1 0 2.0 0a1.0 1.0 0 1 0 -2.0 0M362.3 214.8a1.0 1.0 0 1 0 2.0 0a1.0 1.0 0 1 0 -2.0 0M356.2 218.5a1.0 1.0 0 1 0 2.0 0a1.0 1.0 0 1 0 -2.0 0" fill="#c51b7d" fill-opacity="0.6"/>
<path d="M399.9 154.8a1.0 1.0 0 1 0 2.0 0a1.0 1.0 0 1 0 -2.0 0M400.9 188.0a1.0 1.0 0 1 0 2.0 0a1.0 1.0 0 1 0 -2.0 0M397.8 206.8a1.0 1.0 0 1 0 2.0 0a1.0 1.0 0 1 0 -2.0 0M399.9 217.3a1.0 1.0 0 1 0 2.0 0a1.0 1.0 0 1 0 -2.0 0" fill="#7fbc41" fill-opacity="0.65"/>
<path d="M398.2 171.2a1.0 1.0 0 1 0 2.0 0a1.0 1.0 0 1 0 -2.0 0M402.0 189.4a1.0 1.0 0 1 0 2.0 0a1.0 1.0 0 1 0 -2.0 0M405.7 205.8a1.0 1.0 0 1 0 2.0 0a1.0 1.0 0 1 0 -2.0 0M402.0 218.4a1.0 1.0 0 1 0 2.0 0a1.0 1.0 0 1 0 -2.0 0" fill="#7fbc41" fill-opacity="0.65"/>
<path d="M404.5 177.7a1.0 1.0 0 1 0 2.0 0a1.0 1.0 0 1 0 -2.0 0M398.4 190.0a1.0 1.0 0 1 0 2.0 0a1.0 1.0 0 1 0 -2.0 0M402.0 210.0a1.0 1.0 0 1 0 2.0 0a1.0 1.0 0 1 0 -2.0 0M400.5 219.5a1.0 1.0 0 1 0 2.0 0a1.0 1.0 0 1 0 -2.0 0" fill="#7fbc41" fill-opacity="0.65"/>
<path d="M398.8 181.2a1.0 1.0 0 1 0 2.0 0a1.0 1.0 0 1 0 -2.0 0M405.1 192.2a1.0 1.0 0 1 0 2.0 0a1.0 1.0 0 1 0 -2.0 0M398.8 214.2a1.0 1.0 0 1 0 2.0 0a1.0 1.0 0 1 0 -2.0 0M403.5 220.0a1.0 1.0 0 1 0 2.0 0a1.0 1.0 0 1 0 -2.0 0" fill="#7fbc41" fill-opacity="0.65"/>
<path d="M405.5 182.7a1.0 1.0 0 1 0 2.0 0a1.0 1.0 0 1 0 -2.0 0M400.9 198.4a1.0 1.0 0 1 0 2.0 0a1.0 1.0 0 1 0 -2.0 0M403.0 213.1a1.0 1.0 0 1 0 2.0 0a1.0 1.0 0 1 0 -2.0 0M398.0 220.3a1.0 1.0 0 1 0 2.0 0a1.0 1.0 0 1 0 -2.0 0" fill="#7fbc41" fill-opacity="0.65"/>
<path d="M399.9 186.9a1.0 1.0 0 1 0 2.0 0a1.0 1.0 0 1 0 -2.0 0M399.9 200.5a1.0 1.0 0 1 0 2.0 0a1.0 1.0 0 1 0 -2.0 0M406.2 215.2a1.0 1.0 0 1 0 2.0 0a1.0 1.0 0 1 0 -2.0 0" fill="#7fbc41" fill-opacity="0.65"/>
<line x1="353.8" y1="222" x2="366.2" y2="222" stroke="#000" stroke-width="3" stroke-linecap="round"/>
<line x1="396.2" y1="222" x2="409.2" y2="222" stroke="#000" stroke-width="3" stroke-linecap="round"/>
<rect x="338.9" y="18.2" width="85.2" height="212" fill="none" stroke="#1a1a1a" stroke-width="1.6"/>
<line x1="334" y1="222.2" x2="338.9" y2="222.2" stroke="#1a1a1a" stroke-width="1" stroke-linecap="butt"/>
<text x="332.63" y="224.6" font-size="11.55" text-anchor="end" textLength="6.39" lengthAdjust="spacingAndGlyphs" fill="#000">0</text>
<line x1="334" y1="120.2" x2="338.9" y2="120.2" stroke="#1a1a1a" stroke-width="1" stroke-linecap="butt"/>
<text x="332.64" y="124.1" font-size="11.55" text-anchor="end" textLength="13.33" lengthAdjust="spacingAndGlyphs" fill="#000">10</text>
<line x1="334" y1="18.2" x2="338.9" y2="18.2" stroke="#1a1a1a" stroke-width="1" stroke-linecap="butt"/>
<text x="332.65" y="22" font-size="11.55" text-anchor="end" textLength="20.28" lengthAdjust="spacingAndGlyphs" fill="#000">100</text>
<line x1="335.4" y1="191.49" x2="338.9" y2="191.49" stroke="#1a1a1a" stroke-width="1" stroke-linecap="butt"/>
<line x1="335.4" y1="173.53" x2="338.9" y2="173.53" stroke="#1a1a1a" stroke-width="1" stroke-linecap="butt"/>
<line x1="335.4" y1="160.79" x2="338.9" y2="160.79" stroke="#1a1a1a" stroke-width="1" stroke-linecap="butt"/>
<line x1="335.4" y1="150.91" x2="338.9" y2="150.91" stroke="#1a1a1a" stroke-width="1" stroke-linecap="butt"/>
<line x1="335.4" y1="142.83" x2="338.9" y2="142.83" stroke="#1a1a1a" stroke-width="1" stroke-linecap="butt"/>
<line x1="335.4" y1="136" x2="338.9" y2="136" stroke="#1a1a1a" stroke-width="1" stroke-linecap="butt"/>
<line x1="335.4" y1="130.08" x2="338.9" y2="130.08" stroke="#1a1a1a" stroke-width="1" stroke-linecap="butt"/>
<line x1="335.4" y1="124.87" x2="338.9" y2="124.87" stroke="#1a1a1a" stroke-width="1" stroke-linecap="butt"/>
<line x1="335.4" y1="89.49" x2="338.9" y2="89.49" stroke="#1a1a1a" stroke-width="1" stroke-linecap="butt"/>
<line x1="335.4" y1="71.53" x2="338.9" y2="71.53" stroke="#1a1a1a" stroke-width="1" stroke-linecap="butt"/>
<line x1="335.4" y1="58.79" x2="338.9" y2="58.79" stroke="#1a1a1a" stroke-width="1" stroke-linecap="butt"/>
<line x1="335.4" y1="48.91" x2="338.9" y2="48.91" stroke="#1a1a1a" stroke-width="1" stroke-linecap="butt"/>
<line x1="335.4" y1="40.83" x2="338.9" y2="40.83" stroke="#1a1a1a" stroke-width="1" stroke-linecap="butt"/>
<line x1="335.4" y1="34" x2="338.9" y2="34" stroke="#1a1a1a" stroke-width="1" stroke-linecap="butt"/>
<line x1="335.4" y1="28.08" x2="338.9" y2="28.08" stroke="#1a1a1a" stroke-width="1" stroke-linecap="butt"/>
<line x1="335.4" y1="22.87" x2="338.9" y2="22.87" stroke="#1a1a1a" stroke-width="1" stroke-linecap="butt"/>
<line x1="360.1" y1="230.2" x2="360.1" y2="234.2" stroke="#1a1a1a" stroke-width="0.9" stroke-linecap="butt"/>
<text x="360.11" y="242.6" font-size="11.13" text-anchor="middle" textLength="53.76" lengthAdjust="spacingAndGlyphs" fill="#000">Disruptive</text>
<line x1="402.5" y1="230.2" x2="402.5" y2="234.2" stroke="#1a1a1a" stroke-width="0.9" stroke-linecap="butt"/>
<text x="402.48" y="242.6" font-size="11.13" text-anchor="middle" textLength="24.46" lengthAdjust="spacingAndGlyphs" fill="#000">Core</text>
<text x="310.2" y="125.06" font-size="13.67" text-anchor="middle" textLength="93.52" lengthAdjust="spacingAndGlyphs" fill="#000" transform="rotate(-90 310.2 125.06)">ncRNA density</text>
<line x1="358.3" y1="37.6" x2="403.8" y2="37.6" stroke="#000" stroke-width="1.2" stroke-linecap="butt"/>
<text x="354.44" y="32.3" font-size="10.21" text-anchor="start" textLength="47.72" lengthAdjust="spacingAndGlyphs" fill="#000">P= 1.7x10</text>
<text x="402.06" y="29" font-size="6.6" text-anchor="start" textLength="8.89" lengthAdjust="spacingAndGlyphs" fill="#000">-19</text>
<text x="299.55" y="8" font-size="12.72" text-anchor="start" textLength="6.61" lengthAdjust="spacingAndGlyphs" font-weight="bold" fill="#000">c</text>
<rect x="503.4" y="23.6" width="21.4" height="205.8" fill="#9fcd70" stroke="#000" stroke-width="1.3"/>
<rect x="503.4" y="128.56" width="21.4" height="100.84" fill="#d4549e" stroke="#000" stroke-width="1.3"/>
<rect x="530.88" y="23.6" width="21.4" height="205.8" fill="#9fcd70" stroke="#000" stroke-width="1.3"/>
<rect x="530.88" y="162.51" width="21.4" height="66.89" fill="#d4549e" stroke="#000" stroke-width="1.3"/>
<rect x="558.35" y="23.6" width="21.4" height="205.8" fill="#9fcd70" stroke="#000" stroke-width="1.3"/>
<rect x="558.35" y="164.98" width="21.4" height="64.42" fill="#d4549e" stroke="#000" stroke-width="1.3"/>
<rect x="585.83" y="23.6" width="21.4" height="205.8" fill="#9fcd70" stroke="#000" stroke-width="1.3"/>
<rect x="585.83" y="160.46" width="21.4" height="68.94" fill="#d4549e" stroke="#000" stroke-width="1.3"/>
<rect x="613.3" y="23.6" width="21.4" height="205.8" fill="#9fcd70" stroke="#000" stroke-width="1.3"/>
<rect x="613.3" y="33.07" width="21.4" height="196.33" fill="#d4549e" stroke="#000" stroke-width="1.3"/>
<rect x="496.8" y="13.4" width="145.3" height="216" fill="none" stroke="#000" stroke-width="1.3"/>
<line x1="492.4" y1="229.5" x2="496.8" y2="229.5" stroke="#000" stroke-width="1" stroke-linecap="butt"/>
<text x="487.68" y="234.6" font-size="13.46" text-anchor="end" textLength="7.45" lengthAdjust="spacingAndGlyphs" fill="#000">0</text>
<line x1="492.4" y1="188.5" x2="496.8" y2="188.5" stroke="#000" stroke-width="1" stroke-linecap="butt"/>
<text x="487.71" y="193.44" font-size="13.46" text-anchor="end" textLength="15.64" lengthAdjust="spacingAndGlyphs" fill="#000">20</text>
<line x1="492.4" y1="147.5" x2="496.8" y2="147.5" stroke="#000" stroke-width="1" stroke-linecap="butt"/>
<text x="487.7" y="152.28" font-size="13.46" text-anchor="end" textLength="15.56" lengthAdjust="spacingAndGlyphs" fill="#000">40</text>
<line x1="492.4" y1="105.5" x2="496.8" y2="105.5" stroke="#000" stroke-width="1" stroke-linecap="butt"/>
<text x="487.71" y="111.12" font-size="13.46" text-anchor="end" textLength="15.7" lengthAdjust="spacingAndGlyphs" fill="#000">60</text>
<line x1="492.4" y1="64.5" x2="496.8" y2="64.5" stroke="#000" stroke-width="1" stroke-linecap="butt"/>
<text x="487.7" y="69.96" font-size="13.46" text-anchor="end" textLength="15.61" lengthAdjust="spacingAndGlyphs" fill="#000">80</text>
<line x1="492.4" y1="23.5" x2="496.8" y2="23.5" stroke="#000" stroke-width="1" stroke-linecap="butt"/>
<text x="487.71" y="28.8" font-size="13.46" text-anchor="end" textLength="23.63" lengthAdjust="spacingAndGlyphs" fill="#000">100</text>
<line x1="514.1" y1="229.4" x2="514.1" y2="233.8" stroke="#000" stroke-width="1" stroke-linecap="butt"/>
<text x="517.8" y="239.71" font-size="13.78" text-anchor="end" textLength="27.13" lengthAdjust="spacingAndGlyphs" fill="#000" transform="rotate(-90 517.8 239.71)">CDS</text>
<line x1="541.58" y1="229.4" x2="541.58" y2="233.8" stroke="#000" stroke-width="1" stroke-linecap="butt"/>
<text x="545.28" y="239.63" font-size="13.78" text-anchor="end" textLength="25.41" lengthAdjust="spacingAndGlyphs" fill="#000" transform="rotate(-90 545.28 239.63)">TCP</text>
<line x1="569.05" y1="229.4" x2="569.05" y2="233.8" stroke="#000" stroke-width="1" stroke-linecap="butt"/>
<text x="572.75" y="239.62" font-size="13.78" text-anchor="end" textLength="35.2" lengthAdjust="spacingAndGlyphs" fill="#000" transform="rotate(-90 572.75 239.62)">TCHP</text>
<line x1="596.53" y1="229.4" x2="596.53" y2="233.8" stroke="#000" stroke-width="1" stroke-linecap="butt"/>
<text x="600.23" y="239.64" font-size="13.78" text-anchor="end" textLength="32.88" lengthAdjust="spacingAndGlyphs" fill="#000" transform="rotate(-90 600.23 239.64)">TCFP</text>
<line x1="624" y1="229.4" x2="624" y2="233.8" stroke="#000" stroke-width="1" stroke-linecap="butt"/>
<text x="627.7" y="239.8" font-size="13.78" text-anchor="end" textLength="18.2" lengthAdjust="spacingAndGlyphs" fill="#000" transform="rotate(-90 627.7 239.8)">MF</text>
<text x="463.4" y="121.07" font-size="13.78" text-anchor="middle" textLength="98.1" lengthAdjust="spacingAndGlyphs" fill="#000" transform="rotate(-90 463.4 121.07)">Distribution(%)</text>
<text x="448.77" y="8.8" font-size="12.72" text-anchor="start" textLength="8.54" lengthAdjust="spacingAndGlyphs" font-weight="bold" fill="#000">d</text>
<rect x="61.9" y="310.4" width="21.4" height="205.7" fill="#9fcd70" stroke="#000" stroke-width="1.3"/>
<rect x="61.9" y="310.4" width="21.4" height="205.7" fill="#d4549e" stroke="#000" stroke-width="1.3"/>
<rect x="88.85" y="310.4" width="21.4" height="205.7" fill="#9fcd70" stroke="#000" stroke-width="1.3"/>
<rect x="88.85" y="311.02" width="21.4" height="205.08" fill="#d4549e" stroke="#000" stroke-width="1.3"/>
<rect x="115.8" y="310.4" width="21.4" height="205.7" fill="#9fcd70" stroke="#000" stroke-width="1.3"/>
<rect x="115.8" y="311.84" width="21.4" height="204.26" fill="#d4549e" stroke="#000" stroke-width="1.3"/>
<rect x="142.75" y="310.4" width="21.4" height="205.7" fill="#9fcd70" stroke="#000" stroke-width="1.3"/>
<rect x="142.75" y="310.4" width="21.4" height="205.7" fill="#d4549e" stroke="#000" stroke-width="1.3"/>
<rect x="169.7" y="310.4" width="21.4" height="205.7" fill="#9fcd70" stroke="#000" stroke-width="1.3"/>
<rect x="169.7" y="310.4" width="21.4" height="205.7" fill="#d4549e" stroke="#000" stroke-width="1.3"/>
<rect x="196.65" y="310.4" width="21.4" height="205.7" fill="#9fcd70" stroke="#000" stroke-width="1.3"/>
<rect x="196.65" y="316.98" width="21.4" height="199.12" fill="#d4549e" stroke="#000" stroke-width="1.3"/>
<rect x="223.6" y="310.4" width="21.4" height="205.7" fill="#9fcd70" stroke="#000" stroke-width="1.3"/>
<rect x="223.6" y="322.54" width="21.4" height="193.56" fill="#d4549e" stroke="#000" stroke-width="1.3"/>
<rect x="250.55" y="310.4" width="21.4" height="205.7" fill="#9fcd70" stroke="#000" stroke-width="1.3"/>
<rect x="250.55" y="323.98" width="21.4" height="192.12" fill="#d4549e" stroke="#000" stroke-width="1.3"/>
<rect x="277.5" y="310.4" width="21.4" height="205.7" fill="#9fcd70" stroke="#000" stroke-width="1.3"/>
<rect x="277.5" y="330.97" width="21.4" height="185.13" fill="#d4549e" stroke="#000" stroke-width="1.3"/>
<rect x="304.45" y="310.4" width="21.4" height="205.7" fill="#9fcd70" stroke="#000" stroke-width="1.3"/>
<rect x="304.45" y="348.66" width="21.4" height="167.44" fill="#d4549e" stroke="#000" stroke-width="1.3"/>
<rect x="49.1" y="300.3" width="289.9" height="215.8" fill="none" stroke="#000" stroke-width="1.3"/>
<line x1="44.7" y1="516.5" x2="49.1" y2="516.5" stroke="#000" stroke-width="1" stroke-linecap="butt"/>
<text x="39.38" y="521.3" font-size="13.46" text-anchor="end" textLength="7.45" lengthAdjust="spacingAndGlyphs" fill="#000">0</text>
<line x1="44.7" y1="474.5" x2="49.1" y2="474.5" stroke="#000" stroke-width="1" stroke-linecap="butt"/>
<text x="39.41" y="480.16" font-size="13.46" text-anchor="end" textLength="15.64" lengthAdjust="spacingAndGlyphs" fill="#000">20</text>
<line x1="44.7" y1="433.5" x2="49.1" y2="433.5" stroke="#000" stroke-width="1" stroke-linecap="butt"/>
<text x="39.4" y="439.02" font-size="13.46" text-anchor="end" textLength="15.56" lengthAdjust="spacingAndGlyphs" fill="#000">40</text>
<line x1="44.7" y1="392.5" x2="49.1" y2="392.5" stroke="#000" stroke-width="1" stroke-linecap="butt"/>
<text x="39.41" y="397.88" font-size="13.46" text-anchor="end" textLength="15.7" lengthAdjust="spacingAndGlyphs" fill="#000">60</text>
<line x1="44.7" y1="351.5" x2="49.1" y2="351.5" stroke="#000" stroke-width="1" stroke-linecap="butt"/>
<text x="39.4" y="356.74" font-size="13.46" text-anchor="end" textLength="15.61" lengthAdjust="spacingAndGlyphs" fill="#000">80</text>
<line x1="44.7" y1="310.5" x2="49.1" y2="310.5" stroke="#000" stroke-width="1" stroke-linecap="butt"/>
<text x="39.41" y="315.6" font-size="13.46" text-anchor="end" textLength="23.63" lengthAdjust="spacingAndGlyphs" fill="#000">100</text>
<line x1="72.6" y1="516.1" x2="72.6" y2="520.5" stroke="#000" stroke-width="1" stroke-linecap="butt"/>
<text x="76.6" y="525.35" font-size="13.78" text-anchor="end" textLength="39.78" lengthAdjust="spacingAndGlyphs" fill="#000" transform="rotate(-90 76.6 525.35)">DGF-1</text>
<line x1="99.55" y1="516.1" x2="99.55" y2="520.5" stroke="#000" stroke-width="1" stroke-linecap="butt"/>
<text x="103.55" y="525.49" font-size="13.78" text-anchor="end" textLength="45.04" lengthAdjust="spacingAndGlyphs" fill="#000" transform="rotate(-90 103.55 525.49)">TcMUC</text>
<line x1="126.5" y1="516.1" x2="126.5" y2="520.5" stroke="#000" stroke-width="1" stroke-linecap="butt"/>
<text x="130.5" y="525.33" font-size="13.78" text-anchor="end" textLength="36.2" lengthAdjust="spacingAndGlyphs" fill="#000" transform="rotate(-90 130.5 525.33)">MASP</text>
<line x1="153.45" y1="516.1" x2="153.45" y2="520.5" stroke="#000" stroke-width="1" stroke-linecap="butt"/>
<text x="157.45" y="525.01" font-size="13.78" text-anchor="end" textLength="54.4" lengthAdjust="spacingAndGlyphs" fill="#000" transform="rotate(-90 157.45 525.01)">TcSMUG</text>
<line x1="180.4" y1="516.1" x2="180.4" y2="520.5" stroke="#000" stroke-width="1" stroke-linecap="butt"/>
<text x="184.4" y="525.94" font-size="13.78" text-anchor="end" textLength="49.35" lengthAdjust="spacingAndGlyphs" fill="#000" transform="rotate(-90 184.4 525.94)">TcTASV</text>
<line x1="207.35" y1="516.1" x2="207.35" y2="520.5" stroke="#000" stroke-width="1" stroke-linecap="butt"/>
<text x="211.35" y="525.42" font-size="13.78" text-anchor="end" textLength="33.93" lengthAdjust="spacingAndGlyphs" fill="#000" transform="rotate(-90 211.35 525.42)">GP63</text>
<line x1="234.3" y1="516.1" x2="234.3" y2="520.5" stroke="#000" stroke-width="1" stroke-linecap="butt"/>
<text x="238.3" y="525.34" font-size="13.78" text-anchor="end" textLength="24.9" lengthAdjust="spacingAndGlyphs" fill="#000" transform="rotate(-90 238.3 525.34)">SAP</text>
<line x1="261.25" y1="516.1" x2="261.25" y2="520.5" stroke="#000" stroke-width="1" stroke-linecap="butt"/>
<text x="265.25" y="525.41" font-size="13.78" text-anchor="end" textLength="16.38" lengthAdjust="spacingAndGlyphs" fill="#000" transform="rotate(-90 265.25 525.41)">TS</text>
<line x1="288.2" y1="516.1" x2="288.2" y2="520.5" stroke="#000" stroke-width="1" stroke-linecap="butt"/>
<text x="292.2" y="525.7" font-size="13.78" text-anchor="end" textLength="18.29" lengthAdjust="spacingAndGlyphs" fill="#000" transform="rotate(-90 292.2 525.7)">GT</text>
<line x1="315.15" y1="516.1" x2="315.15" y2="520.5" stroke="#000" stroke-width="1" stroke-linecap="butt"/>
<text x="319.15" y="525.42" font-size="13.78" text-anchor="end" textLength="26.68" lengthAdjust="spacingAndGlyphs" fill="#000" transform="rotate(-90 319.15 525.42)">RHS</text>
<text x="10.6" y="416.07" font-size="13.78" text-anchor="middle" textLength="98.1" lengthAdjust="spacingAndGlyphs" fill="#000" transform="rotate(-90 10.6 416.07)">Distribution(%)</text>
<text x="-0.65" y="292.5" font-size="12.72" text-anchor="start" textLength="8.11" lengthAdjust="spacingAndGlyphs" font-weight="bold" fill="#000">e</text>
<rect x="411.3" y="306.3" width="23.2" height="205.7" fill="#9fcd70" stroke="#000" stroke-width="1.3"/>
<rect x="411.3" y="323.58" width="23.2" height="188.42" fill="#d4549e" stroke="#000" stroke-width="1.3"/>
<rect x="440.85" y="306.3" width="23.2" height="205.7" fill="#9fcd70" stroke="#000" stroke-width="1.3"/>
<rect x="440.85" y="369.45" width="23.2" height="142.55" fill="#d4549e" stroke="#000" stroke-width="1.3"/>
<rect x="470.4" y="306.3" width="23.2" height="205.7" fill="#9fcd70" stroke="#000" stroke-width="1.3"/>
<rect x="470.4" y="326.25" width="23.2" height="185.75" fill="#d4549e" stroke="#000" stroke-width="1.3"/>
<rect x="499.95" y="306.3" width="23.2" height="205.7" fill="#9fcd70" stroke="#000" stroke-width="1.3"/>
<rect x="499.95" y="350.73" width="23.2" height="161.27" fill="#d4549e" stroke="#000" stroke-width="1.3"/>
<rect x="529.5" y="306.3" width="23.2" height="205.7" fill="#9fcd70" stroke="#000" stroke-width="1.3"/>
<rect x="529.5" y="306.3" width="23.2" height="205.7" fill="#d4549e" stroke="#000" stroke-width="1.3"/>
<rect x="559.05" y="306.3" width="23.2" height="205.7" fill="#9fcd70" stroke="#000" stroke-width="1.3"/>
<rect x="559.05" y="311.24" width="23.2" height="200.76" fill="#d4549e" stroke="#000" stroke-width="1.3"/>
<rect x="588.6" y="306.3" width="23.2" height="205.7" fill="#9fcd70" stroke="#000" stroke-width="1.3"/>
<rect x="588.6" y="306.3" width="23.2" height="205.7" fill="#d4549e" stroke="#000" stroke-width="1.3"/>
<rect x="618.15" y="306.3" width="23.2" height="205.7" fill="#9fcd70" stroke="#000" stroke-width="1.3"/>
<rect x="618.15" y="313.5" width="23.2" height="198.5" fill="#d4549e" stroke="#000" stroke-width="1.3"/>
<rect x="647.7" y="306.3" width="23.2" height="205.7" fill="#9fcd70" stroke="#000" stroke-width="1.3"/>
<rect x="647.7" y="317.41" width="23.2" height="194.59" fill="#d4549e" stroke="#000" stroke-width="1.3"/>
<rect x="398.2" y="295.9" width="286.2" height="216.1" fill="none" stroke="#000" stroke-width="1.3"/>
<line x1="393.8" y1="512.5" x2="398.2" y2="512.5" stroke="#000" stroke-width="1" stroke-linecap="butt"/>
<text x="388.98" y="517.2" font-size="13.46" text-anchor="end" textLength="7.45" lengthAdjust="spacingAndGlyphs" fill="#000">0</text>
<line x1="393.8" y1="470.5" x2="398.2" y2="470.5" stroke="#000" stroke-width="1" stroke-linecap="butt"/>
<text x="389.01" y="476.06" font-size="13.46" text-anchor="end" textLength="15.64" lengthAdjust="spacingAndGlyphs" fill="#000">20</text>
<line x1="393.8" y1="429.5" x2="398.2" y2="429.5" stroke="#000" stroke-width="1" stroke-linecap="butt"/>
<text x="389" y="434.92" font-size="13.46" text-anchor="end" textLength="15.56" lengthAdjust="spacingAndGlyphs" fill="#000">40</text>
<line x1="393.8" y1="388.5" x2="398.2" y2="388.5" stroke="#000" stroke-width="1" stroke-linecap="butt"/>
<text x="389.01" y="393.78" font-size="13.46" text-anchor="end" textLength="15.7" lengthAdjust="spacingAndGlyphs" fill="#000">60</text>
<line x1="393.8" y1="347.5" x2="398.2" y2="347.5" stroke="#000" stroke-width="1" stroke-linecap="butt"/>
<text x="389" y="352.64" font-size="13.46" text-anchor="end" textLength="15.61" lengthAdjust="spacingAndGlyphs" fill="#000">80</text>
<line x1="393.8" y1="306.5" x2="398.2" y2="306.5" stroke="#000" stroke-width="1" stroke-linecap="butt"/>
<text x="389.01" y="311.5" font-size="13.46" text-anchor="end" textLength="23.63" lengthAdjust="spacingAndGlyphs" fill="#000">100</text>
<line x1="422.9" y1="512" x2="422.9" y2="516.4" stroke="#000" stroke-width="1" stroke-linecap="butt"/>
<text x="426.6" y="521.38" font-size="13.78" text-anchor="end" textLength="95.69" lengthAdjust="spacingAndGlyphs" fill="#000" transform="rotate(-90 426.6 521.38)">TS-unspecified</text>
<line x1="452.45" y1="512" x2="452.45" y2="516.4" stroke="#000" stroke-width="1" stroke-linecap="butt"/>
<text x="456.15" y="521.09" font-size="13.78" text-anchor="end" textLength="35.06" lengthAdjust="spacingAndGlyphs" fill="#000" transform="rotate(-90 456.15 521.09)">TS-GI</text>
<line x1="482" y1="512" x2="482" y2="516.4" stroke="#000" stroke-width="1" stroke-linecap="butt"/>
<text x="485.7" y="521.08" font-size="13.78" text-anchor="end" textLength="38.9" lengthAdjust="spacingAndGlyphs" fill="#000" transform="rotate(-90 485.7 521.08)">TS-GII</text>
<line x1="511.55" y1="512" x2="511.55" y2="516.4" stroke="#000" stroke-width="1" stroke-linecap="butt"/>
<text x="515.25" y="521.08" font-size="13.78" text-anchor="end" textLength="42.74" lengthAdjust="spacingAndGlyphs" fill="#000" transform="rotate(-90 515.25 521.08)">TS-GIII</text>
<line x1="541.1" y1="512" x2="541.1" y2="516.4" stroke="#000" stroke-width="1" stroke-linecap="butt"/>
<text x="544.8" y="522.24" font-size="13.78" text-anchor="end" textLength="43.97" lengthAdjust="spacingAndGlyphs" fill="#000" transform="rotate(-90 544.8 522.24)">TS-GIV</text>
<line x1="570.65" y1="512" x2="570.65" y2="516.4" stroke="#000" stroke-width="1" stroke-linecap="butt"/>
<text x="574.35" y="522.24" font-size="13.78" text-anchor="end" textLength="40.13" lengthAdjust="spacingAndGlyphs" fill="#000" transform="rotate(-90 574.35 522.24)">TS-GV</text>
<line x1="600.2" y1="512" x2="600.2" y2="516.4" stroke="#000" stroke-width="1" stroke-linecap="butt"/>
<text x="603.9" y="521.08" font-size="13.78" text-anchor="end" textLength="43.96" lengthAdjust="spacingAndGlyphs" fill="#000" transform="rotate(-90 603.9 521.08)">TS-GVI</text>
<line x1="629.75" y1="512" x2="629.75" y2="516.4" stroke="#000" stroke-width="1" stroke-linecap="butt"/>
<text x="633.45" y="521.08" font-size="13.78" text-anchor="end" textLength="47.8" lengthAdjust="spacingAndGlyphs" fill="#000" transform="rotate(-90 633.45 521.08)">TS-GVII</text>
<line x1="659.3" y1="512" x2="659.3" y2="516.4" stroke="#000" stroke-width="1" stroke-linecap="butt"/>
<text x="663" y="521.07" font-size="13.78" text-anchor="end" textLength="51.64" lengthAdjust="spacingAndGlyphs" fill="#000" transform="rotate(-90 663 521.07)">TS-GVIII</text>
<text x="357" y="402.57" font-size="13.78" text-anchor="middle" textLength="98.1" lengthAdjust="spacingAndGlyphs" fill="#000" transform="rotate(-90 357 402.57)">Distribution(%)</text>
<text x="348.45" y="292.5" font-size="12.72" text-anchor="start" textLength="5.34" lengthAdjust="spacingAndGlyphs" font-weight="bold" fill="#000">f</text>
<rect x="151" y="638.1" width="27" height="205.7" fill="#9fcd70" stroke="#000" stroke-width="1.3"/>
<rect x="151" y="709.07" width="27" height="134.73" fill="#d4549e" stroke="#000" stroke-width="1.3"/>
<rect x="185.15" y="638.1" width="27" height="205.7" fill="#9fcd70" stroke="#000" stroke-width="1.3"/>
<rect x="185.15" y="681.5" width="27" height="162.3" fill="#d4549e" stroke="#000" stroke-width="1.3"/>
<rect x="219.3" y="638.1" width="27" height="205.7" fill="#9fcd70" stroke="#000" stroke-width="1.3"/>
<rect x="219.3" y="696.52" width="27" height="147.28" fill="#d4549e" stroke="#000" stroke-width="1.3"/>
<rect x="253.45" y="638.1" width="27" height="205.7" fill="#9fcd70" stroke="#000" stroke-width="1.3"/>
<rect x="253.45" y="651.47" width="27" height="192.33" fill="#d4549e" stroke="#000" stroke-width="1.3"/>
<rect x="287.6" y="638.1" width="27" height="205.7" fill="#9fcd70" stroke="#000" stroke-width="1.3"/>
<rect x="287.6" y="653.94" width="27" height="189.86" fill="#d4549e" stroke="#000" stroke-width="1.3"/>
<rect x="321.75" y="638.1" width="27" height="205.7" fill="#9fcd70" stroke="#000" stroke-width="1.3"/>
<rect x="321.75" y="638.1" width="27" height="205.7" fill="#d4549e" stroke="#000" stroke-width="1.3"/>
<rect x="141.2" y="627.8" width="217.2" height="216" fill="none" stroke="#000" stroke-width="1.3"/>
<line x1="136.8" y1="843.5" x2="141.2" y2="843.5" stroke="#000" stroke-width="1" stroke-linecap="butt"/>
<text x="131.98" y="849" font-size="13.46" text-anchor="end" textLength="7.45" lengthAdjust="spacingAndGlyphs" fill="#000">0</text>
<line x1="136.8" y1="802.5" x2="141.2" y2="802.5" stroke="#000" stroke-width="1" stroke-linecap="butt"/>
<text x="132.01" y="807.86" font-size="13.46" text-anchor="end" textLength="15.64" lengthAdjust="spacingAndGlyphs" fill="#000">20</text>
<line x1="136.8" y1="761.5" x2="141.2" y2="761.5" stroke="#000" stroke-width="1" stroke-linecap="butt"/>
<text x="132" y="766.72" font-size="13.46" text-anchor="end" textLength="15.56" lengthAdjust="spacingAndGlyphs" fill="#000">40</text>
<line x1="136.8" y1="720.5" x2="141.2" y2="720.5" stroke="#000" stroke-width="1" stroke-linecap="butt"/>
<text x="132.01" y="725.58" font-size="13.46" text-anchor="end" textLength="15.7" lengthAdjust="spacingAndGlyphs" fill="#000">60</text>
<line x1="136.8" y1="679.5" x2="141.2" y2="679.5" stroke="#000" stroke-width="1" stroke-linecap="butt"/>
<text x="132" y="684.44" font-size="13.46" text-anchor="end" textLength="15.61" lengthAdjust="spacingAndGlyphs" fill="#000">80</text>
<line x1="136.8" y1="638.5" x2="141.2" y2="638.5" stroke="#000" stroke-width="1" stroke-linecap="butt"/>
<text x="132.01" y="643.3" font-size="13.46" text-anchor="end" textLength="23.63" lengthAdjust="spacingAndGlyphs" fill="#000">100</text>
<line x1="164.5" y1="843.8" x2="164.5" y2="848.2" stroke="#000" stroke-width="1" stroke-linecap="butt"/>
<text x="168.2" y="851.67" font-size="13.78" text-anchor="end" textLength="28.73" lengthAdjust="spacingAndGlyphs" fill="#000" transform="rotate(-90 168.2 851.67)">SIRE</text>
<line x1="198.65" y1="843.8" x2="198.65" y2="848.2" stroke="#000" stroke-width="1" stroke-linecap="butt"/>
<text x="202.35" y="851.61" font-size="13.78" text-anchor="end" textLength="37.98" lengthAdjust="spacingAndGlyphs" fill="#000" transform="rotate(-90 202.35 851.61)">VIPER</text>
<line x1="232.8" y1="843.8" x2="232.8" y2="848.2" stroke="#000" stroke-width="1" stroke-linecap="butt"/>
<text x="236.5" y="851.86" font-size="13.78" text-anchor="end" textLength="42.07" lengthAdjust="spacingAndGlyphs" fill="#000" transform="rotate(-90 236.5 851.86)">NARTc</text>
<line x1="266.95" y1="843.8" x2="266.95" y2="848.2" stroke="#000" stroke-width="1" stroke-linecap="butt"/>
<text x="270.65" y="851.84" font-size="13.78" text-anchor="end" textLength="29.98" lengthAdjust="spacingAndGlyphs" fill="#000" transform="rotate(-90 270.65 851.84)">L1Tc</text>
<line x1="301.1" y1="843.8" x2="301.1" y2="848.2" stroke="#000" stroke-width="1" stroke-linecap="butt"/>
<text x="304.8" y="851.09" font-size="13.78" text-anchor="end" textLength="55.07" lengthAdjust="spacingAndGlyphs" fill="#000" transform="rotate(-90 304.8 851.09)">RNase H</text>
<line x1="335.25" y1="843.8" x2="335.25" y2="848.2" stroke="#000" stroke-width="1" stroke-linecap="butt"/>
<text x="338.95" y="851.58" font-size="13.78" text-anchor="end" textLength="36.09" lengthAdjust="spacingAndGlyphs" fill="#000" transform="rotate(-90 338.95 851.58)">CZAR</text>
<text x="100.6" y="727.47" font-size="13.78" text-anchor="middle" textLength="98.1" lengthAdjust="spacingAndGlyphs" fill="#000" transform="rotate(-90 100.6 727.47)">Distribution(%)</text>
<text x="87.16" y="623.6" font-size="12.72" text-anchor="start" textLength="8.55" lengthAdjust="spacingAndGlyphs" font-weight="bold" fill="#000">g</text>
<rect x="443.5" y="639.7" width="26.4" height="205.3" fill="#9fcd70" stroke="#000" stroke-width="1.3"/>
<rect x="443.5" y="787.31" width="26.4" height="57.69" fill="#d4549e" stroke="#000" stroke-width="1.3"/>
<rect x="477.25" y="639.7" width="26.4" height="205.3" fill="#9fcd70" stroke="#000" stroke-width="1.3"/>
<rect x="477.25" y="790.6" width="26.4" height="54.4" fill="#d4549e" stroke="#000" stroke-width="1.3"/>
<rect x="511" y="639.7" width="26.4" height="205.3" fill="#9fcd70" stroke="#000" stroke-width="1.3"/>
<rect x="511" y="662.08" width="26.4" height="182.92" fill="#d4549e" stroke="#000" stroke-width="1.3"/>
<rect x="544.75" y="639.7" width="26.4" height="205.3" fill="#9fcd70" stroke="#000" stroke-width="1.3"/>
<rect x="544.75" y="664.95" width="26.4" height="180.05" fill="#d4549e" stroke="#000" stroke-width="1.3"/>
<rect x="436.6" y="628.9" width="141.3" height="216.1" fill="none" stroke="#000" stroke-width="1.3"/>
<line x1="432.2" y1="845.5" x2="436.6" y2="845.5" stroke="#000" stroke-width="1" stroke-linecap="butt"/>
<text x="427.28" y="850.2" font-size="13.46" text-anchor="end" textLength="7.45" lengthAdjust="spacingAndGlyphs" fill="#000">0</text>
<line x1="432.2" y1="803.5" x2="436.6" y2="803.5" stroke="#000" stroke-width="1" stroke-linecap="butt"/>
<text x="427.31" y="809.14" font-size="13.46" text-anchor="end" textLength="15.64" lengthAdjust="spacingAndGlyphs" fill="#000">20</text>
<line x1="432.2" y1="762.5" x2="436.6" y2="762.5" stroke="#000" stroke-width="1" stroke-linecap="butt"/>
<text x="427.3" y="768.08" font-size="13.46" text-anchor="end" textLength="15.56" lengthAdjust="spacingAndGlyphs" fill="#000">40</text>
<line x1="432.2" y1="721.5" x2="436.6" y2="721.5" stroke="#000" stroke-width="1" stroke-linecap="butt"/>
<text x="427.31" y="727.02" font-size="13.46" text-anchor="end" textLength="15.7" lengthAdjust="spacingAndGlyphs" fill="#000">60</text>
<line x1="432.2" y1="680.5" x2="436.6" y2="680.5" stroke="#000" stroke-width="1" stroke-linecap="butt"/>
<text x="427.3" y="685.96" font-size="13.46" text-anchor="end" textLength="15.61" lengthAdjust="spacingAndGlyphs" fill="#000">80</text>
<line x1="432.2" y1="639.5" x2="436.6" y2="639.5" stroke="#000" stroke-width="1" stroke-linecap="butt"/>
<text x="427.31" y="644.9" font-size="13.46" text-anchor="end" textLength="23.63" lengthAdjust="spacingAndGlyphs" fill="#000">100</text>
<line x1="456.7" y1="845" x2="456.7" y2="849.4" stroke="#000" stroke-width="1" stroke-linecap="butt"/>
<text x="460.4" y="853.47" font-size="13.78" text-anchor="end" textLength="32.52" lengthAdjust="spacingAndGlyphs" fill="#000" transform="rotate(-90 460.4 853.47)">tRNA</text>
<line x1="490.45" y1="845" x2="490.45" y2="849.4" stroke="#000" stroke-width="1" stroke-linecap="butt"/>
<text x="494.15" y="853.47" font-size="13.78" text-anchor="end" textLength="42.25" lengthAdjust="spacingAndGlyphs" fill="#000" transform="rotate(-90 494.15 853.47)">snRNA</text>
<line x1="524.2" y1="845" x2="524.2" y2="849.4" stroke="#000" stroke-width="1" stroke-linecap="butt"/>
<text x="527.9" y="853.47" font-size="13.78" text-anchor="end" textLength="32.62" lengthAdjust="spacingAndGlyphs" fill="#000" transform="rotate(-90 527.9 853.47)">rRNA</text>
<line x1="557.95" y1="845" x2="557.95" y2="849.4" stroke="#000" stroke-width="1" stroke-linecap="butt"/>
<text x="561.65" y="853.47" font-size="13.78" text-anchor="end" textLength="50.21" lengthAdjust="spacingAndGlyphs" fill="#000" transform="rotate(-90 561.65 853.47)">snoRNA</text>
<text x="399.2" y="736.77" font-size="13.78" text-anchor="middle" textLength="98.1" lengthAdjust="spacingAndGlyphs" fill="#000" transform="rotate(-90 399.2 736.77)">Distribution(%)</text>
<text x="380.05" y="626.5" font-size="12.72" text-anchor="start" textLength="8.41" lengthAdjust="spacingAndGlyphs" font-weight="bold" fill="#000">h</text>
</svg>
</body></html>
